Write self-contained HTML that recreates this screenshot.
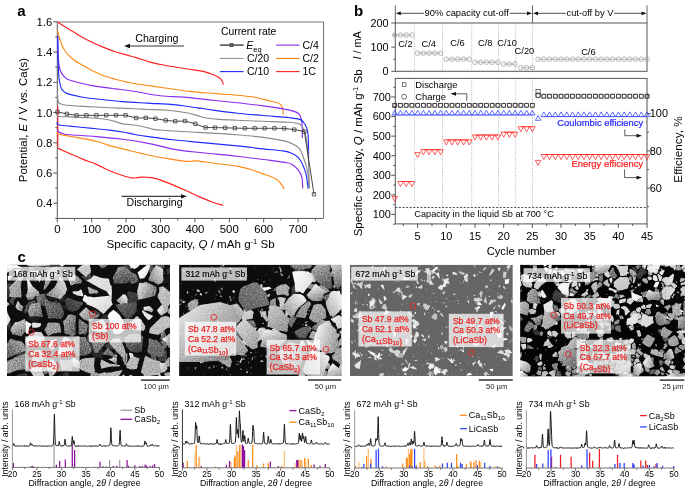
<!DOCTYPE html>
<html><head><meta charset="utf-8"><style>
html,body{margin:0;padding:0;background:#fff;width:685px;height:490px;overflow:hidden}
svg{display:block;will-change:transform}
text{font-family:"Liberation Sans", sans-serif}
</style></head><body>
<svg width="685" height="490" viewBox="0 0 685 490" font-family="Liberation Sans, sans-serif">
<rect width="685" height="490" fill="#fff"/>
<g id="pa">
<text x="17.2" y="16.2" font-size="15" font-weight="bold">a</text>
<path d="M57.3,22.0 H323.6" stroke="#a3a3a3" stroke-width="1.7" fill="none"/>
<path d="M323.6,22 V218.4" stroke="#6a6a6a" stroke-width="1" fill="none"/>
<path d="M57.3,21.8 V218.4 H323.4" fill="none" stroke="#555" stroke-width="1"/>
<text x="52.4" y="207.34" font-size="11.4" text-anchor="end">0.4</text>
<text x="52.4" y="177.1" font-size="11.4" text-anchor="end">0.6</text>
<text x="52.4" y="146.86" font-size="11.4" text-anchor="end">0.8</text>
<text x="52.4" y="116.62" font-size="11.4" text-anchor="end">1.0</text>
<text x="52.4" y="86.38" font-size="11.4" text-anchor="end">1.2</text>
<text x="52.4" y="56.14" font-size="11.4" text-anchor="end">1.4</text>
<text x="52.4" y="25.9" font-size="11.4" text-anchor="end">1.6</text>
<text x="57.3" y="232.7" font-size="11.4" text-anchor="middle">0</text>
<text x="91.7" y="232.7" font-size="11.4" text-anchor="middle">100</text>
<text x="126.1" y="232.7" font-size="11.4" text-anchor="middle">200</text>
<text x="160.5" y="232.7" font-size="11.4" text-anchor="middle">300</text>
<text x="194.9" y="232.7" font-size="11.4" text-anchor="middle">400</text>
<text x="229.3" y="232.7" font-size="11.4" text-anchor="middle">500</text>
<text x="263.7" y="232.7" font-size="11.4" text-anchor="middle">600</text>
<text x="298.1" y="232.7" font-size="11.4" text-anchor="middle">700</text>
<path d="M55.3,218.36 H57.3 M53.3,203.24 H57.3 M55.3,188.12 H57.3 M53.3,173 H57.3 M55.3,157.88 H57.3 M53.3,142.76 H57.3 M55.3,127.64 H57.3 M53.3,112.52 H57.3 M55.3,97.4 H57.3 M53.3,82.28 H57.3 M55.3,67.16 H57.3 M53.3,52.04 H57.3 M55.3,36.92 H57.3 M53.3,21.8 H57.3 M57.3,218.4 V222.4 M74.5,218.4 V220.4 M91.7,218.4 V222.4 M108.9,218.4 V220.4 M126.1,218.4 V222.4 M143.3,218.4 V220.4 M160.5,218.4 V222.4 M177.7,218.4 V220.4 M194.9,218.4 V222.4 M212.1,218.4 V220.4 M229.3,218.4 V222.4 M246.5,218.4 V220.4 M263.7,218.4 V222.4 M280.9,218.4 V220.4 M298.1,218.4 V222.4 M315.3,218.4 V220.4" stroke="#555" stroke-width="1" fill="none"/>
<text x="190.6" y="247.7" font-size="11.6" text-anchor="middle">Specific capacity, <tspan font-style="italic">Q</tspan> / mAh g<tspan font-size="7.5" dy="-4">-1</tspan><tspan dy="4"> Sb</tspan></text>
<g transform="translate(26.5,120.1) rotate(-90)"><text x="0" y="0" font-size="11.4" text-anchor="middle">Potential, <tspan font-style="italic">E</tspan> / V vs. Ca(s)</text></g>
<path d="M57.8,106 V147" stroke="#ff1f1f" stroke-width="1.1" fill="none"/>
<path d="M57.3,22.1 C58.17,22.62 60.6,24.07 62.5,25.2 C64.4,26.33 65.72,27.07 68.7,28.9 C71.68,30.73 76.52,33.98 80.4,36.2 C84.28,38.42 88.12,40.33 92,42.2 C95.88,44.07 99.8,45.8 103.7,47.4 C107.6,49 111.5,50.52 115.4,51.8 C119.3,53.08 123.5,54.08 127.1,55.1 C130.7,56.12 133.17,56.73 137,57.9 C140.83,59.07 145.72,60.92 150.1,62.1 C154.48,63.28 158.92,64.13 163.3,65 C167.68,65.87 172.02,66.58 176.4,67.3 C180.78,68.02 185.22,68.62 189.6,69.3 C193.98,69.98 199.2,70.65 202.7,71.4 C206.2,72.15 208.18,72.95 210.6,73.8 C213.02,74.65 215.45,75.57 217.2,76.5 C218.95,77.43 220.05,78.08 221.1,79.4 C222.15,80.72 223.1,83.57 223.5,84.4" stroke="#ff1f1f" stroke-width="1.15" fill="none" stroke-linejoin="round"/>
<path d="M57.5,30.6 C57.75,31.58 58.5,34.77 59,36.5 C59.5,38.23 59.92,39.38 60.5,41 C61.08,42.62 61.82,44.67 62.5,46.2 C63.18,47.73 63.57,48.68 64.6,50.2 C65.63,51.72 67.13,53.67 68.7,55.3 C70.27,56.93 72.05,58.55 74,60 C75.95,61.45 77.4,62.27 80.4,64 C83.4,65.73 88.12,68.45 92,70.4 C95.88,72.35 99.8,74.23 103.7,75.7 C107.6,77.17 111.5,78.13 115.4,79.2 C119.3,80.27 123.5,81.3 127.1,82.1 C130.7,82.9 130.97,83.07 137,84 C143.03,84.93 154.53,86.47 163.3,87.7 C172.07,88.93 180.85,90.42 189.6,91.4 C198.35,92.38 207.9,92.95 215.8,93.6 C223.7,94.25 230.47,94.68 237,95.3 C243.53,95.92 250.4,96.58 255,97.3 C259.6,98.02 261.77,98.9 264.6,99.6 C267.43,100.3 269.6,100.88 272,101.5 C274.4,102.12 277.28,102.35 279,103.3 C280.72,104.25 281.58,105.33 282.3,107.2 C283.02,109.07 283.13,113.28 283.3,114.5" stroke="#ff8a14" stroke-width="1.15" fill="none" stroke-linejoin="round"/>
<path d="M57.7,37 C57.75,39.5 57.82,47.67 58,52 C58.18,56.33 58.47,60.08 58.8,63 C59.13,65.92 59.52,67.77 60,69.5 C60.48,71.23 60.83,72.05 61.7,73.4 C62.57,74.75 64.03,76.53 65.2,77.6 C66.37,78.67 66.17,78.9 68.7,79.8 C71.23,80.7 76.52,82.03 80.4,83 C84.28,83.97 88.12,84.87 92,85.6 C95.88,86.33 99.8,86.85 103.7,87.4 C107.6,87.95 111.5,88.42 115.4,88.9 C119.3,89.38 123.5,89.82 127.1,90.3 C130.7,90.78 131.5,90.9 137,91.8 C142.5,92.7 151.87,94.77 160.1,95.7 C168.33,96.63 177.63,96.63 186.4,97.4 C195.17,98.17 204.27,99.4 212.7,100.3 C221.13,101.2 228.57,101.87 237,102.8 C245.43,103.73 255.63,104.88 263.3,105.9 C270.97,106.92 277.75,107.95 283,108.9 C288.25,109.85 292.17,110.78 294.8,111.6 C297.43,112.42 297.8,112.82 298.8,113.8 C299.8,114.78 300.28,115.97 300.8,117.5 C301.32,119.03 301.65,120.92 301.9,123 C302.15,125.08 302.23,127.48 302.3,130 C302.37,132.52 302.3,136.75 302.3,138.1" stroke="#8a2cf0" stroke-width="1.15" fill="none" stroke-linejoin="round"/>
<path d="M57.7,36 C57.77,40 57.92,53.33 58.1,60 C58.28,66.67 58.48,72 58.8,76 C59.12,80 59.52,81.82 60,84 C60.48,86.18 60.83,87.67 61.7,89.1 C62.57,90.53 64.03,91.77 65.2,92.6 C66.37,93.43 66.17,93.42 68.7,94.1 C71.23,94.78 76.52,95.97 80.4,96.7 C84.28,97.43 88.12,98 92,98.5 C95.88,99 98.58,99.18 103.7,99.7 C108.82,100.22 115.48,101.03 122.7,101.6 C129.92,102.17 138.57,102.6 147,103.1 C155.43,103.6 166.73,104.08 173.3,104.6 C179.87,105.12 182.02,105.62 186.4,106.2 C190.78,106.78 195.22,107.45 199.6,108.1 C203.98,108.75 206.47,109.25 212.7,110.1 C218.93,110.95 228.57,112.3 237,113.2 C245.43,114.1 254.53,114.75 263.3,115.5 C272.07,116.25 283.47,117.05 289.6,117.7 C295.73,118.35 297.7,118.52 300.1,119.4 C302.5,120.28 302.92,121.63 304,123 C305.08,124.37 305.93,125.73 306.6,127.6 C307.27,129.47 307.68,131.3 308,134.2 C308.32,137.1 308.4,141.03 308.5,145 C308.6,148.97 308.58,155.83 308.6,158" stroke="#1f2cff" stroke-width="1.15" fill="none" stroke-linejoin="round"/>
<path d="M57.6,95 C57.65,95.75 57.73,98.27 57.9,99.5 C58.07,100.73 58.17,101.68 58.6,102.4 C59.03,103.12 59.67,103.42 60.5,103.8 C61.33,104.18 62,104.42 63.6,104.7 C65.2,104.98 66.82,105.22 70.1,105.5 C73.38,105.78 76.72,106.03 83.3,106.4 C89.88,106.77 100.85,107.3 109.6,107.7 C118.35,108.1 129.57,108.5 135.8,108.8 C142.03,109.1 141.85,109.27 147,109.5 C152.15,109.73 160.13,109.67 166.7,110.2 C173.27,110.73 181.37,111.83 186.4,112.7 C191.43,113.57 193.62,114.52 196.9,115.4 C200.18,116.28 202.37,117.33 206.1,118 C209.83,118.67 214.15,119.02 219.3,119.4 C224.45,119.78 229.67,119.98 237,120.3 C244.33,120.62 254.53,120.97 263.3,121.3 C272.07,121.63 283.92,121.95 289.6,122.3 C295.28,122.65 295.43,122.85 297.4,123.4 C299.37,123.95 300.3,124.47 301.4,125.6 C302.5,126.73 303.23,128.3 304,130.2 C304.77,132.1 305.37,133.7 306,137 C306.63,140.3 307.33,144.83 307.8,150 C308.27,155.17 308.55,161.63 308.8,168 C309.05,174.37 309.22,184.83 309.3,188.2" stroke="#8a8a8a" stroke-width="1.15" fill="none" stroke-linejoin="round"/>
<path d="M57.6,113 C57.72,113.55 56.22,115.65 58.3,116.3 C60.38,116.95 65.93,116.68 70.1,116.9 C74.27,117.12 78.92,117.37 83.3,117.6 C87.68,117.83 92.02,117.9 96.4,118.3 C100.78,118.7 106.1,119.35 109.6,120 C113.1,120.65 115.22,121.55 117.4,122.2 C119.58,122.85 119.63,123.4 122.7,123.9 C125.77,124.4 131.75,124.58 135.8,125.2 C139.85,125.82 144.03,126.9 147,127.6 C149.97,128.3 150.32,128.92 153.6,129.4 C156.88,129.88 161.23,130.1 166.7,130.5 C172.17,130.9 178.73,131.37 186.4,131.8 C194.07,132.23 204.27,132.6 212.7,133.1 C221.13,133.6 228.57,134.08 237,134.8 C245.43,135.52 255.63,136.43 263.3,137.4 C270.97,138.37 278.62,139.73 283,140.6 C287.38,141.47 287.42,141.73 289.6,142.6 C291.78,143.47 294.35,144.63 296.1,145.8 C297.85,146.97 299,147.98 300.1,149.6 C301.2,151.22 301.62,152.55 302.7,155.5 C303.78,158.45 305.65,163.55 306.6,167.3 C307.55,171.05 307.97,174.5 308.4,178 C308.83,181.5 309.07,186.58 309.2,188.3" stroke="#8a8a8a" stroke-width="1.15" fill="none" stroke-linejoin="round"/>
<path d="M57.6,122 C57.72,122.47 56.22,124.12 58.3,124.8 C60.38,125.48 65.93,125.65 70.1,126.1 C74.27,126.55 78.92,127.05 83.3,127.5 C87.68,127.95 92.02,128.37 96.4,128.8 C100.78,129.23 105.22,129.57 109.6,130.1 C113.98,130.63 118.33,131.23 122.7,132 C127.07,132.77 131.75,133.97 135.8,134.7 C139.85,135.43 140.75,135.55 147,136.4 C153.25,137.25 164.53,138.8 173.3,139.8 C182.07,140.8 188.98,141.38 199.6,142.4 C210.22,143.42 226.38,144.82 237,145.9 C247.62,146.98 255.63,148.07 263.3,148.9 C270.97,149.73 278.18,150.13 283,150.9 C287.82,151.67 289.57,152.3 292.2,153.5 C294.83,154.7 297.05,156.23 298.8,158.1 C300.55,159.97 301.5,162.07 302.7,164.7 C303.9,167.33 305.18,170.62 306,173.9 C306.82,177.18 307.27,181.95 307.6,184.4 C307.93,186.85 307.93,187.9 308,188.6" stroke="#1f2cff" stroke-width="1.15" fill="none" stroke-linejoin="round"/>
<path d="M57.6,129 C57.72,129.47 57.3,130.97 58.3,131.8 C59.3,132.63 61.63,133.52 63.6,134 C65.57,134.48 64.63,134.27 70.1,134.7 C75.57,135.13 87.63,135.83 96.4,136.6 C105.17,137.37 114.27,138.22 122.7,139.3 C131.13,140.38 138.57,141.47 147,143.1 C155.43,144.73 164.53,147.53 173.3,149.1 C182.07,150.67 188.98,151.32 199.6,152.5 C210.22,153.68 226.38,155.03 237,156.2 C247.62,157.37 254.98,158.42 263.3,159.5 C271.62,160.58 281.87,161.72 286.9,162.7 C291.93,163.68 291.52,164.08 293.5,165.4 C295.48,166.72 297.38,168.52 298.8,170.6 C300.22,172.68 301.35,174.93 302,177.9 C302.65,180.87 302.58,186.65 302.7,188.4" stroke="#8a2cf0" stroke-width="1.15" fill="none" stroke-linejoin="round"/>
<path d="M57.6,132 C57.72,132.33 56.22,133.28 58.3,134 C60.38,134.72 65.93,135.53 70.1,136.3 C74.27,137.07 78.92,137.77 83.3,138.6 C87.68,139.43 92.9,140.45 96.4,141.3 C99.9,142.15 102.1,142.98 104.3,143.7 C106.5,144.42 105.43,144.47 109.6,145.6 C113.77,146.73 123.07,148.98 129.3,150.5 C135.53,152.02 140.77,153.38 147,154.7 C153.23,156.02 160.57,157.33 166.7,158.4 C172.83,159.47 179.92,160.62 183.8,161.1 C187.68,161.58 187.82,161.33 190,161.3 C192.18,161.27 193.12,160.62 196.9,160.9 C200.68,161.18 206.02,162.13 212.7,163 C219.38,163.87 230.77,165.05 237,166.1 C243.23,167.15 245.72,168 250.1,169.3 C254.48,170.6 259.13,172.37 263.3,173.9 C267.47,175.43 272.25,176.97 275.1,178.5 C277.95,180.03 278.87,181.35 280.4,183.1 C281.93,184.85 283.65,188.02 284.3,189" stroke="#ff8a14" stroke-width="1.15" fill="none" stroke-linejoin="round"/>
<path d="M57.7,147.9 C58.58,148.35 60.93,149.62 63,150.6 C65.07,151.58 66.72,152.33 70.1,153.8 C73.48,155.27 78.92,157.63 83.3,159.4 C87.68,161.17 92.02,162.5 96.4,164.4 C100.78,166.3 105.22,168.95 109.6,170.8 C113.98,172.65 118.98,174.32 122.7,175.5 C126.42,176.68 129.52,177.55 131.9,177.9 C134.28,178.25 135.25,177.73 137,177.6 C138.75,177.47 140.73,177.15 142.4,177.1 C144.07,177.05 145.13,177.13 147,177.3 C148.87,177.47 151.42,177.67 153.6,178.1 C155.78,178.53 156.82,178.73 160.1,179.9 C163.38,181.07 168.92,183.28 173.3,185.1 C177.68,186.92 182.02,188.83 186.4,190.8 C190.78,192.77 195.22,195 199.6,196.9 C203.98,198.8 208.77,200.78 212.7,202.2 C216.63,203.62 221.45,204.87 223.2,205.4" stroke="#ff1f1f" stroke-width="1.15" fill="none" stroke-linejoin="round"/>
<path d="M57.5,111.9 L66.9,113.9 L76.5,115.3 L86.4,115.3 L96.4,115.3 L106.2,115.3 L116,115.3 L125.6,115.3 L136.1,118 L145.8,117.8 L155.5,118.7 L165.7,120.4 L175.3,121.3 L185.1,121 L195.4,123.9 L205.5,127.5 L215.1,127.6 L225.2,127.8 L234.8,128.1 L244.9,128.3 L254.7,128.3 L264.6,128.3 L274.5,128.3 L284.3,128.4 L294.2,129.6 L304.4,131.6 L314,194.3" stroke="#333" stroke-width="0.9" fill="none"/>
<path d="M55.8,110.2 h3.4 v3.4 h-3.4 Z M65.2,112.2 h3.4 v3.4 h-3.4 Z M74.8,113.6 h3.4 v3.4 h-3.4 Z M84.7,113.6 h3.4 v3.4 h-3.4 Z M94.7,113.6 h3.4 v3.4 h-3.4 Z M104.5,113.6 h3.4 v3.4 h-3.4 Z M114.3,113.6 h3.4 v3.4 h-3.4 Z M123.9,113.6 h3.4 v3.4 h-3.4 Z M134.4,116.3 h3.4 v3.4 h-3.4 Z M144.1,116.1 h3.4 v3.4 h-3.4 Z M153.8,117 h3.4 v3.4 h-3.4 Z M164,118.7 h3.4 v3.4 h-3.4 Z M173.6,119.6 h3.4 v3.4 h-3.4 Z M183.4,119.3 h3.4 v3.4 h-3.4 Z M193.7,122.2 h3.4 v3.4 h-3.4 Z M203.8,125.8 h3.4 v3.4 h-3.4 Z M213.4,125.9 h3.4 v3.4 h-3.4 Z M223.5,126.1 h3.4 v3.4 h-3.4 Z M233.1,126.4 h3.4 v3.4 h-3.4 Z M243.2,126.6 h3.4 v3.4 h-3.4 Z M253,126.6 h3.4 v3.4 h-3.4 Z M262.9,126.6 h3.4 v3.4 h-3.4 Z M272.8,126.6 h3.4 v3.4 h-3.4 Z M282.6,126.7 h3.4 v3.4 h-3.4 Z M292.5,127.9 h3.4 v3.4 h-3.4 Z M302.7,129.9 h3.4 v3.4 h-3.4 Z M312.3,192.6 h3.4 v3.4 h-3.4 Z" stroke="#333" stroke-width="0.75" fill="none"/>
<text x="135.2" y="41.9" font-size="10.7">Charging</text>
<path d="M128.5,46 H184" stroke="#777" stroke-width="1.4"/>
<path d="M124,46 L130,43.8 L130,48.2 Z" fill="#111"/>
<path d="M121.6,196.3 H182" stroke="#111" stroke-width="1"/>
<path d="M187,196.3 L181,194.2 L181,198.4 Z" fill="#111"/>
<text x="126.6" y="206.4" font-size="10.6">Discharging</text>
<text x="220.9" y="35.1" font-size="10.4">Current rate</text>
<path d="M219.8,45.1 H243.6" stroke="#555" stroke-width="1.6"/>
<rect x="229.9" y="43.5" width="3.2" height="3.2" fill="#666" stroke="#333" stroke-width="0.6"/>
<path d="M219.8,58.4 H243.6" stroke="#8a8a8a" stroke-width="1"/>
<path d="M219.8,71.6 H243.6" stroke="#1f2cff" stroke-width="1.1"/>
<path d="M276,45.1 H299.6" stroke="#8a2cf0" stroke-width="1.1"/>
<path d="M276,58.4 H299.6" stroke="#ff8a14" stroke-width="1.1"/>
<path d="M276,71.6 H299.6" stroke="#ff1f1f" stroke-width="1.1"/>
<text x="246.3" y="48.9" font-size="10.5"><tspan font-style="italic">E</tspan><tspan font-size="7.5" dy="3">eq</tspan></text>
<text x="247" y="62" font-size="10.5">C/20</text>
<text x="247" y="75" font-size="10.5">C/10</text>
<text x="302.5" y="48.9" font-size="10.5">C/4</text>
<text x="302.5" y="62" font-size="10.5">C/2</text>
<text x="302.5" y="75" font-size="10.5">1C</text>
</g>
<g id="pb">
<text x="353.9" y="16.3" font-size="15" font-weight="bold">b</text>
<path d="M395.3,5.3 V23 M532.5,5.3 V23 M647,5.3 V23" stroke="#555" stroke-width="0.9"/>
<path d="M399,13.3 H424 M509.5,13.3 H529 M536,13.3 H566 M614,13.3 H643.5" stroke="#222" stroke-width="0.8"/>
<path d="M395.8,13.3 L400.8,11.4 L400.8,15.2 Z" fill="#111"/>
<path d="M532,13.3 L527,11.4 L527,15.2 Z" fill="#111"/>
<path d="M533,13.3 L538,11.4 L538,15.2 Z" fill="#111"/>
<path d="M646.5,13.3 L641.5,11.4 L641.5,15.2 Z" fill="#111"/>
<text x="424.6" y="16.1" font-size="9.4">90% capacity cut-off</text>
<text x="566.5" y="16.1" font-size="9.3">cut-off by V</text>
<rect x="395.3" y="23" width="251.7" height="48.3" fill="none" stroke="#555" stroke-width="1"/>
<rect x="395.3" y="78.4" width="251.7" height="145.5" fill="none" stroke="#555" stroke-width="1"/>
<path d="M414.6,23 V71.3 M414.6,78.4 V207.5 M442.5,23 V71.3 M442.5,78.4 V207.5 M471.7,23 V71.3 M471.7,78.4 V207.5 M498.5,23 V71.3 M498.5,78.4 V207.5 M515.7,23 V71.3 M515.7,78.4 V207.5 M532.5,23 V71.3 M532.5,78.4 V207.5" stroke="#999" stroke-width="0.7" stroke-dasharray="1,1.3"/>
<text x="388.6" y="75.1" font-size="10.9" text-anchor="end">0</text>
<text x="388.6" y="50.95" font-size="10.9" text-anchor="end">100</text>
<text x="388.6" y="26.8" font-size="10.9" text-anchor="end">200</text>
<text x="390.9" y="218.22" font-size="10.9" text-anchor="end">100</text>
<text x="390.9" y="198.65" font-size="10.9" text-anchor="end">200</text>
<text x="390.9" y="179.08" font-size="10.9" text-anchor="end">300</text>
<text x="390.9" y="159.51" font-size="10.9" text-anchor="end">400</text>
<text x="390.9" y="139.94" font-size="10.9" text-anchor="end">500</text>
<text x="390.9" y="120.37" font-size="10.9" text-anchor="end">600</text>
<text x="390.9" y="100.8" font-size="10.9" text-anchor="end">700</text>
<text x="649.8" y="191.9" font-size="10.9">60</text>
<text x="649.8" y="154.65" font-size="10.9">80</text>
<text x="649.8" y="117.4" font-size="10.9">100</text>
<text x="417.64" y="239.6" font-size="10.9" text-anchor="middle">5</text>
<text x="446.31" y="239.6" font-size="10.9" text-anchor="middle">10</text>
<text x="474.99" y="239.6" font-size="10.9" text-anchor="middle">15</text>
<text x="503.66" y="239.6" font-size="10.9" text-anchor="middle">20</text>
<text x="532.34" y="239.6" font-size="10.9" text-anchor="middle">25</text>
<text x="561.01" y="239.6" font-size="10.9" text-anchor="middle">30</text>
<text x="589.69" y="239.6" font-size="10.9" text-anchor="middle">35</text>
<text x="618.37" y="239.6" font-size="10.9" text-anchor="middle">40</text>
<text x="647.04" y="239.6" font-size="10.9" text-anchor="middle">45</text>
<path d="M391.3,71.3 H395.3 M393.3,59.22 H395.3 M391.3,47.15 H395.3 M393.3,35.07 H395.3 M391.3,23 H395.3 M393.3,224.21 H395.3 M391.3,214.42 H395.3 M393.3,204.63 H395.3 M391.3,194.85 H395.3 M393.3,185.06 H395.3 M391.3,175.28 H395.3 M393.3,165.5 H395.3 M391.3,155.71 H395.3 M393.3,145.93 H395.3 M391.3,136.14 H395.3 M393.3,126.36 H395.3 M391.3,116.57 H395.3 M393.3,106.78 H395.3 M391.3,97 H395.3 M393.3,87.22 H395.3 M647,206.72 H649 M647,188.1 H651 M647,169.47 H649 M647,150.85 H651 M647,132.22 H649 M647,113.6 H651 M647,94.97 H649 M403.3,223.9 V225.9 M417.64,223.9 V227.9 M431.98,223.9 V225.9 M446.31,223.9 V227.9 M460.65,223.9 V225.9 M474.99,223.9 V227.9 M489.33,223.9 V225.9 M503.66,223.9 V227.9 M518,223.9 V225.9 M532.34,223.9 V227.9 M546.68,223.9 V225.9 M561.01,223.9 V227.9 M575.35,223.9 V225.9 M589.69,223.9 V227.9 M604.03,223.9 V225.9 M618.37,223.9 V227.9 M632.7,223.9 V225.9 M647.04,223.9 V227.9" stroke="#555" stroke-width="1" fill="none"/>
<text x="521.2" y="254.6" font-size="11.2" text-anchor="middle">Cycle number</text>
<g transform="translate(362.2,152.9) rotate(-90)"><text x="0" y="0" font-size="11.5" text-anchor="middle">Specific capacity, <tspan font-style="italic">Q</tspan> / mAh g<tspan font-size="7.5" dy="-4">-1</tspan><tspan dy="4"> Sb</tspan></text></g>
<g transform="translate(361.3,45.4) rotate(-90)"><text x="0" y="0" font-size="10.9" text-anchor="middle"><tspan font-style="italic">I</tspan> / mA</text></g>
<g transform="translate(682.4,149.5) rotate(-90)"><text x="0" y="0" font-size="11.8" text-anchor="middle">Efficiency, %</text></g>
<text x="405.4" y="47" font-size="9.3" text-anchor="middle">C/2</text>
<text x="428.8" y="47" font-size="9.3" text-anchor="middle">C/4</text>
<text x="457.5" y="46.3" font-size="9.3" text-anchor="middle">C/6</text>
<text x="485.2" y="46.3" font-size="9.3" text-anchor="middle">C/8</text>
<text x="507.1" y="46.3" font-size="9.3" text-anchor="middle">C/10</text>
<text x="524.4" y="54.2" font-size="9.3" text-anchor="middle">C/20</text>
<text x="588.4" y="55" font-size="9.3" text-anchor="middle">C/6</text>
<path d="M394.7,35.07 L400.44,35.07 L406.17,35.07 L411.9,35.07 M417.64,53.19 L423.38,53.19 L429.11,53.19 L434.84,53.19 L440.58,53.19 M446.31,59.22 L452.05,59.22 L457.78,59.22 L463.52,59.22 L469.25,59.22 M474.99,62.24 L480.73,62.24 L486.46,62.24 L492.19,62.24 L497.93,62.24 M503.66,64.05 L509.4,64.05 L515.13,64.05 M520.87,67.68 L526.61,67.68 L532.34,67.68 M538.08,59.22 L543.81,59.22 L549.54,59.22 L555.28,59.22 L561.01,59.22 L566.75,59.22 L572.49,59.22 L578.22,59.22 L583.96,59.22 L589.69,59.22 L595.42,59.22 L601.16,59.22 L606.89,59.22 L612.63,59.22 L618.37,59.22 L624.1,59.22 L629.84,59.22 L635.57,59.22 L641.31,59.22 L647.04,59.22" stroke="#999" stroke-width="0.7" fill="none"/>
<g fill="none" stroke="#999" stroke-width="0.7"><circle cx="394.7" cy="35.07" r="2.3"/><circle cx="400.44" cy="35.07" r="2.3"/><circle cx="406.17" cy="35.07" r="2.3"/><circle cx="411.9" cy="35.07" r="2.3"/><circle cx="417.64" cy="53.19" r="2.3"/><circle cx="423.38" cy="53.19" r="2.3"/><circle cx="429.11" cy="53.19" r="2.3"/><circle cx="434.84" cy="53.19" r="2.3"/><circle cx="440.58" cy="53.19" r="2.3"/><circle cx="446.31" cy="59.22" r="2.3"/><circle cx="452.05" cy="59.22" r="2.3"/><circle cx="457.78" cy="59.22" r="2.3"/><circle cx="463.52" cy="59.22" r="2.3"/><circle cx="469.25" cy="59.22" r="2.3"/><circle cx="474.99" cy="62.24" r="2.3"/><circle cx="480.73" cy="62.24" r="2.3"/><circle cx="486.46" cy="62.24" r="2.3"/><circle cx="492.19" cy="62.24" r="2.3"/><circle cx="497.93" cy="62.24" r="2.3"/><circle cx="503.66" cy="64.05" r="2.3"/><circle cx="509.4" cy="64.05" r="2.3"/><circle cx="515.13" cy="64.05" r="2.3"/><circle cx="520.87" cy="67.68" r="2.3"/><circle cx="526.61" cy="67.68" r="2.3"/><circle cx="532.34" cy="67.68" r="2.3"/><circle cx="538.08" cy="59.22" r="2.3"/><circle cx="543.81" cy="59.22" r="2.3"/><circle cx="549.54" cy="59.22" r="2.3"/><circle cx="555.28" cy="59.22" r="2.3"/><circle cx="561.01" cy="59.22" r="2.3"/><circle cx="566.75" cy="59.22" r="2.3"/><circle cx="572.49" cy="59.22" r="2.3"/><circle cx="578.22" cy="59.22" r="2.3"/><circle cx="583.96" cy="59.22" r="2.3"/><circle cx="589.69" cy="59.22" r="2.3"/><circle cx="595.42" cy="59.22" r="2.3"/><circle cx="601.16" cy="59.22" r="2.3"/><circle cx="606.89" cy="59.22" r="2.3"/><circle cx="612.63" cy="59.22" r="2.3"/><circle cx="618.37" cy="59.22" r="2.3"/><circle cx="624.1" cy="59.22" r="2.3"/><circle cx="629.84" cy="59.22" r="2.3"/><circle cx="635.57" cy="59.22" r="2.3"/><circle cx="641.31" cy="59.22" r="2.3"/><circle cx="647.04" cy="59.22" r="2.3"/></g>
<g fill="none" stroke="#333" stroke-width="0.7">
<rect x="392.75" y="103.35" width="3.9" height="3.9"/><rect x="398.49" y="103.35" width="3.9" height="3.9"/><rect x="404.22" y="103.35" width="3.9" height="3.9"/><rect x="409.95" y="103.35" width="3.9" height="3.9"/><rect x="415.69" y="103.35" width="3.9" height="3.9"/><rect x="421.43" y="103.35" width="3.9" height="3.9"/><rect x="427.16" y="103.35" width="3.9" height="3.9"/><rect x="432.89" y="103.35" width="3.9" height="3.9"/><rect x="438.63" y="103.35" width="3.9" height="3.9"/><rect x="444.37" y="103.35" width="3.9" height="3.9"/><rect x="450.1" y="103.35" width="3.9" height="3.9"/><rect x="455.83" y="103.35" width="3.9" height="3.9"/><rect x="461.57" y="103.35" width="3.9" height="3.9"/><rect x="467.31" y="103.35" width="3.9" height="3.9"/><rect x="473.04" y="103.35" width="3.9" height="3.9"/><rect x="478.78" y="103.35" width="3.9" height="3.9"/><rect x="484.51" y="103.35" width="3.9" height="3.9"/><rect x="490.25" y="103.35" width="3.9" height="3.9"/><rect x="495.98" y="103.35" width="3.9" height="3.9"/><rect x="501.71" y="103.35" width="3.9" height="3.9"/><rect x="507.45" y="103.35" width="3.9" height="3.9"/><rect x="513.18" y="103.35" width="3.9" height="3.9"/><rect x="518.92" y="103.35" width="3.9" height="3.9"/><rect x="524.65" y="103.35" width="3.9" height="3.9"/><rect x="530.39" y="103.35" width="3.9" height="3.9"/><rect x="541.86" y="94.25" width="3.9" height="3.9"/><rect x="547.59" y="94.25" width="3.9" height="3.9"/><rect x="553.33" y="94.25" width="3.9" height="3.9"/><rect x="559.06" y="94.25" width="3.9" height="3.9"/><rect x="564.8" y="94.25" width="3.9" height="3.9"/><rect x="570.53" y="94.25" width="3.9" height="3.9"/><rect x="576.27" y="94.25" width="3.9" height="3.9"/><rect x="582" y="94.25" width="3.9" height="3.9"/><rect x="587.74" y="94.25" width="3.9" height="3.9"/><rect x="593.47" y="94.25" width="3.9" height="3.9"/><rect x="599.21" y="94.25" width="3.9" height="3.9"/><rect x="604.94" y="94.25" width="3.9" height="3.9"/><rect x="610.68" y="94.25" width="3.9" height="3.9"/><rect x="616.41" y="94.25" width="3.9" height="3.9"/><rect x="622.15" y="94.25" width="3.9" height="3.9"/><rect x="627.88" y="94.25" width="3.9" height="3.9"/><rect x="633.62" y="94.25" width="3.9" height="3.9"/><rect x="639.36" y="94.25" width="3.9" height="3.9"/><rect x="645.09" y="94.25" width="3.9" height="3.9"/>
<circle cx="394.7" cy="105.3" r="2.1"/><circle cx="400.44" cy="105.3" r="2.1"/><circle cx="406.17" cy="105.3" r="2.1"/><circle cx="411.9" cy="105.3" r="2.1"/><circle cx="417.64" cy="105.3" r="2.1"/><circle cx="423.38" cy="105.3" r="2.1"/><circle cx="429.11" cy="105.3" r="2.1"/><circle cx="434.84" cy="105.3" r="2.1"/><circle cx="440.58" cy="105.3" r="2.1"/><circle cx="446.31" cy="105.3" r="2.1"/><circle cx="452.05" cy="105.3" r="2.1"/><circle cx="457.78" cy="105.3" r="2.1"/><circle cx="463.52" cy="105.3" r="2.1"/><circle cx="469.25" cy="105.3" r="2.1"/><circle cx="474.99" cy="105.3" r="2.1"/><circle cx="480.73" cy="105.3" r="2.1"/><circle cx="486.46" cy="105.3" r="2.1"/><circle cx="492.19" cy="105.3" r="2.1"/><circle cx="497.93" cy="105.3" r="2.1"/><circle cx="503.66" cy="105.3" r="2.1"/><circle cx="509.4" cy="105.3" r="2.1"/><circle cx="515.13" cy="105.3" r="2.1"/><circle cx="520.87" cy="105.3" r="2.1"/><circle cx="526.61" cy="105.3" r="2.1"/><circle cx="532.34" cy="105.3" r="2.1"/><circle cx="543.81" cy="96.2" r="2.1"/><circle cx="549.54" cy="96.2" r="2.1"/><circle cx="555.28" cy="96.2" r="2.1"/><circle cx="561.01" cy="96.2" r="2.1"/><circle cx="566.75" cy="96.2" r="2.1"/><circle cx="572.49" cy="96.2" r="2.1"/><circle cx="578.22" cy="96.2" r="2.1"/><circle cx="583.96" cy="96.2" r="2.1"/><circle cx="589.69" cy="96.2" r="2.1"/><circle cx="595.42" cy="96.2" r="2.1"/><circle cx="601.16" cy="96.2" r="2.1"/><circle cx="606.89" cy="96.2" r="2.1"/><circle cx="612.63" cy="96.2" r="2.1"/><circle cx="618.37" cy="96.2" r="2.1"/><circle cx="624.1" cy="96.2" r="2.1"/><circle cx="629.84" cy="96.2" r="2.1"/><circle cx="635.57" cy="96.2" r="2.1"/><circle cx="641.31" cy="96.2" r="2.1"/><circle cx="647.04" cy="96.2" r="2.1"/>
<rect x="535.98" y="89.6" width="4.2" height="4.2"/><rect x="535.98" y="93.2" width="4.2" height="4.2"/><circle cx="538.08" cy="95.3" r="2.3"/>
</g>
<path d="M394.7,115 L400.44,115 L406.17,115 L411.9,115 L417.64,115 L423.38,115 L429.11,115 L434.84,115 L440.58,115 L446.31,115 L452.05,115 L457.78,115 L463.52,115 L469.25,115 L474.99,115 L480.73,115 L486.46,115 L492.19,115 L497.93,115 L503.66,115 L509.4,115 L515.13,115 L520.87,115 L526.61,115 L532.34,115 M543.81,116.6 L549.54,116.6 L555.28,116.6 L561.01,116.6 L566.75,116.6 L572.49,116.6 L578.22,116.6 L583.96,116.6 L589.69,116.6 L595.42,116.6 L601.16,116.6 L606.89,116.6 L612.63,116.6 L618.37,116.6 L624.1,116.6 L629.84,116.6 L635.57,116.6 L641.31,116.6 L647.04,116.6" stroke="#2a3cff" stroke-width="0.6" fill="none" opacity="0.8"/>
<path d="M392,115 L397.4,115 L394.7,110.3 Z M397.74,115 L403.13,115 L400.44,110.3 Z M403.47,115 L408.87,115 L406.17,110.3 Z M409.2,115 L414.6,115 L411.9,110.3 Z M414.94,115 L420.34,115 L417.64,110.3 Z M420.68,115 L426.07,115 L423.38,110.3 Z M426.41,115 L431.81,115 L429.11,110.3 Z M432.14,115 L437.54,115 L434.84,110.3 Z M437.88,115 L443.28,115 L440.58,110.3 Z M443.62,115 L449.01,115 L446.31,110.3 Z M449.35,115 L454.75,115 L452.05,110.3 Z M455.08,115 L460.48,115 L457.78,110.3 Z M460.82,115 L466.22,115 L463.52,110.3 Z M466.56,115 L471.95,115 L469.25,110.3 Z M472.29,115 L477.69,115 L474.99,110.3 Z M478.03,115 L483.43,115 L480.73,110.3 Z M483.76,115 L489.16,115 L486.46,110.3 Z M489.5,115 L494.89,115 L492.19,110.3 Z M495.23,115 L500.63,115 L497.93,110.3 Z M500.96,115 L506.36,115 L503.66,110.3 Z M506.7,115 L512.1,115 L509.4,110.3 Z M512.43,115 L517.84,115 L515.13,110.3 Z M518.17,115 L523.57,115 L520.87,110.3 Z M523.9,115 L529.31,115 L526.61,110.3 Z M529.64,115 L535.04,115 L532.34,110.3 Z M535.38,120.3 L540.78,120.3 L538.08,115.6 Z M541.11,116.6 L546.51,116.6 L543.81,111.9 Z M546.84,116.6 L552.25,116.6 L549.54,111.9 Z M552.58,116.6 L557.98,116.6 L555.28,111.9 Z M558.31,116.6 L563.72,116.6 L561.01,111.9 Z M564.05,116.6 L569.45,116.6 L566.75,111.9 Z M569.78,116.6 L575.19,116.6 L572.49,111.9 Z M575.52,116.6 L580.92,116.6 L578.22,111.9 Z M581.25,116.6 L586.66,116.6 L583.96,111.9 Z M586.99,116.6 L592.39,116.6 L589.69,111.9 Z M592.72,116.6 L598.12,116.6 L595.42,111.9 Z M598.46,116.6 L603.86,116.6 L601.16,111.9 Z M604.19,116.6 L609.6,116.6 L606.89,111.9 Z M609.93,116.6 L615.33,116.6 L612.63,111.9 Z M615.66,116.6 L621.07,116.6 L618.37,111.9 Z M621.4,116.6 L626.8,116.6 L624.1,111.9 Z M627.13,116.6 L632.54,116.6 L629.84,111.9 Z M632.87,116.6 L638.27,116.6 L635.57,111.9 Z M638.61,116.6 L644.01,116.6 L641.31,111.9 Z M644.34,116.6 L649.74,116.6 L647.04,111.9 Z" stroke="#2a3cff" stroke-width="0.75" fill="none"/>
<path d="M400.44,181.5 L406.17,181.5 L411.9,181.5 M423.38,149.7 L429.11,149.7 L434.84,149.7 L440.58,149.7 M446.31,139.9 L452.05,139.9 L457.78,139.9 L463.52,139.9 L469.25,139.9 M474.99,135 L480.73,135 L486.46,135 L492.19,135 L497.93,135 M503.66,132.2 L509.4,132.2 L515.13,132.2 M520.87,126.7 L526.61,126.7 L532.34,126.7 M543.81,154.5 L549.54,154.5 L555.28,154.5 L561.01,154.5 L566.75,154.5 L572.49,154.5 L578.22,154.5 L583.96,154.5 L589.69,154.5 L595.42,154.5 L601.16,154.5 L606.89,154.5 L612.63,154.5 L618.37,154.5 L624.1,154.5 L629.84,154.5 L635.57,154.5 L641.31,154.5 L647.04,154.5" stroke="#ff2a2a" stroke-width="0.8" fill="none"/>
<path d="M391.9,196.4 L397.5,196.4 L394.7,201.5 Z M397.63,181.5 L403.24,181.5 L400.44,186.6 Z M403.37,181.5 L408.97,181.5 L406.17,186.6 Z M409.1,181.5 L414.7,181.5 L411.9,186.6 Z M414.84,152.6 L420.44,152.6 L417.64,157.7 Z M420.57,149.7 L426.18,149.7 L423.38,154.8 Z M426.31,149.7 L431.91,149.7 L429.11,154.8 Z M432.04,149.7 L437.64,149.7 L434.84,154.8 Z M437.78,149.7 L443.38,149.7 L440.58,154.8 Z M443.51,139.9 L449.12,139.9 L446.31,145 Z M449.25,139.9 L454.85,139.9 L452.05,145 Z M454.98,139.9 L460.58,139.9 L457.78,145 Z M460.72,139.9 L466.32,139.9 L463.52,145 Z M466.45,139.9 L472.06,139.9 L469.25,145 Z M472.19,135 L477.79,135 L474.99,140.1 Z M477.93,135 L483.53,135 L480.73,140.1 Z M483.66,135 L489.26,135 L486.46,140.1 Z M489.39,135 L495,135 L492.19,140.1 Z M495.13,135 L500.73,135 L497.93,140.1 Z M500.86,132.2 L506.46,132.2 L503.66,137.3 Z M506.6,132.2 L512.2,132.2 L509.4,137.3 Z M512.34,132.2 L517.93,132.2 L515.13,137.3 Z M518.07,126.7 L523.67,126.7 L520.87,131.8 Z M523.81,126.7 L529.4,126.7 L526.61,131.8 Z M529.54,126.7 L535.14,126.7 L532.34,131.8 Z M535.28,160.4 L540.88,160.4 L538.08,165.5 Z M541.01,154.5 L546.61,154.5 L543.81,159.6 Z M546.75,154.5 L552.34,154.5 L549.54,159.6 Z M552.48,154.5 L558.08,154.5 L555.28,159.6 Z M558.22,154.5 L563.81,154.5 L561.01,159.6 Z M563.95,154.5 L569.55,154.5 L566.75,159.6 Z M569.69,154.5 L575.28,154.5 L572.49,159.6 Z M575.42,154.5 L581.02,154.5 L578.22,159.6 Z M581.16,154.5 L586.75,154.5 L583.96,159.6 Z M586.89,154.5 L592.49,154.5 L589.69,159.6 Z M592.62,154.5 L598.22,154.5 L595.42,159.6 Z M598.36,154.5 L603.96,154.5 L601.16,159.6 Z M604.1,154.5 L609.69,154.5 L606.89,159.6 Z M609.83,154.5 L615.43,154.5 L612.63,159.6 Z M615.57,154.5 L621.16,154.5 L618.37,159.6 Z M621.3,154.5 L626.9,154.5 L624.1,159.6 Z M627.04,154.5 L632.63,154.5 L629.84,159.6 Z M632.77,154.5 L638.37,154.5 L635.57,159.6 Z M638.51,154.5 L644.11,154.5 L641.31,159.6 Z M644.24,154.5 L649.84,154.5 L647.04,159.6 Z" stroke="#ff2a2a" stroke-width="0.75" fill="none"/>
<path d="M395.3,207.5 H647" stroke="#222" stroke-width="0.8" stroke-dasharray="2,1.6"/>
<text x="414.3" y="216.9" font-size="9.2">Capacity in the liquid Sb at 700 °C</text>
<rect x="402.4" y="82.8" width="3.6" height="3.6" fill="none" stroke="#444" stroke-width="0.7"/>
<circle cx="404.1" cy="96.7" r="2.4" fill="none" stroke="#333" stroke-width="0.7"/>
<text x="415.3" y="87.5" font-size="9.4">Discharge</text>
<text x="415.3" y="99.6" font-size="9.4">Charge</text>
<path d="M455,93.8 H466.8 V100.7" stroke="#333" stroke-width="0.8" fill="none"/>
<path d="M450.5,93.8 L456,91.9 L456,95.7 Z" fill="#111"/>
<text x="557.3" y="125.7" font-size="9.4" fill="#1f1fff" stroke="#1f1fff" stroke-width="0.2">Coulombic efficiency</text>
<path d="M624.8,129.5 V135.7 H637" stroke="#333" stroke-width="0.8" fill="none"/>
<path d="M642,135.7 L636.5,133.8 L636.5,137.6 Z" fill="#111"/>
<text x="571.4" y="167.1" font-size="9.45" fill="#ff1a1a" stroke="#ff1a1a" stroke-width="0.2">Energy efficiency</text>
<path d="M624.6,169.4 V177.6 H637" stroke="#333" stroke-width="0.8" fill="none"/>
<path d="M642,177.6 L636.5,175.7 L636.5,179.5 Z" fill="#111"/>
</g>
<g id="pc"><defs><linearGradient id="ga0_0" x1="0" y1="0" x2="1" y2="1"><stop offset="0" stop-color="#000000"/><stop offset="1" stop-color="#000000"/></linearGradient><linearGradient id="ga0_1" x1="0.3" y1="0" x2="0.7" y2="1"><stop offset="0" stop-color="#000000"/><stop offset="1" stop-color="#000000"/></linearGradient><linearGradient id="ga0_2" x1="0" y1="0.3" x2="1" y2="0.7"><stop offset="0" stop-color="#000000"/><stop offset="1" stop-color="#000000"/></linearGradient><linearGradient id="ga0_3" x1="1" y1="0" x2="0" y2="1"><stop offset="0" stop-color="#000000"/><stop offset="1" stop-color="#000000"/></linearGradient><linearGradient id="ga12_0" x1="0" y1="0" x2="1" y2="1"><stop offset="0" stop-color="#101010"/><stop offset="1" stop-color="#080808"/></linearGradient><linearGradient id="ga12_1" x1="0.3" y1="0" x2="0.7" y2="1"><stop offset="0" stop-color="#101010"/><stop offset="1" stop-color="#080808"/></linearGradient><linearGradient id="ga12_2" x1="0" y1="0.3" x2="1" y2="0.7"><stop offset="0" stop-color="#101010"/><stop offset="1" stop-color="#080808"/></linearGradient><linearGradient id="ga12_3" x1="1" y1="0" x2="0" y2="1"><stop offset="0" stop-color="#101010"/><stop offset="1" stop-color="#080808"/></linearGradient><linearGradient id="ga24_0" x1="0" y1="0" x2="1" y2="1"><stop offset="0" stop-color="#202020"/><stop offset="1" stop-color="#101010"/></linearGradient><linearGradient id="ga24_1" x1="0.3" y1="0" x2="0.7" y2="1"><stop offset="0" stop-color="#202020"/><stop offset="1" stop-color="#101010"/></linearGradient><linearGradient id="ga24_2" x1="0" y1="0.3" x2="1" y2="0.7"><stop offset="0" stop-color="#202020"/><stop offset="1" stop-color="#101010"/></linearGradient><linearGradient id="ga24_3" x1="1" y1="0" x2="0" y2="1"><stop offset="0" stop-color="#202020"/><stop offset="1" stop-color="#101010"/></linearGradient><linearGradient id="ga36_0" x1="0" y1="0" x2="1" y2="1"><stop offset="0" stop-color="#303030"/><stop offset="1" stop-color="#181818"/></linearGradient><linearGradient id="ga36_1" x1="0.3" y1="0" x2="0.7" y2="1"><stop offset="0" stop-color="#303030"/><stop offset="1" stop-color="#181818"/></linearGradient><linearGradient id="ga36_2" x1="0" y1="0.3" x2="1" y2="0.7"><stop offset="0" stop-color="#303030"/><stop offset="1" stop-color="#181818"/></linearGradient><linearGradient id="ga36_3" x1="1" y1="0" x2="0" y2="1"><stop offset="0" stop-color="#303030"/><stop offset="1" stop-color="#181818"/></linearGradient><linearGradient id="ga48_0" x1="0" y1="0" x2="1" y2="1"><stop offset="0" stop-color="#404040"/><stop offset="1" stop-color="#202020"/></linearGradient><linearGradient id="ga48_1" x1="0.3" y1="0" x2="0.7" y2="1"><stop offset="0" stop-color="#404040"/><stop offset="1" stop-color="#202020"/></linearGradient><linearGradient id="ga48_2" x1="0" y1="0.3" x2="1" y2="0.7"><stop offset="0" stop-color="#404040"/><stop offset="1" stop-color="#202020"/></linearGradient><linearGradient id="ga48_3" x1="1" y1="0" x2="0" y2="1"><stop offset="0" stop-color="#404040"/><stop offset="1" stop-color="#202020"/></linearGradient><linearGradient id="ga60_0" x1="0" y1="0" x2="1" y2="1"><stop offset="0" stop-color="#505050"/><stop offset="1" stop-color="#282828"/></linearGradient><linearGradient id="ga60_1" x1="0.3" y1="0" x2="0.7" y2="1"><stop offset="0" stop-color="#505050"/><stop offset="1" stop-color="#282828"/></linearGradient><linearGradient id="ga60_2" x1="0" y1="0.3" x2="1" y2="0.7"><stop offset="0" stop-color="#505050"/><stop offset="1" stop-color="#282828"/></linearGradient><linearGradient id="ga60_3" x1="1" y1="0" x2="0" y2="1"><stop offset="0" stop-color="#505050"/><stop offset="1" stop-color="#282828"/></linearGradient><linearGradient id="ga72_0" x1="0" y1="0" x2="1" y2="1"><stop offset="0" stop-color="#606060"/><stop offset="1" stop-color="#303030"/></linearGradient><linearGradient id="ga72_1" x1="0.3" y1="0" x2="0.7" y2="1"><stop offset="0" stop-color="#606060"/><stop offset="1" stop-color="#303030"/></linearGradient><linearGradient id="ga72_2" x1="0" y1="0.3" x2="1" y2="0.7"><stop offset="0" stop-color="#606060"/><stop offset="1" stop-color="#303030"/></linearGradient><linearGradient id="ga72_3" x1="1" y1="0" x2="0" y2="1"><stop offset="0" stop-color="#606060"/><stop offset="1" stop-color="#303030"/></linearGradient><linearGradient id="ga84_0" x1="0" y1="0" x2="1" y2="1"><stop offset="0" stop-color="#707070"/><stop offset="1" stop-color="#383838"/></linearGradient><linearGradient id="ga84_1" x1="0.3" y1="0" x2="0.7" y2="1"><stop offset="0" stop-color="#707070"/><stop offset="1" stop-color="#383838"/></linearGradient><linearGradient id="ga84_2" x1="0" y1="0.3" x2="1" y2="0.7"><stop offset="0" stop-color="#707070"/><stop offset="1" stop-color="#383838"/></linearGradient><linearGradient id="ga84_3" x1="1" y1="0" x2="0" y2="1"><stop offset="0" stop-color="#707070"/><stop offset="1" stop-color="#383838"/></linearGradient><linearGradient id="ga96_0" x1="0" y1="0" x2="1" y2="1"><stop offset="0" stop-color="#808080"/><stop offset="1" stop-color="#404040"/></linearGradient><linearGradient id="ga96_1" x1="0.3" y1="0" x2="0.7" y2="1"><stop offset="0" stop-color="#808080"/><stop offset="1" stop-color="#404040"/></linearGradient><linearGradient id="ga96_2" x1="0" y1="0.3" x2="1" y2="0.7"><stop offset="0" stop-color="#808080"/><stop offset="1" stop-color="#404040"/></linearGradient><linearGradient id="ga96_3" x1="1" y1="0" x2="0" y2="1"><stop offset="0" stop-color="#808080"/><stop offset="1" stop-color="#404040"/></linearGradient><linearGradient id="ga108_0" x1="0" y1="0" x2="1" y2="1"><stop offset="0" stop-color="#909090"/><stop offset="1" stop-color="#484848"/></linearGradient><linearGradient id="ga108_1" x1="0.3" y1="0" x2="0.7" y2="1"><stop offset="0" stop-color="#909090"/><stop offset="1" stop-color="#484848"/></linearGradient><linearGradient id="ga108_2" x1="0" y1="0.3" x2="1" y2="0.7"><stop offset="0" stop-color="#909090"/><stop offset="1" stop-color="#484848"/></linearGradient><linearGradient id="ga108_3" x1="1" y1="0" x2="0" y2="1"><stop offset="0" stop-color="#909090"/><stop offset="1" stop-color="#484848"/></linearGradient><linearGradient id="ga120_0" x1="0" y1="0" x2="1" y2="1"><stop offset="0" stop-color="#a0a0a0"/><stop offset="1" stop-color="#505050"/></linearGradient><linearGradient id="ga120_1" x1="0.3" y1="0" x2="0.7" y2="1"><stop offset="0" stop-color="#a0a0a0"/><stop offset="1" stop-color="#505050"/></linearGradient><linearGradient id="ga120_2" x1="0" y1="0.3" x2="1" y2="0.7"><stop offset="0" stop-color="#a0a0a0"/><stop offset="1" stop-color="#505050"/></linearGradient><linearGradient id="ga120_3" x1="1" y1="0" x2="0" y2="1"><stop offset="0" stop-color="#a0a0a0"/><stop offset="1" stop-color="#505050"/></linearGradient><linearGradient id="ga132_0" x1="0" y1="0" x2="1" y2="1"><stop offset="0" stop-color="#b0b0b0"/><stop offset="1" stop-color="#585858"/></linearGradient><linearGradient id="ga132_1" x1="0.3" y1="0" x2="0.7" y2="1"><stop offset="0" stop-color="#b0b0b0"/><stop offset="1" stop-color="#585858"/></linearGradient><linearGradient id="ga132_2" x1="0" y1="0.3" x2="1" y2="0.7"><stop offset="0" stop-color="#b0b0b0"/><stop offset="1" stop-color="#585858"/></linearGradient><linearGradient id="ga132_3" x1="1" y1="0" x2="0" y2="1"><stop offset="0" stop-color="#b0b0b0"/><stop offset="1" stop-color="#585858"/></linearGradient><linearGradient id="ga144_0" x1="0" y1="0" x2="1" y2="1"><stop offset="0" stop-color="#c0c0c0"/><stop offset="1" stop-color="#606060"/></linearGradient><linearGradient id="ga144_1" x1="0.3" y1="0" x2="0.7" y2="1"><stop offset="0" stop-color="#c0c0c0"/><stop offset="1" stop-color="#606060"/></linearGradient><linearGradient id="ga144_2" x1="0" y1="0.3" x2="1" y2="0.7"><stop offset="0" stop-color="#c0c0c0"/><stop offset="1" stop-color="#606060"/></linearGradient><linearGradient id="ga144_3" x1="1" y1="0" x2="0" y2="1"><stop offset="0" stop-color="#c0c0c0"/><stop offset="1" stop-color="#606060"/></linearGradient><linearGradient id="ga156_0" x1="0" y1="0" x2="1" y2="1"><stop offset="0" stop-color="#cfcfcf"/><stop offset="1" stop-color="#696969"/></linearGradient><linearGradient id="ga156_1" x1="0.3" y1="0" x2="0.7" y2="1"><stop offset="0" stop-color="#cfcfcf"/><stop offset="1" stop-color="#696969"/></linearGradient><linearGradient id="ga156_2" x1="0" y1="0.3" x2="1" y2="0.7"><stop offset="0" stop-color="#cfcfcf"/><stop offset="1" stop-color="#696969"/></linearGradient><linearGradient id="ga156_3" x1="1" y1="0" x2="0" y2="1"><stop offset="0" stop-color="#cfcfcf"/><stop offset="1" stop-color="#696969"/></linearGradient><linearGradient id="ga168_0" x1="0" y1="0" x2="1" y2="1"><stop offset="0" stop-color="#dfdfdf"/><stop offset="1" stop-color="#717171"/></linearGradient><linearGradient id="ga168_1" x1="0.3" y1="0" x2="0.7" y2="1"><stop offset="0" stop-color="#dfdfdf"/><stop offset="1" stop-color="#717171"/></linearGradient><linearGradient id="ga168_2" x1="0" y1="0.3" x2="1" y2="0.7"><stop offset="0" stop-color="#dfdfdf"/><stop offset="1" stop-color="#717171"/></linearGradient><linearGradient id="ga168_3" x1="1" y1="0" x2="0" y2="1"><stop offset="0" stop-color="#dfdfdf"/><stop offset="1" stop-color="#717171"/></linearGradient><linearGradient id="ga180_0" x1="0" y1="0" x2="1" y2="1"><stop offset="0" stop-color="#efefef"/><stop offset="1" stop-color="#797979"/></linearGradient><linearGradient id="ga180_1" x1="0.3" y1="0" x2="0.7" y2="1"><stop offset="0" stop-color="#efefef"/><stop offset="1" stop-color="#797979"/></linearGradient><linearGradient id="ga180_2" x1="0" y1="0.3" x2="1" y2="0.7"><stop offset="0" stop-color="#efefef"/><stop offset="1" stop-color="#797979"/></linearGradient><linearGradient id="ga180_3" x1="1" y1="0" x2="0" y2="1"><stop offset="0" stop-color="#efefef"/><stop offset="1" stop-color="#797979"/></linearGradient><linearGradient id="ga192_0" x1="0" y1="0" x2="1" y2="1"><stop offset="0" stop-color="#ffffff"/><stop offset="1" stop-color="#818181"/></linearGradient><linearGradient id="ga192_1" x1="0.3" y1="0" x2="0.7" y2="1"><stop offset="0" stop-color="#ffffff"/><stop offset="1" stop-color="#818181"/></linearGradient><linearGradient id="ga192_2" x1="0" y1="0.3" x2="1" y2="0.7"><stop offset="0" stop-color="#ffffff"/><stop offset="1" stop-color="#818181"/></linearGradient><linearGradient id="ga192_3" x1="1" y1="0" x2="0" y2="1"><stop offset="0" stop-color="#ffffff"/><stop offset="1" stop-color="#818181"/></linearGradient><linearGradient id="ga204_0" x1="0" y1="0" x2="1" y2="1"><stop offset="0" stop-color="#ffffff"/><stop offset="1" stop-color="#898989"/></linearGradient><linearGradient id="ga204_1" x1="0.3" y1="0" x2="0.7" y2="1"><stop offset="0" stop-color="#ffffff"/><stop offset="1" stop-color="#898989"/></linearGradient><linearGradient id="ga204_2" x1="0" y1="0.3" x2="1" y2="0.7"><stop offset="0" stop-color="#ffffff"/><stop offset="1" stop-color="#898989"/></linearGradient><linearGradient id="ga204_3" x1="1" y1="0" x2="0" y2="1"><stop offset="0" stop-color="#ffffff"/><stop offset="1" stop-color="#898989"/></linearGradient><linearGradient id="ga216_0" x1="0" y1="0" x2="1" y2="1"><stop offset="0" stop-color="#ffffff"/><stop offset="1" stop-color="#919191"/></linearGradient><linearGradient id="ga216_1" x1="0.3" y1="0" x2="0.7" y2="1"><stop offset="0" stop-color="#ffffff"/><stop offset="1" stop-color="#919191"/></linearGradient><linearGradient id="ga216_2" x1="0" y1="0.3" x2="1" y2="0.7"><stop offset="0" stop-color="#ffffff"/><stop offset="1" stop-color="#919191"/></linearGradient><linearGradient id="ga216_3" x1="1" y1="0" x2="0" y2="1"><stop offset="0" stop-color="#ffffff"/><stop offset="1" stop-color="#919191"/></linearGradient><linearGradient id="ga228_0" x1="0" y1="0" x2="1" y2="1"><stop offset="0" stop-color="#ffffff"/><stop offset="1" stop-color="#999999"/></linearGradient><linearGradient id="ga228_1" x1="0.3" y1="0" x2="0.7" y2="1"><stop offset="0" stop-color="#ffffff"/><stop offset="1" stop-color="#999999"/></linearGradient><linearGradient id="ga228_2" x1="0" y1="0.3" x2="1" y2="0.7"><stop offset="0" stop-color="#ffffff"/><stop offset="1" stop-color="#999999"/></linearGradient><linearGradient id="ga228_3" x1="1" y1="0" x2="0" y2="1"><stop offset="0" stop-color="#ffffff"/><stop offset="1" stop-color="#999999"/></linearGradient><linearGradient id="ga240_0" x1="0" y1="0" x2="1" y2="1"><stop offset="0" stop-color="#ffffff"/><stop offset="1" stop-color="#a1a1a1"/></linearGradient><linearGradient id="ga240_1" x1="0.3" y1="0" x2="0.7" y2="1"><stop offset="0" stop-color="#ffffff"/><stop offset="1" stop-color="#a1a1a1"/></linearGradient><linearGradient id="ga240_2" x1="0" y1="0.3" x2="1" y2="0.7"><stop offset="0" stop-color="#ffffff"/><stop offset="1" stop-color="#a1a1a1"/></linearGradient><linearGradient id="ga240_3" x1="1" y1="0" x2="0" y2="1"><stop offset="0" stop-color="#ffffff"/><stop offset="1" stop-color="#a1a1a1"/></linearGradient><linearGradient id="ga252_0" x1="0" y1="0" x2="1" y2="1"><stop offset="0" stop-color="#ffffff"/><stop offset="1" stop-color="#a9a9a9"/></linearGradient><linearGradient id="ga252_1" x1="0.3" y1="0" x2="0.7" y2="1"><stop offset="0" stop-color="#ffffff"/><stop offset="1" stop-color="#a9a9a9"/></linearGradient><linearGradient id="ga252_2" x1="0" y1="0.3" x2="1" y2="0.7"><stop offset="0" stop-color="#ffffff"/><stop offset="1" stop-color="#a9a9a9"/></linearGradient><linearGradient id="ga252_3" x1="1" y1="0" x2="0" y2="1"><stop offset="0" stop-color="#ffffff"/><stop offset="1" stop-color="#a9a9a9"/></linearGradient><linearGradient id="ga264_0" x1="0" y1="0" x2="1" y2="1"><stop offset="0" stop-color="#ffffff"/><stop offset="1" stop-color="#b1b1b1"/></linearGradient><linearGradient id="ga264_1" x1="0.3" y1="0" x2="0.7" y2="1"><stop offset="0" stop-color="#ffffff"/><stop offset="1" stop-color="#b1b1b1"/></linearGradient><linearGradient id="ga264_2" x1="0" y1="0.3" x2="1" y2="0.7"><stop offset="0" stop-color="#ffffff"/><stop offset="1" stop-color="#b1b1b1"/></linearGradient><linearGradient id="ga264_3" x1="1" y1="0" x2="0" y2="1"><stop offset="0" stop-color="#ffffff"/><stop offset="1" stop-color="#b1b1b1"/></linearGradient><filter id="grain" color-interpolation-filters="sRGB" x="0" y="0" width="100%" height="100%" filterUnits="objectBoundingBox"><feTurbulence type="fractalNoise" baseFrequency="0.75" numOctaves="2" seed="3"/><feColorMatrix type="matrix" values="1 0 0 0 0  1 0 0 0 0  1 0 0 0 0  0 0 0 0 1"/></filter>
<clipPath id="cs0"><rect x="7" y="264.8" width="163" height="111.2"/></clipPath>
<clipPath id="cs1"><rect x="179.1" y="264.8" width="162.6" height="111.2"/></clipPath>
<clipPath id="cs2"><rect x="350" y="264.8" width="162.8" height="111.2"/></clipPath>
<clipPath id="cs3"><rect x="520.1" y="264.8" width="164.9" height="111.6"/></clipPath>
</defs>
<g clip-path="url(#cs0)"><rect x="7" y="264.8" width="163" height="111.2" fill="#0e0e0e"/><path fill="url(#ga84_0)" d="M45.15,261.93L44.48,264.75L46.23,266.63L50,266.41L53.97,263.03L54.02,262.51L53.73,262.08L48.48,263.12ZM155.39,266.51L156.25,268.96L159.47,268.95L164,267.93L164.35,268.15L164.53,267.13L163.79,264L163.06,262.75L158.46,261.78L154.68,262.72L154.44,263.02ZM10.63,329.71L10.91,330.11L10.61,330.06L13.71,331.23L17.69,331.85L18.53,326.44L12.07,325.5ZM40.99,364.79L47.08,364.24L51.02,363.41L51.92,362.04L50.04,358.55L45.49,354.35L43.92,359.41L40.04,363.22L40.45,364.27L40.06,363.92ZM58.03,378.23L62.31,378.43L62.8,378.32L61,375.26L58.23,376.15L58.62,376.49Z"/><path fill="url(#ga60_2)" d="M62.61,263.51L62.96,263.39L64.44,265.22L65.1,265.31L69.1,264.6L70.9,263.21L71.42,263.46L71.53,262.8L71.39,262.17L71.19,262.52L67.26,262.03L63.34,262.26L62.6,262.54L62.88,262.84ZM52.13,276.4L51.91,276.22L54.71,272.92L49.86,266.83L46.38,267.22L45.21,270.02L44.87,274.16L47.15,277.38Z"/><path fill="url(#ga132_2)" d="M108.09,263.87L108.26,262.77L103.8,263.48L98.26,262.67L97.49,263.74L102.25,268.6L106.02,266.79Z"/><path fill="url(#ga192_2)" d="M5.11,263.17L4.75,266.69L4.92,266.38L6.64,272.75L7.16,272.86L13.52,269.26L11.75,265.5L11.48,262.83L8.03,263.53ZM5.32,307.86L9.65,304.28L7.96,301.96L5.44,301.83L4.84,302.22L5.38,304.3L5.03,307.56Z"/><path fill="url(#ga72_2)" d="M34.07,270.7L35.08,265.96L29.69,264.58L29.06,265.18L28.97,269.64L29.36,270.27L33.26,271.01Z"/><path fill="url(#ga60_0)" d="M51.41,266.49L55.53,271.99L61.13,270.61L63.68,266.06L61.4,264.22L57.2,262.66L55.85,262.85L55.68,262.51ZM156.62,270.65L154.19,274.38L156.65,276.29L160.49,278.05L162.37,275.71L164.83,274.18L164.3,270.3L163.88,269.77ZM166.45,268.83L167.19,274.3L167.8,274.68L171.78,272.49L171.78,267.81ZM81.82,276.18L81.82,277.36L84.84,279.02L86.04,281.38L86.59,281.26L91.83,276.71L88.86,272.49ZM15.87,294.22L15.07,293.23L13.58,293.79L11.63,297.56L9.27,300.62L11.26,304.35L13.73,305.22L14.06,300.8L16.58,297.85ZM48.17,308.82L54.62,310.94L56.88,308.85L58.4,305.49L56.38,300.31L55.67,300.07L53.95,301.3L50.26,301.51L49.61,304.94L47.65,307.64L48.12,307.89ZM95.82,308.95L95.28,309.17L93.88,312.14L91.96,317.29L92.26,317.33L93.31,320.06L97.16,318.99L98.52,316.42L101.01,313.64L97.59,311.58ZM74.31,336.77L71.57,339.44L70.6,343.74L71.56,347.47L74.67,351.14L78.66,350.14L81.42,348.5L82.68,344.32ZM84.42,344.81L82.84,348.07L86.59,348.87L91.37,351.69L93.3,348.76L94.25,346.47L93.04,343.93L86.96,343.02L86.61,342.67L84.14,344.54ZM114.79,350.76L115.23,353.25L118.26,354.15L121.83,354.39L125.25,352.46L125.45,351.82L122.69,349.14L122.26,345.82L118.67,344.89L116.18,344.96L116.45,345.24ZM39.89,365.59L39.91,365.1L34.48,370.6L35.4,374.41L37.53,376.61L41.64,376.18L43.47,374.49L43.05,374.43L42.7,370.29L40.69,365.82Z"/><path fill="url(#ga48_2)" d="M84.12,271.3L88.11,269.88L87.42,266.56L83.9,268.89L79.8,269.36L80.82,274.36ZM162.53,288.38L164.99,290.12L168.04,287.81L172.06,283.95L171.54,283.47L171.82,283.03L168.35,286.22L162.14,286.85Z"/><path fill="url(#ga48_0)" d="M122,268.63L121.98,271.42L124.48,273.19L127.5,273.43L131.37,271.62L131.3,265.66L126.84,263.52L126.77,264.14L123.55,265.56ZM34.71,281.77L35.32,282L39.7,280.18L44.21,280.66L45.92,277.88L45.87,277.17L44.58,275.14L40.62,274.27L35.67,274.19L34.63,277.43L34.43,281.07ZM169.09,276.91L171.96,279.24L172.14,278.7L172.64,278.65L171.94,274.39L171.6,274.92L169.15,276ZM14.64,289.19L15.82,284.78L12.56,284.7L9.88,282.43L4.84,284.04L4.38,288.04L5.21,290.65L5.18,290.39L9.44,292.6L14.76,292.19ZM168.35,296.97L164.4,292.28L164.53,292.5L161.25,289.89L160.11,290.6L158.61,298.96L161.69,302.35L165.91,302.12ZM99.09,320.24L102.8,323.53L106.18,318.53L108.83,315.99L109.38,316.06L109.26,315.46L105.5,314.6L103.3,314.68L101.81,317.65ZM115.08,335.93L114.04,339.62L116.25,343.57L121.22,344.3L123.86,342.46L125.54,338.87L121.15,336.06ZM95.39,345.48L96,345.77L99.05,345.24L103.26,346.84L103.57,346.4L103.73,344.44L100.96,341.05L99.98,337.51L99.27,337.49L96.53,339.19L96.33,338.98L94.35,342.67ZM93.73,358.14L94.25,358.28L94.15,358.71L97.5,357.55L102.43,357.89L103.19,353.39L103.05,348.22L99.06,348.08L95.31,346.87L95.43,347.13L93.06,349.4L92.76,352.97L92.32,353.46L93.61,355.66Z"/><path fill="url(#ga72_1)" d="M152.39,262.93L147.78,263.47L147.24,266.67L147.29,269.89L150.54,273.53L151.4,273.79L151.13,273.5L154.74,269.29L153.33,266.4ZM105.94,344.73L104.98,346.72L105.24,347.08L109.65,348.94L113.59,349.47L115.14,344.75L114.62,344.59L112.91,341.43L112.17,340.87ZM62.66,374.78L64.8,378.36L68.57,377.68L71.54,378.08L71.49,377.63L69.57,375.9L68.23,372.79L64.6,372.81L62.6,374.47L62.31,374.83Z"/><path fill="url(#ga204_1)" d="M19.35,282.41L22.7,279.4L23.36,275.81L23.76,273.05L23.42,272.56L19.3,269.36L14.55,269.69L14.35,270.67L17.9,275.3L18.67,282.18Z"/><path fill="url(#ga84_3)" d="M33.83,273.47L28.36,272.02L25.02,273.72L24.71,279.25L29.26,280.25L32.75,280.2L32.72,276.56Z"/><path fill="url(#ga72_0)" d="M53.2,277L57.13,282.05L60.89,281.22L63.21,279.02L61.67,272.65L60.65,272.26L55.78,273.6L53.2,276.55L53.53,276.96ZM136.34,302.83L136.14,302.25L138.99,298.69L139.87,294.89L134.79,292.6L128.9,291.24L128.53,291.73L128.43,291.35L127.16,293.14L127.31,299.83L129.74,304.91L129.79,304.58L130.01,305.23ZM25.01,306.26L25.55,306.82L23.6,312.19L24.79,313.39L31.75,310.39L36.06,307.76L38.08,304.78L35.79,302.61L35.23,300.46L31.72,300.62L28.34,302.73Z"/><path fill="url(#ga60_1)" d="M77.81,277.19L72.3,275.66L69.6,280.58L72.17,282.23ZM14.78,361.85L14.36,361.23L10.15,359.6L6.61,360.26L4.58,359.87L4.19,360.6L4.2,368.58L4.59,369L7.38,368.96L10.83,370.08L13.73,366.64Z"/><path fill="url(#ga48_3)" d="M112.96,279.52L113.2,283.16L113.8,283.6L117.3,283.8L122.31,282.47L123.59,274.79L123.38,274.02L120.58,272.88L117.28,274.73L116.85,274.62Z"/><path fill="url(#ga120_0)" d="M135.89,274.29L135.31,274.35L132.78,272.77L128.52,274.85L129.98,278.34L131.16,283.89L134.39,283.3L137.66,281.92L138.72,280.36L137.27,276.55Z"/><path fill="url(#ga24_0)" d="M161.67,284.29L162.19,284.04L162.68,284.39L165.81,283.15L170.35,280.93L170.5,280.44L167,276.75L166.65,276.96L166.08,276.14L166.17,276.44L165.5,276.25L164.14,278.92L162.07,279.81ZM47.88,296.37L49.45,300.73L53.08,298.98L56.5,298.94L57.29,298.27L59.54,294.65L59.44,293.82L56.55,292.09L55.42,289.14L54.46,289.2L49.12,291.93L45.6,293.17ZM10.48,349.04L10.41,354.24L11.01,358.25L14.47,359.61L15.53,354.19L15.18,349.06L13.87,347.42ZM18.52,362.28L18.25,362.47L23.21,363.74L25.68,367.36L25.99,367.31L30.07,361.98L28.54,357.82L27.39,353.13L27.56,352.61L17.8,360.84L17.49,361.63Z"/><path fill="url(#ga36_2)" d="M55.56,288.12L60.23,293.67L63.19,293.16L62.91,292.91L63.56,281.58L63.3,281L60.02,281.54L57.28,284.19L55.8,287.63L55.96,288.01Z"/><path fill="url(#ga204_2)" d="M110.86,299.23L111.38,299.35L111.29,299.71L111.81,299.21L111.98,297.92L111.57,298.08L111.93,292.93L111.52,285.91L112,285.7L111.65,285.52L108.46,286.6L105.41,289.57L109.18,294.96ZM125.82,365.35L126.68,365.36L126.28,364.95L127.41,358.88L127.48,353.99L127.79,353.75L126.66,353.36L123.42,355.1L122.52,359.24L124.25,363.87L123.98,363.97Z"/><path fill="url(#ga36_0)" d="M9.09,292.54L4.65,292.05L3.84,296.56L4.43,299.62L4.91,300.39L7.85,299.79L12,294.23L11.7,293.64ZM67.5,300.91L65.57,298.09L64.77,295.27L60.61,295.44L58.07,298.91L59.66,304.2L64.01,301.95ZM16.53,341.98L15.29,345.52L16.9,347.77L19.56,348.41L23.1,348.45L23.67,348.79L23.91,347.95L23.42,347.67L21.73,343.77L18.37,341.29L17.58,341.25Z"/><path fill="url(#ga96_0)" d="M34.34,298.75L35.91,293.95L33.9,291.49L29.11,291.56L25.21,294.89L28.05,300.16L28.75,300.49L31.06,299.47ZM163.09,349.3L160.95,351.81L157.26,354.17L157.9,357.56L158.8,359.98L162.14,361.54L165.79,361.35L167.05,359.84L166.7,351.99L165.18,349.79Z"/><path fill="url(#ga96_2)" d="M44.09,293.15L43.97,293.61L40.67,294.6L37.43,294.24L36.2,299.62L35.93,299.48L38.34,302.24L39.39,304.82L46.17,306.95L48.2,303.14L48.98,300.6L46.03,297.74L44.71,293.81Z"/><path fill="url(#ga216_0)" d="M82.96,300.76L86.86,303.35L86.73,303.78L89.25,302.9L90.81,301L93.06,296.88L87.65,296.41L85.15,294.77L84.29,294.67L82.62,299.79ZM100.91,373.84L100.24,377.85L101.01,378.13L105.02,377.64L108.28,378.21L108.5,377.56L110.38,375.81L110.94,375.91L110.5,374.94L104.38,372.1Z"/><path fill="url(#ga216_3)" d="M125.58,294.66L123.56,294.1L116.79,300.09L116.53,300.75L120.97,304.16L124.45,303.57L126.95,304.26L127.38,304.06L127.73,299.34Z"/><path fill="url(#ga180_0)" d="M20.41,304.54L17.89,300.59L15.33,306.66L17.19,309.38L21.62,311.44L22.06,311.09L23.26,306.88L23.01,306.17Z"/><path fill="url(#ga12_0)" d="M39.15,306.21L37.2,308.52L38.16,313.4L41.68,316.6L42.78,315.83L46.21,309.96L46.33,309.19L45.67,308.37L42.47,306.5Z"/><path fill="url(#ga36_1)" d="M59.7,305.9L59.62,306.32L63.83,308.56L70.45,310.8L70.77,310.27L71.53,306.98L69.83,304.46L68.76,301.97L65.18,305.09Z"/><path fill="url(#ga12_3)" d="M120.38,316.64L121.22,317.12L125.32,315.39L128.81,311.55L128.57,311.07L129.47,308.44L129.59,306.29L129.31,306.42L129.09,305.63L124.79,305.48L120.86,306.11L118.96,308.89ZM16.37,362.51L16.01,362.76L15.03,366.45L11.88,370.89L11.83,373.83L13.04,376.49L13.73,377.13L15.87,375.61L17.29,368.06L17.05,363.08Z"/><path fill="url(#ga240_0)" d="M149.06,305.94L143.56,307.1L143.58,309.82L144.21,310.55L147.62,310.84L151.41,312.15L152.09,311.96L153.38,310.18L152.96,310.12L152,308.02Z"/><path fill="url(#ga228_2)" d="M161.7,315.61L166.27,312.57L169.32,309.88L167.02,306.86L166.68,304.04L166.14,303.7L161.95,304.44L156.86,310.2L159.17,313.8L161,315.56Z"/><path fill="url(#ga36_3)" d="M39.84,317.68L40.42,317.34L37.26,314.31L31.42,315.18L27.17,317.29L26.64,317.89L27.44,319.28L32.76,322.67L34.06,323.02L38.03,320.55ZM111.19,313.81L111.07,314.56L110.8,314.41L111.08,315.52L115.05,318.76L118.19,319.56L118.87,319.38L118.41,319.02L119.25,317.86L119.46,318.21L119.07,313.46L118.07,310.5L114.7,311.45Z"/><path fill="url(#ga12_2)" d="M83.12,320.3L86.83,323.28L89.38,323.44L91.24,320.84L90.03,317.72L86.76,316.78L84.93,313.76L84.12,313.52L80.82,315.84L81.25,315.61L82.61,318.1Z"/><path fill="url(#ga60_3)" d="M4.85,321.66L4.51,328.81L4.99,329.28L9.02,329.78L8.77,329.5L10.46,327.64L10.89,323.99L9.91,321.86L6.66,320.02ZM92.08,341.41L93.15,341.12L94.37,338.75L94.26,337.98L89.36,333.65L86.54,336.59L87.55,341.01Z"/><path fill="url(#ga228_0)" d="M28.68,334.07L29.15,327.66L31.93,324.08L28.51,322.41L26.73,321.11L26.7,320.7L24.08,323.35L24.37,329.68L26.27,333.68ZM90.65,377.2L95.53,378.72L98.34,378.02L98.97,373.48L95.94,372.2L92.97,373.49L90.27,373.46L90.64,373.69L90.25,374.14Z"/><path fill="url(#ga24_2)" d="M47.98,328.89L48.3,328.97L48.76,330.79L49.33,331.07L56.85,333.38L58.06,332.9L56.93,329.07L58.11,326.67L57.75,325.99L53.4,323.62L50.32,325.45L49.84,325.31ZM80.93,332.33L85.62,335.07L89.15,331.83L90.22,327.39L89.27,325.41L86.39,325.1L81.77,328.95L77.54,331.22L77.85,331.65ZM70.44,348.36L62.6,353.12L62.36,353.77L63.54,355.7L63.78,359.18L67.04,359.79L70.14,358.59L72.55,356.07L74.21,351.71L71.1,348.52Z"/><path fill="url(#ga96_1)" d="M112.96,331.61L113.51,331.47L114.17,329.54L116.51,327.46L117.87,325.08L117.9,321.7L115.62,319.68L112.8,319.13L109.21,323.32L108.84,329.68L108.41,329.55Z"/><path fill="url(#ga156_0)" d="M132.59,324.58L132.9,324.75L132.73,330.05L139.32,330.89L143.59,330.48L145.41,329.3L145.42,328.67L142.39,325.57L141.85,319.99L141.87,320.33L137.91,322.49Z"/><path fill="url(#ga108_0)" d="M165.26,327.46L166,327.53L166.25,327.07L166.39,324.28L163.44,322.1L162.21,317.69L160.89,317.53L158.09,321.09L162.3,323.89ZM41.7,365.85L43.96,374.06L46.17,374.06L48.98,372.06L50.68,368.19L50.27,364.81L44.92,366.35Z"/><path fill="url(#ga144_2)" d="M171.87,328.8L172.72,328.13L172.28,320.79L169.95,322.2L167.83,324.37L167.67,326.95Z"/><path fill="url(#ga120_1)" d="M164.83,330.24L160.56,332.02L161.12,336.45L159.6,340.16L159.29,339.99L159.43,340.36L159.88,340.23L159.53,340.45L163.92,338.46L166,336.82L166.06,337.07L166.38,336.46L164.71,332.57Z"/><path fill="url(#ga108_2)" d="M167.84,337.56L166.98,337.57L163.32,339.36L160.75,341.67L160.02,341.73L162.38,344.18L163.08,348.17L165.23,349.15L168.26,343.99L172.61,341.07L172.64,340.25L170.03,339.57Z"/><path fill="url(#ga48_1)" d="M16.63,359.42L16.36,359.87L20.95,355.49L26.06,351.83L25.79,351.05L22.23,351.47L17.65,349.76L16.21,355.89Z"/><path fill="url(#ga216_1)" d="M111.65,361.05L115.8,364.12L116.45,364.12L117.03,355.03L116.82,355.26L115.27,354.38L114.65,354.48L112.37,357.91L108.73,359.31L108.76,359.89L108.9,359.65Z"/><path fill="url(#ga96_3)" d="M155.45,354.19L150.73,352.74L150.57,356.15L151.19,359.57L153.44,360.57L156.87,359.96L155.56,356.66Z"/><path fill="url(#ga180_1)" d="M71.79,359.4L71.76,362.4L73.27,366.46L76.66,367.7L81.68,368.13L82.5,365.36L79.1,361.2L73.67,357.57Z"/><path fill="url(#ga228_3)" d="M85.18,365.67L83.86,369.48L86.45,371.04L89.5,372.02L94.72,370.19L91.81,361.75L87.79,363.14Z"/><path fill="url(#ga192_1)" d="M135.13,360.68L135.43,360.06L134.38,356.83L132.77,353.88L132.24,353.28L129.71,352.75L129.09,353.23L130.13,357.8L128.44,364.33Z"/><path fill="url(#ga252_3)" d="M150.47,366.61L150.47,366.31L154.06,366.97L155.5,362.4L152.8,362.4L150.18,361.95L150.02,361.51L147.59,363.85Z"/><path fill="url(#ga252_0)" d="M157.64,372.44L160.34,373L164.7,372.11L167.36,369.14L167.13,366.7L165.9,363.11L165.12,362.66L162.01,362.91L158.23,361.25L157.8,361.67L155.09,368.36Z"/><path fill="url(#ga204_0)" d="M78.77,377.93L78.97,378.45L79.94,378.6L80.42,378.14L79.39,377.65Z"/><path fill="url(#ga228_1)" d="M113.4,378.8L114.24,377.08L113.04,375.87L110.26,378.51L110.68,378.92Z"/><path fill="url(#ga252_2)" d="M161.93,377.54L159.75,373.71L158.67,374.02L158.29,373.76L158.75,378.35L158.46,378.46L161.67,378.61Z"/><path fill="url(#ga240_0)" d="M26.52,264.44L27.64,265.46L36.44,266.8L48.97,265.52L49.66,264.07L49.24,263.45L48.44,263.2L37.59,262.28L26.98,263.41Z"/><path fill="url(#ga192_3)" d="M64.77,263.06L59.52,263.15L58.99,264.28L61.76,266.43L63.2,265.96L64.94,264.26ZM46.09,294.81L46.63,295.41L60.93,299.29L62.93,296.01L65.23,293.96L67.09,289.19L65.15,282.92L60.72,277.01L60.07,277.07L54.52,287.28Z"/><path fill="url(#ga252_3)" d="M130.01,263.45L129.12,264.44L130.55,267.69L134.51,269.11L137.72,267.22L139.94,264.64L139.6,263.58L138.91,263.17L134.19,263.76ZM147.7,313.43L142.69,310.37L141.91,311.35L144.26,315.64L147.64,319.54L148.64,320.12L149.37,319.95L153.21,315.88ZM92.98,357.22L92.79,357.68L85.08,357.92L80.41,359.78L79.77,360.52L78.36,365.34L79.47,368.7L80.08,369.36L86.09,372.16L92.86,373.87L93.76,373.58L94.4,372.98L94.71,371.73L94.06,365.43L94.54,357.94L93.63,357.81ZM109.45,363.5L101.01,359.27L100.34,364.27L101.22,368.71L109.42,366.65L119.5,366.16L120.11,365.43L119.74,365.57L119.71,365.07ZM124.42,374.77L123.26,374.38L121.37,376.32L121.2,377.12L122.09,378.09L124.81,378.02L125.37,376.8L124.99,376.63ZM132.21,374.83L128.87,374.89L129.22,375.86L132.26,375.93Z"/><path fill="url(#ga252_0)" d="M7.7,279.78L8.18,280.41L9,280.3L11.93,276.56L12.24,275.69L7.74,275.73ZM20.26,268.58L20.98,267.93L20.84,266.74L20.2,266.77L16.57,265.07L8.06,265.37L7.47,265.9L7.12,267.22L7.57,268L8.59,268.39L13.45,267.92ZM73.38,291.19L72.8,291.59L72.71,292.9L73.62,293.73L77.29,295.45L82.07,296.36L82.8,296.27L83.3,295.71L83.26,294.55L81.87,290.39L81.23,289.76L80.51,289.45L78.02,291.28ZM86.94,280.37L86.9,281.29L87.15,281.05L99.29,288.07L108.77,292.31L109.69,291.71L109.73,288.35L110.88,286.16L108.85,278.85L101.85,277.94L93.91,275.29L93.47,275.37L90.94,278.54ZM7.6,313.24L6.35,307.51L5.39,307.35L7.05,316.32L5.41,325.4L6.75,326.19L10.54,320.12L10.53,319.45ZM41,324.74L41,323.34L33.48,322.5L32.23,323L31.99,323.86L32.22,326.91L32.64,327.68L33.62,327.87L36.84,327.69L39.39,326.91L40.3,326.24ZM91.39,328.93L91.72,330.05L99.16,332.1L105.75,332.38L106.55,332.18L106.98,330.97L106.08,324.32L103.56,320.11L102.41,319.44L97.11,321.44L92.41,325.38L91.68,326.15ZM129.98,322.3L129.29,323.15L129.93,325.75L129.78,328.26L130.2,328.99L131.2,329.39L138.22,328.89L143.36,330.65L144.17,330.31L145.4,326.19L141.89,321L137.56,316.17L136,316.38L133.32,320.32ZM148.98,331.39L149.37,333L157.4,334.96L158.64,334.81L163.75,330.53L170.42,326.24L170.61,325.3L169.84,323.02L170.48,319.85L170.16,318.51L168.61,316.55L165.31,315.89L161.39,317L150.07,328.01ZM48.34,346.39L52.28,349.94L53.68,349.14L55.17,344.14L57.12,341.08L56.16,339.72L55.32,339.35L50.28,340.59L49.11,341.59L47.98,345.49ZM126.04,363.92L126.8,368.02L131.71,369.47L136.52,369L137.09,368.08L139.45,358.18L134.66,356.83L130.47,358.16ZM145.59,355.73L145.05,356.34L140.92,371.91L143.07,374.14L144.46,376.98L145.18,377.18L151.24,375.64L160.15,374.66L161.02,370.34L159.8,365.58L160.3,361.15L152.06,359.13ZM43.88,376.84L44.67,376.35L43.03,372.66L41.75,366.38L41.64,366.7L35.95,366.11L31.4,368.32L30.5,368.32L30.17,369.61L30.43,370.4L31.35,372.92L33.39,376.36L40.4,377.12ZM120.43,374.11L122.39,370.55L121.96,370.65L122.14,369.94L110.34,372.51L99.97,373.19L99.89,372.88L99.35,373.39L98.47,377.24L108.39,378.7L116.9,377.84ZM164.33,374.14L164.73,375.22L166.51,376.44L170.15,376.2L170.06,372.92L169.63,372.25L165.25,372.76L164.66,373.1Z"/><path fill="url(#ga240_2)" d="M42.58,270.96L30.16,270.55L30.28,271.44L34.09,275.09L39.14,281.82L39.45,282.17L40.12,281.76L40.58,277.39L42.8,271.51Z"/><path fill="url(#ga156_0)" d="M58.51,268.48L57.01,267.39L53.87,267.25L48.83,269.55L45.66,278.93L43.62,289.09L44,290.18L44.84,289.75L51.18,280.51L58.48,272.17ZM7.42,373.41L8.6,373.43L17.18,370.31L26.49,369.27L27.27,368.79L28.33,365.71L25.63,353.61L24.63,353.47L14.87,357.39L5.51,362.63L5.1,363.1L5.85,367.45L5.27,371.03Z"/><path fill="url(#ga180_2)" d="M64.11,270L63.37,270.65L63.73,272.68L63.4,272.72L68.21,277.43L70.29,284.71L71.01,285.48L74.67,284.11L81.17,283.25L82.09,280.93L81.89,280.39L78.07,276.72L71.31,272.14L71.58,271.84L66.83,271.14Z"/><path fill="url(#ga156_1)" d="M77.77,268.35L77,269.6L85.98,277.07L88.17,274.56L90.52,273.61L90.76,268.41L89.43,264.02L84.72,264.16L82.08,265.27ZM58.89,322.86L48.39,322.48L47.56,323.58L46.51,326.57L44.54,329.46L44.8,330.63L47.64,335.48L48.56,335.86L53.23,333.49L60.9,332.38L61.28,331.83L60.6,327.87L59.76,324.27ZM106.31,342.64L108.81,338.27L108.96,337.82L108.51,337.39L98.88,336.82L90.51,334.17L89.75,334.21L88.23,335.96L92.2,344.77L94.29,351.89L94.98,352.45L97.72,352.71L102.04,346.97ZM147.27,351.38L147.95,353.05L154.6,355.96L160.24,356.89L161.3,356.61L163.06,355.18L165.21,352.32L162.02,345.09L156.68,340.33L153.44,340.05L150.11,338.23L148.58,338.72L148.64,344.34ZM102.76,353.29L102.88,354.57L110.25,355.38L116.44,358.5L116.79,357.62L111.83,351.46L108.07,347.93L107.29,347.94L104.48,351.83Z"/><path fill="url(#ga108_1)" d="M126.24,267.14L121.82,266.56L118.65,266.93L117.54,267.97L115.84,272.36L112.67,277.83L114.07,283.67L114.61,283.3L123.32,283.7L134.5,281.21L135.17,280.67L135.15,279.91L131.84,272.6Z"/><path fill="url(#ga252_2)" d="M147.74,264.29L137.76,272.15L137.85,273.38L139.83,278.21L140.97,278.66L143.58,278.36L144.58,277.85L147.58,273.24L150.1,266.76L150.02,265.44ZM167.65,312.07L167.86,312.87L170.09,314.51L171.06,315.05L171.62,314.69L172.8,310.33L171.31,306.37L170.39,306.31L170.19,306.61Z"/><path fill="url(#ga180_3)" d="M158.58,284.42L162,282.65L163.56,279.85L162.74,273.59L163.07,269.15L160.79,267.6L155.84,265.17L151.12,272.72L148.43,279.11L149.18,280.76L153.92,282.09L157.29,284.32Z"/><path fill="url(#ga132_2)" d="M9.32,295.81L9.53,296.85L10.25,297.04L21.38,297.56L21.61,296.81L20.8,287.48L22.08,275.27L21.34,274.26L16.16,280.31L9.15,287.18L10.09,291.7ZM45.79,299.5L44.71,299.69L44.41,300.58L45.68,308.6L48.37,318.1L48.85,318.75L54.72,318.12L59.48,319.04L60.49,318.89L63.24,316.16L64.16,313.44L62.84,308.82L60.44,303.44L59.66,303.08L51.77,302.72Z"/><path fill="url(#ga216_1)" d="M28.51,279.45L27.07,279.38L27.71,289.22L26.73,296.58L27.11,297.38L28.48,298.13L29.09,298.03L39.81,295.23L38.51,291.13L38.3,291.32L32.59,286.36Z"/><path fill="url(#ga168_0)" d="M92.12,288.51L88.55,286.77L87.55,287.24L89.03,293.33L90.59,293.93L93.64,293.45L97.07,293.45L98.27,292.91L98.21,291.64L97.56,290.75ZM37.2,349.79L30.28,352.01L32.34,356.7L32.09,361.85L38.4,362.22L42.56,360.01L47.08,356.07L47.28,355.5L44.37,353.97L42.11,350.83Z"/><path fill="url(#ga168_2)" d="M137.21,291.58L138.29,299.63L145.4,298.25L154.78,295.66L155.42,294.84L156.78,290.65L156.16,286.78L146.16,281.99L142.29,282.91L139.82,282.87L138.96,283.23L139.37,283.7L139.02,283.62Z"/><path fill="url(#ga192_0)" d="M164.84,310.37L165.71,310.76L170.23,303.47L171.38,296.62L171.97,296.38L171.86,294.16L171.75,293.55L162.88,286.24L159.14,287.31L159.3,291.86L157.33,296.48ZM103.47,314.11L112.6,304.46L111.45,300.21L109.96,296.45L109.25,295.65L88.91,297.7L86.86,301.56L86.46,304.35L95.7,308.08ZM126.27,354.77L123.86,346.59L119.84,338.69L119.25,338.22L115.45,338.19L112.33,338.88L109.66,342.73L109.76,343.96L123.32,358.53L124.01,358.12Z"/><path fill="url(#ga144_0)" d="M40.07,302.87L38.44,301.79L35.73,303.17L31.39,303.64L30.33,304.93L28.17,309.9L28.41,314.02L29.49,315.98L30.42,316.85L36.24,316.03L41.64,317.03L42.97,316.93Z"/><path fill="url(#ga72_3)" d="M83,304.09L82.91,302.52L75.3,300.49L67.28,297.51L64.95,301.27L66.95,307.53L68.73,310.42L72.25,311.75L75.71,310.95L78.68,308.94Z"/><path fill="url(#ga156_2)" d="M85.97,307.13L78.89,314.27L83,319L90.14,321.78L94.75,318.34L99.41,316.25L99.6,315.84L99.27,314.69L92.42,312.69Z"/><path fill="url(#ga84_0)" d="M116.09,304.39L115.63,304.7L115.78,305.73L126.61,319.71L127.13,319.96L132.19,316.51L136.58,311.25L136.44,307.07L137.22,303.71L136.29,302.02Z"/><path fill="url(#ga168_1)" d="M10.21,329.67L12.63,334.38L15.42,334.78L21.63,336.57L23.66,333.38L26,330.97L25.81,324.56L25.28,319.89L24.86,319.17L24.38,318.92L19.53,321.55L14.81,322.5Z"/><path fill="url(#ga132_0)" d="M64.47,332.84L65.06,333.84L68.12,333.88L71.41,336.25L72.48,336.49L75.07,334.95L75.66,333.83L75.39,324.42L76.04,316.58L75.34,315.51L71.28,314.6L69.07,314.69L67.82,315.3L66.32,318.35L62.96,321.52L64.12,326.73Z"/><path fill="url(#ga96_3)" d="M78.68,319.65L78.67,334.05L79.13,334.14L81.98,333.97L85.12,334.4L87.42,331.32L87.03,329.15L87.99,325.08L79.55,319ZM17.33,375.03L16.61,375.74L16.85,376.37L22.25,375.42L27.37,376.17L27.63,375.64L26.48,373.11Z"/><path fill="url(#ga252_1)" d="M111.45,325.26L113.66,333.83L114.31,334.24L119.56,333.79L124.84,330.12L125,329.15L124.17,326.04L124.08,322.63L119.91,315.32L113.6,309.83L109.23,313L107.5,316.62ZM165.06,361.42L164.93,366.38L166.04,366.97L169.88,366.24L169.47,361.27L169.95,357.45L168.78,357.17Z"/><path fill="url(#ga132_3)" d="M10.7,338.45L8.13,342.29L5.15,344.97L5.09,351.4L5.57,359.31L15.39,354.5L24.9,351.08L25.28,350.62L25.12,347.9L24.28,344.23L21.73,341.84L21.81,341.36L16.1,340.52Z"/><path fill="url(#ga180_0)" d="M41.96,332.89L41.13,332.14L35.07,331.8L29.86,333.97L25.2,340L25.2,341.29L27.78,345.5L28.66,345.89L34.32,345.18L41.8,345.6L42.63,345.24L44.8,337.52ZM59.12,360.14L61.9,369.78L71.3,371.05L71.84,370.46L73.08,364.23L72.22,359.41L64.65,360.54L59.54,359.44Z"/><path fill="url(#ga204_2)" d="M57.59,353.45L57.13,353.74L57.8,354.7L58.39,354.71L71.26,354.34L71.86,353.9L72.3,352.87L72.65,347.87L70.44,339.83L69.54,338.79L65.25,336.97L63.53,337.47L59.82,345.51Z"/><path fill="url(#ga108_3)" d="M77.06,336.5L72.74,339.21L75.12,347.97L75.11,355.28L76.3,356.06L85.02,355.53L91.46,352.73L91.56,351.84L89.97,344.78L85.15,336.8L82.1,337.35Z"/><path fill="url(#ga96_1)" d="M141.09,351.44L141.69,351.75L141.89,350.95L143.24,336.38L137.2,333.68L129.21,334.2L124.18,338.19L126.21,346.16L130,351.15L136.96,352.75Z"/><path fill="url(#ga216_2)" d="M170.31,334.41L169.76,333.57L168.78,333.86L166.8,335.98L162.22,338.67L162.59,339.72L166.39,342.99L168.59,347.59L170.01,348.12L170.44,346.83Z"/><path fill="url(#ga216_3)" d="M53.47,359.92L51.95,359.33L48.67,360.98L46.21,365.03L49.17,375.72L50.29,376.27L53.33,375.43L56.33,371.64L56.45,364.37Z"/><rect x="7" y="264.8" width="163" height="111.2" filter="url(#grain)" opacity="0.7" style="mix-blend-mode:overlay"/></g>
<g clip-path="url(#cs1)"><rect x="179.1" y="264.8" width="162.6" height="111.2" fill="#0c0c0c"/><path fill="#6c6c6c" d="M238.69,287.49L238.66,286.65L239,287.14L238.95,287.16L238.78,287.33ZM296.34,311.47L297.31,311.73L297.14,311.77L297.09,311.71L296.51,311.67ZM308.58,314.88L308.83,315.07L305.59,313.15L305.35,312.86L308.46,313.63L309.15,313.95ZM216.52,295.65L215.63,295.16L215.67,295.09L215.57,294.98L215.9,293.97L216.21,294.21L216.74,294.4L217.34,295.12ZM296.16,346.64L295.83,345.91L295.91,345.7L295.92,345.52L296.03,345.45L296.34,346.39L296.16,346.42ZM293.32,356.1L293.46,355.9L293.43,355.82L293.37,355.68L293.73,355.54L293.77,355.51L293.96,355.52ZM193.96,358.98L193.89,358.76L193.98,358.75L194.66,358.73L194.76,359.27L194.43,359.25ZM204.9,355.6L205.45,354.61L205.73,354.59L206.06,354.29L205.91,354.79L206.61,355.29L206,356L205.75,355.7ZM195.94,322.1L195.3,321.62L194.62,321.63L194.98,321.24L195.92,320.89L196.13,320.83L197.29,321.88ZM195.76,308.54L195.94,308.5L195.98,308.59L196.3,309.23L196.43,309.66L196.49,309.93L196.12,309.83ZM216.05,348.25L214.85,346.77L214.97,346.59L214.57,346.62L215.6,344.81L215.52,343.7L216.66,344.17L217.3,344.79ZM262.67,281.66L265.26,280.5L264.68,281.14L265.06,280.93L264.34,282.35L264.39,282.72L263.73,282.96ZM204.7,304.4L205.51,304.57L205.41,304.8L205.41,304.88L205.34,304.99L205.14,305.3L205.04,305ZM335.16,317.02L335.39,316.68L334.71,315.91L335.42,315.7L334.96,315.52L335.09,315.55L336.8,315.87L336.09,316.97ZM180.09,344.82L180.42,344.47L180.43,344.62L180.63,344.57L180.65,344.74L180.72,344.69L180.57,345.18L180,345.18ZM265.47,282.37L265.49,282.43L264.95,281.7L265.27,281.66L265.37,281.81L265.82,282.1ZM181.84,271.19L181.75,271.07L181.69,271.1L181.58,270.61L181.54,270.58L181.69,270.18L181.95,270.38L182.07,270.48ZM332.43,338.15L332.23,337.97L331.83,337.74L331.67,337.72L332.96,337.94ZM237.18,320.71L237.44,320.62L238.15,320.54L238.8,320.57L239.21,321.05L240.33,321.32L239.1,321.92L239,322.29ZM286.69,296.67L286.48,296.59L286.7,295.92L286.82,296.16L287.37,296.33L287.05,296.48L287,296.47L287.03,296.54ZM197.33,355.57L197.74,355.32L198.33,355.52L198.1,355.59L198.06,356.05L197.88,356.16L197.6,356.02L197.59,355.89ZM314.6,289L314.04,289.32L314.1,289.05L313.96,288.88L313.81,288.87L314.11,288.54L314.73,288.53L314.53,288.73ZM266.64,301.2L266.88,301.18L267.74,301.35L267.29,301.72L266.49,301.68ZM302,324.8L303,323.88L303.03,323.58L303.06,324L303.9,324.21L303.64,324.75L303.47,324.93L303.29,325.5ZM195.6,271.77L194.04,271.84L194.05,271.17L194.09,270.61L193.94,269.6L194.74,270.07L195.78,269.86L196.13,269.92ZM277.47,358.5L277.4,358.24L277.33,358.1L277.67,357.64L277.82,357.59L278.48,357.89L278.25,357.97L278.38,358.09ZM192.57,327.13L192.8,327.45L192.89,326.84L193.09,327.69L193.03,328.66L192.67,328.45L192.71,328.34L192.49,328.32ZM337.25,315.82L337.16,315.21L337.35,314.86L337.64,315L338.05,315.57L338.53,315.92L338.49,316.15ZM325.9,371.21L325.83,371.41L325.41,371.12L325.89,370.64L326.24,370.57L326.27,370.6ZM310.49,286.16L310.37,285.75L310.59,285.73L311.08,285.72L311.43,286.03L311.51,286.47ZM221.1,342.24L220.3,341.49L220.03,340.85L219.59,340.25L221.83,340.63L221.32,341.2L221.5,342.13Z"/><path fill="#9c9c9c" d="M193.98,306.08L194.33,304.75L197.12,304.37L197.82,305.05L197.19,306.51L195.52,306.91ZM242.34,369.58L240.86,369.93L240.25,369.87L240.58,368.81L240.23,368.56L240.02,367.67ZM221.32,364.64L221.49,364.07L221.59,363.9L221.68,364.09L221.68,363.85L221.74,364.02L222.14,363.85L221.97,364.66ZM335.68,317.21L335.24,316.65L335.49,316.24L337.47,316.38L337.71,317.49ZM235.9,343.5L236.15,343.75L236.41,343.29L237.73,344.18L237.14,344.24L237.63,344.24L236.33,345.14L236.06,344.75ZM241.39,340.21L242.16,340.54L244.06,340.79L242.84,343L242.37,342.85L242.37,343.37ZM251.29,353.48L251.22,353.41L250.87,353.57L250,353.09L249.98,351.7L252.3,352.27ZM230.33,375.37L230.05,375.11L229.89,374.72L230.31,373.99L231.05,375.59ZM201.12,278L201.03,278.02L200.99,278.58L200.7,278.02L201.37,277.7ZM214.09,367.7L213.35,367.63L213.14,366.64L213.59,366.15L213.76,365.57L213.84,365.26L214.17,365.33L214.83,366.12ZM313.53,315.68L314.5,316.14L314.53,315.93L316.55,316.82L317.59,317.16ZM215.95,366.39L216.41,366.14L216.49,366.07L217.36,365.76L216.62,366.76ZM252.76,359.53L251.15,360.61L252.34,357.51L252.63,356.84L253.1,357.56L252.96,359.09ZM248.4,294.49L248.35,294.37L248.49,294.13L248.97,293.94L249.94,294.15L249.49,294.33L249.91,294.61L249.72,294.73ZM229.15,354.95L229.88,354.37L229.91,354.48L230.01,354.31L229.91,354.78L229.9,354.87ZM208.12,335.89L209.11,335.38L208.81,335.12L208.97,334.61L211.68,335.11L211.69,335.37L210.18,337.17L208.59,336.67ZM317.08,306.27L316.86,306.3L316.8,306.67L316.34,306.45L316.78,305.93L317.07,306.11ZM306.16,367.3L306.41,366.91L306.33,366.67L307.15,367.37L307.15,367.56L306.56,367.66L306.56,367.56ZM313.58,333.22L313.62,333.06L313.51,333.09L314.43,332.99L314.27,333.22L314.26,333.23ZM193.52,357.85L192.61,356.14L194.5,356.58L194.19,356.97L194.11,357.27L194.23,357.99ZM205.71,291.96L207.88,291.91L207,293.13L206.7,293.17L205.01,293.51ZM280.91,300.66L279.84,300.97L283.89,297.83L283.23,298.91L282.55,299.97ZM323.97,356.88L324.07,356.69L324.31,356.85L324.07,357.62L323.85,357.31ZM297.52,351.77L296.36,351.53L295.84,350.83L299.02,348.96L299.71,349.9L299.77,349.99ZM221.96,311L221.5,311.02L220.82,311.02L220.67,311.1L220.78,310.2L220.88,310.03L221.37,309.42L222.07,310.47ZM331.08,367.99L331.15,368.17L330.31,368.32L330.11,368.19L331.22,367.67L331.29,367.73ZM319.86,328.29L320.42,327.34L320.64,327.12L321.07,327.49L321.87,328.35L321.53,328.65ZM280.89,274.93L281.33,273.66L282.5,274.08L283.33,275.86L281.38,276ZM295.54,293.53L296.05,293.49L296.34,293.6L296.51,293.71L296.47,293.95ZM220.82,297.14L220.1,296.53L219.51,296.54L219.9,296.03L220.18,295.56L220.88,295.2L221.43,295.87L222.02,296.68ZM331.64,314.2L331.52,313.81L331.76,314.01L333.21,314.69L333.57,313.66L335.15,315.95L332.79,318.48ZM246.54,356.29L246.42,356.36L246.11,356.41L245.77,356.08L246.08,355.88L246.12,355.63L246.53,356.02ZM187.69,355.03L187.84,354.21L188.26,354.16L188.4,353.64L188.57,354.13L188.71,354.02ZM211.1,357.02L210.07,355.91L210.3,355.79L210.94,355.43L211.01,355.48ZM263.96,317.67L264.07,317.6L263.85,317.51L264,317.37L264.77,317.16L264.35,317.71ZM308.83,311.18L308.2,310.39L309.2,309.97L309.39,309.79L309.8,310.5L309.88,310.73L309.66,311.05L309.27,311.45ZM214.62,281.65L214.2,281.11L214.28,280.35L216.13,280.59L216.05,281.37L216.16,281.77ZM258.1,310.12L257.98,309.5L257.94,309.09L258.54,309.42L258.7,310.51L258.42,311.09L258.34,311.25ZM336.32,265.67L337.67,264.85L338.92,265.1L338.64,266.06L337.41,266.89L337.31,266.72L336.8,266.67ZM239.98,334.64L239.38,334.82L238.87,334.79L239.3,333.86L239.19,333.86L240.11,332.89L240.13,333.33ZM230.94,332.53L230.45,332.65L230.29,331.39L230.33,331L231.18,330.87L231.35,331.69ZM325.16,265.65L325.73,265.82L325.95,265.81L326.1,266.59L325.69,266.68L325.67,266.81L325.39,266.5Z"/><path fill="#787878" d="M330.52,317.89L330.64,317.34L331.96,318.25L332.27,318.87L331.84,319.18L331.94,320.5L331.85,320.58ZM233.3,340.87L233.11,340.12L233.25,340.41L234.62,342.14L234.75,342.77L234.17,342.26L234.1,342.5L233.36,342.21ZM197.34,325.5L197.05,325.46L196.7,324.96L197.44,324.85L197.68,325.21ZM280.22,274.13L280.13,274.45L279.95,274.85L279.69,273.88L280.75,272.15L281.21,272.97L281.6,274.08ZM197.42,269.97L197.48,269.82L197.32,269.73L197.32,269.35L197.72,269.25ZM337.56,312.85L338.97,308.34L339.1,308.64L340.48,309.32L340.19,310.51ZM282.98,335.65L283.8,335.74L283.91,336.06L283.96,336.09L283.92,336.38ZM269.86,303.01L269.42,302.67L268.95,302.59L269.47,302.5L270.44,302.59L270.49,302.61L270.96,302.75ZM220.3,272.72L219.51,271.73L219.24,271.39L219.09,271.19L219.32,271.01L220.45,271.01L220.29,271.34L220.7,272.56ZM258.06,329.57L258.61,328.61L258.99,328.55L258.95,329.39L258.63,329.82L258.02,330.07ZM194.61,298.23L195.1,298.94L195.95,298.96L196.16,299.84L195.4,300.62L195.42,300.95L194.44,300.49L194.21,300.63ZM261.04,332.45L261.07,331.91L261.09,331.75L261.16,331.66L261.48,331.78L261.62,331.53L262.26,331.9L262.23,332.1ZM321.38,269.52L320.05,269.5L318.72,268.25L318.77,268.04L321.5,267.23L322.17,268.83L321.33,268.85ZM245.26,356.41L244.87,356.38L244.71,354.85L244.82,354.79L247.05,355.11L246.87,355.21ZM188.29,332.98L189.02,332.43L189.13,332.58L188.99,333.3L188.92,333.29L188.82,333.34L188.79,333.36L188.32,333.21ZM187.76,351.83L187.15,352.22L187.01,351.68L187.49,351.39L187.73,351.56L187.69,351.61L187.54,351.73ZM327.82,311.84L327.84,311.55L328.25,311.36L328.31,310.91L328.69,311.36L328.71,311.52L328.94,311.72ZM229.21,319.14L226.59,319.51L226.36,319.57L225.92,318.73L225.47,318.05L226.56,316.91L227.34,317.27L228.51,317.57ZM262.33,373.8L262.55,374.38L262.4,374.42L262.37,374.82L262.24,374.68ZM242.24,360.33L241.47,358.57L241.92,358.34L243.67,357.2L245.09,359.85ZM262.7,284.14L262.81,284.04L262.48,283.81L262.46,283.34L263.66,284.64L263,284.17ZM211.09,319.93L210.58,319.32L210.78,319.1L211.05,319.17L211.44,319.41L211.73,320.1ZM220.2,287.73L223.12,288.64L221.82,290.74L221.87,291.29L221.42,289.99ZM293.65,271.02L293.65,270.94L293.61,271L293.51,270.16L293.69,269.83L294.07,270.26L293.82,270.84ZM314.86,323.38L314.96,323.45L314.35,323.53L314.06,323.6L313.93,323.3L313.74,323.28L313.99,323.1L314.21,322.91ZM259.95,330.33L259.8,330.14L259.97,329.65L260.88,329.98L261.04,330.13L260.92,330.23L260.46,330.64ZM267.99,370.15L267.08,370.12L266.82,369.15L268.33,367.68L270.64,368.38L269.86,370.8ZM214.93,336.76L214.76,336.57L214.47,336.83L214.14,335.63L214.47,334.9L216.39,335.77L215.66,336.69L215.21,337.14ZM207.99,367.98L209.15,366.62L209.27,366.14L209.59,366.99L210.62,366.92L210.13,367.96L210.67,369.37ZM201.54,362.88L200.58,361.92L200.81,361.79L200.92,361.14L201.01,361.6L201.01,361.24L201.57,360.49L201.97,360.68ZM321.31,311.75L320.74,311.63L320.65,311.47L320.66,311.35L320.45,311.29L320.61,311.21L320.91,310.79L320.92,310.74ZM222.85,358.76L223,358.55L223.37,357.9L223.65,357.98L223.45,358.27ZM321.77,366.11L321.75,366.23L321,365.31L321.48,365.41L321.89,365.89ZM260.67,295.34L259.22,293.68L258.99,293.06L259.62,293.36L260.32,292.91L260.96,293.55L263.47,295.48ZM335.44,326.08L335.23,325.91L335.61,325.46L336.83,325.01L336.86,325.27L337.24,325.61ZM308.18,361.61L308.45,361.49L308.79,361.36L308.22,362.21L308.27,362.04L308.1,362.1ZM257.36,299.2L257.35,298.35L257.39,298.15L258.7,296.83L258.94,297.79L259.48,297.95L257.63,299.02ZM214.93,328.71L215.93,328.41L216.1,328.98L216.23,329.35L216.59,329.38L216.53,329.4L215.45,330.73ZM197.19,343.19L197.29,342.9L197.52,342.01L197.88,342.71L197.75,342.84L197.69,343.12ZM188.37,283.99L188.47,283.89L188.64,283.84L188.77,283.81L188.72,283.68L189.29,284.2L188.61,284.27L188.59,284.27ZM241.07,355.19L241.05,355.25L240.7,354.78L240.62,354.43L241.27,355.14Z"/><path fill="#3c3c3c" d="M203.53,350.34L202.65,349.83L202.87,349.23L202.96,349.21L203.11,348.6L203.43,348.54L204.66,349.65L203.71,350.03ZM335.57,292.83L335.56,292.86L334.75,292.4L335.29,292.39L335.44,292.32L335.6,292.48L335.74,292.53L335.78,292.67ZM201.88,356.77L201.97,355.28L202.03,354.65L203.01,354.05L203.31,352.95L204.09,356.52L203.35,357.35ZM276.4,322.1L276.24,321.61L276.56,321.47L276.65,321.53L276.73,321.46ZM305.29,350.96L304.33,349.56L304.86,349.58L305.49,348.91L306.28,349.33L306.3,351.28L306.4,351.94ZM254.54,352.6L253.89,351.95L254.61,351.69L255.69,351.83L256.43,351.95L256.52,352.13L256.39,353.2L255.93,353.39ZM257.41,301.52L257.25,301.38L257.29,301.16L257.3,301.15L257.32,300.74L257.9,300.56L257.74,300.82L257.59,301.4ZM294.46,328.18L294.71,327.8L295.03,328.19L294.78,328.74L294.7,328.67ZM216.85,339.44L217.68,338.34L218.16,338.6L218.36,338.4L219.42,338.39L218.95,339.56ZM236.46,320.4L236.84,320.14L237.57,320.33L237.28,320.71L237.06,320.73ZM214.8,272.22L213.51,271.76L213.32,271.03L213.62,270.93L213.64,270.58L213.88,270.49L215.81,271.63L215.49,271.68ZM262.07,364.23L261.75,363.65L262.51,364.05L262.63,364.31L262.47,364.46L262.5,364.65L262.44,364.62L262.33,364.5ZM274.31,305.68L273.53,304.84L273.87,304.94L275.54,305.22L275.73,305.74L275.2,305.8ZM237.71,314.59L237.47,314.24L237.17,314.14L236.94,313.49L238.02,313.65ZM220.01,265.44L221.02,264.7L222.75,266.53L222.92,267.1L222.07,268.7L221.42,268.75L219.42,268.24ZM229.52,369.3L229.38,369.28L229.08,369.27L229.12,368.71L228.97,368.58L229.09,368.55L229.48,368.59L229.85,368.99ZM333.44,327.25L334.38,325.42L334.79,329.03L334.59,328.84L334.11,329.21L333.37,329.45ZM265.26,275.5L265.16,275.1L264.97,275.08L266.44,274.51L266.69,274.56ZM311.91,284.51L311.62,284.16L311.93,284.07L312.3,284.11L312.93,284.83L312.54,284.92ZM197.61,321.28L197.57,321.36L197.29,321.53L196.85,320.88L197.51,320.56L197.59,320.34L198.04,320.79L198.01,320.99ZM295.75,336.98L295.83,336.87L296.21,335.89L296.77,336.43L297.39,337.73L297.25,337.9L296.27,337.48ZM264.8,330.17L265.06,330.13L265.15,330.15L265.34,330.71L265.26,330.7L264.76,331.03Z"/><path fill="#242424" d="M273.11,270.66L272.1,271.77L271.61,270.72L271.16,270.2L271.59,268.96L272.48,269.15L272.7,268.81ZM271.7,294.43L271.67,294.13L272.63,294.4L272.51,294.87L272.53,295.21ZM259.63,347.64L259.41,344.65L260.12,343.22L260.31,344.15L261.79,345.56L261.73,346.74ZM297.09,300.04L297.12,299.95L297.56,299.73L299.17,299.54L298.61,300.12ZM195.68,314.9L196.57,314.78L197.12,314.69L196.64,316.51L196.23,316.78ZM199.02,360.8L198.7,360.23L199.34,360.22L199.6,360.41L199.77,360.76L199.58,360.79L199.5,360.83ZM310.29,301.83L310.11,301.77L310.1,301.69L310.01,301.78L309.98,301.59L310.45,301.46L310.4,301.49L310.62,301.85ZM261.8,320.78L260.99,320.62L260.9,319.9L261.29,320.1L262.3,319.89L262.1,320.3L262.25,320.58ZM277.71,283.88L277.72,284.21L277.49,285.34L276.67,285.53L277.31,282.23L277.34,282.35L277.42,282.01L277.59,281.95ZM292.57,268.08L293.45,267.73L293.19,267.17L293.43,266.76L294.1,266.99L294.76,266.72L294.95,266.44L295.16,269.15Z"/><path fill="#545454" d="M305.44,273.74L306.23,273.68L306.33,272.95L308.22,274.83L306.96,275.09ZM273.33,267.92L273.51,267.81L273.16,266.7L273.4,266.62L274.06,267.49L274.53,268.12L274.23,268.35ZM324.3,345.59L325.42,345.54L325.37,345.92L325.63,345.85L325.23,346.93L324.68,346.97ZM233.3,354.77L233.06,354.43L234.38,354.19L234.95,354.22L234.71,354.57L234.33,355.05L233.92,355.14L233.71,354.96ZM225.01,326.26L225.84,326.7L226.01,327.05L226.13,327.65L225.42,328.07ZM266.12,338.98L265.71,337.8L267.28,337.41L268.05,339.01L267.93,339.43L267.36,339.72ZM303.28,328.08L302.19,327.77L302.5,327.58L302.58,327.4L302.93,327.57ZM293.28,366.72L294.21,365.99L296.2,367.95L295.94,368.02L294.63,369.15ZM247.42,333.11L247.19,332.82L247.24,331.65L247.32,331.38L247.83,331.98L247.82,332.44ZM220.41,358.81L220.05,358.81L219.93,358.65L219.57,358.5L219.74,358.21ZM296.41,374.66L296.48,374.44L297.58,374.62L298.34,375.72L298.58,376L298.58,376.14ZM315.99,341.31L314.74,340.94L315.04,340.03L315.19,339.55L315.06,339.03L315.13,338.98L315.63,339.03L316.72,338.66ZM261.66,303.76L261.67,303.84L261.63,303.95L260.2,306.15L260.04,304.08L260.23,303.03L262.65,300.69L262.8,302.72ZM314.07,310.17L314.04,309.85L314.61,309.63L315.03,309.89L315.51,309.92L315.19,309.99ZM247.33,276.12L247.07,276.03L246.37,276.39L246.27,276.56L243.63,274.76L243.71,274.33L248.31,275.13ZM315.48,375.55L315.43,375.3L316.28,374.29L316.55,374.32L316.64,374.51L316.36,376.16L315.34,376.6ZM192.41,325.07L192.25,325.07L192.79,324.23L192.62,323.78L193.56,323.96L193.84,324.17L194.04,324.19L192.94,325.2Z"/><path fill="#303030" d="M278.64,324.73L278.62,324.68L278.51,324.65L278.53,324.11L278.63,324.14L279.16,324.47L278.95,324.89ZM295.65,354.6L295.51,353.02L298.17,353.04L298.19,353.12L297.75,353.96ZM328.45,326.81L328.36,326.71L328.38,324.54L328.89,323.05L329.97,324.19L330.59,325.48L330.2,325.59ZM309.09,293.31L309.18,293.27L310.05,293.39L310.26,293.5L310.38,293.54ZM310.84,352.31L311.79,352.21L311.87,352.29L311.99,352.46L311.62,352.9ZM262.7,343.6L262.87,343.54L263.15,343.38L263.51,343.44L263.45,343.78L263.19,343.97L263.29,343.96L263.1,344.18ZM228.65,303.44L228.18,303.04L228.21,302.67L228.66,302.19L229.34,302.55L229.83,302.59L229.49,302.79L229.27,303.13ZM325.68,372.35L325.49,371.57L326.2,371.61L326.29,371.83L326.22,371.86L326.32,371.86ZM275.3,306.84L274.3,307.49L274.46,306.92L274.82,305.67L275.68,305.72ZM233.15,334.36L230.63,332.11L230.83,331.07L231.94,331.67L232.49,330.66L233.17,331.21L233.26,332.09L233.31,332.33ZM288.48,287.6L287.59,287.31L289.24,286.41L289.46,286.56L289.81,287.55L289.66,287.81Z"/><path fill="#606060" d="M185.86,327.22L185.77,326.86L185.76,326.67L185.93,326.38L186.12,326.49L186.56,326.68L186.39,327.05L186.34,327.03ZM236.68,361.7L236.69,361.45L236.93,361.07L238.82,361.45L238.79,361.66L239.02,361.74L237.44,362.1L237,362.44ZM290.95,351.86L289.16,352.39L289.58,351.7L289.28,350.9L289.79,350.74L291.98,350.77L292.1,350.96ZM288.27,283.12L288.3,282.49L288.34,282.47L288.74,282.01L288.75,282.04L289.17,282.63L288.89,282.79ZM236.53,291.54L236.41,291.2L236.58,291.17L237.26,291.15L237.23,291.45L237.27,291.55L237.07,291.58ZM274.18,272.42L273.77,272.23L275.03,271.51L277.35,271.31L278.17,271.78L277.28,272.95ZM262.31,338.52L262.14,338.24L260.53,338.25L261.64,336.66L263.13,336.62L263.97,336.71L263.05,338.28ZM254.23,339.02L254.33,338.92L254.95,341.04L254.92,341.57L254.52,341.19L254.46,341.22L254.08,341.12ZM239.54,278.71L239.82,277.28L242.4,275.7L242.86,278.84L241.83,279.36L240.39,279.47ZM219.4,361.27L219.43,360.94L219.56,361.15L219.59,361.25L219.78,361.97ZM250.53,276.9L250.6,276.77L250.7,276.74L250.97,276.47L251.08,276.46L251.3,277.14ZM324.67,311.17L324.32,310.83L323.08,309.13L323.44,309.23L324.24,309.79L324.69,310.72ZM262.47,341.05L262.04,340.58L262.07,340.24L262.13,340.28L262.59,340.21L262.68,340.27L262.76,340.56L262.95,340.94ZM181.59,317.48L182.69,316.25L183.15,315.51L183.35,315.81L182.33,318.05L182.26,318.08ZM221.09,307.78L221.38,305.74L222.37,305.91L222.16,306.47L221.53,306.9ZM241.19,355.93L241.39,355.81L241.61,356.01L241.79,355.86L242.25,356.58L242.34,357.04ZM229.9,301.31L229.74,299.92L229.6,299.82L229.83,299.14L232.09,299.48L231.98,301.06ZM236.39,363.84L236.61,363.78L239.09,363.41L239.01,363.69L238.44,364.89L237.25,365.28L236.07,365.11ZM258.31,286.11L257.67,286.06L258.14,285.65L259.17,283.52L259.33,285.91L258.93,286.18ZM297.94,337.02L297.14,335.42L296.74,333.92L299.83,336.65L300.2,337.56L301.08,339.54ZM309.25,326.15L309.53,325.74L309.63,325.85L310.22,326.41L309.91,326.56L309.93,326.83ZM249.14,295.98L248.92,295.66L248.78,295.42L249.62,295.26L249.61,295.81ZM280.85,325.29L280.76,324.96L281.05,324.36L281.11,324.25L281.48,324.53L281.38,324.78L281.64,324.85L281.12,325.46ZM255.09,323.88L255.14,323.72L256.39,323.08L256.52,323.65L256.45,323.99L256.02,324.12L255.97,323.94L255.73,324.1ZM225.7,354.82L225.36,354.82L225.34,354.56L225.44,354.47L225.73,353.84L225.79,353.69L225.78,353.99L226.25,354.04ZM274.28,319.7L273.84,319.29L274.15,318.44L274.1,317.63L274.57,317.05L274.84,317.25L275.09,317.18L274.98,318.46ZM272.55,331.62L272.92,331.66L273.41,332.07L273.52,332.51L273.03,332.25ZM241.64,277.06L241.31,277.25L241.16,276.69L240.83,276.8L241.13,276.37L240.38,275.76L240.58,275.29L243.04,275.19ZM215.2,299.32L215.07,298.84L215.25,298.53L215.35,298.56L215.68,298.5L215.87,298.59L215.94,298.81L215.51,299.16ZM279.37,265.85L279.29,265.68L279.36,265.6L279.23,265.14L280.42,265.3L279.71,265.99ZM281.12,351.35L280.81,351.9L278.92,352.11L278.76,352.01L278.83,351.41L279.7,350.05L280.33,350.94ZM230.42,324.28L231.51,323.96L231.71,324.84L232.51,324.47L232.23,325.01L230.29,326.47L229.52,327.1L227.55,326.69ZM288.13,329.7L287.87,329.63L287.84,329.6L287.69,329.55L287.23,329.06L286.92,328.47L286.56,327.76L288.29,329.48ZM335.91,322.78L333.29,322.67L333.33,322.48L332.42,321.8L333.26,321.51L334.67,320.6L335.55,321.68Z"/><path fill="#909090" d="M291.94,289.35L291.98,289.22L292.28,289.84L292.28,289.96L292.17,290.07ZM257.16,307.36L256.48,307.45L256.19,307.03L257.13,306.97L257.2,307.05ZM298.37,284.54L298.49,284L298.71,284.04L299.05,284.3L299.1,284.43L298.79,284.96L298.76,284.92ZM339.28,309.45L339.09,309.43L338.48,308.6L338.75,308.87L338.9,308.69L339.01,308.71L339.61,309.45ZM257.46,340.3L257.05,340.12L256.9,340.06L256.78,339.98L256.81,339.98L256.8,339.93L257.76,340.13ZM269.01,340.84L268.99,339.99L269.22,339.93L269.6,339.9L269.59,339.99L269.72,339.93L269.53,340.64ZM331.61,296.81L330.8,296.72L330.87,296.38L330.96,296.1L331.01,296.01L331.3,296.13L331.5,295.61L331.79,296.08ZM308.73,275.79L308.83,275.88L308.87,276.32L308.54,277.08L308.65,277.42L308.19,277.41L308.12,277.53ZM187.72,277.83L187.22,277.83L186.67,277.76L186.8,277.28L187.83,276.4L188.11,275.94L188.6,276.58L188.61,276.91ZM312.3,328.48L312.41,328.58L311.95,328.51L311.47,328.65L311.34,328.35L311.3,328.23L311,328.06ZM259.28,307.12L259.73,306.83L259.9,306.52L259.95,306.73L260.77,306.77L260.27,307.04ZM257.15,279.66L257.14,279.52L257.5,279.02L258.01,278.77L258,278.85L258.24,279.23L257.26,280.02L257.3,279.63ZM180.07,306.68L179.98,306.59L179.75,306.65L179.51,306.33L179.88,305.83L179.91,305.96L179.97,306.22ZM317.55,374.86L318.09,373.98L318.27,373.71L318.95,374.62L319.04,374.88L318.82,375.22L318.72,375.21L318.24,375.03ZM283.77,307.82L283.77,308.03L284.04,308.81L285.24,308.94L281.46,311.54L280.17,312.04ZM238.85,276.46L238.24,276.91L237.97,276.6L237.92,276.69L238.31,275.32ZM265.59,349.91L265.69,349.85L266.11,349.22L266.5,349.73L266.27,350.4L266.02,350.4ZM201.95,361.22L203.64,360.68L204.75,360.42L204.23,361.77L203.13,362.94L202.43,362.92ZM183.04,270.49L183.63,270.05L184.02,270.4L184.15,270.17L184.94,270.99L184.63,272.23ZM206.63,322.16L206.29,321.46L208.67,320.86L208.82,320.94L208.7,321.63ZM184.17,333.47L184.45,333.19L184.67,332.89L185.42,333.09L185.16,333.33ZM308.69,323.06L308.67,322.7L308.9,322.55L309.29,323.2L309.13,323.2L309.3,323.3ZM190.69,306.08L190.26,305.48L190.59,305.64L190.95,305.66L191.37,305.87L191.38,305.94L191.4,306.05ZM319.07,280.29L319.37,278.83L318.86,278.4L321.26,277.61L321.47,278.27ZM299.78,321.35L299.34,321.35L299.19,321.26L299.08,321.33L298.67,320.78L298.91,320.66L299.03,320.63L299.3,320.53ZM246.72,369.59L246.78,369.62L247.06,369.61L247.18,370.21L247.12,370.23ZM312.28,281.24L312.06,281.22L311.59,281.36L311.3,281.15L311.33,280.84L311.74,280.58L312.08,280.65ZM180.68,301.17L180.3,300.11L180.8,299.31L181.69,299.45L182.65,301.46ZM248.65,366.58L248.53,366.7L248.87,365.98L248.93,366.01L249.09,365.83L249.24,366.23ZM201.39,348.39L201.93,348.07L202.46,347.78L203.66,347.53L203.81,348.49L202.33,350.99L201.2,349.96L201.42,349.78ZM187.75,309.4L188.41,309.21L191.23,309.3L191.23,309.4L189.85,310.69L189.15,311.01ZM220.26,304.48L219.5,303.02L220.11,303.24L219.94,302.82L221.64,303.2ZM334.7,338.86L335.03,338.16L335.46,338.48L335.61,338.63L335.53,338.66L335.68,338.77L335.42,339.04L335.25,338.9ZM279.15,361.55L279.36,361.59L279.51,362.18L279.47,362.42L279.3,362.52L279.29,362.44L279.21,362.46L279.08,362.68ZM289.27,340.09L289.33,339.88L288.98,339.65L288.62,339.56L288.77,339.35L289.2,339.44L290.14,340.2ZM261.12,308.38L262.97,309.01L262.85,309.82L262.8,310.72L262.82,310.78L262.05,311.83L261.82,311.78ZM203.29,375.54L203.08,375.32L203.28,375.11L203.46,374.71L203.85,374.71L203.83,374.89L203.44,375.74L203.5,375.52ZM244.76,337.86L244.6,337.46L244.84,337.25L244.94,337.27L245.24,337.31L245.37,337.33L245.45,337.49ZM248.85,304.24L248.84,305.01L246.03,305.34L245.72,303.49L246.11,302.98L245.88,302.21L245.91,301.93L248.8,303.73ZM211.27,351.44L211.75,351.25L211.16,350.98L212.23,350.43L212.87,351.13ZM268.55,336.68L268.61,336.54L268.77,336.27L268.81,336.24L269.04,337.17ZM311.12,310.3L310.72,309.8L311.47,309.85L311.62,309.65L311.21,311.29L310.94,311.61ZM191.62,297.02L191.51,296.83L191.65,296.39L191.99,296.36L192.22,296.26L192.29,296.3L192.28,296.74L191.73,297.47ZM307.39,368.77L307.58,368.02L308.04,368.31L307.94,368.4L307.79,368.72L307.58,368.57ZM250.01,276.83L250.17,276.84L249.94,277.09L250.13,277.11L250.01,277.23L249.74,277.23L249.68,277.27L249.15,277.41ZM203.05,340.21L204.27,340.32L205.79,342.06L205.43,341.93L205.32,342.11L204.81,342.2ZM340.38,319.38L340.47,319.24L340.55,319.09L340.99,319.67L341.01,319.77ZM247.11,291.24L247.16,291.25L248.04,290.2L249.7,293.46L249.37,293.54L247.91,292.44ZM254.55,269.14L254.95,268.64L255.12,268.54L255.55,268.52L255.49,268.77L255.14,269.32Z"/><path fill="#d8d8d8" d="M299.59,350.95L299.92,350.64L300.29,350.55L300.18,350.75L300.27,351.3L299.6,351.16ZM287.08,344.92L291.13,349.8L289.95,348.36L290.46,349.5L288.43,348.05ZM304.77,275.83L303.95,275.42L303.37,275.74L302.73,274.87L301.61,274.4L301.47,273.8L303.59,273.15L304.21,274.69ZM300.27,357.02L300.32,356.75L301.88,356.25L300.86,358.5L300.58,358.42ZM305.83,284.16L306.17,283.58L306.18,283.77L306.26,283.8L306.38,284.55L306.14,284.77ZM285.63,349.08L285.53,349.11L285.42,349.07L284.95,348.85L285.38,348.77L285.64,348.55L286.29,348.83L286.54,348.86ZM191.67,309.54L191.71,309.73L191.43,309.56L191.28,309.62L191.22,309.02ZM277.56,355.49L277.41,354.95L278.29,352.24L278.5,352.56L278.64,352.6L279.35,352.51L279.08,353.28L278.69,353.54ZM200.8,363.25L200.62,363.32L200.44,363.43L200.43,363.34L199.96,362.78L200.36,362.28L200.38,362.28L200.79,362.25ZM206.39,320.29L206.25,320.42L205.98,319.6L206.05,319.49L206.45,318.88L207.25,319.71L207.41,320.21ZM278.18,298.79L277.09,298.21L277.62,297.79L278.69,298.05L279.44,298.57L279.97,299.01L279.88,299.04L279.01,299.08ZM333.46,281.38L333.14,280.65L333.36,280.6L333.34,280.52L333.14,280.25L333.37,280.21ZM217.03,326.82L216.62,326.63L216.19,325.95L216.78,325.76L217.29,326.04ZM336.38,349.64L336.04,349.27L336.41,349.38L337.65,350.74L337.34,350.8ZM179.66,323.61L179.89,323.62L180.43,323.44L180.67,323.4L180.52,323.56L180.61,323.6L180.53,323.96L180.02,324.1ZM275.32,304.74L275.8,305.04L275.97,305.16L276.35,305.43L276.44,306.12L275.82,306.16L275.79,305.86L275.6,305.62ZM265.67,336.29L265.71,335.79L265.84,335.66L265.98,335.57L266.12,335.52L266.18,336.1ZM308.79,374.13L308.13,373.52L308.82,372.77L309.06,373.42L309.1,373.76ZM292.64,332.43L292.36,332.92L292.28,332.39L292.62,332.04L292.62,332.18L292.74,332.29ZM223.7,308.32L224,307.99L223.75,307.17L224.6,306.93L225.24,307.35L225.46,307.8L225.6,307.9ZM219.28,288.33L219.28,288.26L219.6,288.1L219.24,287.75L220.01,287.65L220.45,287.54L219.61,288.37ZM239.23,361.92L241.99,357.64L241.85,358.67L242.12,358.22L242.24,359.32L241.87,359.69L240.58,363.13ZM251.15,373.86L250.93,374.16L250.9,374.07L250.62,374.04L250.27,373.58L250.32,373.15L251.5,373.75L251.13,373.74ZM200.72,344.02L200.77,344.03L199.95,344.97L199.93,344.94L199.76,343.49L200.21,342.09ZM192.3,358.09L193.1,357.54L193.67,358L193.89,358.18L193.61,358.22Z"/><path fill="#a8a8a8" d="M266.44,357.78L265.36,356.89L265.1,356.87L265.28,356.18L264.93,356.26L267.9,354.21L267.52,355.19ZM261.44,315.23L260.39,313.7L259.39,312.83L263.71,313.45L262.83,314.99ZM186.22,317.58L186.13,317.98L186.14,318.26L185.77,318.59L185.69,318.82ZM195.29,369.88L194.7,368.75L194.76,367.95L195.24,367.06L195.58,366.99L196.12,366.76L196.15,367.77L196.08,368.02ZM318.75,327.66L318.54,327.55L318.59,327.45L319.36,327.29L319.58,327.31L319.75,327.79ZM217.69,324.01L216.48,323.15L215.89,322.49L215.96,322.51L216.47,322.83L217.24,322.87L217.97,323.21ZM198.64,299.76L198.12,299.32L198.21,299.28L198.44,299.06L198.64,299.13ZM221.54,264.21L223.15,263.75L223.48,263.92L224.58,264.7L223.71,266.88ZM288.76,278.06L287.52,278.85L287.24,278.6L289.42,275.01L289.94,275.53ZM279.08,373.13L279.45,373.1L279.58,372.72L279.85,373.27L279.87,373.95L279.67,373.9L279.78,374.24L279.4,374.08ZM298.71,283.53L298.37,282.27L300.02,281.51L300.03,282.04L300.39,281.72L300.6,282.71L300.06,283.05ZM337.74,281.93L337.62,281.8L337.81,281.51L337.82,281.43L337.99,281.42L339.09,281.97ZM248.54,363.43L248.39,362.92L248.38,361.82L249.07,362.02L249.32,362.26L249.23,362.53L248.88,363.22ZM282.56,313.55L281.87,312.65L282.23,312.79L282.33,312.23L282.78,312.44L283.49,312.33ZM336.66,271.46L336.93,271.5L337.39,271.41L337.44,271.27L338.05,271.55L337.86,271.76L337.75,271.73ZM334.93,281.45L335.31,280.89L335.42,280.8L335.63,280.9L336.19,281.08L336.09,281.56L335.92,282.26L335.42,282.41ZM269.76,280.51L269.4,280.09L269.48,279.65L269.47,279.41L269.9,279.37L270.12,279.82L270.01,279.89L269.89,280.16ZM227.3,355.59L227.24,354.93L227.13,355.2L228.16,353.22L227.94,355.02L227.74,354.75ZM249.12,358.14L249,358.23L249.01,358.22L249.15,358.52L249.36,358.6L248.57,358.96L248.45,358.78L248,358.55ZM242.9,344.79L243.01,344.44L243.04,344.15L243.69,344.21L243.79,344.84ZM226.61,303.55L228.14,303.51L227.9,303.76L227.91,303.92L227.99,304.24L227.85,304.61ZM228.77,267.84L231.2,267.86L231.25,269.2L232.06,271.21L230.73,270.76L230.98,271.91ZM333.3,344.69L332.88,344.86L332.87,344.2L332.93,344.19L333.12,344.09L333.48,344.35L333.3,344.52L333.42,344.59ZM246.44,369.67L246.33,369.11L246.54,369.22L246.8,369.44L247.14,369.82L247.09,370.04ZM232.95,312.7L233.15,312.33L232.93,311.94L233.23,311.63L234.14,310.26ZM277.83,292.94L277.5,294.15L276.73,293.76L276.17,294.3L277.23,291.19L277.32,291.11L277.71,291.52L278.05,290.92ZM296.73,271L296.7,270.53L297.06,270.29L298.16,270.67L297.98,271.14L297.06,271.03ZM271.21,367.8L270.54,367.4L270.94,367.03L271.09,367.24L271.56,367.32L271.68,367.51L271.37,367.7ZM225.87,323.41L225.14,323.05L224.91,324.16L224.58,322.22L223.71,318.03L224.69,317.88L224.77,319.61L225.92,322.53ZM260.73,327.8L260.77,327.53L260.85,327.37L261.24,327.56L261.42,327.68L261.53,327.77L261.37,328.11L261.33,328.15ZM315.42,270.33L315.53,270.3L315.59,270.34L315.68,270.39L315.91,270.52L315.88,270.81L315.7,271.1L315.55,271.08ZM235.78,316.52L235.66,314.34L237.19,315.87L237.75,318.38L237.35,317.98L237.31,318.31ZM193.18,317.51L193.26,317.89L191.29,317.69L191.29,317.53L191.67,316.77ZM335.01,335.25L333.9,335.23L333.97,335.1L333.79,334.05L333.91,333.39L334.32,333.81L335.29,333.28L335.45,333.6ZM221.99,375.74L222.25,375.55L222.76,375.45L222.8,375.83L222.88,375.96L222.14,376.6L221.92,376.5L221.84,376.48ZM271.57,305.87L271.93,305.34L272.27,304.67L272.67,305.43L272.26,306.01L271.94,306.17L271.8,306.42L271.96,306.02ZM275.26,325.95L275.08,325.88L275.19,325.82L275,325.41L275.38,325.42L275.85,325.79L275.98,325.89L275.98,326.18ZM274.33,289.27L274.26,289L273.9,288.58L274.03,288.43L274.5,288.08L274.93,288.83L274.76,289.08ZM254.69,303.97L253.99,304.36L253.87,304.58L253.71,305.25L254.63,302.05L254.46,302.5L254.68,303.55ZM191.03,266.41L190.66,266.88L190.5,267.23L190.5,267.13L190.44,266.77L190.62,265.42L190.74,265.54L190.94,266.35ZM262.84,297.09L263.16,296.24L264.42,296.6L264.65,297.94L264.09,297.93ZM245.21,324.02L248.27,322.76L249.34,323.62L249.37,325.09L249.54,325.26L249.43,325.37L248.98,325.87L248.92,325.93ZM336.51,315.87L337.74,316.04L338.91,318.59L338.69,319.55L337.5,318.62L337.08,318.04ZM227.89,371.15L227.89,371.06L227.83,370.82L227.66,370.53L227.95,370.44L228.38,370.53L228.5,370.78L228.48,371.12ZM278.5,266.75L278.74,266.8L281.43,268.11L280.55,268.99L279.25,268.52ZM255.12,286.14L255.43,286.05L255.48,286.01L255.69,285.82L255.77,286.02L256.12,286.33ZM196.36,348.07L196.4,348.07L196.44,347.97L196.76,348.09L196.93,348.66L196.75,349.02ZM263.43,362.07L261.75,362.23L260.42,361.4L259.97,360.72L260.69,360.49L262.83,360.17ZM221.91,362.8L222.55,362.7L221.84,362.5L224.03,359.69L224.09,360.8L225.06,361.04L223.01,364.69ZM318.92,275.2L317.88,274.58L318.43,273.78L319.16,274.34L319.04,274.69Z"/><path fill="#c0c0c0" d="M179.98,361.65L179.99,361.94L179.35,361.73L179.49,361.54L180.11,361.09ZM302.25,347.06L302.46,346.72L302.03,346.6L303.36,346.44L303.65,346.73ZM244.57,323.86L244.87,324L245.26,324.11L245.23,324.23L245.28,324.31L245.38,324.52L245.19,324.43L244.98,324.6ZM233.74,298.23L233.22,298.13L233.61,297.55L234.24,297.07L234.49,296.94L234.34,297.73ZM272.41,312.38L272.26,312.2L272.32,312.13L273.14,311.62L273.73,311.93L273.61,312.13L273.3,312.27L272.85,312.43ZM217.84,326.26L217.51,325.95L216.97,323.99L220.03,324.26L220.16,324.48L221.94,326.11ZM272.58,299.51L273.77,299.23L274.32,298.98L275.06,298.85L274.89,299.05L275.02,298.99L274.68,299.9ZM209.42,336.84L209.01,336.31L209.56,336.21L210.46,336.77L210.08,336.94L210.19,337.05L210.04,336.97L210.27,337.22ZM338.84,371.81L339.61,372.66L338.21,372.68L336.67,369.52L336.56,368.79ZM189.39,325.44L189.07,325.66L189.22,325.34L188.48,324.77L191.25,325.25L190.75,325.79ZM224.4,368.51L225.06,368.81L226.95,368.86L226.91,368.9L228.31,369.71L227.19,369.72ZM188.84,345.4L190.43,345.31L191.39,345.46L192.04,345.48L192.38,346.28L192.51,346.57ZM224.69,332.9L224.22,332.93L224.21,332.13L225.81,330.51L225.89,330.65L226.32,331.07L226.68,331.75ZM275.24,363.88L274.6,363.87L274.84,363.54L275,363.52L275.65,363.46ZM187.44,322.08L188.63,321.72L188.49,321.98L188.88,322.01L188.56,322.48L188.48,322.82ZM190.88,282.9L190.72,283.01L190.88,283.27L190.62,283.12L190.45,283.06ZM226.28,310.89L226.07,311.18L225.68,310.78L225.66,310.77L226,310.49L226.43,310.16L226.86,310.16ZM192.91,304.47L192.92,304.47L193.06,304.49L193.01,304.35L193.01,304.26L193.31,304.32L193.45,304.9L193.33,305.48ZM336.57,340.01L336.76,340.4L336.12,340.77L335.02,340.25L334.04,339.23L335.11,338.73L336.56,339.41L336.7,339.76ZM326.08,285.69L326.3,285.42L326.82,285.17L326.75,285.4L326.87,285.45L327,285.4L326.85,285.71ZM200.76,337.89L200.37,337.39L200.27,337.17L200.26,337.02L200.21,336.8L200.69,336.98ZM201.83,355.48L201.88,355.07L202.28,355L202.42,355.23L202.5,355.24ZM242.15,345.24L242.21,344.67L242.37,344.44L242.95,344.51L243.11,344.53L243.66,345.14L243.67,345.32L242.93,345.54ZM247.86,293.36L249.42,291.58L249.53,291.72L249.65,294.12L248.73,294.36ZM212.12,332.01L211.9,332.04L211.38,332.09L211.1,331.7L211.24,331.47L211.38,330.92ZM327.53,365.61L327.29,365.55L327.37,365.38L327.17,365.32L327.36,364.46L328.02,364.54L328.35,365.08ZM186.02,306.43L185.73,305.63L185.63,305.15L186.67,306.12L186.87,306.72L187.01,307.31L186.33,306.67ZM334.6,288.55L334.71,288.86L334.24,288.61L332.51,285.18L332.68,284.9L335.1,287.04ZM335.31,374.63L336.42,376.29L336.66,376.64L336.17,376.95L335.45,376.38ZM232.75,300.12L232.58,300.26L232.57,300.17L232.5,300.11L232.4,299.89L232.44,299.65L232.36,299.38L232.97,299.76Z"/><path fill="#b4b4b4" d="M338.61,282.4L338.06,281.96L338.16,281.74L338.62,281.88L338.74,282.44L338.68,282.45ZM181.54,283.74L181.17,283.75L181.17,283.59L180.97,283.22L180.91,282.64L181.34,282.97L181.66,283.2ZM298.22,323.86L297.72,324.07L297.77,323.79L297.51,323.7L297.55,323.6L297.81,323.04L298.23,323.43L298.42,323.47ZM196.2,267.13L196.2,267.09L196.51,266.77L197.15,266.54L197.22,266.67ZM223.41,322.22L224.43,320.76L225.9,320.82L226.85,321.56L226.49,323.31L226.07,323.13L225.94,323.14L225.3,323.29ZM266.39,331.28L266.39,331.33L265.85,331.43L265.57,330.73L266.23,330.58L266.52,330.99L266.52,331.15ZM273.58,322.16L273.16,321.18L273.25,320.67L273.32,320.09L274.64,319.59L274.65,320.22ZM233.17,268.61L233.16,268.89L232.67,268L232.82,267.65L232.87,267.79L233.25,267.96L233.4,268.26L233.34,268.53ZM230.95,298.69L230.93,298.2L230.49,299.21L229.68,298.27L229.36,296.53L230.19,295.13L229.95,294.63ZM263.5,324.11L262.14,323.74L262.79,322.59L263.48,322.72L263.64,322.97L264.24,323.88ZM304.81,324.56L307.02,323.82L307.03,324.31L307.46,325.04L307.47,325.71L306.81,326.03L306.04,326.2L305.16,326.18ZM321.84,271.76L321.34,271.86L321.11,270.98L321.31,270.16L321.6,269.87L321.73,270.17L321.95,270.17ZM190.98,323.68L190.63,323.62L190.84,323.5L192.28,323.51L190.6,323.79ZM181.91,301.87L183.1,302.45L182.88,302.69L182.54,302.92L182.2,303.06L181.81,302.69ZM272.95,313.53L272.77,313.42L271.85,312.87L272.32,312.58L272.16,311.43L272.96,311.86L274.37,312.84ZM313.08,289.8L313.73,290.32L314.44,290.54L314.67,290.79L311.76,291.1ZM227.01,357.07L226.92,357.26L226.54,357.11L226.46,356.95L227.79,356.3L227.51,356.77L227.49,356.89L227.59,357.09ZM191.83,325.94L191.74,325.89L191.63,325.96L191.73,324.5L191.94,324.78L192.24,325.56L192.08,325.9ZM268.94,297.18L266.28,296.15L267.41,295.08L268.32,293.99L270.13,293.98L269.93,295.49ZM242.01,332.93L241.41,333.3L241.36,332.25L241.64,332.26L241.68,332.31L241.88,332.17ZM295.09,314.81L294.08,314.67L291.4,313.71L291.34,311.92L294.32,312.21ZM205.4,323.95L205.24,323.81L204.64,323.21L204.76,323.06L205.47,322.43L205.53,322.8L206.01,322.96ZM334.42,349.77L335.18,349.09L335.27,348.92L337.37,348.45L337.47,349.63ZM183.37,335.46L183.46,335.12L184.54,334.07L185.27,335.01L184.58,335.95L183.65,336.06ZM296.65,355.62L296.47,355.56L296.77,355.51L296.71,355.33L296.96,355L297.26,355.34L297.27,355.43ZM329.58,292.63L329.7,292.34L329.69,293.1L329.54,293.73L329.59,294.33L329.54,294.44L329.21,293.77Z"/><path fill="#e4e4e4" d="M232.02,291.69L233.21,290.18L234.94,290.78L234.65,292.08L234.75,293.17ZM324.31,365.89L324.34,365.66L324.61,365.41L325.16,365.24L325.05,365.79L324.6,366.27L324.31,366.26ZM323.57,281.41L323.75,282.16L322.47,281.5L322.41,279.87L323.27,280.24L324.11,281.49ZM294.21,307.21L293.46,307.91L293.08,307.77L292.92,307.79L292.57,307.46L293.01,307.3ZM306.8,371.33L305.4,371.32L305.7,369.18L305.75,369.44L306.02,369.42L306.75,370.56ZM179.48,325.42L179.59,325.32L180.64,325.2L180.68,325.21L180.59,325.64L180.42,325.61L180.33,325.58L179.73,325.72ZM261.86,355.65L261.62,355.54L261.19,355.38L261.39,355.11L261.88,354.65L262.04,355.33ZM245.81,372.52L246.52,371.71L247.25,371.23L247.86,370.79L247.56,372.57L247.36,373.24ZM261.46,288.28L259.76,286.66L260.41,284.42L262.23,284.22L262.39,287.78L262.75,288.26L261.81,288.73ZM196.06,338.41L195.99,338.38L195.86,338.08L195.7,337.8L196.1,337.24L196.24,337.07L196.33,337.39Z"/><path fill="#848484" d="M293.38,333.22L293.25,333.1L293.23,333.28L292.81,332.58L293.04,332.51L293.29,332.28L293.33,332.58ZM323.34,274.84L323.29,274.19L323.03,274.1L323.33,273.89L323.7,273.93L324.28,274.17L323.76,274.57ZM329.79,283.31L328.5,283.91L328.21,282.68L329.55,282.3L329.49,282.54ZM291.76,267.32L291.92,267.06L292.03,266.94L292.42,266.99L292.41,267.06L292.7,267.26L292.49,267.58ZM254.76,357.99L254.41,356.9L254.3,356.49L255.4,356.52L255.51,356.58L255.73,356.93L255.53,357.27ZM304.63,322.37L305.38,321.86L307.94,321.01L307.45,322.34L306.52,323.1L305.73,323.08L304.93,323.01L304.69,323.08ZM195.73,290.72L196.48,290.03L196.57,290.34L196.33,290.51L195.86,290.77ZM246.52,294.38L246.74,294.55L246.8,294.54L246.49,295.51L246.48,295.35L246.4,295.48L246.36,295.63ZM311.1,313.26L310.92,313.14L310.72,313.14L310.8,312.68L310.9,312.71L311.28,312.39ZM340.78,310.38L340.69,310.4L340.42,310.02L340.53,309.81L340.63,309.72L340.99,310.03ZM333.14,278.89L334.41,278.36L335.47,279.52L335.34,279.59L335.26,279.77L333.86,279.42L333.03,279.27ZM202.82,329.81L202.86,330.36L201.29,331.99L200.47,331.3L202.1,325.71L202.24,326.91L203.07,326.02ZM310.12,332.76L309.78,332.22L310.03,331.86L310.29,332.3L310.88,332.35L311.51,333.8ZM191.61,274.19L191.61,274.36L191.58,274.51L191.25,274.39L191.1,274.23L191.05,274.2L190.95,273.9L191.35,273.81ZM217.77,290.98L217.97,290.5L219.21,289.91L220.91,292.89L220.71,293.55L219.31,293.21ZM325.73,301.3L326.37,299.78L326.78,299.47L326.89,299.66L328.06,300.63L327.16,300.93L327.44,301.19L327.32,301.45ZM290.95,326.34L290.93,325.76L291.02,325.88L291.19,325.83L291.36,325.97L291.45,326.11L291.27,326.7ZM224.76,325.13L224.25,324.09L225.34,324.73L225.14,324.65L225.23,325.18ZM197.19,343.92L197.41,344.02L197.56,344.24L197.61,344.39L197.75,344.46L198.08,345.09L197.57,344.84ZM308.62,282.29L310.25,281.63L310.5,281.52L310.85,283.12L310.24,283.71L309.77,283.93L309.63,284.32ZM309.65,346.49L309.58,346.41L310.33,346.66L311.7,348.38L311.54,348.73L311.36,348.66ZM274.6,349.91L274.28,349.66L274.06,349.43L275.48,348.03L276.3,347.41L276.44,348.73ZM274.17,350.62L274.92,350.49L275.63,350.73L275.32,351.25L275.13,351.34L274.38,351.51ZM195.58,320.45L195.17,320.17L195.72,319.62L196.35,319.27L196.25,319.45ZM313.45,375.49L312.38,373.07L312.74,372.1L313.09,372.19L314.09,372.26L314.76,372.71L315.33,375.04ZM210,352.96L209.71,352.91L208.97,352.01L207.94,351.66L208.3,351.27L210.4,350.11L210.83,350.35L210.73,351.08ZM272.75,289.67L274.7,289.44L275.17,291L274.3,290.73L273.95,291.27ZM219,305.79L218.43,306.09L218.14,306L219.44,304L219.76,304.95L220.11,305.35ZM337.36,328.79L336.95,328.43L337.44,327.97L337.82,328.02L337.79,328.08L338.01,328.39L337.98,328.4Z"/><path fill="#484848" d="M294.07,360.93L293.87,360.98L293.9,360.77L294.7,360.27L294.63,360.38L294.57,360.43L294.61,360.42L294.63,360.89ZM238.87,367.24L239,367.18L239.25,367.42L239.61,367.27L239.76,367.5ZM194.85,295.78L194.61,295.19L195.46,293.9L196.16,294.21L196.5,295.72L195.79,295.81L195.32,295.74ZM205.2,371.93L205.19,371.92L205.32,371.64L205.25,371.61L206.35,371.27L206.24,371.57L206.42,371.65ZM207.27,312.2L207.07,312.17L206.58,312.29L206.74,312L207.04,311.57L207.47,311.56L207.77,311.33ZM274.19,363.79L274.02,363.74L274.15,363.32L274.75,363.86L274.68,364.2L274.36,364.45L274.35,364.15L274.2,364.05ZM299.25,337.87L299.72,337.39L298.9,338.61L299.12,338.35L298.8,338.6ZM284.59,345.4L285.51,344.6L286.1,344.79L285.08,345.84L284.86,345.79ZM187.14,307.37L186.4,307.93L186.25,305.43L187.31,306.24L187.5,306.24L187.57,306.35L187.45,307.18ZM255.4,326.9L254.91,327.35L254.73,327.48L254.7,327.35L253.68,327.01L254.93,325.92L255.57,326.36L255.22,326.43ZM241.43,313.64L244.68,310.3L246.39,312.16L245.36,313.45L244.25,314.11L243.34,314.42L242.72,314.75ZM301.72,332.64L301.27,331.48L301.45,330.99L301.75,331.21L301.97,331.21L301.89,331.67ZM337.95,300.75L337.78,300.39L337.57,299.5L337.89,299.66L338.38,300.26L338.46,300.47L338.45,300.63ZM185.48,344.56L185.12,343.25L185.3,343.26L186.9,343.25L186.13,344.6ZM293.96,268.37L293.59,268.35L293.67,267.98L294.15,267.8L294.12,268.23L294.17,268.26ZM333.19,369.18L332.53,368.6L333.12,367.98L333.55,368.02L333.61,367.65L334.3,368.18L334.82,368.72L334.37,368.76ZM188.25,367.87L189,367.53L189.05,367.37L190.01,367.25L189.11,368.9L188.88,369.08L188.72,369.21L188.5,368.89ZM224.79,276.9L224.55,277.17L224.44,277.1L224.57,276.48L224.6,276.15L225.02,275.58ZM318.96,314.86L318.98,314.19L318.57,314.21L318.89,313.21L319.28,313.22L319.97,313.84L320.06,314.18L320.14,314.22ZM245.72,265.67L245.56,265.49L246.25,264.68L246.83,264.68L246.81,264.93L246.56,265.55L246.25,265.54ZM303.86,370.33L304.42,370.5L305,370.93L305.12,370.95L304.21,371.28ZM262.05,279.73L261.73,279.85L261.38,279.3L261.46,279.04L261.62,278.81L262.1,278.98L261.93,279.45Z"/><path fill="#cccccc" d="M245.7,289.83L245.6,289.51L245.89,290.63L245.76,290.13L245.76,290.06ZM195.74,294.22L195.82,294.04L196.18,294.11L196.73,293.88L196.53,294.37L196.29,294.53L196.22,294.44ZM251.63,368.25L251.26,368.2L251.11,368.32L250.52,367.73L250.44,367.67L250.22,367.44L250.68,367.39L251.6,367.45ZM270.56,336.97L269.69,336.08L270.34,335.43L272.7,335.82L271.39,338.07ZM265.2,290.76L265.04,290.25L265.64,290.23L266.16,290.38L266.89,291ZM262.52,316.74L260.86,317.05L260.97,313.27L263.2,314.05L262.57,316.24ZM244.36,331.39L243.92,330.88L244.16,330.77L244.67,329.48L246.39,331.12L246.62,331.61L245.74,332.23L245.36,332.14ZM212.15,267.13L211.7,266.72L211.58,266.5L211.79,266.37L211.73,265.9L211.95,266.04L212.35,267.04ZM198.64,291.88L196.84,291.19L196.76,290.15L196.75,289.43L198.37,289.57L199.95,290.79L199.35,292.1L198.97,292.01ZM312.44,332.59L311.8,332.67L311.52,332.86L311.23,332.52L312.37,331.17ZM180.39,364.3L180.25,364.22L179.85,364.25L179.81,364.27L179.93,363.92L180.43,363.46L180.49,363.51ZM270.9,371.04L270.01,370.65L269.66,370.8L269.74,370.05L271.17,369.35L271.55,369.49L271.52,370.18ZM204.13,328.93L202.58,328.53L201.81,325.86L203.4,326.27L205.04,327.37L204.9,328.11ZM280.23,269.07L281.47,269.33L281.38,270.29L281.97,270.61L281.95,271.32L280.3,272.16ZM262.04,297.55L261.33,296.64L262.04,296.11L262.05,296.12L262.88,296.83L262.67,296.98ZM292.61,298.7L292.5,298.35L292.81,298.17L292.8,297.91L293.91,298.59ZM186.36,343.61L186.64,343.42L186.78,343.65L186.76,344.16L186.47,344.83L185.77,344.53ZM305.92,336.77L305.87,336.94L305.97,337.87L305.03,337.87L304.96,336.25L305.76,334.64L305.95,335.54ZM318.67,354.88L318.25,354.49L318.52,354.38L318.53,354.35L318.82,354.32L318.79,354.16L319.08,354.3L319.28,354.21ZM289.42,325.57L289.44,325.35L289.43,325.08L289.66,325.13L290.06,325.34L290.09,325.65L290.05,325.7L289.72,325.86ZM258.15,286.08L258.22,286L258.48,285.66L258.68,285.85L258.52,286.19ZM198.77,273.07L199.72,272.81L199.68,272.84L199.7,272.99L199.84,273.05L199.72,273.11ZM242.02,349.29L240.18,348.24L242.35,346.15L242.84,347.28L243.01,348.66ZM313.46,280.56L313.28,280.5L313.19,280.55L312.9,280.56L312.69,280.09L312.93,279.91L313.05,279.75L313.1,279.75ZM221.18,367.92L222.33,366.6L223.19,367.17L223.18,367.91L222.47,368.43ZM268.44,296.09L268.21,295.97L268.12,295.84L267.92,295.71L267.58,295.64L268.4,295.8ZM280.36,327.96L280.25,327.53L280.52,327.07L280.63,326.89L280.6,326.99L280.75,327.71ZM332.34,370.99L332.21,370.61L332.7,370.48L332.83,370.47L333.32,370.83L333.42,372.59ZM292.6,297.88L292.9,297.58L293.07,297.49L293.38,297.72L293.42,298.18L293.08,298.53ZM335.61,330.22L335.59,330.04L335.1,329.97L335.09,329.65L335.78,329.07L336.3,329.18L336.71,330.64L335.42,330.95Z"/><path fill="#fcfcfc" d="M323.34,358.87L323.16,358.65L323.59,357.89L323.88,357.86L323.73,358.24L323.83,358.28ZM267.13,357.85L267.3,357.71L267.75,357.53L268.13,357.73L268.08,358.13L267.88,358.31ZM206.93,323.15L206.91,323.07L206.78,323.19L206.4,323.03L207.09,322.3L207.63,322.18L208.01,322.12ZM201.43,295.86L199.6,294.13L200.43,292.8L200.5,293.16L201.95,294.03L201.8,295.12ZM262.83,287.52L262.95,287.27L263.64,287.54L264.83,287.61L265.59,288.19L265.69,289.4ZM239.2,351.51L239.11,350.34L240.83,349.59L241.92,350.91L242.94,352.07L242.1,352.32L241.84,352.23L242.11,352.66ZM318.1,316.47L317.26,317.19L316.42,316.55L316.33,315.7L317.4,314.51L317.55,314.56L317.76,314.44ZM205.03,366.82L204.85,366.52L204.83,366.37L205.01,365.96L205.4,366.07ZM264.78,294.99L264.68,294.74L264.69,294.62L265.05,294.47L265.13,294.36L265.55,294.83L265.34,295.07L265.15,295.22ZM305.34,305.63L305.36,305.55L305.61,304.96L305.74,304.87L305.9,304.99L305.52,305.65ZM253.66,288.93L253.44,288.45L253.67,288.11L253.61,288L253.64,287.8ZM222.3,288.31L222.23,288.17L222.47,287.98L222.53,287.65L223.04,287.67L223.09,287.78L223.32,287.93ZM183.25,302.9L182.87,301.75L183.24,301.71L183.31,300.95L183.8,300.55L184.6,301.41L185.33,301.87L184.31,302.66ZM247.28,345.94L247.13,345.71L247.57,344.33L248.52,344.78L248.59,344.76L248.05,346.38ZM336.57,286.85L335.23,285.72L335.5,285.31L335.94,284.59L338.54,283.65L339.05,284.16L339.53,286.13L337.79,286.63ZM222.89,348.55L222.99,348.23L223.15,347.7L223.42,347.34L223.56,347.76ZM305.81,354.74L305.89,354.15L306.85,354.11L307.37,354.02L310.45,355.04L309.53,355.85Z"/><path fill="#000000" d="M309.63,266.53L309.52,266.37L309.43,266.35L309.59,265.86L310.54,265.9L310.9,266.11L310.53,266.93L310.44,266.98ZM208.49,327.38L208.78,327.11L209.38,326.81L209.6,327.01L209.61,327.27L209.42,327.26L209.31,327.39ZM189.4,310.39L189.21,308.65L190.56,308.04L192.17,310.34L191.81,312.36L192.32,313.35L189.57,312.63ZM201.12,318.16L201.55,317.38L201.95,316.83L203.08,316.26L202.86,316.97ZM317.44,335.89L317.2,335.88L316.79,335.88L316.42,335.86L316.41,335.8L316.37,335.26L316.52,335.31Z"/><path fill="#f0f0f0" d="M178.8,304.18L181.51,303.53L181.57,303.51L180.13,304.84L180.1,304.74L179.78,304.97L179.39,304.75L179.29,304.59ZM200.65,363.14L199.87,362.32L199.98,362.03L200,361.64L200.49,361.29L201.63,361.85L202.38,361.8L201.76,362.21ZM182.93,312.95L184.22,313.52L183.9,313.81L184.11,314.12L184.24,314.92ZM320.04,324.77L320.41,324.99L320.53,325.09L320,325.76L319.96,325.76L319.53,325.57L319.12,325.69L319.37,325.43ZM218.12,336.78L217.62,333.96L217.75,333.82L218.75,334.68L219.41,335.56L219.3,335.63L219.09,336.28L218.81,336.48ZM214.25,280.85L214.29,280.07L213.78,279.24L215.66,278.84L215.33,279.55ZM308.3,327.24L309.11,326.33L309.5,326.43L311.39,328.34L310.72,330.6L309.72,329.54ZM186.95,291.91L187.11,291.67L187.87,291.24L188,291.41L188.25,293.28L187.59,293.5L186.55,292.27ZM319.29,271L321.61,271.48L321.31,272.68L321.87,273.19L320.04,273.54ZM335.11,313.49L335.11,312.5L337.25,312.96L337.28,313.23L336.09,314.16ZM193.07,289.37L192.87,289.5L192.78,289.31L192.52,289.03L192.7,288.99L192.93,288.93L193.53,288.8Z"/><path fill="#0c0c0c" d="M268.12,287.8L268.56,287.37L269.17,287.71L269.09,287.8L269.08,287.87L268.79,287.95L268.85,288.17L268.21,288.05ZM193.49,362.91L193.28,363.09L193.44,361.91L193.65,361.3L193.74,361.46L194.16,362.04L194.04,362.65ZM250.72,333.95L248.81,334.13L248.12,333.71L248.8,333.75L249.13,333.51L249.94,333.3L249.82,333.51L250.15,333.67ZM228.41,278.1L228.09,278L228.18,277.65L229.06,276.75L229.44,276.8L230.26,278.35L229.75,278.11ZM239.33,355.82L239.31,355.73L239.21,355.2L239.47,355.24L239.65,356.31L239.7,356.5L239.49,356.49Z"/><path fill="#181818" d="M196.22,340.22L196.13,340.26L195.74,340.32L195.82,339.98L196.29,339.7L196.34,339.71L196.43,339.68ZM200.86,343.41L200.64,343.17L200.84,342.85L201.17,342.85L201.44,343.09L201.49,343.5ZM253.72,369.73L253.18,369.62L251.75,368.39L252.01,367.53L252.07,367.28L252.11,367.22L252.77,367.55Z"/><path fill="url(#ga84_0)" d="M295.15,267.84L294.74,273.25L297.59,275.41L305.13,273.07L304.57,268.6L302.41,264.36L299.18,262.13L297.35,262.08L296.53,262.59L296.57,265.3L294.84,267.66ZM178.59,314L177.76,313.39L177.02,313.67L177.23,314.24L176.73,316.48L177.91,317.46L179.02,316.34Z"/><path fill="url(#ga96_0)" d="M321.36,262.96L318.36,265.58L318.11,268.34L318.5,269.07L323.03,271.21L326.42,273.51L326.89,273.36L333.69,265.01L330.94,262.86L326.95,262.27L324.08,262.53L323.52,262.97ZM339.63,288.75L339.91,280.47L338.95,280.74L338.63,284.65L336.6,288.05L336.73,288.63L338.58,289.07ZM267.57,323.97L266.25,326.77L268.35,327.33L276.48,326.39L277.27,325.95L278.55,321.48L275.14,319.01L273.28,320.02L269.41,320.73L267.39,323.53Z"/><path fill="url(#ga144_1)" d="M334.64,269.07L334.15,268.87L333.12,269.35L328.55,275.43L333.81,277.36L338.02,276.61L337.59,276.38Z"/><path fill="url(#ga204_2)" d="M336.31,265.33L336.04,266.14L337.3,271L340.44,276.18L341.48,276.93L343.61,276.19L342.63,272.31L343.76,267.29L340.48,264.45Z"/><path fill="url(#ga192_0)" d="M308.83,273.53L308.19,274.67L310.27,280.31L314.02,282.62L315.41,282.08L317.17,276.32L316.85,270.76L315.94,270.17L315.95,270.66ZM279.48,307.82L279.98,308.5L284.25,309.51L284.85,308.74L284.52,308.79L284.15,302.55L286.12,298.14L281.54,297.07L277.91,297.61L279.58,302.24ZM244.57,328.99L246.25,333.32L250.14,333.47L253.48,334.65L253.47,334.08L257.13,327.48L251.02,327.35ZM319.5,341.16L317.87,337.69L316.27,332.04L312.53,330.82L308.53,337.39L314.57,339.68L317.45,342.54ZM342.05,333.03L341.62,335.98L342.19,336.17L342.31,337.22L343.15,337.74L343.94,336.97L343.51,333.63L343.77,333.05L343.41,332.67ZM214.69,341.82L212.71,346.24L218.06,348.15L218.62,348.03L218.35,347.77L219.7,346.77L221.7,342.14L219.95,338.59L217.34,337.85L217.26,338.48ZM326.57,370.83L321.44,369.65L320.6,373.4L318.83,377.5L319.59,378.62L325.3,377.96L328.47,378.43L329.19,377.85L328.69,377.61L328.13,373.66L327.18,371.27Z"/><path fill="url(#ga252_2)" d="M256.34,286.9L255.84,287.2L255.84,287.73L257.16,292.18L262.79,291.61L270.61,288.78L271.16,289.1L271.32,287.97L269.12,286.79L263.3,287.84ZM326.64,348.32L330.05,352.55L332.98,352.39L333.91,349.21L332.2,345.56L332.41,345.39L327.26,342.49L327.39,345.82ZM342.71,340.56L340.82,338.29L340.16,338.49L338.47,341.95L334.84,344.45L336.04,347.61L339.75,345.6L343.57,345.29ZM343.15,346.91L335.5,349.36L334.38,353.38L337.1,357.57L341.02,359.39L343.35,359.18L344.01,358.76L344.8,353.9L344.41,347.77L344.06,347.02Z"/><path fill="url(#ga168_0)" d="M275.14,288.82L277.17,295.17L283.35,294.6L287.49,296.05L288.78,295.52L289.04,294.84L288.36,291.1L289.78,287.56L286.11,284.05L280.48,284.82L276.1,287.52L276.2,288.08ZM219.9,357.41L218.21,360.69L218.58,361.18L224.31,364.22L228.06,367.47L229.91,367.32L230.61,366.27L231.88,361.34L230.32,357.45L224.23,357.17Z"/><path fill="url(#ga60_1)" d="M296.7,297.34L298.49,292L301.84,287.86L297.31,283.17L297.27,282.58L294.8,285.32L291.61,287.52L291.44,295.66L293.48,296.88Z"/><path fill="url(#ga144_0)" d="M305.64,287.19L305.08,287.2L305.65,287.91L309.73,288.47L314.04,291.48L314.85,291.3L315.15,290.67L315.57,285.93L313.15,284.17L309.35,283.28L307.23,284.85ZM275.92,298.46L275.05,298.07L270.23,300.56L269.95,303.68L268.16,308.42L268.51,308.85L272.45,308.32L276.29,309.78L277.39,308.55L275.86,304.06ZM212.57,323.35L211.37,327.01L211.88,327.05L213.51,330.35L216.73,327.09L222.72,324.26L219.66,319.61L216.67,319.28L213.92,320.83Z"/><path fill="url(#ga132_1)" d="M317.03,293.29L318.08,294.19L320.79,294.99L329.36,291.74L329.57,290.69L326.88,287.91L326.31,284.39L325.36,283.89L321.67,284.64L318.39,286.28L318.06,287.16L318.52,290.46ZM273.81,334.58L267.48,329.41L267.04,330.07L268,334.39L268.17,338.51L272.49,341.67L272.88,341.54L274.84,340.44L277.37,338.06L277.53,336.94Z"/><path fill="url(#ga132_0)" d="M197.33,307.82L198.41,303.7L197.68,299.92L197.9,299.37L192.29,300.15L190.39,301.19L187.46,303.98L188.73,308.7L191.86,312.8L193.35,312.7L196.17,310ZM205.97,313.46L204.22,317.41L204.34,318L206.88,320.75L210.66,321.66L211.79,321.4L214.39,318.57L214.48,317.92L214.04,317.74L212.85,314.89L210.97,312.66ZM179.59,329.52L178.68,330.4L179.28,333.75L180.94,336.63L183.11,337.27L187.19,337.23L187.64,336.49L186.5,332.94L182.97,330.75ZM305.91,336.73L306.31,337.06L307.76,333.87L311,329.77L310.29,327.2L310.67,327.37L309.59,325.78L301.95,327.5L294.41,331.62L295.62,334.77L298.76,336.61L300.52,338.3L300.72,337.9L304.24,338.29Z"/><path fill="url(#ga96_1)" d="M335.46,305.2L334.07,298.02L329.66,293.75L326.98,294.42L322.87,296.35L322.7,297.14L325.15,300.13L327.34,305.68L328.19,305.77L331.48,304.57Z"/><path fill="url(#ga60_0)" d="M194.56,314.77L197.55,316.64L199.9,318.86L201.87,317.66L203.08,312.76L200.36,311.85L198.68,309.84L198.19,309.86L196.8,312.72Z"/><path fill="url(#ga156_0)" d="M223.41,312.66L220.46,305.09L220.36,305.55L216.13,307.61L212.92,310.17L212.71,310.83L215.39,313.92L216.43,316.95L219.48,317.13L219.73,317.43L220.7,315.19ZM228.95,313.46L224.5,313.77L220.88,318.7L224.77,324.1L226.83,325.29L227.03,325.78L229.92,321.31L232.73,319.02L233.04,318.33L231.22,315.15Z"/><path fill="url(#ga204_0)" d="M243.8,308.61L242.95,314.83L241.49,318.38L242.77,320.36L252.74,318.8L252.97,314.91L253.87,311.75L253.46,311.76L249.55,308.54L244.77,308.14ZM267.34,321.59L268.44,319.76L266.56,315.45L266.05,311.05L265.24,310.9L262.24,311.58L260.11,310.78L259.75,311.01L259.75,311.78L262.67,316.84L266.13,321.21L266.62,321.66ZM204.17,344.68L205.04,347.09L205.53,346.64L210.4,345.9L212.13,340.43L215.72,336.35L213.05,334.1L208.53,339.05L202.36,341.09Z"/><path fill="url(#ga156_1)" d="M268.68,310.84L267.89,311.28L268.79,315.31L270.1,318.59L274.72,317.6L275.69,311.71L272.47,310.35Z"/><path fill="url(#ga216_0)" d="M291.42,311.3L285.23,310.77L285.51,316.22L286.29,316.53L288.86,314.77L292.74,314.79ZM257.96,341.73L261.32,339.61L265.78,338.89L266.43,338.42L266.95,334.39L265.46,328.57L264.74,327.7L262.25,327.38L259.11,328.26L256.22,332.5L254.99,336.05L256.46,338.64L256.28,341.25Z"/><path fill="url(#ga132_2)" d="M181.3,318.39L180.99,318L180.46,318.6L179.91,321.97L180.5,327.23L182.71,327.61L187.41,330.1L188.74,327.24L188.71,323.86L186.68,319.11Z"/><path fill="url(#ga108_0)" d="M191.88,316.91L189.45,318.08L189.72,318.52L189.54,321.74L191.6,326.09L191.24,326L191.99,326.22L194.01,326.12L198,325.09L198.23,321.51L194.9,320.02ZM239.39,340.01L240.41,339.95L243.96,334.47L244.1,333.27L241.24,328.87L237.43,329.64L234.7,331.37L234.37,332.68L234.36,336.31L236.47,338.79ZM177.74,340.41L176.66,345.14L177.48,350.61L178.31,350.99L185.17,347.51L187.17,344.15L187.77,340.3L187.29,339.9L184.78,340.58L180.17,339.05L180.04,339.64Z"/><path fill="url(#ga108_3)" d="M253.61,320.59L252.88,320.14L248.86,320.48L242.87,322.02L242.25,326.92L242.86,327.55L250.02,327.98L256.15,325.88Z"/><path fill="url(#ga120_0)" d="M290.62,326.89L291.35,327.57L292.05,326.86L293.71,323.03L296.69,318.43L293.59,315.91L290.23,317.73L286.03,318.23L284.59,319.94L284.68,320.76L288.56,323.15ZM227.18,347.55L230.25,350.33L230.43,349.87L229.44,344.23L229.16,344.56L224.41,343.85L224.04,344.15L222.58,347.15Z"/><path fill="url(#ga144_3)" d="M311.84,327.04L312.41,329.41L317.28,331.12L321.66,328.66L328.59,328.47L329.24,328.06L328.65,325.44L328.69,322.36L326.42,320.42L326.49,320.89L321.5,319.8L315.91,324.5Z"/><path fill="url(#ga252_0)" d="M343.29,316.47L340.57,321.37L343.39,324.25L344.24,324.44L343.35,320.08L344.19,317.23L343.9,316.52ZM339.6,333.82L334.92,333.35L331.31,331.18L330.72,331.4L328.79,334.82L329.04,340.65L332.64,342.69L333.4,342.64L339.62,335.65ZM303.21,351.37L306.31,349.34L303.7,340.95L303.3,340.52L300.95,340.32L301.15,340.93L298.01,347.64L298.71,348.46ZM317.82,349.53L317.5,349.45L318.02,350.06L318.42,349.98L321.7,348.44L323.85,347.98L324.96,342.96L324.71,343.12L324.15,342.38L321.34,342.74L318.67,344.37ZM239.38,351.19L237.57,353.95L238.63,354.41L243.9,351.93L246.95,350.06L247.14,349.25L246.84,348.7L243.29,347.7Z"/><path fill="url(#ga120_2)" d="M218.12,328.61L214.12,332.44L214.32,333.38L217.32,335.03L217,335.22L220.02,336.15L224.64,331.47L226.53,328.83L226.37,327.22L224.24,325.66Z"/><path fill="url(#ga192_2)" d="M280.18,332.92L280.02,331.77L277.7,328.66L276.64,328.33L271.91,328.89L272.38,330.01L275.45,332.03L278.19,335.22L278.31,334.8L279.16,334.93Z"/><path fill="url(#ga156_3)" d="M199.57,341.25L194.57,342.07L191.19,340.67L190.83,340.81L188.01,345.39L187.41,347.96L187.8,348.82L191.7,350.7L193.79,353.38L197.32,350.44L202.41,349.45L203.5,348.22L201.84,344.15L200.37,341.94L200.57,341.72Z"/><path fill="url(#ga252_1)" d="M247.52,345.21L251.86,348.04L252.36,344.71L255.17,342.16L254.85,338.99L253.39,336.51L248.98,335.33L245.71,335.29L241.69,342.17L243.34,344.6Z"/><path fill="url(#ga204_3)" d="M267.31,340.04L264.5,342.25L260.5,342.79L263.27,346.01L266.49,348.07L269.44,345.05L270.79,342.9Z"/><path fill="url(#ga252_3)" d="M315.68,345.04L316.19,344.69L311.4,343.11L306.64,339.54L306.39,340.24L309.34,348.15L312.54,348.35L314.69,348.9L314.8,349.33Z"/><path fill="url(#ga216_2)" d="M205.65,348.51L205.34,350.46L215.46,359.42L216.33,359.26L218.41,356.34L218.59,355.74L217.63,351L214.23,348.79L210.64,347.83Z"/><path fill="url(#ga168_1)" d="M220.2,350.33L220.7,355.25L227.06,355.51L231.59,355.05L232.11,354.41L231.22,353.53L227.81,352.42L221.5,348.95L220.96,349.05L221.14,349.48Z"/><path fill="url(#ga72_0)" d="M268.27,353.27L268.76,356.74L271.31,356.59L275.38,354.53L276.17,350.09L273.06,344.75L272.2,344.3L270.25,347.46L267.81,349.67L267.32,351.04Z"/><path fill="url(#ga228_1)" d="M318.48,354.8L321.09,356.96L322.1,357.16L324.77,354.77L327.45,353.15L325.18,350.57L324.16,350.21L320.98,351.88L318.21,352.49Z"/><path fill="url(#ga144_2)" d="M314.84,366.29L320.36,367.8L321.32,363.46L320.9,360.37L320.29,358.76L317.22,356.7L314.12,360.17L309.95,362.31L310.44,366.07Z"/><path fill="url(#ga180_1)" d="M330.93,367.24L329.36,363.48L328.78,363.03L322.73,361.96L322.24,368.23L327.23,369.1Z"/><path fill="url(#ga204_1)" d="M344,366.86L343.44,361.15L342.48,361.41L342.4,361.16L341.7,361.71L338.74,367.63L339.85,371.47L342.35,372.46L342.97,372.44L343.32,371.82Z"/><path fill="url(#ga228_0)" d="M298.3,374.69L299.73,378.05L303.82,377.24L306.75,378.03L306.96,376.92L304.88,374.7L301.88,374.32ZM320.17,369.44L315.69,368.11L310.66,367.26L306.2,373.32L309.24,377.48L313.25,378.16L313.43,378.69L317.33,378.73Z"/><path fill="url(#ga240_3)" d="M337.15,378.24L340.84,379.19L343.9,378.69L344.27,378.27L344.16,374.64L339.97,373.28L339.32,373.59L339.57,374.02L336.93,378.05L337.16,377.85Z"/><path fill="url(#ga120_0)" d="M311.19,263.56L290.35,263.85L289.65,264.84L292.95,268.57L299.84,269.38L309.99,268.44L312.56,265.47L312.43,263.86ZM186.75,334.73L185.58,335.35L184.58,341.67L182.74,348.57L186.52,352.33L190.59,354.22L191.9,354.14L192.77,353.75L196.82,344.71L202.43,335.86L202.55,335.08L201.66,334.2L195.22,333.64Z"/><path fill="url(#ga228_0)" d="M302.4,293.51L303.57,293.11L307.59,286.95L312.64,281.48L312.43,276.59L308.79,271.53L299.79,270.89L292.76,271.53L292.4,272.5L292.2,272.24L294.66,283.43L295.34,291.39L296.07,291.77L300.17,291.85ZM332.52,355.09L331.99,356.04L332.65,359.34L337.71,361.92L342.46,367.03L343.13,367.52L343.49,367.3L343.88,366.61L343.67,349.04L342.91,348.56L341.26,349.02L336.78,353.34Z"/><path fill="url(#ga132_1)" d="M328.51,264.31L327.43,263.65L323.53,262.52L317.13,263.76L311.76,270.08L311.44,271.18L315.25,280.02L322.52,285.93L329.65,289.07L332.04,288.24L332.16,287.62L331.24,276.99Z"/><path fill="url(#ga156_1)" d="M331.2,263.36L330.44,263.99L333.4,274.71L334.41,286.81L334.94,287.26L339.76,287.01L343.13,283.66L342.57,274.53L343.16,263.81L342.94,263.42Z"/><path fill="url(#ga96_3)" d="M267.77,305.25L269.18,304.54L269.1,302.96L267.48,298.59L266.62,293.73L257.92,283.13L256.53,282.58L253.07,282.58L248.35,284.44L247.75,285.1L243.35,286.36L240.49,288.99L238.78,294.82L238.56,301.25L241.99,305.9L245.16,311.09L246.04,311.68L256.14,308.03ZM196.18,332.22L205.73,331.14L208.23,322.07L207.96,313.97L202.77,311.52L197.6,312.04L192.91,313.95L185.65,317.8L183.12,322.5L183.57,326.4L185.91,331.99L186.52,332.28Z"/><path fill="url(#ga204_3)" d="M303.59,295.73L300.14,293.97L293.69,294.1L288.31,298.55L282.97,305.63L282.53,307.74L286.6,311.34L290.27,316.87L291.89,317.37L292.91,316.51L298.12,308.24L306.46,301.35L306.51,300.37L306.06,299.44Z"/><path fill="url(#ga192_1)" d="M321.85,300.59L322.31,300.07L322.97,295.56L326.44,291.38L326.08,291.42L325.95,290.82L321.3,288.55L315.68,283.75L315.09,284.01L314.93,283.69L311.96,289.1L306.4,294.98L309.21,298.77L312.37,300.67L317.45,301.21Z"/><path fill="url(#ga252_3)" d="M327.04,308.81L330.27,316.03L330.87,316.1L335.1,315.13L338.52,312.16L338.2,312.42L340.09,310L342.29,308.89L342.91,302.79L342.76,296.13L340.32,293.46L339.74,291.11L339.11,290.49L337.05,291.13L333.86,290.68L330.59,291.7L328.53,297.69L325.57,302.93Z"/><path fill="url(#ga108_0)" d="M213.43,314.74L211.42,314.75L209.2,324.65L209.06,332.14L217.63,339.69L218.38,339.49L229.69,329.05L221.83,320.33Z"/><path fill="url(#ga156_3)" d="M232.16,326.28L233.57,326.77L239.55,321.39L242.99,316.47L244.05,313.28L241.81,308.98L237.9,304.28L236.42,303.54L225.74,306.41L216.77,307.71L214.65,311.41L222.75,320.46Z"/><path fill="url(#ga180_0)" d="M287.43,331.29L289.18,318.21L284.71,314.23L280.22,307.47L275.92,305.64L270.97,305.48L269.85,306.27L267.68,316.84L267.92,326.57L277.86,330.24L286.9,331.96ZM259.59,334.39L259.16,333.39L245.42,319.21L244.23,318.67L238.6,323.78L235.76,327.82L235.54,329.01L235.81,329.65L242.47,339.38L250.73,348.58L252.27,349.32L255.36,348.87L255.59,348.23L257.36,347.71L257.72,346.82L257.68,340.56Z"/><path fill="url(#ga156_0)" d="M308.94,301.25L307.18,301.85L300.67,307.13L295.39,316.78L296.25,317.25L301.17,317.44L305.03,318.31L305.97,317.54L307.36,310.27L311.32,304.01L310.31,302.38ZM182.78,329.27L181.31,322.59L180.96,322.99L176.63,322.74L176.93,322.92L175.56,335.6L176.99,348.94L177.45,349.5L180.43,348.84L182.17,340.46L184.35,333.29Z"/><path fill="url(#ga168_0)" d="M308.9,317.75L309.11,318.34L312.33,321.2L316.96,323.07L317.78,323.01L321.07,320.32L326.43,317.71L325.6,309.83L321.62,304.49L318.28,303.64L313.65,304.91ZM241.58,339.89L233.26,331.29L225.96,335.68L220.44,342.26L220.54,343.9L224.34,349.27L234.11,353.89L243,355.83L243.87,355.51L247.99,350.8L248.02,350.07Z"/><path fill="url(#ga252_0)" d="M344.17,318.69L339.09,315.02L330.96,319.22L330.97,319.73L335.6,323.36L337.7,329.05L340.47,327.88L344.21,326.96L343.51,321.47ZM340.44,330.38L339.5,331.14L339.47,332.18L341.04,334.65L341.28,339.88L342.33,339.75L343.23,338.76L344.16,336.19L342.47,330.26Z"/><path fill="url(#ga252_1)" d="M341.45,313.12L341.22,314.28L342.42,315.48L343.97,315.02L344.06,313.21L343.3,312.25Z"/><path fill="url(#ga204_0)" d="M194.12,355.64L193.74,356.73L194.59,357.04L194.64,357.9L196.6,358.02L205,349.87L215.03,343.35L215.34,342.83L214.95,341.36L212.07,337.81L207.68,334.22L206.15,333.8L205.47,334.43L200.54,346.38Z"/><path fill="url(#ga180_1)" d="M287.01,339.48L287.23,338.26L286.68,335.36L285.98,334.15L278.04,331.76L267.8,329.31L266.47,329.57L264.22,331.3L262.01,334.29L261.71,341.44L260.35,345.17L260.64,346.47L261.7,347.04L276.63,348.82Z"/><path fill="url(#ga216_2)" d="M329.65,320.69L327.77,320.68L318.48,326.04L314.5,336.79L312.86,344.99L313.16,346.06L313.82,346.52L322.13,351.14L330.17,353.51L331.55,353.33L336.08,351.44L339.16,347.65L339.55,346.12L337.65,339.46L336.52,330.63L336.18,329.77L332.05,325.74Z"/><path fill="url(#ga132_2)" d="M295.34,369.66L299.39,369.47L302.86,359.02L308.41,348.15L307.98,347.46L300.12,344.71L289.41,341.7L279.1,351.52L280.39,358.81L283.63,363.93Z"/><path fill="url(#ga216_3)" d="M308.62,377.13L314.41,378.26L320.97,376.98L323.46,375.73L325.57,368.04L329.51,359.19L329.47,357.08L328.83,355.72L322.09,353.52L312.4,349.27L311.67,349.02L310.79,349.4L306.36,359.26L302.68,370.16L304.99,373.74Z"/><path fill="url(#ga228_1)" d="M333.08,363.51L332.03,363.27L332.17,363.72L328.1,369.82L327.15,375.94L326.64,376.35L327.37,376.92L327.66,376.74L327.45,377.23L333.75,377.66L342.65,376.86L342.39,371.08Z"/><path fill="url(#ga180_0)" d="M179,318L200,305L220,302L233,306L237,320L236,345L228,360L200,362L179,362Z"/><rect x="179.1" y="264.8" width="162.6" height="111.2" filter="url(#grain)" opacity="0.55" style="mix-blend-mode:overlay"/></g>
<g clip-path="url(#cs2)"><rect x="350" y="264.8" width="162.8" height="111.2" fill="#656565"/><path fill="#c0c0c0" d="M473.59,325.83L473.55,325.84L473,325.9L471.58,325.87L472.79,324.57L474.57,323.99L474.18,324.51ZM359.45,311.33L360.59,310.52L360.71,311.87L361.02,313.45L358.83,314.37L358.7,314.72ZM401.17,289.04L401.64,288.39L401.91,288.65L401.74,289.35L401.74,289.36L401.68,289.59L401.32,289.55ZM456.59,340.45L458.12,341.13L457.89,341.09L457.6,341.08L457.85,341.9L457.5,341.35L456.5,340.58ZM444.55,359.53L443.87,359L443.96,359.11L442.15,358.38L442.36,358.28L442.58,357.54L444.12,358.8ZM478.34,362.55L478.19,362.85L478.04,362.89L477.65,362.85L477.44,362.3L477.71,362.19L477.97,361.88L478.16,361.74ZM381.4,274.54L380.76,269.41L382.26,269.55L383.29,271.51L386.12,274.22L384.44,274.32L384.04,274.47ZM424.7,272.23L422.75,271.48L429.44,269.94L430.79,271.14L429.44,273.38L429.37,274.63ZM472.22,325.87L471.02,326.25L470.08,326.07L468.31,324.57L474.78,322.19L476.57,322.53ZM361.16,333.85L361,333.16L361.17,332.99L360.91,332.7L361.2,332.49L361.55,332.26L362.01,332.48L362.3,333.38ZM477.54,371.3L477.35,370.3L477.8,369.89L477.85,370.18L478.1,370.04L477.98,370.26ZM479.29,364.52L480.75,361.99L481.55,362.36L482.09,364.9L482.65,366.83L482.93,368.84L480.37,366.08L480,365.95ZM477.11,328.44L478.58,326.9L477.93,325.87L479.58,325.09L480.91,325L482.96,325.26L482.73,328.23L480.75,328.76ZM433.49,285.16L433.13,285.23L433.06,285.17L432.76,284.79L433.13,284.37L433.85,284.23L433.94,284.27ZM426.88,281.03L426.52,281.09L426.52,281.31L425.06,280.62L426.38,279.73ZM437.82,268.98L437.17,269.92L436.91,268.85L438.13,268.56L437.84,268.79ZM433.66,368.41L433.86,368.43L434.33,368.25L434.54,369.48L434.6,369.6ZM474.93,267.44L474.82,267.72L474.78,267.78L474.48,267L473.89,265.16L474.78,265.54L475.74,265.56ZM359.42,279.83L358.2,280.08L357.71,280L356.75,279.96L357.33,279.13L358.56,278.94L358.77,279.39L358.94,279.46ZM372.31,309.1L370.84,309.62L370.23,309.09L368.48,308.64L375.79,306.06L375.06,306.9L377.37,306.89L375.02,307.54ZM450.11,356.36L449.72,355.82L449.61,355.53L449.59,355.17L449.53,354.94L450.07,354.28L450.5,355.64ZM511.44,305.73L511.38,305.41L511.32,305.3L511.31,305.08L511.83,305.26L511.48,306.67ZM405.99,302.74L406.71,302.71L406.99,303.93L406.65,303.61L406.49,303.54ZM427.13,350.98L427.15,350.87L427.54,350.77L427.68,351.02L427.73,351.59L427.07,351.76L427.1,351.66ZM385.4,268.09L384.03,268.48L384.49,265.11L384.47,265.32L384.46,265.49ZM373.16,295.95L373.03,296.7L374.85,299.41L376.06,302.38L373.04,301L373.41,302.52ZM437.19,318.83L435.13,320.07L432.65,318.54L431.68,318.04L431.38,316.81L434.42,313.1L437.01,314.33ZM371.82,360.04L371.73,359.91L371.89,359.71L372.15,359.78L372.74,360.31L372.68,360.73ZM434.29,373.66L433.46,373.61L433.14,373.59L433.46,373.39L433.67,373.01L434.33,372.77ZM394.61,326.57L394.43,325.98L394.73,325.81L394.83,325.62L394.84,325.71L394.89,325.46L394.92,325.74L395.25,325.45ZM415.33,336.7L415.78,336.13L416.07,335.99L416.09,336.21L416.64,337.7L416.52,337.73L416.15,337.81L415.78,337.64ZM447.18,286.52L446.86,286.55L446.81,286.2L447.32,285.55L447.57,285.77L447.69,285.98L447.44,286.16ZM385.45,343.6L385.07,340.58L387.52,342.62L388.04,346.81L387.82,348.22L385.83,345.55L385.03,346.12ZM464.33,276.41L463.52,276.13L464.48,275.73L466.19,275.48L466.67,275.62L467.24,276.36ZM408.24,296.63L408.68,295.47L409.49,295.05L410.85,294.53L411.88,293.42L412.59,295.4L409.99,298.22ZM356.68,343.43L356.67,343.31L356.86,343.65L357.02,343.58L357.34,344.66L357.35,344.76L356.74,344.4L356.81,344.36ZM363.1,282.21L362.82,281.9L362.86,280.71L363.42,281.29L363.37,282.14L363.32,282.13L363.19,281.83ZM432.16,292.82L435.56,293.59L434.63,293.6L434.22,293.42L433.91,294.21L432.99,293.33L432.34,293.38ZM407.05,285.5L409.78,285.91L409.2,287.13L406.78,287.87L406.03,288.07L405.64,287.9L405.43,287.83ZM360.73,353.75L360.56,354.25L359.55,352.1L360.86,352.21L360.81,353.69ZM378.01,353.97L378.34,353.5L378.56,352.92L379.09,352.82L379.78,355.09L378.59,355.08L378.31,354.39ZM388.73,351.08L389.84,347.01L389.99,346.67L391.23,347.01L391.77,347.88L392.66,348.84L392.77,348.84L392.45,350.97ZM461.81,332.93L461.36,329.68L462.11,330.46L461.76,329.09L463.4,330.1L464.99,335.11L463.34,335.59ZM413.83,368.14L412.84,367.88L412.74,366.27L413.77,366.13L414.36,365.75L413.94,367.45ZM368.66,336.08L368.6,335.98L368.31,335.81L368.59,335.06L369.46,335.36L369.53,335.65L369.51,335.79L369.3,335.97ZM435.15,370.45L435.31,370.15L435.72,369.94L435.97,370.21L435.83,370.75ZM512.26,341.21L511.27,340.07L511.59,339.28L511.83,339.15L511.83,338.72L512.84,340.41ZM414.83,284.59L414.5,284.65L414.31,284.66L414.08,284.27L414.56,284.12L415.01,283.82ZM351.19,343L350.83,341.84L352.6,341.4L353.06,343.76L353.59,343.95Z"/><path fill="#d8d8d8" d="M463.83,352.26L463.51,351.95L462.68,345.73L463.41,346.42L463.79,347.32ZM424.2,340.54L422.71,340.35L422.36,340.47L422.22,339.58L422.81,338.95L425.31,339.46ZM399.54,327.84L399.53,327.54L400.15,327.36L400.73,327.54L400.82,327.52L400.18,328.22ZM353.24,317.65L352.2,315.77L352.87,315.43L355.09,316.04L356.25,316.56L356.11,317.76ZM358.12,325.28L357.44,324.96L357.31,324.77L358.68,323.97L359.41,324.91ZM359.52,354.18L358.99,354.13L359.23,353.73L359.36,353.49L359.77,353.62L359.61,354.11L359.57,354.09ZM357.1,303.31L357.01,302.37L358.17,303.03L357.99,303.18L357.71,303.63ZM373.84,344.3L373.55,344.41L373.98,343.29L374.12,343.58L374.66,343.25L374.52,344.12L374.38,344.57ZM436.48,273.16L432.56,272.99L430.55,271.61L431.44,270.95L431.98,271.1L431.34,270.73L430.1,270.07L433.06,269.92ZM432.9,276.6L432.94,276.94L433.31,276.93L433.36,276.87L433.29,277.58ZM496.86,292.86L497.16,292.78L497.32,292.68L497.83,293.22L497.86,293.85L497.65,293.85L497.35,293.94L497.2,293.73ZM456.73,345.03L457.54,345.31L458.06,345.24L458.42,345.91L458.9,346.68L459.18,347.37L458.78,347.59ZM357.18,352.02L358.2,352.79L358.53,352.92L358.47,353.19L357.73,353.17L357.65,353.02L357.6,352.93ZM362.67,305.09L361.96,304.23L363.65,304.11L363.84,304.64L363.53,304.72L363.36,305.39ZM390.11,269.46L390.4,268.9L391.08,269.94L390.87,270.39L390.56,270.79ZM445.67,327.75L445.79,326.82L446.64,326.17L446.95,326.17L446.79,326.59L447.33,326.66L447.14,327.5ZM507.57,268.59L506.42,267.18L510.17,261.97L510.46,263.43L511.89,261.98L509.83,267.65L507.84,269.83ZM426.27,363.21L426.21,363.07L426.54,362.82L428.85,362.51L428.97,362.77L429.56,363.45L426.65,364.56ZM502.94,286.69L503.82,285.82L504.69,287.01L505.83,288.28L505.22,288.89L503.51,288.35ZM361.15,355.87L360.97,355.82L361.26,354.43L361.67,354.75L361.84,354.18L362.28,353.82L362.98,354.46L361.37,356.57ZM443.9,282.94L443.6,279.09L446.05,278.42L449.49,282.59L449.5,283.38L448.61,283.74L448.38,284.51L446.41,283.26ZM443.44,291.9L443.3,291.39L443.47,291.53L443.9,291.25L444.21,291.53L444.47,292.47L444.41,292.46L443.8,292.68ZM415.13,337.51L415.09,337.61L414.5,336.79L414.83,336.61L415.29,336.79L415.18,336.91ZM418.18,287.53L422.38,284.56L422.1,288.44L419.75,288.45L419.27,288.46ZM357.77,284.41L357.68,282.31L357.71,281.88L359.53,283.82L362.92,285.62L362.04,286.11L361.85,289.61ZM415.8,328.31L417.13,327.79L417.4,327.62L417.44,327.65L417.35,327.96L417.41,328.26L417.69,328.92ZM395.02,354.85L394.31,354.06L394.55,351.05L397.44,349.54L399.13,350.75L400.47,351.04L398.09,357.95ZM436.64,311.09L438.91,310.01L439.69,310.71L439.63,311.86L438.22,312.44L437.67,312.29ZM407.59,324.48L407.68,324.17L407.85,324.14L407.91,324.07L408.48,323.89L409,324.08ZM405.1,298.66L405.51,298.84L405.58,299.38L405.6,299.37L405.42,299.55ZM490.43,289.93L490,290.22L489.93,290.1L489.32,290.53L489.39,289.21L489.47,289.29L489.76,289.28ZM417.64,274.77L415.71,275.67L415.02,273.9L414.59,273.5L414.9,272.95L415.57,272.67L416.98,272.69L417.78,273.33ZM428.96,282.83L429.45,283.39L431.01,284.43L430.69,285L430.02,285.31ZM387.03,327.01L386.93,326.4L386.77,325.95L386.91,326L387.55,326.51L387.8,326.72L387.43,326.67ZM387.06,271.94L386.81,272.08L386.68,271.61L387.68,270.88L387.83,271.08L387.41,271.71L387.29,271.83ZM372.56,268.68L371.68,267.48L371.69,266.86L372.21,266.42L372.67,265.69L372.71,265.39L373.92,265.19ZM376.3,331.64L376.76,331.08L377.12,330.79L377.89,330.38L377.98,330.57L378.37,331.02L378.71,331.46ZM380.22,304.17L378.65,299.35L378.85,299.62L378.99,298.81L381.11,300.92L382.22,302.01L382.64,303.4ZM398.06,282.17L397.43,281.22L397.8,281.11L398.03,281.3L398.16,281.2L399.06,281.93L398.31,282.23ZM352.5,286.74L353.44,285.45L353.11,284.18L354.17,284.21L355.23,289.01ZM460,364.02L459.73,363.25L459.73,362.47L459.71,362.35L461.06,362.88L461.49,363.36L461.12,363.56ZM394.96,292.07L399.84,291.18L400.48,291.84L403.38,291.97L402.25,292.53ZM400.46,332.86L403.26,328.44L405.06,328.91L405.32,330.37L404.92,330.55L405.82,330.7L406.84,332.77ZM356.16,289.07L355.83,289.02L355.52,288.71L355.36,288.74L355.28,288.55L355.86,287.82L356.14,287.94L356.31,288.49ZM453.98,340.07L454.75,339.9L455.31,339.79L455.99,340.73L455.59,340.66L455.21,340.99L454.97,340.94ZM454.31,301.97L454.19,301.83L454.38,301.46L454.61,301.21L455.17,301.8L455.46,301.97L454.61,302.11ZM432.64,376.25L432.24,375.19L432.25,375.18L432.05,375.08L432.57,374.96L432.74,374.79L433.39,375.47ZM501.67,324.07L501.13,321.51L504.55,322.38L504.94,322.64L504.11,323.51ZM462.74,274.08L462.05,273.76L462.21,272.08L464.19,273.09L465.01,273.19L464.44,274.08L463.75,274.47ZM389.93,351.8L389.74,350.31L388.32,349.6L388.75,349L395.84,351.09L395.36,353.24L391.85,352.79ZM350.78,321.58L351.28,318.54L351.61,318.86L353.79,320.24L353.37,323.28ZM498.56,331.71L498.82,331.74L499.2,331.78L499.4,332.48L498.69,332.53L498.76,332.41L498.61,332.62L498.63,332.13ZM474.76,346.07L474.04,346.5L473.23,345.4L473.73,342.61L473.72,342.59L473.35,342.04L477.16,339.81L479.54,345.39ZM495.72,308.45L495.75,308.25L496.35,308.61L496.34,309.11L496.05,309.34ZM447.46,341.38L447.52,341.34L448.2,341.21L448.16,341.67L448,342.33L447.58,342.3ZM434.53,310.34L434.29,310.38L433.88,309.85L434.26,309.08L434.77,309.38L435.64,310.34ZM487.66,318.11L487.57,317.69L488.02,317.27L488.08,317.32L488.4,317.87ZM356.18,331.09L357.09,330.39L357.52,330.14L357.8,330.3L358.67,330.03L359.19,331.17ZM465.17,322.26L465.01,321.38L465.65,321.52L465.64,321.72L465.89,321.81ZM494.59,348.27L491.81,347.25L491.33,347.17L490.22,346.82L496.23,344.09L496.55,345.01L494.69,347.18ZM478.86,316.26L478.64,316.1L479.1,316L480,316.76L479.73,316.62ZM413.58,274.23L413,274.68L409.67,275.05L410.86,272.77L411.71,272.63L414.15,272.43ZM431.29,302.58L430.51,303.13L430.43,302.65L431.4,302.22L431.49,302.19ZM367.63,344.42L367.54,343.89L368.53,343.53L368.85,343.61L368.93,343.77L368.82,344.17L368.72,344.57ZM395.23,337.37L392.99,336.53L393.83,331.08L394.2,331.27L394.14,329.62L396.01,332.6L396.36,333.24ZM486.56,320.37L486.41,319.23L486.73,318.98L487.29,319.91L487.01,320ZM501.48,360.55L501.37,360.46L501.13,360.41L500.99,360.35L500.88,360.08L502.14,359.95L501.99,360.06ZM420.2,306.48L420.78,306.21L421.7,306.61L421.62,306.72L420.38,306.88L420.56,306.75ZM411.87,317.17L411.36,317.3L411.47,316.96L411.41,316.88L411.39,316.61L412.22,316.7L412.33,316.63L412,317.22ZM392.72,366.79L392.9,366.29L393.52,366.89L393.67,367.37L393.65,367.38L393.61,367.4ZM425.02,345.32L425.02,345.17L425.27,344.6L425.99,345.01L426.42,345.24L425.92,345.42L425.87,345.42ZM475.09,302.9L476.16,300.87L473.7,301.34L474.12,297.77L477.37,298.18L478.48,297.36L483.02,299.97ZM398.86,295.27L398.25,295L398.4,294.1L399.28,294.39L399.87,294.83ZM418.57,305.61L418.32,305.53L417.46,305.1L417.31,303.95L417.97,302.87L420.53,303.84ZM449.72,344.93L450.48,346.13L450.35,346.06L450.27,346.25L450.06,346.08L449.9,345.89L449.84,346.05L449.85,346.15ZM365.58,285.05L368.46,284.28L369.88,283.45L371.16,285.16L370.49,288.09L368.17,288.34L368.02,288.02ZM457.45,299.9L458.33,299.95L458.2,300.18L458.14,300.38L458.48,300.75L458.13,300.96L458.02,301.9L457.66,301.43ZM478.02,274.81L477.87,275.26L477.4,274.85L476.96,274.1L477.24,274L478.45,274.09ZM365.53,300.56L366.14,300.22L366.12,300.34L366.75,300.65L366.37,301.1L366.26,301.08ZM486.61,375.15L486.65,375.42L485.09,376.38L485.1,375.56L483.73,374.83L483.97,374.43L484.35,372.6L485.72,373.26Z"/><path fill="#f0f0f0" d="M462.61,283.03L462.55,282.79L462.7,282.69L462.71,282.44L463.11,281.9L463.29,282.11L463.64,282.46ZM407.88,368.73L407.87,368.84L406.97,369.24L406.81,368.78L406.75,368.77L407.26,368.52L408.67,368.25L408.3,368.71ZM384.01,300.92L384.11,299.83L383.89,298.86L383.48,296.48L384.61,295.88L385.99,297.27L386.61,299.6ZM433.17,367.21L432.95,367.16L432.62,367.05L433.59,366.1L433.86,366.08L433.9,366.19L433.63,367.05L433.58,367.01ZM402.08,300.5L402.62,299.89L401.64,297.29L402.65,296.79L403.18,296.51L402.92,294.69L407.3,296.3ZM356.88,280.61L356.41,281.3L356.07,281.15L355.92,281.04L356.56,279.74L357,279.56ZM415.08,361.15L415.11,360.96L414.24,360.66L414.21,360.59L416.85,359.83L417.05,359.82L417.89,360.22ZM413.94,356.55L413.9,356.63L414.04,356.76L413.81,356.65L413.57,356.77L412.94,356.17L413.34,355.78ZM426.31,360.74L425.92,361.01L425.59,361.2L425.88,360.57L426.27,359.63L426.48,359.51ZM367.09,284.65L367.56,284.8L367.93,285.62L368,286.16L367.83,285.8ZM420.7,286.9L420.87,286.79L420.95,287.12L421.24,287.27L421.15,287.77L420.87,287.78L420.49,287.66ZM502.77,327.37L502.96,327.03L503.1,326.91L503.22,326.92L503.44,326.81ZM380.92,286.13L380.73,284.77L383.2,284.86L383.3,284.5L384.65,290.36ZM368.81,296.2L368.49,295.99L367.75,295.6L368.31,294.32L368.36,293.52L369.09,293.47L369.79,294.42L370.03,294.76ZM501.29,305.73L501.55,305.72L501.69,305.71L501.85,305.84L502.11,306.16ZM420.04,264.88L420.35,265.22L420.34,265.37L420.47,265.62L420.57,265.77L419.52,265.81ZM371.35,298.84L371.29,298.16L372.14,297.21L372.29,297.84L372.29,298.33L372.6,298.63ZM474.25,276.51L472.99,275.44L473.64,275.22L473.31,274.63L474.84,274.1L475.51,275.24L475.4,276.87L474.7,277.05ZM352.77,354.72L352.48,352.35L353.07,352.81L352.85,351.81L356.06,354.54L355,354.36L354.97,355.31L353.97,355.3ZM467.63,363.24L467.2,363.13L467.29,363.1L467.45,362.78L468.23,362.6L467.82,363.18ZM405.72,340.78L405.67,339.13L410.79,340.3L409.22,340.08L409.75,340.36L408.6,340.53ZM436.22,301.08L436.56,301.06L436.56,301.39L436.73,301.86L436.57,302.34L436.07,302.04ZM403.79,329.32L403.73,329.1L403.54,329.01L404.41,329.37L403.89,329.32ZM404.23,279.71L404.38,279.05L404.53,278.62L404.63,278.81L404.95,279.22L404.73,279.65L404.44,279.89ZM423.7,314.57L425.44,311.56L424.95,314.72L424.82,315.13L424.62,315.14ZM441.82,302.76L441.89,302.66L442.32,302.64L442.64,302.45L442.94,303.32L442.85,303.52ZM419.21,287.85L418.65,287.95L418.43,287.75L418.25,286.96L418.88,286.78L419.34,287.36ZM452.61,294.12L456.11,293.6L455.99,293.77L455.62,293.87L455.04,294.46L454.43,294.75L454.02,295.23ZM459.59,283.41L460.1,283.07L460.28,282.75L460.46,282.58L460.83,282.68L461.42,283.08L459.99,283.39ZM416.16,313.85L415.15,314.04L414.59,313.66L414.27,313.46L414.8,312.15L415.79,311.84ZM397.53,351.91L397.44,351.77L397.07,351.86L397.17,351.72L397.53,351.2L397.72,350.93L398.36,351.34L398.47,351.37ZM509.02,353.29L507.8,352.23L507.89,352.09L508.7,350.27L509.86,350.4L512.76,353.04ZM362.48,358.37L361.42,358.29L361.24,358.05L361.38,357.97L362.11,357.42L362.2,357.39L362.11,357.66L362.54,358.03ZM391.19,355.31L390.71,355.25L390.51,355.3L389.25,354.08L389.43,354.21L389.03,353.88L389.36,353.69L389.52,353.9ZM435.11,273.11L437.49,273.33L438.71,272L439.44,275.93L439.79,278.88ZM478.9,364.93L479.25,364.72L479.86,363.57L481.18,363.97L482.18,364.43L480.92,366.14L479.72,366.65L479.56,365.76ZM446.72,343.53L446.51,344.99L443.98,341.52L445.52,341L446.41,341.11L447.44,341.89L446.97,342.47ZM415.74,287.1L415.95,285.69L416.6,286.57L417.11,288.25L416.83,288.13L415.78,287.68ZM461.6,272.78L461.25,272.56L461.15,272.29L461.45,272.4L462.33,273.47L462.05,273.39L461.8,273.37L461.71,273.13ZM360.57,354.59L360.73,354.49L361.53,354.63L362.12,355.14L361.8,355.09L362.03,355.38L361.58,355.44ZM482.6,341.18L482.99,340.94L484.03,340.54L484.41,340.65L484.61,340.57L483.66,342.01L483.57,341.73L482.79,341.68ZM417.16,270.69L417.2,269.93L418.06,270.58L421.4,269.85L419.82,271.74L420.43,272.01L417.26,273.48L415.79,273.59ZM464.06,281.68L464,281.89L463.94,281.83L463.75,281.16L463.53,280.09L463.84,280.07L463.86,280.01L464.3,279.82ZM422.53,365.79L422.22,365.8L422.53,365.23L423.32,364.96L422.86,365.8ZM496.87,312.52L495.55,311.92L495.2,311.73L494.86,311.53L495.01,311.39L495.26,311.2L496.27,311.28L497.15,312.06ZM369.91,303.45L369.46,303.2L370.58,302.9L370.59,303.02L370.75,302.75L371.33,302.84L371.06,304.18L370.03,304.09ZM461.07,337.89L461.05,336.97L461.39,336.75L461.4,336.9L461.56,336.64L461.67,336.91L461.75,337.3L461.5,337.97ZM372.36,315.53L370.83,312.94L371.46,313.58L371.46,313.53L372.68,314.66ZM488.64,297L488.8,295.99L488.91,295.85L488.96,295.67L489.43,295.71L490.41,296.31ZM378.47,360.49L378.52,359.64L378.01,357.47L377.45,356.66L380.88,358.89L379.97,358.71ZM444.54,292.01L444.55,291.96L444.01,291.13L445.11,291.55L445.15,291.75L444.55,292.03ZM482.65,343.85L482.36,343.38L482.5,342.75L483.21,343.17L482.89,343.64ZM498.07,286.01L499.21,285.58L499.52,285.36L499.87,285.72L500.22,285.99L500.04,286.45L499.57,287.22L499.34,287.05ZM451.93,274.37L453.11,273.73L452.01,272.62L452.86,272.8L452.81,271.63L456.15,272.79L457.55,274.93ZM429.04,308.24L427.24,310.17L426.7,310.7L427.21,308.7L430.37,304.07ZM442.55,286.66L443.23,285.2L445,285.09L445.8,286.87L443.2,287.17ZM473.64,295.18L472.85,294.51L473.17,294.6L473.5,294.81L474.77,295.14L474.89,295.2L475.35,295.93L474.33,295.97ZM416.24,340.94L416.12,341.13L415.77,340.9L416.18,339.36L417.08,339.88L416.73,340.27L416.87,341.32ZM390.43,356.9L390.38,357.25L389.88,355.84L390.6,356.81L390.5,357.13ZM472.33,357.07L471.72,356.9L472.68,356.11L472.99,355.65L473.11,355.85L473.25,355.8L472.95,356.79ZM403.44,328.5L403,328.33L404.23,327.56L405.28,328.43L405.16,328.71L404.2,329.79ZM498.29,270.47L498.28,270.3L497.66,268.94L497.88,268.48L499.11,267.4L500.75,268.36L499.77,269.79L499.88,270.92ZM466.67,281.92L463.93,279.6L466.34,279.08L466.86,278.8L467.24,278.55L467.82,282.25ZM467.5,299.42L468.59,300.52L469.44,301.39L468.99,301.61L468.81,302.1L469.65,302.27L468.05,303.33ZM378.27,289.65L378.17,289.51L378.14,289.42L377.98,288.74L378.08,288.5L378.44,288.54L378.76,288.67ZM403.85,373.02L404.21,373.1L405.14,372.94L406.97,373.93L406.64,374.57L405.03,375.31ZM436.12,371.53L435.96,371.48L435.04,371.58L436.67,367.56L441.16,371.98L439.53,373.39ZM355.41,341.59L355.23,341.56L354.98,341.3L354.55,341.12L354.68,340.56L354.78,340.03L355,340.3L355.35,340.31ZM401.34,303.52L402.09,303.68L402.86,304.47L402.65,304.65L402.62,304.7ZM479.47,364.73L477.6,363.38L478.05,360.76L479.15,360.29L480.03,359.77ZM401.41,296.69L401.76,296.43L403.23,296.3L404.3,297.43L404.9,297.96ZM480.22,273.23L478.78,271.63L478.75,271.27L480.2,272.18L480.48,272.66ZM467.32,297.15L466.75,297.65L466.83,297.3L466.73,296.67L467.44,295.76L467.28,296.28L467.43,296.39Z"/><path fill="#fcfcfc" d="M494.99,327.76L493.35,326.26L493.64,323.08L497.58,327.46L496.63,328.9ZM501.88,345.38L501.48,344.98L501.03,344.54L502.34,344.45L503.1,345.34L502.77,345.3ZM504.09,365.1L504.45,365.04L504.57,365.14L504.75,364.86L504.73,365.14L505.18,364.96ZM497.31,356.59L496.88,356.58L496.55,356.72L496.66,355.89L497.21,355.97L497.14,356.07ZM442.96,368.64L443.13,369.23L443.03,369.41L443.36,369.57L443.09,370.19L442.68,370.42L442.64,370.38ZM419.74,374.95L419.68,374.81L419.55,374.69L420.4,374.28L420.65,374.29ZM476.16,373.39L476.3,373.54L476.88,374L477.06,373.94L476.82,374.77ZM503.87,340.38L502.76,339.84L502.76,339.6L502.19,338.67L505.85,337.99L508.18,339.57ZM434.09,269.09L433.55,268.55L433.52,268.41L433.98,268.16L434.66,268.63ZM383.09,345.25L383.8,344.91L384.19,345.37L383.96,346.2L383.5,345.96L383.3,346.06ZM361.07,314.75L360.66,314.26L361.41,314.42L362.1,315.13L362.23,315.69ZM453.98,360.54L453.74,360.43L455,360.07L455.09,360.24L455.7,360.8L455.54,361.12ZM360.54,320.06L360.73,319.85L360.89,319.36L361.51,319.49L362.3,320.06L361.72,320.41L360.66,320.56L360.85,320.32ZM433.07,278.98L432.98,279.28L432.5,278.83L432.17,276.46L433.15,275.83L433.43,276.44L434.14,275.98L434.78,276.26ZM429.26,376.21L429.56,375.47L429.51,375.04L430.15,373.48L430.4,374.4L430.98,373.88L431.1,375.41L430.38,376.63ZM494.48,321.93L494.06,321.8L494.53,321.26L494.49,321.05L494.58,321.15L494.68,321.14L494.9,321.08ZM358.75,368.47L358.49,367.8L359.72,367.85L359.84,368.56L359.82,368.64L359.98,368.88ZM427.71,312.59L428.01,312.39L428.47,311.97L429.18,312.26L429,312.53ZM360.32,286.29L360.46,286.37L360.72,286.34L360.74,285.93L361.21,286.87L361.05,286.88L361.04,286.97L361.08,287.84ZM370.46,272.6L370.69,272.58L370.78,272.5L371.23,272.97L371.01,273.03L370.98,272.99L370.59,273.01L370.31,273.18ZM394.69,367.99L394.87,367.51L395.39,367.84L395.37,368.44L395.45,368.64L394.78,368.43ZM490.09,370.23L489.38,369.28L490.47,369.06L493.04,368.65L493.14,368.62L493.1,369.35L492.79,371.63ZM485.35,364.71L485.32,364.84L484.37,365.04L483.96,363.99L484.07,363.98L484.81,363.61L485.4,364.08ZM456.07,365.66L456.04,365.89L455.38,365.69L455.15,364.43L456.12,364.41L456.3,364.26L456.37,364.31L456.66,365.52ZM416.28,282.59L416.91,282.29L416.56,280.7L417.07,280.19L417.59,281.22L418.95,283.7L418.61,284.21ZM365.94,299.29L365.69,297.72L365.96,298.22L366.11,298.24L366.05,298.4L366.36,298.44ZM415.42,328.58L413.56,328.32L412.78,326.22L412.63,325.56L412.5,324.94L416.44,324.98L415.64,325.98L416.53,326.67ZM464.39,321.23L464.05,320.4L464.94,319.53L465.98,320L465.86,320.51ZM446.12,298.64L446.74,297.71L447.05,298.77L447.19,298.98L446.99,299.2L446.86,299.22ZM503.62,308.92L503.05,309.92L501.14,308.37L503.25,304.9L504.45,303.5L504.92,302.5L505.78,304.87ZM490.74,318.85L490.48,317.42L489.81,312.61L490.65,311.44L491.96,312.57L493.1,310.78L492.81,312.32L494.23,311.28ZM350.73,293.33L349.69,293.42L352.84,292.28L351.99,293.86L352.03,294.03L350.95,293.76ZM415.11,334.39L415.94,336.29L416.44,340.03L416.29,341.02L415.1,343.48L414.85,343.46L413.15,341.49ZM476.43,303.9L478.96,301.87L480.77,303.05L481.84,304.89L478.86,305.26ZM389.32,375.65L388.99,375.28L388.83,374.87L389.12,374.42L389.58,375.3L389.58,375.3L389.63,375.54L389.43,375.47ZM377.79,323.92L378.08,323.73L378.04,323.34L378.39,323.42L378.3,324.85ZM446.24,307.02L445.45,306.4L445.5,305.91L445.74,305.83L447.45,305.67L446.99,306.53L446.85,306.66ZM370.13,353.43L367.13,349.9L375.74,353.43L374.77,354.38L377.69,356.7L374.8,356.47ZM438.53,360.63L436.74,359.17L436.5,358.23L436.81,358.04L438.22,357.69L438.45,358.35ZM445.91,275.15L446.3,274.78L447.45,274.49L447.48,275.05L448.69,275.47L447.77,276.3ZM431.96,270.43L436.4,266.74L438.11,267.13L437.63,268.1L438.5,267.63L433.99,271.46ZM480.12,307.56L479.22,307.76L479.37,307.39L479.62,307.14L480.01,306.64L480.41,307.04L480.32,307.09ZM381.38,340.08L379.66,339.35L380.64,338.94L381.19,339.16L381.59,339.37L381.64,339.48L381.28,339.51ZM433.55,372.23L433.45,372.21L433.71,371.16L434.19,368.44L435.93,366.22L439.7,368.5L439.55,371.41L435.41,375.62ZM380.27,355.85L380.2,355.93L379.23,358.09L377.14,358.16L376.87,356.24L379.5,352.3ZM427.73,374.25L426.76,373.38L430.26,373.56L430.11,375.02L429.35,374.38ZM366.39,348.06L365.54,347.83L366.28,347.11L366.47,347.11L366.58,346.93L366.84,347.62ZM418.26,344.68L418.85,344.35L418.95,344.26L419.02,344.48L418.83,345.04ZM493.06,340.13L492.8,339.99L492.77,339.67L492.6,339.48L492.67,339.41L492.55,339.33L493.51,339.34ZM460.14,349.58L461.41,349.32L461.83,349.36L462.06,349.9L464.39,351.31L463.5,352.39ZM479.21,357.18L478.87,357.44L478.49,357.49L478.27,357.53L478.21,357.25L479.04,356.67ZM466.7,375.68L466.91,373.97L467.56,374.25L467.98,372.62L468.53,373.17L469.04,373.62L469.99,372.47L472.33,374.73ZM373.8,344.65L373.54,344.3L374.17,343.86L374.2,343.65L374.73,344.15L374.24,344.84ZM380.65,359.69L380.62,359.27L379.96,359.02L380.04,357.6L381.52,357.92L381.95,358.11L381.79,359.2L381.48,359.15ZM508.22,280.73L508.04,280.93L507.59,280.17L507.19,279.65L507.97,278.66L509.66,278.79L509.33,279.45ZM442.15,285.32L442.22,285.02L442.57,285.17L442.83,285.47L442.97,285.87L442.78,285.84L443.12,286.04L442.26,285.88ZM384.9,315.6L384.32,313.32L386.07,309.55L388.31,311.56L390.49,311.55L390.11,311.98ZM498.1,337.36L496.51,333.89L497.42,332.16L498.7,331.43L499.79,329.72L501.35,333.57L501.37,338.32ZM430.01,363.75L429.88,363.52L429.92,363.32L430.04,362.93L430.18,363.21L430.63,363.41L430.73,364.08L430.42,364.23ZM480.84,272.43L480.9,272.09L481.16,272.04L481.64,272.16L481.81,272.54L481.4,272.91ZM492.59,332.77L491.04,331.89L494.65,327.88L496.38,328.69L496.27,330.1L495.48,332.97ZM426.88,275.99L427.6,274.37L427.86,274.72L427.4,276.08L427.38,276.67ZM461.57,327.65L462.38,327.35L462.8,329.32L462.7,329.44L462.49,329.85ZM489.6,331.9L491.33,327.62L492.19,329.15L493.98,329.77L494.07,330.41L493.94,331.18L493.08,334.06ZM402.3,369.49L401.3,369.04L403.83,368.39L405.14,366.7L408.62,368.65L406.09,371.17L402.43,371.42L402.93,370.52ZM431.4,353.15L431.73,352.34L432.49,353.62L432.2,353.35L432.15,353.6ZM443.64,281.93L444.93,279.77L449.3,281.4L448.51,281.87L446.15,283.25ZM458.96,303.69L458.89,303.89L458.48,304.16L458.09,303.9L458.34,303.19L458.94,303.48ZM506.25,354.4L504.73,350.61L504.71,350.02L506.38,349.75L507.27,350.37L510.35,349.84L508.32,353.53ZM438.66,270.42L438.41,269.72L439.46,269.39L439.59,269.63L439.81,269.95L439.49,270.27L439.17,270.34ZM508.57,283.76L504.82,284.1L504.91,278.61L506.21,279.75L508.88,278.64L508.84,280.64L509.31,280.85Z"/><path fill="#cccccc" d="M494.5,302.19L493.13,300.73L493.4,299.53L496.39,299.97L496.57,300.51ZM351.44,292.63L351.41,292.34L351.41,292.3L352.11,291.71L352.04,292.27ZM373.95,307.14L372.87,307.3L373.08,305.6L374.26,304.65L374.96,304.48ZM451.71,375.34L451.85,375.32L451.72,374.72L451.93,374.77L452.49,375.94L452.19,376.41ZM464.09,273.91L463.84,273.36L463.86,272.81L463.73,272.45L464.19,272.12ZM454.06,335.92L453.76,336.57L453.69,334.09L453.65,334.83L453.99,334.4L454.16,334.45L453.94,335.02L454.35,334.94ZM365.86,355.62L365.8,355.89L365.19,355.12L365.71,354.91L366.02,354.79L366.15,355.45ZM445.31,352.33L443.83,349.73L444.28,347.18L445.96,347.12L447.14,347.42L447.5,350.59ZM353.96,315.72L356.71,313.03L361.57,314.53L360,318.29L359.44,317.56L356.4,318.69ZM404.61,298.07L403.63,298.97L403.91,298.41L403.76,298.28L404.36,295.73ZM490.01,266.14L490,265.7L490.87,265.51L490.97,265.8L490.08,266.75ZM479.31,293.74L480.1,291.96L481.05,290.75L482.81,292.86L482.89,293.65L481.71,294.47L481.65,297.02L481.19,299.25ZM357.32,294.34L357.32,294.32L356.98,293.32L358.03,293.69L358.03,294L357.79,294.23ZM463.71,361.99L464.81,361.36L464.55,361.5L464.71,361.49L464.84,361.63ZM444.19,302.35L445.06,302.38L445.22,303.01L445.13,303.5L444.23,303.39L443.98,303.49ZM372.22,344.15L371.68,344.31L371.29,344.28L370.23,344.32L370.37,341.89L371.93,342.37L372.2,342.68ZM386.05,327.18L385.07,327.42L384.55,327.93L385.51,323.76L386.79,325.2ZM466.21,337.81L464.98,337.06L462.66,336.54L460.8,335.24L465.51,333.59L466.53,333.76ZM371.73,300.32L371.44,299.97L371.84,299.88L371.87,299.48L372.75,298.93L372.74,299.64L372.61,300.38L372.37,300.61ZM468.19,335.04L468.24,334.8L468.51,334.82L469.04,334.73L469.46,335.42L469.26,335.6L468.55,335.75L468.3,335.53ZM488.45,275.54L489.82,273.43L492.34,268.22L494.62,270.36L491.47,274.62L489.78,275.66L489.82,274.92ZM498.42,306.58L497.82,304.48L499,305.28L499.34,304.61L500.3,306.01L499.57,307.98ZM399.04,373.62L399.08,373.65L398.26,373.84L397.8,372.72L398.79,373.19ZM381.48,308.28L381.95,307.29L382.59,306.1L383.25,304.61L385.56,304L387.18,308.53L387.16,308.82L385.58,309.68ZM502.76,277.76L503.18,273.58L503.38,271.55L506.84,272.02L505.73,277.83ZM378.85,376.4L379.37,374.24L381.75,372.83L383.33,373.01L383.87,373.29L383.81,375.79L381.11,376.18L379.25,377.79ZM383.98,340.22L382.98,341.1L382.28,339.68L384.43,337.01L385.34,336.3L386.02,338.82L385.17,339.14L384.52,340.17ZM350.27,278.42L353.36,282.8L353.21,282.7L353.11,283.63L352.61,285.3L351.8,283.21L350.45,281.56ZM443,352.13L442.77,352.63L442.76,352.18L442.06,351.3L442.17,350.24L443.68,352.17L443.37,351.86ZM377,341.91L376.12,340.99L375.06,341.02L379.76,340.64L379.75,340.99L380.92,341.92ZM481.86,328.28L481.66,328.01L481.24,327.2L481.16,327.14L481.32,327.05L481.95,326.19L482.1,326.41L482.83,326.77ZM457.88,347.28L457.38,347.63L456.28,346.39L456.7,345.45L457.31,345.98L458.57,346.75ZM423.05,305.98L423.51,303.46L424.92,303.51L426.58,304.26L427.89,304.95L429.41,305.53L428.97,306.48L425.75,310.62ZM440.8,370.54L438.36,369.87L437.9,368.84L437.34,367.63L439.86,368.27L442.18,369.53L441.01,369.63ZM366.74,287.44L365.12,288.65L364,284.62L364.49,284.32L365.24,285.03L367.47,286.08ZM363.55,332.75L362.8,332.94L362.67,332.49L361.66,333.08L361.75,332.26L361.37,330.83L362.13,329.64L364.2,330.62ZM442.23,316.77L440.16,313.9L440.25,313L440.93,313.28L441.21,312.51L443.92,316.55ZM441.76,292.73L442.59,292.47L443.86,292.13L445.1,292.6L445.39,292.91L443.83,294.23L443.21,294.26ZM358.98,317.93L358.68,317.7L358.37,317.6L360.23,317.16L360.38,317.27L360.28,317.49ZM384.17,272.74L384.05,273.04L382.58,272.23L382.6,272.04L382.24,271.58L383.34,266.96L383.79,268.28L385.29,267.87ZM412.87,302.96L413.4,302.63L414.05,302.67L414.01,302.76L414.48,302.84L413.94,303.46L413.65,303.77L413.49,303.9ZM459.58,273.37L458.1,271.06L459.83,271.75L461.03,271.27L463.45,275.17L462.78,275.27L462.06,274.44ZM395.51,282.04L394.36,281.64L394.78,281.42L395.84,281.52L396.5,281.44L396.66,281.53L396.5,281.87L395.82,281.93ZM486.92,303.85L484.15,302.27L483.53,301.37L484.77,298.8L484.84,298.67L485.96,295.87L486.01,296.51ZM353.31,278.81L353.94,277.75L358.18,275.14L357.6,276.72L358.54,277.75L356.58,278.58ZM465.36,333.49L464.72,333.48L464.66,333.12L464.62,333.06L464.8,332.96L464.67,332.9L465.86,333.09ZM468.72,354.56L468.47,354.67L468.77,353.29L469.12,353.58L469.69,354.39ZM512.85,301.37L512.61,303.49L510.87,302.06L511.1,299.82L511.38,299.78L511.12,299.02ZM505.52,293.43L506.73,293.21L506.86,293.26L507.15,293.5L507.1,293.74L506.65,293.84ZM399.39,290.7L398.03,291.11L395.76,290.99L395.08,290.28L400.23,288.97L399.98,289.31L400.91,290ZM509.15,342.4L508.95,341.72L509.26,341.61L510.55,341.23L510.03,342.45L509.35,342.66ZM485.76,285.58L487.65,285.53L488.18,287.63L485.69,287.81L485.05,288.64L485.05,288.49L485.19,287.08ZM500.03,321.09L500.06,319.69L500.35,319.65L500.56,319.68L500.68,319.14L500.73,319.23L501.77,320.27L500.63,322.05ZM448.89,301.11L449.91,301.2L450.01,301.39L449.73,301.62L449.53,302.36ZM482.27,345.87L482.18,345.56L482.8,345.59L483.18,345.81L482.75,346.51ZM402.7,279.93L403.33,276.64L404.01,276.6L406.54,277.15L410.04,278.12L408.86,279.95Z"/><path fill="#e4e4e4" d="M380.46,356.12L380.85,353.97L381.84,354.08L382.49,354.8L382.72,354.68ZM358.75,329.86L360.22,326.31L361.43,327.44L361.89,327.37L362.24,327.31L363.47,328.15L362.75,328.49ZM489.7,300.78L490.32,300.86L490.34,299.49L491,300.28L491.19,300.29L493.67,301.1L492.47,303.49ZM442.56,289.53L441.73,290.2L437.6,288.12L440.28,284.87L442.52,285.45L443.37,285.21L442.83,286.28L443.16,287.51ZM430.61,284.83L427.09,280.83L428.09,280.5L429.55,280.2L431.71,280.58L431.59,281.2L432.7,283.36L433.93,284.3ZM384.3,345.36L384.59,344.98L384.51,345.04L384.29,345.09L384.61,343.98L385.44,343.81L385.34,344.18L385.45,344.44ZM489.05,375.23L486.1,373.74L485.48,372.76L485.54,371.74L486.25,371.78L489.23,374.84ZM460.72,370.25L460.67,370.13L460.11,369.58L461.04,369.49L461.85,369.84L461.66,370.06L461.9,370.91ZM446.49,284.01L446.36,284.12L445.91,283.8L446.36,282.95L446.72,282.97L446.71,283.17L446.98,283.12ZM411.33,320.57L413.69,318.83L419.3,322.68L418.07,324.53L416.69,326.2ZM500.39,318.22L500.29,317.31L500.07,315.6L503.04,317.51L502.79,317.71L501.29,317.62L501.06,317.84ZM426.66,288.45L426.72,288.65L426.39,288.79L425.77,288.6L426.54,288.09L426.55,288.11ZM432.93,308.19L432.27,307.97L432.54,307.26L433.17,306.94L433.61,308.06L433.42,308.12ZM506.81,269.9L506.6,269.79L507.01,269.54L508.73,270.44L508.46,270.98L507.64,271.25L507.26,270.52ZM400.99,365.5L402.12,363L402.38,363.47L402.58,363.37L403.2,362.92L403.43,363.57L403.17,363.86ZM413.75,327.1L413.32,326.24L412.95,323.38L416.62,322.26L419.6,324.41L418.41,325.47ZM409.23,367.56L411.61,366.69L412.17,366.03L415.56,367.75L417.02,369.19L416.36,369.58L412.5,368.85ZM395.52,328.15L395.79,327.69L395.75,327.57L396.36,327.62L397.49,327.82L397.61,327.93L397.61,328.82L395.96,329.83ZM429.05,368.24L428.7,368.19L428.75,366.9L429.19,366.76L429.28,367.07L429.87,367.63ZM382.38,350.52L381.7,350.27L381.27,349.61L383.04,349.78L383.06,349.88L383.47,349.71L383.53,350.35L384.33,350.59ZM490.47,281.55L490.15,279.87L490.59,279.41L490.82,279.65L491.35,279.7L491.57,279.59L491.5,279.97L491.64,280.18ZM421.23,280.4L420.51,279.23L421.07,279.01L423.35,280.95L422.5,280.89L421.93,280.7L421.79,280.58ZM480.55,293.18L480.54,293.04L480.25,292.7L480.25,292.63L480.2,292.54L480.07,292.47L480.97,292.63L481.06,292.63ZM411.84,375.31L411.85,375.19L411.31,374.87L411.31,374.49L412.15,374.34L412.35,374.9L412.28,375.04ZM372.28,302.99L371.56,302.95L369.56,301.98L369.46,301.4L371.81,300.11L372.42,300.49L373.15,300.8L372.82,302.3ZM434.4,266.82L433,266.03L433.2,265.84L432.83,265.81L432.75,264.77L434.78,266.37ZM434.75,357.15L435.62,358.07L435.53,356.57L435.93,357.19L440.4,359.13L435.46,361.8ZM506.74,301.6L507.3,301.64L507.83,301.99L507.8,302.13L507.98,302.18L507.75,302.37ZM488.16,332.08L483.89,329.63L487.12,329.71L488.42,328.71L492.78,331.25L495.05,332.07L492.77,331.77L492.57,332.03ZM436.92,369.53L436.54,371.48L436.4,371.75L436.48,372.28L435.47,372.42ZM479.76,304.9L479.7,304.69L479.46,303.39L479.46,303.28L480.03,303.03L480.14,303.02L481.03,304L481.33,304.28ZM415.41,337.14L415.95,335.57L414.59,335.56L416.26,331.34L418.77,332.99L418.87,335.36L419.17,336.32ZM440.82,372.12L445.41,368.8L445.83,368.91L447.23,369.53L447.56,371.55L446.22,372.21L444.86,375.45ZM365.56,345.48L365.34,345.53L365.51,345.37L365.41,345.23L365.52,345.24L366.31,345.26L366.39,345.39ZM437.77,347.94L438.13,347.35L438.19,346.82L438.68,347.62L439.17,347.67L439.41,347.34L439.22,349.54L438.39,349.09ZM401.32,311.91L399.96,311.83L399.66,310.95L401.16,310.69L401.47,311.24ZM425.33,340.74L425.21,340.62L425.15,341.2L424.8,341.13L423.62,340.34L425.47,337.9L426.2,339.22ZM472.32,363.98L472.41,363.21L472.15,363.24L476.8,360.94L474.81,363.47L473.4,365.73ZM441.44,277.19L442.97,276.78L443.16,276.9L443.63,276.98L443.07,277.16ZM354.19,309.98L355.02,308.44L356.24,307.57L355.94,308.72L356.63,308.51L357.31,309.28L356.83,312.56L353.77,311.35ZM446.57,278.1L448.83,278.21L448.92,279.03L448.73,280.16L446.9,280.2ZM503.66,320.58L503.58,320.59L504.1,320.43L505.72,320.86L506.2,321.4L505.75,321.37L505.35,321.61L504.76,321.38ZM366.68,304.68L366.5,304.18L367.36,303.75L367.76,305.52L367.64,305.81L367.04,305.95L366.73,305.48L366.77,304.93ZM369.27,307.16L369.49,307.13L369.5,306.93L369.9,306.74L369.99,306.89L370.08,307.23L370.41,307.48L369.67,307.83ZM422.68,270.34L422.34,269.52L422.75,269.34L422.71,269.52L423.13,269.65L423.25,269.83ZM500.92,334.87L500.98,334.47L501.2,334.3L501.37,334.34L501.81,334.72L502.01,334.98L501.85,334.97ZM424.48,281.88L423.92,281.68L424.08,281.08L424.51,280.36L424.72,280.59L424.73,281.07L424.8,281.12ZM367.45,357.21L367.73,357.03L369.96,356.88L370.73,356.74L370.8,357.61L371.39,358.59L369.68,358.04ZM423.08,344.39L423.25,344.12L423.24,343.5L424.01,343.64L423.8,344.11ZM407.04,344.42L405.1,342.25L405.79,341.53L406.26,340.25L406.29,339.48L406.21,338.36L407.52,339.57L408.37,339.57ZM483.04,270.62L482.95,269.77L485.37,266.95L485.04,267.81L485.21,267.74L486.51,267.02L485.71,268.95ZM401.97,292.73L401.45,292.55L401.24,292.3L402.24,292.13L402.1,292.36L402.27,292.43L402.24,292.59ZM383.27,313.3L383.41,312.89L383.63,312.67L383.74,312.61L383.91,313.09L384.26,313.33L384.12,313.7L383.8,313.75ZM503.13,359.68L502.47,358.53L503.29,357.86L504.56,358.08L506.76,360.04L507.21,360.55L505.68,361.1L504.81,360.78ZM403.9,355.28L402.88,355.62L402.69,351.34L407.21,347.37L407.82,347.36L406.49,349.63ZM427.96,338.21L428.22,334.09L428.55,335.15L429.14,335.42L429.67,336.78L429.42,337.24L429.2,338.34L429.14,338.12ZM441.73,331.9L441.85,331.45L442.98,334.62L441.96,335.05L441.65,334.91L441.69,334.15ZM397.45,266.12L398.02,265.2L398.02,265.02L398.23,264.24L399.11,264.11L399.47,263.62ZM408.53,368.19L408.55,369.5L407.55,368.5L408.92,363.13L409.67,363.02L410.43,363.55L409.92,365.17Z"/><path fill="#b4b4b4" d="M381.45,328.24L381.33,328.07L381.46,327.99L381.54,327.9L383.08,328.36ZM437.61,345.42L436.94,344.64L437,344.31L437.76,344.5L437.74,345.09ZM401.52,296.49L401.14,295.13L401.01,290.68L402.02,291.22L402.41,291.65L403.1,296.03ZM461.49,345.38L461.57,344.57L462.22,343.7L462.11,342.94L462.25,343.29L464.22,346.3L464.1,346.34ZM497.86,294.86L497.98,294.7L498.45,294.61L499.03,294.65L498.73,295.4L498.08,295.12ZM509.13,329.13L509.27,328.34L508.95,327.84L508.69,327.25L509.76,325.12L514.77,331.66L511.63,331.31ZM413.72,337.93L415.98,338.3L415.32,339.35L415.52,339.91L414.59,340.11ZM429.19,373.75L428.77,370.85L432.24,371.93L433.34,374.26L430.18,375.12ZM447.36,375.16L446.82,374.52L446.82,374.28L447.17,374.42L449.28,374.53ZM355.45,305.14L354.6,303.56L354.26,303.64L356.36,299.68L356.4,302.18ZM398.1,355.11L401.38,352.49L402.67,353.45L403.15,356.69L402.62,357.67L400.8,357.74L399.3,358.09ZM443.48,349.02L442.16,349.23L440.37,349.15L439.97,345.3L442.73,345.29L443.38,343.14ZM369.54,346.92L366.22,346.71L365.15,346.86L365.69,346.64L364.51,346.33L365.04,345.71L365.65,345.64L368.09,345.28ZM379.45,365.58L379.79,364.79L380.09,364.95L380.79,365.52L380.13,366.59ZM459.4,349.66L459.98,349.58L459.75,350.29L459.41,350.52L459.06,350.66L458.37,351.06L458.29,350.64L457.8,350.84ZM499.09,306.26L498.6,306.53L497.95,306.3L498.22,305.44L499.12,304.51L499.65,304.31L499.26,305.58ZM473.29,334.2L473.2,333.78L473.33,333.27L473.79,333.17L474.25,333.59L474.49,333.65L474.36,334.13L473.7,333.99ZM423.38,308.18L422.71,308.23L424.6,307.81L424.64,308.35L424.6,308.83L424.01,308.99ZM404.82,359.76L405.1,358.92L406.17,359.96L406.32,359.84L408.12,363.71L406.42,362.91L406.16,362.7L406.02,362.38ZM351,281.39L351.1,281.36L351.28,281.33L351.6,281.6L351.67,281.99L351.21,282.44ZM408.04,312.37L407.83,310.7L415.13,316.2L412.9,317.02L412.56,316.92L411.87,316.79L410.11,315.99L409.52,316.69ZM393.52,368.73L393.7,368.64L393.65,368.48L394.29,368.42L394.02,369.31Z"/><path fill="#9c9c9c" d="M481.62,291.79L482,290.76L482.44,290.88L482.15,291.99L481.74,292.06L481.37,292.15ZM411.67,339.14L411.42,339.18L411.4,338.64L412.02,338.43L412.36,339.08L412.34,339.09L412.14,339.04Z"/><path fill="#a8a8a8" d="M412.45,331.1L412.35,330.71L413.38,331.67L413.55,331.8L413.52,332.47ZM431.8,276.52L432.02,276.28L431.98,276.01L432.12,275.76L433.37,276.42L433.2,276.35L433.28,276.4L432.34,277.16ZM381.75,316.52L381.74,316.67L381.75,317.15L381.34,316.96L381.11,317.28L381.07,316.88L381.54,315.75L381.63,315.37ZM416.14,353.6L415.68,353.57L417.38,352.74L416.98,352.93L416.69,353.56L416.39,353.79ZM452.26,347.62L452.02,347.6L451.97,347.61L451.63,347.02L452.36,346.63L452.7,346.96ZM432.68,371.37L432.57,370.9L432.25,370.72L432.68,370.49L433.42,370.63L433.65,371.36L433.69,371.46L433.58,371.41ZM373.37,305.2L373.07,305.3L372.76,304.7L372.71,304.52L372.98,304.02L373.71,304.44L373.67,304.55ZM434.38,297.42L434.05,297.55L435.53,296.74L435.74,296.92L435.89,296.97L435.73,297.2L435.39,297.5L435.55,297.61Z"/><path fill="#e4e4e4" d="M425.08,268.34L426.78,268.4L427.55,267.98L427.79,268.92L429.03,267.33L430.99,274.7L429.11,279.6ZM446.58,282.53L445.27,281.58L446.31,280.18L447.04,281.08L447.83,282.06ZM354.15,365.04L361.14,360.09L359.83,368.24L358.79,368.37L357.21,368.87L355.47,367.56ZM355.53,357.62L355.01,356.04L353.88,354.86L352.03,354.02L357.72,353.28L359.85,355.34L360.58,356.55ZM429.57,370.39L430.35,368.95L430.91,368.39L431.45,368.58L432.35,367.59ZM376.11,359.4L374.65,360.6L374.06,354.9L375.57,354.83L377.2,354.67L376.48,355.79L376.88,355.71L377.09,356.18ZM376.75,359.65L377.15,360.74L376.25,359.89L376.14,359.99L375.35,359.33L374.89,357.52L374.95,354.91ZM503.36,354.91L504.51,352.94L509.54,351.7L509.84,351.58L509.62,352.29L508.44,356.04ZM465.36,279.85L464.84,280.01L463.79,276.44L466.57,273.52L468.47,274.77L467.4,277.37L467.24,279.09ZM503.35,329.95L502.77,331.16L501.59,329.67L501.73,327.33L501.37,327.09L501.31,326.84L502.83,327.26L506.3,327.15Z"/><path fill="#c0c0c0" d="M426.93,276.83L427.85,273.7L428.45,272.92L430.02,276.34L430.46,277.26L431.48,277.52L430.64,280.86L426.98,283.43ZM441.33,278.37L443,279.16L444.33,279.56L443.7,280.06L443.12,282.16ZM498.18,296.24L500.97,294.84L503.46,296.56L501.19,299.4L499.94,299L499.63,298.49L496.83,297.94ZM475.22,307.64L475.5,306.92L477.15,308.54L478.14,309.59L477.88,312.44L476.96,311.4L477.02,312.86L475.8,310.51ZM466.31,276.29L466.65,276.12L466.94,275.87L467.34,275.36L468.69,277.49ZM384.64,271.1L384.79,271.16L385.63,271.58L386.41,272.59L386.26,273.67L385.53,273.75L385.27,273.05ZM410.91,337.97L410.89,337.63L409.72,337.27L409.29,337.11L409.94,336.16L411.27,335.17L411.52,334.82L413.69,336.37ZM497.47,334.11L498.02,328.56L499.73,329.36L501.09,330.13L501.1,331.46Z"/><path fill="#cccccc" d="M430.54,273.99L429.45,272.16L430.44,272.13L433.59,273.47L433.47,273.85L433.99,274.33ZM394.96,293.58L394.89,293.05L394.71,293.32L394.24,293.15L392.81,292.66L393.29,291.28L393.93,291.19ZM387.3,273.79L386.1,273.57L383.91,272.58L383.47,271.95L387.57,272.59ZM452.79,360.95L453.03,358.42L453.34,358.7L454.47,359.5L454.45,360.41L453.87,361.34ZM447.64,359.21L446.92,357.65L449.17,358.8L449.43,358.85L450.12,359.44L450.13,360.5L448.96,360.04L448.96,360.15ZM357.97,283.71L362.31,281.6L362.86,281.65L362.11,284.84L360.29,286.24ZM361.81,282.69L362.35,282.31L362.25,282.58L362.66,283.11L362.85,283.94L362.87,284.37L361.4,284.85Z"/><path fill="#f0f0f0" d="M443.55,285.65L442.77,286L442.66,285.54L442.74,284.42L446.66,278.78L445.63,286.21ZM369.65,304.56L369.61,301.29L372.83,300.49L374.89,299.45L374.68,302.43L374.86,303.44L369.74,308.22ZM492.51,308.79L493.68,307.68L496.75,304.95L494.13,308.8L493.95,308.81ZM476.33,308.76L476.87,307.87L476.62,306.93L477.01,307.17L477.08,306.76L479.39,306.12L480.18,307.24L478.65,309.48ZM354.47,351.8L355.53,349.58L355.74,352.56L355.81,358.03L354.9,359.22ZM428.34,367.16L429.43,363.42L433.93,363.87L433.62,364.83L433.5,365.49L434.51,365.34L434.89,366.74L429.4,369.52ZM423.99,337.07L424.06,337.85L420.52,334.64L421.53,334.73L422.28,334.45L423.22,334.99L424.38,336.68ZM451.39,363.1L448.94,359.84L450.44,360.04L450.88,358.02L451.41,358.01L451.95,359.16L453.83,362.36L453.12,362.9Z"/><path fill="#d8d8d8" d="M370.74,300.05L372.16,301.45L372.8,302.18L372.35,302.26L368.75,302.85ZM374.9,302.17L373.35,301.12L371.78,298.54L372.17,298.26L375.39,299.32ZM489.56,304.52L487.93,304.17L489.82,302.3L491.02,300.81L493.31,298.91L490.68,305.08ZM475.88,309.01L474.71,309.14L474.81,308.33L475.28,307.25L477.21,307.99L477.4,308.16L476.99,308.63L476.32,309.15ZM432.87,366.41L433.37,366.31L433.59,365.46L433.94,366.34L434.59,366.9L432.64,368.68L431.72,368.65ZM379.2,356.01L377.67,353.43L378.41,353.86L379.43,353.36L378.93,354.26L379.21,354.53L379.19,355.34ZM505.66,353.36L507.36,348.98L507.82,348.42L508.43,349.84L510.18,356.04L508.36,357.57L508.5,360.11ZM496.81,352.82L500.92,349.7L503.52,351.54L504.34,353.38L502.18,354.29ZM397.1,288.02L398.28,287.59L399.51,287.48L399.78,288.05L400.49,289.79L400.47,292.9L396.51,290.51ZM394.65,292.08L394.35,291.44L397.8,287.72L397.72,287.97L397.25,289.34L397.94,289.5L397.35,290.77ZM390.57,274.58L389.46,274.83L389.56,275.24L387.58,273.99L386.94,273.51L386.08,273.13L386.43,272.71L387.13,271.94ZM414.06,337.1L414.96,335.6L415.88,336.3L417.83,337.61L416.73,337.79L416.28,338.26ZM358.97,285.86L352.46,282.82L353.8,283.1L353.78,282.73L356.19,283.16L358.17,284.35Z"/><path fill="#b4b4b4" d="M466.39,278.51L466.32,277.94L466.72,277.48L468.95,278.7L466.62,281.24L466.87,280.31Z"/><path fill="#fcfcfc" d="M508.31,333.88L507.49,334.89L506.92,335.27L506.68,332.16L507.79,333.3Z"/><rect x="350" y="264.8" width="162.8" height="111.2" filter="url(#grain)" opacity="0.12" style="mix-blend-mode:overlay"/></g>
<g clip-path="url(#cs3)"><rect x="520.1" y="264.8" width="164.9" height="111.6" fill="#050505"/><path fill="url(#ga132_0)" d="M519.78,263.87L518.78,262.02L517.6,262.14L517.32,265.33L518.03,265.23L519.17,265.81L519.65,265.32ZM615.04,281.88L613.82,280.88L613.92,281.4L612.43,283.82L612.77,283.72L612.74,284.11L613.35,283.66L613.4,284.02L615.39,282.06L615.51,281.74ZM659.24,291.09L659.39,290.17L657.26,288.44L655.53,288.17L654.69,288.74L655.05,292.14L657.78,292.26L657.83,292.53ZM552.66,305.81L550.83,307.9L549.83,311.14L550.3,312.58L550.94,312.83L555.37,311.41L553.28,308.46ZM681.64,329.07L683.39,333.13L687.29,330.91L683.49,326.73L681.5,327.44ZM670.08,345.82L669.9,346.11L674.49,345.95L674.17,345.89L674.29,345.53L673.85,345.77L672.6,343.91L668.98,341.2L669.1,340.96L668.42,341.04L667.22,342.69L668.65,344.68L668.47,345.01ZM649.66,374.42L654.18,373.52L655.97,369.87L655.67,369.56L652.57,369.52L650.55,370.01L650.31,369.73L649.38,373.92ZM572.28,374.02L570.56,378.77L573.29,377.87L576.22,378.85L576.86,378.39L576.89,376.35L575.58,374.71Z"/><path fill="url(#ga252_1)" d="M548.14,262.23L542.79,262.85L543.87,266.33L546.36,266.16L546.24,265.76L548.65,263.35L548.7,262.75ZM587.23,310.87L586.9,311.22L589.64,314.18L589.65,314.62L589.94,314.16L590.67,314.2L591.49,311.38L591.84,311.52L591.32,311.24ZM673.46,369.86L673.48,370.36L672.89,370.07L673.65,375.94L674.52,376.23L679.42,376.02L679.76,371.1L674.78,369.46ZM672.38,378.15L672.2,378.84L674.55,378.63L674.93,378.22L673.81,376.84Z"/><path fill="url(#ga252_0)" d="M558.86,262.36L558.89,262.98L558.64,262.86L562.1,264.84L563.27,262.52ZM665.32,262.27L664.38,266.27L665.03,266.63L667.66,266.49L670.05,265.1L670.73,265.14L670.74,262.67L670.44,262.27L667.96,263.11ZM674.48,262.49L674.07,262.4L676.64,264.24L676.4,264.06L678.71,262.94L679.15,262.07L674.89,261.92ZM683.72,261.96L683.23,264.64L681.16,267.62L681.45,269.65L681.48,269.2L681.68,269.76L687.91,265.78L686.91,262.13ZM682.49,270.16L682.59,270.83L684.76,272.44L687.67,272.14L687.79,266.98L684.25,268.66ZM687.25,273.6L685.68,273.51L685.58,273.79L686.06,277.77L685.77,277.72L686.2,278.31L686.22,278.02L687.44,278.12L687.14,277.88ZM648.32,276.43L647.34,277.65L648.94,280.38L652.18,279.36L651.53,276.68ZM657.06,275.03L657.41,274.72L657.25,275.07L658.35,277.3L659.06,280.81L659.99,281.28L660.91,281.03L662.38,277.5L661.64,276.7L662.05,276.57L658.45,273.8ZM666.82,281.4L668.13,277.57L666.94,276.78L662.99,277.92L661.51,280.48L663.79,282.31ZM669.17,278.13L668.72,278.32L667.81,281.66L670.88,283.23L670.79,282.82L672.53,281.88L672.42,281.34L673.59,279.12ZM673.01,282.42L670.96,283.87L670.98,284.68L672.24,286.03L674.08,289.21L677.42,285.97L675.45,284.06ZM681.54,285.28L687.01,284.02L685.39,279.83L683.92,282.15L680.79,282.9L680.57,284.98L681.65,285.53ZM616.53,292.85L617.05,290.42L608.95,287.35L608.7,289.93L608.38,290.01L612.09,290.59L615.3,293.07ZM664.97,291.55L667.04,291.44L668.54,286.97L668.46,285.94L665.5,286.2L664.27,290.55ZM673.22,290.1L673.33,289.36L670.75,285.53L669.3,286.2L669.48,288.82L667.83,291.06L668.68,292.07ZM607.39,298.81L612.05,302.96L612.23,302.98L612.2,299.72L613,296.6L608.98,296.12ZM625.61,301.97L625.28,301.51L626.33,299.44L625.01,298.09L624.79,298.48L619.59,299.67L619.18,300.09L619.11,302.87L619.79,303.51ZM627.18,302.75L630.49,304.75L633.92,300.98L631.13,297.4L627.11,299.06L627.31,299.64L626.47,301.89L626.94,302.94ZM686.18,298.1L686.52,298.4L686.95,302.81L687.48,302.72L687.45,298.09L687.08,297.82L687.13,298.12ZM594.52,309.22L595.42,309.43L599.62,307.84L599.72,307.32L596.2,304.66L595.46,304.65L593.33,305.69ZM600.08,306.08L601.7,302.7L597.66,301.93L596.44,304.02ZM642.3,308.46L642.05,309L645.67,308.75L646.15,309.02L644.88,305.01L644.41,305.22L643.72,304.2L640.46,307.15ZM646.91,307.97L650.11,308.01L652.12,304.57L650.73,303.76L645.86,305.45L646.49,308.07L647.08,307.76ZM635.74,309.52L637.19,312.21L639.33,312.45L639.83,312.85L641.25,309.06L639.83,306.88L637.01,307.66ZM609.99,315.08L610.05,314.75L609.61,315.33L610.48,319.3L610.09,319.14L613.05,323.02L613.44,321L613.67,321.15L613.53,318.18L612.63,315.55ZM545.31,320.82L544.09,320.54L543.65,321.04L543.07,323L541.2,326.01L541.93,326.93L546.76,325.45ZM554.78,318.37L552.13,320.86L552.03,323.77L557.07,324.95L556.96,324.57L557.86,324.04L557.02,319.26ZM631.03,318.87L626.52,321.25L626.3,324.55L627.31,325.44L629.5,324.3L632.44,323.45ZM633.44,323.22L636.56,322.7L637.17,320.05L636.86,319.54L632.81,318.68L632.14,318.93ZM637.59,322.92L640.13,323.88L641.83,326.05L643.28,325.13L642.91,320.84L641.5,319.38L641.51,318.9L638.37,319.78ZM630.91,330.61L633.79,329.62L633.97,329.88L632.97,324.85L629.08,325.92L628.48,326.77ZM571.7,337.38L572.46,337.97L576.22,335.4L575.39,332.1L573.21,331.92L572.19,332.45ZM640.14,336.74L641,333.41L639.5,329.89L636.19,330.86L637.77,334.07L637.58,336.51ZM615.03,342.56L614.96,345.35L619.14,347.18L619.02,346.95L619.83,346.92L621.74,343.67L617.84,342.34ZM629.76,353.64L630.89,354.83L634.71,354.44L635.87,351.56L635.72,349.41L632.02,348.62L631.56,348.86L630.93,349.6L631.24,349.36ZM652.85,350.44L652.5,351.04L654.09,352.53L657.54,353.44L658.13,352.92L658.18,350.51L655.43,348.5L655.47,348.91ZM602.98,355.94L602.64,359.12L607.75,358.62L606.27,353.78ZM620.75,358.35L620.8,358.65L621.26,358.37L620.65,352.99L618.42,353.08L616.56,353.67L616.25,353.35L614.6,355.59L614.49,355.91L614.85,355.65L614.73,356.11L617.05,358.23ZM671.24,360.88L668.11,358.46L664.42,361.2L664.59,363.31L668.26,365.93L668.93,365.96ZM671.88,360.86L670.92,363.69L673.52,363.97L673.17,363.5L673.09,361.42L673.52,361.25L673.05,360.95L672.11,361.2ZM687.19,357.51L686.11,357.62L683.94,360.43L684.24,360.31L685.69,362.28L686.91,363.01L687.31,362.27ZM682.66,367.5L682.96,368.06L682.73,368.92L683.18,368.62L684.99,369.6L687.61,364.71L687.11,364.16L685.59,363.82ZM620.16,375.41L624.57,377.92L625.38,377.45L624.85,377.18L624.14,374.7L622.7,372.48L622.11,372.34ZM666.89,373.07L666.36,373.18L666.15,374.17L669.98,378.38L671.77,377.27L671.9,376.24L668.73,374.9ZM541.95,378.05L541.72,378.45L541.45,378.18L541.54,378.9L541.99,379.19L545.71,379.44L545.71,378.7L545.99,378.79L545.15,377.29ZM681.28,378.88L681.26,378.3L679.51,376.66L675.41,376.94L675.84,378.96L681.58,378.93Z"/><path fill="url(#ga204_0)" d="M577.39,264.31L577.67,264.65L577.25,264.7L578.98,264.9L581.67,263.8L581.22,263.01L581.45,262.3L581.18,262.6L578.1,262.6L577.7,262.28ZM580.65,286.07L580.3,283.02L578.95,282.47L578.51,282.8L578.34,284.93L579.18,286.94ZM594.24,310.06L591.98,314.29L595.34,316L597.09,314.32L596.85,314.53L594.73,310.23ZM667.86,315.44L670.61,317.85L672.17,320.02L674.35,317.62L675.25,314.52L674.9,313.48L668.49,313.01ZM555.76,337.02L555.69,337.47L558.47,333.6L554.97,330.77L552.59,331.03L552.05,331.66L552.47,336.52L552.49,336.26ZM564.91,332.31L564.37,332.8L564.75,332.77L564.57,335.52L566.86,338.1L566.78,338.42L571.01,338.29L571.38,337.43L571.41,332.62ZM663.99,349.14L666.11,347.65L667.71,345.13L667.18,344.86L665.71,342.47L664.2,346.01L662.55,348.41L662.83,348.02ZM564.71,354.24L565.5,354.73L568.36,351.86L568.27,349.21L566.01,347.62L562.8,348.59L562.08,349.16L562.09,349.8ZM677.02,347.28L675.6,347.45L674.75,349.88L674.4,352.68L674.81,352.78L675.47,354.22L677.94,352.68L682.24,351.06L678.88,349.18ZM541.1,353.33L539.04,355.46L540.27,360.02L540.89,360.09L541.37,359.76L541.64,357.26L541.51,353.78ZM565.34,356.3L565.39,356.61L564.84,356.28L564.54,357.89L564.77,362.75L565.99,363.85L569.37,362.89L568.24,358.05Z"/><path fill="url(#ga156_0)" d="M590.81,266.37L591.1,265.73L589.38,262.97L587.54,262.57L587.81,262.66L586.74,266.36L587,265.98ZM609.43,262.12L608.45,266.59L611.57,265.33L613.13,263.46L612.74,263.04L612.77,262.3ZM590.59,276.1L591.3,276.78L598.04,276.84L598.79,274.53L597.52,273.18L593.5,273.37ZM562.36,285.94L563.15,289.65L565.97,290.42L568.79,289.94L568.87,288.89L565.47,287.18L563.71,285.42L563.41,285.26ZM527.52,293.52L527.58,295.98L528,296.55L529.68,297.05L529.61,291.19L529.33,291.04ZM563.73,297.47L565.41,298.33L566.56,298.25L568.78,295.99L569.39,291.55L568.86,290.43L566.47,291.14L565.89,290.96L565.68,294.34ZM619.73,298.32L624.71,296.86L623.74,294.95L619.22,294.6L619.61,297.98L619.82,298.59ZM677.09,308.64L677.02,309L678.67,308.42L679.29,303.94L675.5,302.58L674.12,304.79ZM568.95,308.18L565.58,311.79L568.84,312.37L570.45,309.58ZM644.98,313.06L648.65,314.82L648.96,315.31L651.07,313.11L651.17,312.34L649.91,308.77L646.34,308.93ZM604.49,325.68L603,320.85L598.71,322.71L598.66,323.47L601.74,328.81L602.32,328.7L602.1,328.43L602.33,328.63ZM518.31,337.09L517.65,336.59L517.85,337.05L517.3,337.25L517.69,342.89L518.98,344.16L520.01,343.94L520.15,343.38ZM624.54,344.37L628.56,343.18L628.7,342.5L628.28,342.53L628.58,340.27L628.22,339.55L625.17,339.64L625.31,339.99L623.73,342.97L623.74,343.84ZM652.71,357.24L650.04,357.33L649.78,359.92L647.84,362.84L648.22,362.72L649.16,363.67L653.2,363.45L653.88,358.01ZM529.44,367.12L530.32,364.07L529.85,364.41L527.65,363.32L524.42,363.22L524.3,363.57L524.6,364.36L524.27,364.61Z"/><path fill="url(#ga228_3)" d="M592.84,261.3L590.04,262.46L592.08,266.33L596.74,265.04L596.68,262ZM519.31,267.21L519.18,266.66L517.6,266.36L517.71,268.2ZM522,369.56L523.54,370.61L527.32,367.19L524.13,365.15L524.35,365.33L523.83,365.32L521.97,367.37Z"/><path fill="url(#ga204_2)" d="M605.22,262.41L605.11,263.11L606.97,264.75L607.62,264.47L607.57,262.6ZM677.11,264.54L676.14,267.37L676.09,270.12L679.72,270.48L680.94,270.02L680.97,267.59L678.77,263.63ZM604.04,274.42L603.75,274.27L606.2,276.74L608.11,277.72L608.3,278.2L608.27,277.84L611.2,275.77L611.69,276.07L611.76,275.3L607.31,270.13L605.46,271.49ZM621.77,272.36L620.2,275.52L620.46,275.91L624.85,275.26L624.96,274.59L622.48,272.11ZM565.67,281.77L568.44,282.26L570.35,283.69L572.39,280.75L572.78,280.92L572.51,280.42L566.68,277.4L566.33,277.62ZM565.49,291.47L565.16,290.82L563.08,290.47L561.16,292.59L560.66,292.53L561.66,296.88L563.06,297.38L563.11,296.74L564.93,294.4Z"/><path fill="url(#ga96_1)" d="M613.75,263.22L617.72,263.89L617.83,262.37L617.36,262.58L617.28,261.97L613.92,262.14L613.58,262.58ZM554.22,312.7L550.82,313.46L550.69,314.65L551.27,315.48L554.49,317.64L554.62,317.14L554.8,317.37Z"/><path fill="url(#ga216_0)" d="M629.66,263.21L630.08,262.22L626.55,262.17L625.06,262.75L624.75,262.33L624.65,262.64L624.28,262.45L624.47,263.12ZM542.05,275.99L539.78,276.17L539.93,276.57L538.86,279.04L540.06,281.95L542.16,284.37L544.97,280.34L541.87,276.36ZM596.28,309.81L597.95,314.21L602.92,314.2L602.59,312.11L599.75,308.62ZM632.33,318.16L633.85,315.55L636.39,313.63L636.93,312.34L634.84,309.95L631.66,311.99L629.83,314.85L630.73,317.94L631.59,318.39L631.56,318.06ZM549.94,342.23L549.33,342.29L549.61,342.34L549.46,342.91L547.72,346.91L547.81,347.39L548.93,347.91L548.81,348.27L553.33,346.33L553.4,345.82ZM580.37,342.78L580.08,342.5L579.76,342.74L581.03,346.86L580.67,346.89L584,347.56L585.93,346.04L585.56,346.19L585.98,345.79L584.48,342.93L584.72,342.74ZM564.13,356.05L564.72,355.12L560.97,349.83L557.77,352.2L558.09,352.35L558.73,354.9L561.21,355.08ZM620.23,365.66L625.61,363.37L625.76,361.1L624.04,359.47L621.56,359.41L618.33,363.94ZM589.44,363L589.09,363.39L591.22,368.08L593.84,367.89L594.11,367.58L592.49,363.28L592.83,362.91ZM615.25,374.4L615.71,374.69L615.35,375.03L619.48,374.6L621.64,371.13L622.01,371.25L619.92,369.67L615.7,372.12L615.53,371.86ZM635.91,371.22L629.78,373.79L629.93,375.38L631.4,376.25L631.3,376.68L634.66,376.75L635.26,376.73L636.96,373.53L636.12,371.52ZM581.5,378.93L582.23,376.77L578.77,377.28L578.44,377.05L577.66,378.36L577.89,378.8Z"/><path fill="url(#ga84_2)" d="M638.77,263.9L639.64,264.56L640.56,262.45L638.91,262.2L638.7,262.65L638.15,262.52ZM574.79,306.29L575.15,306.04L578.18,306.6L578.04,306.08L579.92,302.83L579.95,301.96L577.07,302.54L573.73,301.9L572.89,303.05Z"/><path fill="url(#ga216_1)" d="M663.54,266.11L663.87,265.74L664.25,261.95L658.63,261.88L658.01,262.32L658.95,265.14Z"/><path fill="url(#ga132_1)" d="M533.34,269.79L534.01,270.28L536.85,268.76L537.01,265.38L532.6,265.13L532.18,265.5L532.7,265.5ZM608.26,326.87L609.58,330.58L609.8,330.21L614.38,329.27L614.49,325.57L612.79,324.36L611.04,325.84Z"/><path fill="url(#ga180_1)" d="M543.97,267.43L543.59,267.94L545.12,269.9L546.34,272.81L548.86,269.4L546.76,267.21ZM636.39,301.97L636.64,302.19L638.92,301.51L642.78,302.5L643.23,298.77L641.6,297.36L640.74,297.37ZM665.14,306.52L665.26,307.42L667.51,310.71L668.21,310.2L670.77,306L669.74,304.62ZM517.85,359.04L520.07,358.64L522.04,355.18L521.54,352.58L517.86,352.48L517.16,353.03L516.69,355.7ZM609.06,365.25L608.6,365.17L609.25,365.73L609.15,365.41L611.65,364.54L615.13,364.1L615.4,363.23L613.25,360.34L612.68,360.08L610.51,361.04L610.7,361.28Z"/><path fill="url(#ga168_1)" d="M550.43,263.67L550.02,263.63L548.02,266.6L547.7,266.42L547.53,266.8L549.77,268.6L551.39,268.06L551.97,265.79ZM530.46,295.54L531.09,295.98L534.9,293.9L534.62,293.24L530.86,290.51L530.51,291.02ZM620.66,319.3L623.48,319.07L623.56,318.63L624.01,318.71L622.92,316.04L623.38,315.98L619.6,315.52L619.25,316.05L619.78,317.82L619.41,318.35ZM518.99,378.42L519.69,379.17L524.58,378.87L524.88,378.27L523.86,376.89L523.23,376.9Z"/><path fill="url(#ga108_1)" d="M593.32,272.51L593.95,272.85L597.41,272.34L598.15,267.03L596.62,265.39L592.14,266.98L592.01,268.34L591.81,268.11ZM597.5,272.33L597.59,272.31L597.74,272.16ZM638.58,286.12L640.08,286.77L641.09,283.5L640.62,283.39L640.98,282.85L637.87,284.37ZM683.41,319.29L683.48,316.5L681.94,315.6L681.82,315.94L679.37,315.73L679.03,316.12L680.62,320.41ZM683.42,319.39L683.34,319.5L683.42,319.42Z"/><path fill="url(#ga96_0)" d="M599.88,267.44L605,270.74L606.57,269.35L606.76,269.56L606.99,268.17L603.46,267.65L600.15,266.62L600.11,266.93L599.71,266.85ZM556.95,305.39L552.9,304.3L552.59,304.92L553.3,307.53L555.89,311.34L558.27,310.43L558.94,308.93ZM564.76,307.06L565.7,310.09L568.74,307.31L568.16,305.39ZM582.03,353.75L582.99,351.89L583.65,348.45L580.43,348.17L577.01,350.04L577.37,350.33L577.8,354.12L577.89,353.77L577.87,354.17Z"/><path fill="url(#ga180_0)" d="M607.1,266.5L603.88,263.63L603.95,263.91L601.94,265.51ZM595.15,278.4L590.82,277.46L590.52,278.3L592.64,281.41L595.19,280.15L598.04,280.33L598.25,280.05L598.36,279.43L597.62,277.55L597.86,277.46ZM571.85,287.59L577.41,285.16L577.41,281.63L574.8,280.43L573.58,280.92L571.32,284.23L571.52,284.06L571.6,287.21ZM574.68,288L574.14,287.69L577.8,290.55L578.81,288.04L577.49,286.46L576.98,286.37ZM663.44,305.07L664.04,305.11L664.04,299.99L661.74,298.98L660.39,299.7L660.58,302.62ZM535.59,303.1L532.87,302.96L533.35,303.32L532.81,308.07L533.02,307.87L535.86,309.67L536.6,306.35L537.93,303.82ZM684.61,319.75L687.51,320.41L687.14,319.61L687.57,315.43L686.89,315.5L684.88,316.88L684.6,316.65ZM685.65,337.61L685.62,338.36L686.06,338.02L687.21,339.53L687.6,339.03L687.55,337.3L687.18,337.14L687.42,336.79L687.03,337.26ZM584.66,355.74L583.31,355.2L583.75,360.53L585.8,362.57L587.11,362.41L587.69,362.12L588.32,358.96ZM571.12,372.79L566.86,371.06L566.13,371.4L565.11,374.47L569,377.13L569.43,376.88ZM629.77,378.93L630.21,378.63L630.44,376.98L628.5,375.89L625.73,377.45L625.58,378.3L625.17,378.53L625.83,379.04Z"/><path fill="url(#ga192_0)" d="M613.57,265.21L618.07,267.27L618.44,267.11L617.52,265.07L614.19,264.45L613.69,264.01ZM651.63,266.06L651.81,265.53L648.22,264.23L647.59,264.71L646.6,269.84L647.57,270.12L651.71,269.4L652.35,267.85ZM577.04,269.86L578.5,272.93L580.91,273.52L583.47,269.55L580.05,268.7L577.32,269.42ZM538.17,278.74L538.74,276.92L538.54,276.18L535.89,275.55L533.77,277.99L534.17,279.88L534.66,279.67L534.97,280ZM556.17,285.76L558.18,286.33L559.21,285.34L559.82,285.29L558.14,280.33L557.74,280.29L554.37,281.74ZM548.05,326.18L551.76,323.97L552.1,321.6L551.57,321.38L551.74,320.98L546.25,319.78L545.78,320.6L547.65,326.05ZM602.81,336.31L604.38,333.36L602.76,329.34L596.04,330.52L597.42,333.77L597.55,336.22L599.42,337.47ZM547.06,335.53L546.66,336.01L550.55,338.1L551.32,337.32L550.72,337.49ZM685.07,344.57L687,340.7L684.38,338.69L682.05,340.54L682.87,343.72ZM587.72,346.19L587.46,345.96L587.97,346.91L592.7,348.05L592.59,344.17L592.96,344.01L592.37,343.95L590.46,345.31ZM663.58,359.86L667.62,357.9L668.3,354.76L666.76,353L665.47,352.85L663.91,354.21L663.59,357.07ZM542.45,371.68L541.3,376.18L541.65,376.14L541.95,377.3L544.91,376.79L548.12,373.45L548.02,372.24L545.75,370.84Z"/><path fill="url(#ga168_2)" d="M622.77,265.86L619.75,267.37L621.44,270.99L622.42,271.35L625.51,269.51L626.04,269.8L626.05,269.23ZM558.46,311.88L555.37,311.8L555.57,315.78L555.98,317.55L556.49,317.99L557.05,318.12L559.01,316.79L560.6,314.65ZM557.84,355.01L556.81,352.84L556.88,352.16L555.62,351.76L552.29,355.03L551.74,354.98L552.23,355.07L553.04,356.97L553.6,357.03L553.45,356.79L557.03,356.89ZM602.19,360.15L598.02,361.68L598.47,363.53L598.2,363.84L600.5,364.65L604.09,364.89ZM555.08,375.74L555.79,370.77L553.61,370.03L548.69,372.2L549.02,372.41L548.51,373.53L551.09,375.12L552.84,377.78L555.3,376.38Z"/><path fill="url(#ga72_0)" d="M636.46,271.77L636.34,272.08L637.01,271.89L636.88,270.52L634.4,266.94L634.02,267.2L631.74,266.9L632.08,267.16L631.47,267.27L631.62,267.63L631.24,267.76L633.71,269.32ZM579.95,278.27L578.57,281.08L580.8,282.45L583.58,282.04L583.69,282.35L584.38,277.4L582.2,276.55L582.6,276.74ZM560.08,291.62L560.55,291.52L561.87,289.68L562.38,289.6L561.07,286.43L558.97,287.09ZM523.67,302.72L521.07,299.59L521.07,301.2L521.63,302.65L521.56,302.4L524.93,305.52L526.01,305.33L527.17,303.76L526.99,303.37Z"/><path fill="url(#ga108_0)" d="M635.41,267.01L637.4,269.84L637.97,269.52L641.11,267.07L640.61,266L640.83,265.54L640.12,265.71L637.94,264.66L635.42,266.28ZM587.48,298.97L587.31,298.76L591.43,297.04L591.57,297.41L591.74,295.57L591.28,295.56L591.38,295.14L590.95,295.51L590.16,294.47L589.65,294.47L585.4,297.22ZM527.28,348.39L530.92,349.11L532.84,349.04L533.59,348.54L533.65,348.06L531.44,346.43L527.31,344.45ZM530.06,372.57L530.63,369.03L529.7,367.62L528.81,367.64L526.71,368.86L524.5,371.6L525.42,372.9ZM590.16,369.28L586.19,369.51L586.64,370L586.4,372.15L587.67,375.03L587.4,375.11L589.86,374.79L590.28,371.8Z"/><path fill="url(#ga204_1)" d="M641.78,266.05L641.98,267.1L644.31,269.45L645.56,269.58L645.27,268.92L646.77,263.83L646.32,263.51ZM609.11,278.78L610.6,283.35L610.97,283.55L611.41,283.33L612.57,280.13L611.88,277.13ZM613.62,304.12L612.95,304.77L613.43,307.4L615.9,309.34L620.01,308.01L619.55,304.94L618.34,303.69ZM661,315.13L660.93,314.13L659.09,311.59L656.74,312.43L655.99,313.37L656.22,316.92L658.38,317.5L658.45,317.07ZM586.2,338.48L589.34,337.48L588.82,335.38L589.97,332.15L588.86,331.08L587.36,330.94L587.65,331.18L585.38,333.56L584.57,336.48ZM543.08,365.76L542.52,366.34L542.86,366.32L543.29,369.96L545.3,369.59L545.66,369.3L545.78,367.7Z"/><path fill="url(#ga252_2)" d="M674.52,270.6L675.18,270.4L676.49,267.33L675.8,264.45L673.58,262.55L672.38,262.59L671.8,262.97L671.21,265.55ZM656.65,268.72L652.99,268.64L652.49,269.78L654.09,273.85L656.68,274.02L657.73,272.62L658.19,272.75L658.47,271.17ZM680.42,281.55L680.62,282.32L683.5,280.89L685.45,278.95L685.33,278.27L684.76,278.57L681.42,277.78L680.76,278.27L679.87,280.42L679.4,280.69ZM681.12,295.01L680.8,295.41L683.79,295.87L684.26,295.64L686.58,291.86L683.17,290.41L682.76,290.61L680.36,294.06L680.56,295.05ZM586.15,311.84L583.69,314.6L581.66,315.76L582.27,316.95L585.58,316.91L588.3,317.66L588.58,317.45L589.27,315.78ZM602.7,320.08L603.62,315.37L600.15,314.7L598.18,314.88L595.99,316.67L595.53,318.77L598.4,321.4ZM677.3,336.62L679.64,339.42L681.42,339.42L684.63,338.14L683.23,333.81L679.33,334.32ZM580.12,341.12L584.87,341.34L585.59,339.32L585.95,339.17L583.94,336.3L581.46,335.28L581.55,334.67L579.2,337.79ZM634.13,365.5L634.42,365.21L634.38,365.66L636.49,363.17L639.52,361.18L638.75,358.49L636.38,358.53L636.41,358.14L635.94,358.63L635.94,358.3L633.37,362.95ZM623.69,370.89L623.43,371.49L625.58,375.84L626.03,376.13L627.99,374.68L628.21,373.3L624.76,370.86L624.26,371.17Z"/><path fill="url(#ga48_0)" d="M519.58,274.55L520.23,274.42L520.72,268.62L520.29,268.23L517.87,270.05L517.9,273.4Z"/><path fill="url(#ga120_1)" d="M530.46,275.62L530.86,276.28L530.54,276.43L533.08,277.21L535.26,274.81L533.84,270.99L533.19,270.27L532.2,273.08ZM631.45,276.64L629.75,276.22L627.86,278.76L628.05,279.18L627.8,279.08L631.17,282.08L631.86,282.08L631.74,276.29ZM538.19,367.21L538.12,366.82L537.73,367.83L538.07,367.98L538.29,369.27L541.22,370.43L541.83,370.31L541.26,366.86L540.58,366.53ZM560.45,372.12L557.62,370.3L557.03,371.22L556.56,371.08L555.91,375.84L558.3,376.53L560.99,375.85L561.62,375.31Z"/><path fill="url(#ga228_0)" d="M549.36,269.34L547.4,273.72L549.19,275.53L551.3,274.26L552.02,269.37ZM558.19,271.15L557.39,274.07L557.86,274.22L559.23,276.63L563.09,275.39L565.03,275.29L565.39,274.58L565.02,274.56L563.91,270.95L562.73,270.54ZM570.1,291.92L569.26,296L573.18,296.17L573.27,296.59L574.28,294.69L573.75,294.46L574.04,293.97L570.41,292.43ZM635.89,348.95L635.87,346.18L635.18,343.46L634.73,342.8L634.12,342.72L631.54,344.8L631.86,345.12L632.03,348.19ZM635.17,354.44L636.72,357.75L638.9,358.1L638.79,357.72L640.26,355.9L636.4,352.25ZM540.49,361.6L537.64,363.05L537.29,363.77L538.07,365.83L541.4,365.46L541.34,364.95L542.58,364.21L542.13,361.7L542.4,361.54ZM645.07,364.98L644.43,366.72L644.35,366.48L645.39,371.02L648.6,372.86L649.5,369.62L648.51,364.17L648.37,364.43L647.94,363.85Z"/><path fill="url(#ga192_1)" d="M557.03,271.21L556.73,270.75L553.59,269.81L552.89,270.39L552.12,273.92L552.63,273.77L554.18,274.66L554.27,274.19L555.96,273.71L556.51,273.32ZM686.43,348.36L686.25,347.95L686.78,348.05L685.76,345.25L682.55,344.44L678.12,346.69L677.85,347.21L682.8,350.37ZM631.28,355.9L631.04,356.62L631.46,356.79L634.72,357.4L635.17,357.13L634.84,357.22L634.34,355.34L631.59,356.15ZM619.41,366.68L618.09,364.22L616.26,364.15L614.33,369.98L615.29,371.1L619.29,368.98ZM664.47,373.06L660.58,371.86L660.42,373.75L662.66,375.76L664.57,373.5Z"/><path fill="url(#ga108_2)" d="M573.32,270.94L571.83,273.5L574.64,277.1L577.89,272.95L575.9,270.43L575.83,270.79Z"/><path fill="url(#ga144_3)" d="M598.26,272.28L599.24,274.42L599.81,274.66L602.91,274.27L604.6,271.57L602.54,269.18L598.86,268.26ZM630.31,268.81L629.27,269.99L630.35,275.28L632.37,275.72L632.13,275.8L636.76,275.47L637.52,274.95L634.68,270.86L630.8,268.89L630.9,268.66Z"/><path fill="url(#ga168_0)" d="M651.7,270.76L650.95,270.42L648.37,271.13L647.94,271.69L648.68,275.57L651.7,275.35L652.98,274.61L652.5,274.29ZM642.42,280.95L647.03,284.09L648.18,281.47L646.28,278.14L642.37,278.59ZM608.74,286.99L610.29,284.83L608.5,282.91L608.05,279.36L607.76,279.35L604.93,280.65L603.15,282.64L603.95,284.17L606.21,285.82ZM661.1,282.41L662.42,285.97L662.67,289.06L663.28,289.63L663.72,289.39L664.48,285.94L663.22,283.08L661.54,282.19ZM537.98,292.32L536.18,294.07L536.66,293.97L536.76,295.03L540.62,297.37L541.16,297.25L541.52,294.42L540.02,291.58L540.28,291.67L539.78,291.31L537.77,292.11ZM596.74,291.9L592.1,295.72L592.59,297.38L595.09,298.16L599.05,296.03L599.18,294.98L597.61,291.87ZM623.57,351.04L623.6,351.73L625.64,353.88L629.03,353.58L630.05,349.5L629.92,349.75L625.86,348.92ZM604.94,364.06L607.79,364.87L607.36,364.71L609.48,360.87L607.91,360.05L608.19,359.72L603.69,360.21L603.48,360.4ZM538.16,370.02L536.13,373.86L540.1,375.41L540.45,375.14L540.4,375.4L541.56,371.3ZM613.59,370.37L612.94,370.37L609.11,368.42L608.01,372.23L611.53,372.53L614.01,374.12L614.68,371.91Z"/><path fill="url(#ga252_3)" d="M659.5,271.77L659.35,273.41L662.18,275.46L664.56,270.99L664.27,269.77ZM653.76,275.03L652.98,276.31L652.88,279.7L655.33,281.33L657.67,281L657.56,278.21L656.14,275.27ZM665.35,285.45L669.34,285.38L670.18,283.92L667,282.25L665.13,282.66L665.78,284.91ZM669.86,295.09L667.18,292.04L665.79,292.51L665.26,292.08L665.48,292.43L664.18,296.19L662.58,298.54L662.93,298.13L664.74,299.7L665.04,299.33L668.42,299.86L670.46,298.06ZM687.03,296.18L687.35,293.21L687.06,293.34L685.05,296.6L685.7,297.2L687.15,296.37L687.4,296.59ZM636.83,313.59L638.09,319.12L641.22,318.42L641.21,314.76L639.83,313.7L640.12,313.61L637.05,312.79L637.43,313.15ZM610.82,342.03L613.47,340.9L613.09,337.69L612.38,337.85L611.41,336.94L606.34,338.77L607.01,341.07L607.54,341.05L607.56,341.48ZM608.06,346.81L608.44,350.34L610.7,347.65L610.24,347.82ZM622.54,352.46L621.12,353.63L622.2,358.51L623.65,358.86L625.16,354.9L623.46,352.59ZM669.5,366.7L669.97,368.24L672.91,369.18L674.33,368.58L674.55,368.04L674.64,366.87L673.44,365.13L670.23,365.15ZM667.08,371.48L669.32,373.61L672.41,375.73L672.99,375.19L672.45,370.31L672.72,370.46L672.08,370.09L669.06,369.3Z"/><path fill="url(#ga216_2)" d="M521.33,281.3L525.24,281.68L524.97,281.89L527.05,280.96L528.71,276.69L526.29,275.02L525.66,274.94L521.34,276.55L521.12,276.34L520.66,280.25L520.3,280.54ZM533.74,280.76L533.31,280.67L532.73,278.21L529.75,276.9L530.09,277.16L529.37,277.08L529.54,277.43L527.78,280.44L532.03,282.35ZM564.25,306.2L563.99,306L564.25,306.23L569,303.85L569.28,302.94L569.6,302.95L566.76,298.95L565.26,298.93L564.96,301.64L563.52,304.45ZM671.34,307.33L675.3,311.35L676.21,310.33L676.27,309.67L675.12,307.51L673.17,305.64L671.36,305.61L671.63,306.09ZM660.1,371.32L658.34,369.39L657.18,369.54L656.72,369.23L654.46,373.14L654.49,373.69L657.29,375.72L659.06,373.64L659.57,373.61Z"/><path fill="url(#ga240_0)" d="M553.58,280.81L558.1,279.06L558.26,277.35L556.73,274.85L554.64,275.72ZM644.87,313.68L642.25,315L642.1,318.2L643.31,319.9L644,320.15L648.66,317.73L648.26,315.83ZM575.78,330.69L580.39,330.7L580.19,328.07L578.82,324.88L576.97,324.88L577.37,327.72ZM547.13,331.99L547.59,334.59L551.18,336.56L551.89,336.27L551.58,331.47L551.34,331.66L549.25,330.13L549.29,330.47ZM526.03,344.17L525.63,344.12L525.6,343.69L521.12,344.23L520.35,344.83L520.82,345.12L523.01,349.64L523.25,349.41L522.94,349.8L526.22,348.55ZM640.97,355.31L640.62,355.6L641.16,355.74L642.44,354.5L642.65,354.76L643.48,353.51L640.48,351L639.04,348.61L637.08,349.48L636.65,349.2L636.25,349.76L636.58,351.38ZM638.05,373.14L640.5,374.07L643.75,370.95L643.1,367.22L642.91,366.96L643.05,367.42L636.91,369.43L636.59,369.82Z"/><path fill="url(#ga156_2)" d="M585.72,277.47L585.23,282.07L585.98,281.81L589.04,278.28L589.13,277.1ZM563.5,307.21L563.86,307.26L563.39,307L559.2,308.68L558.6,310.99L561.4,313.95L562.65,314.07L565.04,311.59ZM594.09,319.7L590.16,319.1L591.49,321.8Z"/><path fill="url(#ga120_3)" d="M598.92,280.25L599.09,280.03L599.49,281.09L602.26,281.91L602.97,278.29L602.63,274.68L599.28,275.49L598.73,277.23ZM642.15,296.41L643.68,297.58L646.46,296.65L646.23,296.33L647.93,292.15L647.34,290.43L642.35,292.72ZM587.11,299.4L584.71,297.24L582.1,296.93L581.4,297.31L581.38,301.1L585.57,303.78Z"/><path fill="url(#ga144_1)" d="M632.58,282.99L633.28,283.23L634.71,282.66L636.35,276.4L632.66,276.36L632.97,279.4ZM683.68,310.28L683.63,310.74L683.14,310.3L682.56,315.04L682.84,314.81L684.4,315.89L685.88,315.04L686.06,314.34ZM547.99,341.9L544,341.79L544.58,345.1L546.71,346.45L546.79,346.05L547.32,345.94L548.57,342.61L548.05,342.41ZM590.13,367.94L587.72,362.9L587.81,363.29L586.03,363.39L585.39,364.4L586.21,368.29L586.81,368.73Z"/><path fill="url(#ga84_0)" d="M518.34,289.41L518.44,288.97L519.57,289.41L520.06,288.99L519.75,289.24L521.37,284.36L520.88,281.34L519.82,281.05L517.64,281.21L517.36,281.85L517.01,286.12L517.45,288.44ZM517.55,312.81L518.2,313.02L521.94,311.23L521.62,309.44L518.96,308.3L519.18,308.66L517.99,308.33L517.65,308.83ZM521.95,311.27L521.85,311.56L521.99,311.51ZM522.95,318.84L518.18,314.16L517.88,314.48L517.77,318.88L520.93,320.95L522.74,319.75ZM649.09,323.5L649.3,318.9L648.97,318.68L643.95,320.99L644.05,325.52L645.27,326.22Z"/><path fill="url(#ga120_0)" d="M600.35,286.74L600.66,287.05L602.56,284.23L602.1,282.84L601.86,283.14L602,282.83L599.3,281.76L596.1,287.48L596.52,287.04L597.18,288.38L597.21,288.07L597.84,288.46ZM569.74,290.06L569.91,291.38L570.16,290.92L574.45,293.71L578.24,291.88L574.92,290.89L572.45,288.38L571.22,288.33L571.36,287.96ZM614.04,296.18L614.17,296.75L618.68,299.38L618.58,298.83L618.96,298.69L618.27,294.45L618.13,294.74L616.15,293.56ZM603,299.85L600.23,296.47L600.05,296.86L596.32,298.53L596.93,298.88L597.91,300.81L597.97,300.44L602.49,301.72ZM615.17,329.07L616.18,330.51L615.82,330.43L619.28,331.81L620.34,331.39L620.62,325.81L619.88,324.91L619.48,325.27L615.33,326.07ZM662.33,334.84L662.91,334.83L665.21,330.53L664.77,329.71L664.37,329.86L662.35,328.98L659.12,329.09L657.95,331.03L657.51,330.79L657.58,331.48L659.48,332.79L661.63,335.22L662.26,335.37ZM662.84,335.43L662.02,336.91L663.85,341.16L665.21,341.76L666.31,341.93L668.9,339.18L668.5,337.43L668.16,337.57L665.33,336.09L663.16,335.82ZM576.82,354.48L577.07,354.02L576.59,353.99L576.57,349.88L574.72,347.57L571.91,347.63L571.47,347.31L569.17,348.74L569.2,352.03L572.68,353.68L574.54,355.2L574.43,354.88Z"/><path fill="url(#ga132_2)" d="M623.54,280.89L620.56,279.58L619.41,281.12L618.41,284.74L618.97,287.45L618.7,287.81L619.26,288.25L621.76,288.43L625.22,287.86L624.84,287.67L625.2,283.73ZM597.83,364.05L597.63,364.26L597.73,361.34L595.53,360.63L595.62,360.29L593.53,362.17L593.69,365.43L594.78,367.6L596.44,367.97Z"/><path fill="url(#ga180_3)" d="M626.34,286.4L631.2,283.22L630.59,283.22L626.95,280.01L626.39,279.83L624.67,280.62L625.87,286.26L625.84,286ZM684.84,309.73L684.5,310.33L686.48,314.36L687.8,314.47L687.86,311.25L687.57,310.8Z"/><path fill="url(#ga204_3)" d="M658.61,281.49L655.47,282.36L653.49,286.48L654.83,287.5L657.15,287.42L659.41,282.47ZM604.12,320.07L605.8,320.87L609.19,319.46L608.75,315.03L604.33,315.97L603.92,320.42ZM588.97,319.17L588.43,318.91L585.78,323.75L589.66,324.82L590.25,324.63L591.07,323.16ZM533.84,325.1L533.33,325.69L533.54,330.2L534.2,330.23L536.49,329.38L537.34,325.73L536.82,325.1Z"/><path fill="url(#ga144_0)" d="M631.26,293.4L631.82,293.63L631.72,293.31L634.69,289.86L633.16,289.23L630.21,290.48ZM517.45,304.64L517.37,307.7L519.23,307.33L521.08,303.05L520.11,301.91ZM615.17,324.66L618.78,323.77L619.72,320.67L618.33,319.18L614.37,321.53L614.66,322.06L613.96,323.97ZM663.66,321.93L663.17,322.44L666.26,324.73L670.06,323.15L669.89,322.83L670.63,321.79L668.27,320.34L665.08,319.61L664.26,319.63ZM662.67,360.81L660.1,360.04L658.48,361.67L658.74,361.58L660.45,365.89L662.05,365.66L661.75,365.18L663.43,363.12L663.76,363.2L663.67,361.6ZM555.33,363.35L551.98,364.25L552.26,367.08L554.11,369.61L556.36,370.67L557.78,369.79L557.24,366.88L558.1,363.5L557.76,363.14ZM635.16,366.16L636.4,367.89L636.95,368.06L643.12,365.61L643.34,364.81L643.83,365L639.74,361.95L639.46,362.56L636.75,363.89Z"/><path fill="url(#ga180_2)" d="M542.48,297.86L545.08,298.08L546.41,296.81L546.58,296.14L542.56,289.71L540.85,291.11L540.83,294.73ZM526.86,342.17L527.3,342.59L529.42,342.36L532.82,340.66L530.98,338.29L527.91,337.93L527.34,338.48ZM602.59,343.76L602.83,336.92L599.95,337.68L598.75,341.09L602.29,344.07L601.94,344.4L602.47,344.22ZM663.73,350.28L663.41,350.32L662.01,348.65L659.33,350.76L658.98,352.76L663.04,353.15L664.71,352.14ZM523.33,361.37L520.01,359.93L519.75,360.38L519.95,365.54L521.33,366.13L522.03,365.86L523.33,364.29L523.49,361.86Z"/><path fill="url(#ga156_1)" d="M581.34,295.75L584.48,296.71L588.33,293.68L587.04,291.08L586.38,290.7L584.31,292.74L581.42,294.27ZM636.52,296.37L632.73,297.15L632.78,297.51L634.63,300.53L636,301.24L638.8,297.57ZM536.32,311.72L535.95,310.62L532.16,308.47L528.81,310.23L528.62,311L530.31,314.13L534.76,313.83ZM675.64,315.18L673.89,319.18L678.62,320.22L679.36,320.02L677.5,316.1L677.84,315.8ZM684.91,325.04L685.2,325.71L686.98,324.87L687.46,324.21L687.4,321.32L685.88,321.24ZM525.77,342.82L526.53,337.55L522.61,336.83L519.37,337.11L521.33,343.04L525.51,342.41ZM609.54,366.82L609.96,367.52L613.75,368.68L614.21,365.59L614.51,365.46L614.3,365.06Z"/><path fill="url(#ga96_2)" d="M659.76,298.49L661.77,298.35L662.34,295.82L664.25,292.54L663.78,291.15L663.43,291.52L662.52,290.9L660.6,291.41L660.41,291.03L658.6,292.98L658.46,297.69L658.65,298.14L659.23,298.03Z"/><path fill="url(#ga84_3)" d="M536.91,296.99L536.47,301.97L536.15,301.75L536.64,302.17L538.64,303.04L540.81,299.46L537.71,296.66Z"/><path fill="url(#ga144_2)" d="M687.03,306.69L685.49,308.84L687.2,309.7L687.02,309.35L687.31,309.16ZM632.47,363.3L629.66,360.51L628.94,360.47L626.13,361.65L627.14,365.94L627.45,365.62L629.94,366.75L633.25,365.74Z"/><path fill="url(#ga192_3)" d="M549.6,311.52L544.03,311.16L544.3,313.77L547.06,317.34L549.63,315.25L550.11,315.46L550.28,313.22ZM650.01,378.94L650.06,379.26L650.62,378.59L650.19,378.69L649.04,376.29L646.59,377.36L645.7,378.77L646.5,379.31Z"/><path fill="url(#ga60_0)" d="M574.66,314.3L575.27,314.75L578.3,314.25L579.04,308.07L578.2,307.13L575.01,306.7L574.45,306.99L573.46,309.19L574.5,312.23ZM532.03,378.36L531.61,378.37L534.92,378.88L535.2,378.44L535.03,374.49L534.68,374.4L534.93,374.13L531.57,374.65Z"/><path fill="url(#ga216_3)" d="M619.51,309.47L619.21,309.39L616.55,310.49L616.81,310.39L616.14,314.49L616.57,314.32L618.99,315.1ZM675.81,313.64L676.15,313.36L676.22,313.89L678.28,314.48L678.3,314.98L681.43,314.32L682.3,310.19L679.69,309.25L677.41,310.71L677.25,310.32L676.4,312.56L676.05,312.34ZM650.12,357.14L649.56,355.54L644.8,353.22L644.52,353.82L643.79,353.72L643.21,355.39L647.3,361.68L647.69,361.48L647.53,361.79L648.17,361.56ZM572.09,373.19L576.08,373.9L579.18,369.77L578.67,369.81L576.17,368.36L572.27,370.26L571.52,372.43Z"/><path fill="url(#ga72_3)" d="M662.19,314.91L664.36,316.77L664.84,316.73L667.34,315.19L668.3,312.49L667.88,311.74L666.96,311.5L665.36,312.85L662.05,314.26ZM534.24,333.96L536.76,335.42L538.48,334.8L539.41,331.67L536.7,330.27L536.97,330.12L533.58,330.78L533.06,331.17Z"/><path fill="url(#ga132_3)" d="M541.88,315.95L540.76,318.64L543.91,319.46L545.49,319.47L545.76,319.8L546.47,318.11L543.79,314.7L543.42,315.12L543.71,315.2ZM630.54,348.58L631.14,348.36L630.18,345.44L630.4,345.02L628.94,343.95L625.95,345.42L626.03,347.79L626.68,347.52Z"/><path fill="url(#ga156_3)" d="M550.55,316.09L549.69,316.03L547.26,317.85L547.03,319.37L552.01,320.19L553.79,318.41ZM540.95,330.94L539.02,334.74L541.48,336.28L541.71,335.94L542.01,336.15L543.31,332.77ZM587.41,347.54L586.23,346.93L584.57,348.53L582.45,354.35L582.93,354.11L583.25,354.59L585.03,354.98L584.88,354.71L587.78,353.01L587.11,350.03ZM572.79,355.52L572.43,355.36L572.69,354.8L569.3,352.81L566.55,355.04L566.4,355.86L568.69,357.1ZM570.76,361.62L571.12,361.76L571.6,361.29L572.65,356.95L569.86,358.01L569.63,358.9ZM571.51,367.26L570.19,363.86L566.4,364.99L565.47,367.97L566.45,369.89L570.33,371.73L571.35,371.49L571.46,370.1ZM571.81,363.83L571.87,364.17L571.5,363.97L572.66,369.18L575.62,368.3L576.03,367.86L574.16,364.47L574.01,364.75Z"/><path fill="url(#ga108_3)" d="M565.27,312.5L563.89,314.56L563.61,314.41L565.46,317.38L567.73,319.82L568.39,319.52L568.06,313.55L568.34,313.46ZM605.92,322.02L604.22,321.86L605.04,325.56L605.54,325.83L607.62,326.26L611.68,324.21ZM535.66,356.2L534.96,355.95L535.89,359.73L535.54,362L536.19,362.33L539.19,360.35L538.72,360.11L537.87,355.86Z"/><path fill="url(#ga228_1)" d="M664.91,318.89L667.85,319.12L670.94,321.33L671.49,320.78L670.29,318.75L667.36,315.93L664.41,317.5L664.8,317.62ZM667.41,315.91L667.5,315.94L667.48,315.88Z"/><path fill="url(#ga192_2)" d="M580.61,333.91L580.91,334.18L579.81,332.19L580.12,331.99L576.45,332.37L576.73,335.71L576.73,335.34L578.05,337.45ZM615.22,376.04L614.41,378.96L615.16,379.36L619.77,379.21L619.94,376.26L619.63,375.61Z"/><path fill="url(#ga240_1)" d="M633.82,339.09L631.19,338.17L629.22,339.68L629.53,339.62L629.42,342.39L629.72,342.81L631.27,343.73L633.94,341.67ZM591.56,356.54L595.6,359.89L595.36,359.48L596.81,356.32L596.64,354.3L596.27,353.93L596.36,354.29L593.41,353.62L592.01,354.51Z"/><path fill="url(#ga120_2)" d="M632.26,361.88L634.65,359.53L634.59,359.09L630.77,357.96L631.01,358.29L630.2,359.94Z"/><path fill="url(#ga240_2)" d="M659.64,369.05L661.14,370.48L664.54,371.64L665.06,371.4L664.65,371.56L663.34,368.48L662.28,367.02L661.61,366.73L661.02,367.36L660.63,367.18ZM517.84,375.82L519.31,377.01L523.39,375.85L524.21,373.54L523.27,371.47L521.8,370.43L520.44,370.71L518.48,373Z"/><path fill="url(#ga168_1)" d="M517.73,266.57L518.96,267.18L519.34,266.65L519.91,262.81L518.5,262.56L517.7,263.25Z"/><path fill="url(#ga192_0)" d="M535.33,263L534.44,263.86L536.5,265.07L540.6,264.67L541.13,263.43L540.83,263.05L540.09,263.37L538,262.65ZM615.52,264.66L615.49,265.31L618.8,270.78L620.46,275.71L620.8,275.96L626.76,275.52L628.02,269.14L627.97,265.25L622.34,266.25ZM628.79,278.9L627.15,276.77L623.88,277.37L619.77,276.9L614.12,281.46L613.8,286.87L616.19,288.37L617.61,290.73L621.59,290.15L627.85,288.44L629.43,283.4ZM597.98,299.36L597.71,300.24L598.18,300.83L604.07,305.02L609.99,308.11L612.87,306.57L614.73,303.89L614.24,301.14L608.54,298.69L600.7,297.86ZM669.76,335.34L672.69,331.43L667.99,329.5L664.53,326.71L662.58,327.66L662.19,328.39L660.83,332.16L660.87,335.75L665.46,337.8L666.42,337.87ZM642.01,342.23L642.19,342.91L646.4,346.06L648.79,347.25L650.79,346.48L653.39,342.34L655.04,338.47L648.08,334.52L647.34,334.43L643.78,338.99ZM588.72,372.69L588.41,372.37L588.81,371.99L588.02,372.32L584.25,371.52L579.79,372.88L574.23,375.79L573.5,376.55L574.87,378.58L578.05,377.7L581.53,378.57Z"/><path fill="url(#ga252_0)" d="M666.98,262.79L666.53,263.51L666.71,264.5L669.71,265.94L671.7,267.72L672.58,267.69L677.2,264.36L677.36,263.68L676.71,263.02ZM686.53,266.22L687.28,265.96L686.83,262.73L684.08,263.3L679.93,262.62L679.68,262.97L679.97,263.94L684.11,264.5ZM686.11,280.78L684.78,282.97L685.13,283.78L686.02,283.75L686.32,284.11L686.69,281.6ZM685.75,297.89L686.59,297.89L686.43,287.48L686.14,287L683.13,286.09L679.98,289.29L680.45,289.18L680.06,289.57ZM638.81,313.7L633.12,313.26L631.21,317.23L626.95,318.64L626.81,322.02L627.41,323.7L632.49,325.07L637.72,322.6L638.16,319.1L639.62,314.75L639.4,314.03ZM642.35,313.97L640.33,323.45L646.19,327.54L653.78,322.76L653.98,322.38L652.91,319.7L653.29,316.18L646.83,316.2L643.45,313.53ZM684.8,373.17L683.84,372.84L680.95,373.51L679.01,374.57L678.28,377.69L682.67,378.66L686.1,377.88Z"/><path fill="url(#ga168_0)" d="M519.03,275.26L520.5,273.8L520.49,273.3L518.97,268.75L518.06,268.72L517.63,274.08L517.81,274.84ZM518.23,287.37L518.98,287.28L521.62,285.54L521.9,284.96L519.38,276.72L518.67,276.21L517.72,276.84L518.31,282.07L517.81,286.98ZM544.2,278.33L541.8,276.22L541.33,276.53L538.42,279.18L534.11,284.24L534.45,284.54L533.69,287.45L537.54,289.73L542.03,284.75L546.72,281.46ZM590.9,286.34L594.35,293.61L595.41,293L597.33,289.13L597.35,283.21L597.02,282.31L595.75,281.95L593.33,283.33ZM686.58,316.17L687.23,315.32L688.5,308.81L686.88,299.52L684.92,300.06L683.37,302.41L683.49,314.12L683.15,314.97L683.92,314.74ZM542.7,318.65L542.49,326L545.97,330.11L546.06,329.56L551.34,326.67L556.43,322.99L556.78,322.09L555.55,315.5L551.14,315.18L544.36,314.02ZM603.3,342.33L598.41,340.01L594.27,341.92L593.83,342.58L594.16,343.19L593.7,343.55L594.19,346.72L595.82,349.68L596.63,350L601.18,348.92L602.17,344.96Z"/><path fill="url(#ga156_0)" d="M557.06,271.08L556.34,272.01L554.36,282.39L554.43,283.26L555.67,284.47L556.88,284.77L558.42,282.76L561.79,280.84L562.03,280.23L560.55,277L561.47,270.93L560.71,270.49Z"/><path fill="url(#ga156_3)" d="M574.82,270.11L573.99,269.55L570.76,269.52L566.03,268.33L565.33,268.41L564.33,269.21L565.03,279.91L569.45,280.38L570.23,279.66L575.11,270.86ZM582.59,327.42L582.75,327.62L579.52,331.12L575,333.95L574.97,334.99L582.91,340.59L585.75,339.04L588.23,338.79L587.27,333.62L586.74,327.19L587.01,326.77L586.13,326.66L586.04,326.28ZM605.92,355.78L607.12,354.71L606.62,353.97L604.57,353.16L601.9,351.23L597.41,352.04L596.77,356.05L597.1,356.93L601.18,356.1Z"/><path fill="url(#ga192_1)" d="M594.64,270.08L597.84,274.22L606.16,272.56L609.47,268.3L611.51,264.11L607.29,262.56L607.61,262.18L595.42,262.56L594.59,263.03L595.43,266.22Z"/><path fill="url(#ga120_0)" d="M613.75,268.03L613.12,267.29L612.15,267.74L608.95,272.49L608.87,273.41L611.17,276.86L613.35,278.6L614.44,278.7L617.63,275.89L614.63,271.91ZM533.69,327.22L534.01,325.58L532.39,322.84L529.04,320.9L525.61,325.9L523.93,330.11L525.67,331.77L528.06,332.12L529,331.89L530.75,328.98Z"/><path fill="url(#ga60_0)" d="M643.84,267.76L642.82,267.04L642.04,267.02L638.01,271.65L636.55,277.84L640.21,278.95L643.38,274.67L646.73,272.87ZM554.29,300.66L561.41,303.36L565.97,303.4L566.19,302.81L566.76,302.78L568.35,299.29L568.39,298.45L562.98,294L555.49,289.27L555.57,289.99L552.81,293.32L552.58,298.29L552.21,298.59Z"/><path fill="url(#ga252_1)" d="M655.1,263.35L647.03,268.01L648.69,271.62L651.35,272.68L656.39,272.07L659.13,268.96L660.6,263.94ZM557.81,287.17L557.3,287.22L557.48,288.05L561.48,292.06L567.57,295.44L567.65,295.79L568.39,295.42L568.63,288.13L569.97,283.58L569.76,283.02L563.67,282.56L559.95,283.78ZM625.86,306.4L624.86,305.99L621.67,306.48L621.04,306.7L620.96,307.84L624.43,310.48L625.02,314.89L625.79,315.45L630.02,311.46L627.51,307.94ZM624.56,349.62L623.85,348.92L623.23,349.13L620.83,351.52L615.85,351.68L615.63,352.47L615.96,353.19L619.18,354.46L620.54,355.78L621.64,355.26L623.78,353.23ZM682.71,359.41L685.64,364.71L686,367.47L686.4,367.77L687.27,367.27L688.33,360.58L687.14,354.36L686.39,354.5Z"/><path fill="url(#ga240_3)" d="M532.49,284.43L529.61,278.54L525.43,273.96L521.56,274.41L520.29,276.27L522.91,284.89L523.47,285.49L526.38,287.33L530.46,287.5L530.78,287.96L531.42,287.71Z"/><path fill="url(#ga168_2)" d="M585.39,284.11L585.08,284.81L587.49,285.06L595.39,278.58L595.71,274.61L593.12,271.69L587.02,272.46L582.64,273.71L582.21,274.75L583.2,278.84ZM580,307.99L580.39,307.24L575.5,299.15L572.22,298.72L569.75,299.45L567.49,304.31L566.63,310.59L570.67,313.84L571.38,313.99L571.5,313.66L572.14,313.76ZM567.97,344.63L568.7,349.22L569.47,349.3L578.89,347.19L579.64,346.5L580.43,344.81L581.68,341.91L581.69,340.8L579.38,338.32L574.79,336.43L570.4,340.78Z"/><path fill="url(#ga252_3)" d="M663.91,281.25L664.5,284.27L665.09,284.69L668.39,284.19L671.43,284.4L672.77,280.7L674.22,274.8L672.87,274.04L673,273.61ZM671.77,294.67L675.49,289.44L672.32,287.24L664.78,286.98L661.34,290.86L662.53,298.41L667.38,299.47ZM681.33,340.38L682.09,343.46L686.53,345.34L686.82,344.81L686.3,340.07L686.48,336.67L685.7,336.67L683.18,338.3Z"/><path fill="url(#ga156_2)" d="M538.65,292.85L535.48,289.36L532.18,288.58L531.46,288.8L527.78,294.29L526.57,300.87L529.87,302.82L529.85,303.2L540.65,303.58L540.83,303.04L538.54,299.03ZM519.29,313.25L523.06,313.91L526.78,315.56L527.58,315.29L529.11,310.66L529.03,303.93L525,301.23L519.54,302.54L519.43,305.88L517.53,308.72L518.09,308.84L517.68,310.81L518.15,311.07Z"/><path fill="url(#ga216_0)" d="M641.43,297.83L642.14,296.59L635.96,294.16L632.38,292.16L631.29,293.36L632.07,299.52L635.63,300.99L636.77,301.05L639,298.8ZM673.36,346.53L673.18,346.12L676.08,345.9L678.67,343.83L679.23,343.95L678.29,340.53L678.51,340.3L676.8,337.36L674.29,334.77L674.45,335.02L669.98,337.86L667.82,340.46L668.21,340.55L668.37,342.68L669.91,345.28ZM650.97,349.96L650.3,353.23L650.98,353.45L651.19,354.01L657.71,356.21L661.94,357.14L663.3,356.49L663.08,352.78L656.85,351.29L652.14,349.03Z"/><path fill="url(#ga180_1)" d="M645.35,296.4L648.71,300.82L652.54,299.64L659.04,300.61L660.12,299.34L659.87,296.16L658.72,291.88L652.75,291.52L649.31,289.65L648.46,290.03Z"/><path fill="url(#ga180_0)" d="M543.31,304.76L544.32,311.27L549.55,313.29L552.66,313.19L553.77,312.71L554.03,312L552.43,307.42L553.12,301.87L551.82,300.48L551.04,300.34ZM681.42,314.78L681.89,314.21L680.11,309.41L681.67,303.81L681.43,303.27L672.9,305.35L672.2,308.71L672.64,314.08L677.78,315.94ZM616.08,354.62L610.48,353.12L609.01,356.88L611.07,360.96L614.97,361.77L617.34,364.18L617.92,364.31L619.85,361.94L620.67,359.25Z"/><path fill="url(#ga144_1)" d="M530.89,317.8L530.62,318.49L533.94,321.03L535.92,325.27L536.51,325.55L540.6,324.98L541.11,324.18L541.26,320.37L542.51,314.61L541.54,314.41L536.02,317.47Z"/><path fill="url(#ga144_3)" d="M655.98,318.96L655.91,322.58L658.07,324.69L660.47,325.65L663.97,324.7L664.73,324.26L666.17,320.58L666.82,316.95L667.32,316.61L658.98,312.09L655.13,315.36L655.02,316.38Z"/><path fill="url(#ga144_0)" d="M678.09,318.22L677.85,328.42L686.79,328.98L687.45,328.06L687.14,317.3L683.16,316.06L678.43,317.42Z"/><path fill="url(#ga228_3)" d="M677.71,330.75L676.16,331.96L678.93,333.94L679.71,336.69L680.18,337.04L682.3,333.66L686.33,332.2L686.32,331.31L681.88,330.37Z"/><path fill="url(#ga180_3)" d="M666.3,352.19L666.93,355.89L666.15,358.53L665.82,358.41L666.29,359.6L668.97,360.63L674.14,357.96L674.39,357.2L672.11,349.39L669.26,348.78Z"/><path fill="url(#ga204_0)" d="M526.52,361.72L521.29,360.49L520.93,360.88L518.41,365.72L520.56,370.12L521,370.6L524.33,371.08L528.05,372.21L530.19,369.63L530.92,365.82Z"/><path fill="url(#ga228_0)" d="M590.1,370.25L590.85,370.1L590.61,369.63L590.96,369.34L591.03,365.69L590.32,363.27L587.78,361.79L585.8,360.05L581.18,359.77L573.85,361.24L573.14,365.34L577.62,365.89L584.13,369.17Z"/><path fill="url(#ga132_1)" d="M622.06,364.65L619.76,366.72L619.25,366.76L619.25,370.35L619.56,371.25L619.73,371.02L623.95,371.91L629.31,371.51L630.06,370.75L629.85,366.33L629.74,366.57L625.78,364.32Z"/><path fill="url(#ga204_3)" d="M637.98,363.34L633.23,366.13L633.36,372.56L633.05,372.96L634.3,374.82L638.36,376.27L639.19,375.51L642.01,366.95L640.82,363.8L640.09,363.35Z"/><path fill="url(#ga228_2)" d="M649.99,356.41L649.84,355.48L649.16,355.61L642.65,362.48L644.63,366.2L648.29,367.63L650.75,367.97L654.66,365.91Z"/><path fill="url(#ga192_2)" d="M527.84,376.32L527.87,374.84L524.67,373.04L521.21,373.03L518.2,375.53L519.18,378.26L522.74,377.35L524.9,378.19Z"/><path fill="url(#ga216_3)" d="M619.08,373.48L619.16,373.83L618.72,373.79L618.31,378.86L619.2,379.08L629.68,378.91L632.63,376.04L630.65,373.77L624.22,372.37Z"/><path fill="url(#ga252_2)" d="M669.34,374.86L665.11,376.76L665.3,377.76L670.59,378.74L675.33,377.72L675.94,375.28L675.23,374.43L672.4,372.74L671.49,372.99Z"/><path fill="#d8d8d8" d="M547.06,360.92L546.41,360.42L547.2,360.16L547.27,360.28L547.39,360.6L547.12,360.57L547.22,360.66ZM576.17,286.51L575.51,285.72L576.4,285.47L576.17,284.82L578.68,287.24ZM554.44,315L554.38,314.46L554.4,314.27L554.36,314.21L554.46,314.02L554.78,314.3L554.85,314.24L554.87,314.57ZM606.59,351.77L606.41,351.6L606.68,351.36L606.91,351.61L606.93,351.7L607.29,352.23L607.34,352.66L606.96,352.44ZM661.11,287.09L661.83,286.75L662.11,287.25L662,287.89L661.97,287.93L661.62,287.95ZM537.22,279.09L537.19,278.25L537.48,278.08L537.53,278.15L537.67,278.33L537.49,278.83ZM619.17,339.16L619.64,338.11L621.15,338.03L622.24,337.73L620.78,340.66ZM535.06,359.14L534.75,359.56L534.22,359.94L534.29,358.64L535.18,358.41ZM641.62,370.68L641.72,370.64L641.75,370.31L641.89,370.53L641.98,370.41L642.17,370.45L641.81,371.18L641.56,370.94ZM676.81,347.59L677.14,347.68L677.44,347.72L677.28,348.26L677.29,348.3L676.74,348.6ZM565.07,357.9L565.28,357.8L565.26,357.49L565.32,356.87L565.82,357.04L566.56,357.72ZM618.68,291.99L618.53,291.8L618.33,291.51L618.39,291.5L618.73,291.35L619.01,291.45L619.57,291.93L618.89,292.08ZM642.8,311.27L642.37,310.99L642.64,311.04L642.72,310.69L643.07,310.67L643.43,311.01ZM633.47,326.74L632.97,326.51L632.75,326.44L632.93,326.15L632.83,325.99L633.35,325.95L633.33,326.15ZM529.7,308.82L530.13,308.25L530.29,310.37L530.26,310.53L529.71,309.85ZM629.93,324.51L629.58,323.62L629.9,323.08L631.51,322.93L632.17,323.55L632.49,324.25L631.44,325.51L629.55,325.09ZM641.62,367.91L641.57,367.36L641.7,366.32L641.78,366.36L642.14,366.47L641.92,368ZM620.77,275.43L620.54,275.24L620.21,275.18L620.36,274.84L620.25,274.03L620.9,273.8L621.64,274.14L621.72,274.61ZM594.42,352.71L594.21,352.47L594.39,352.31L594.3,352.21L594.74,351.91ZM641.34,294.04L640.78,293.11L641.86,291.95L642.05,292.1L642.3,292.92L642.27,293.01L642.26,293.81ZM578.1,345.08L577.92,345L578.63,344.51L578.79,344.18L578.79,344.22L578.91,344.37L578.88,345.34ZM604.62,318.26L606.5,318.11L606.27,318.28L606.43,318.39L605.23,318.68L604.64,318.79ZM663.75,346.83L663.72,346.26L664.09,346.27L664.25,346.36L664.24,346.72ZM620.52,297.83L621.67,295.51L622.39,295.61L622.62,296.56L621.73,298ZM547.83,332.73L547.59,332.17L549.73,330.51L549.65,331.24L550.04,330.66L550.81,333.44L549.57,333.71ZM640.99,312.69L640.94,312.41L641.98,312.35L642.75,312.91L642.52,313.22L642.52,314.83L641.71,314.4L641,313.84ZM530.74,319.84L530.98,319.88L531.41,320.4L531.06,320.57L531.03,320.3ZM622.13,285.56L621.38,285.6L620.3,285.09L620.47,284.96L620.52,284.84L621.02,284.67L622.82,285.24ZM532.26,331.37L532.25,330.5L532.62,331.3L532.74,331.64L532.62,331.51Z"/><path fill="#c0c0c0" d="M680.27,295.4L680.87,295.3L681.33,294.68L682.22,295.14L682.4,295.99L681.3,296.62L680.29,296.06ZM627.39,338.6L627.24,338.49L627.02,338.68L626.95,338.26L626.71,337.93L627.9,338.48ZM679.94,315.46L679.34,315.39L678.7,316.15L680.44,312.63L681.3,313.4L681.4,313.38L681.12,314.06L680.48,314.57ZM603.84,301.5L603.9,300.79L604.16,300.88L604.25,301.07L604.59,301.29ZM542.36,341L542.4,340.71L542.45,340.98L542.66,341.35L542.84,341.44L542.77,341.43ZM659.97,270.39L659.74,270.24L659.47,270.18L659.54,269.6L660.09,269.91L660.33,270.03L660.53,270.26ZM656.91,270.27L656.71,269.58L656.15,269.42L656.79,268.48L658.08,269.11L657.35,270.15ZM667.44,329.41L666.97,329.56L667.03,329.44L667.02,329.35L666.87,329.16ZM662.41,328.75L663.11,328L663.09,328.41L662.89,328.63L662.88,329.06ZM545.02,321.25L544.31,320.44L544.84,320.25L545.12,320.35L545.48,320.46L545.39,320.53L545.49,320.57ZM641.57,368.36L641.47,367.54L641.43,367.18L641.71,367.11L642.11,367.6L641.9,368.27L641.78,368.09ZM637.49,300.12L637.26,300.53L637.08,299.62L637.72,299.32L637.82,299.89ZM616.27,342.55L615.86,340.97L616.38,340.79L616.3,340.28L617.2,340.32L617.21,340.35L617.04,342.47ZM593.26,351.89L593.48,352.09L593.75,352.09L594.02,352.27L593.95,352.73L593.82,353.46L593.75,353.43L593.31,353.38ZM589.67,366.58L589.31,365.98L590.09,365.06L591.58,366.66L590.85,367.44ZM576.74,313.04L576.66,312.09L578.91,311.06L579.19,312.29L578.56,313.09L577.79,313.26ZM586.66,376.03L586.6,375.9L586.26,375.51L586.42,375.54L586.75,375.44L587.16,375.5L587.44,375.76L587.45,376.05ZM671.48,297.24L671.5,296.43L672.88,295.46L673.63,297.9L673.21,297.72L673.35,298.87L672.02,297.54ZM608.45,270.28L608.38,269.68L608.81,269.28L608.92,269.33L608.92,269.51ZM551.83,272.01L552.28,271.65L552.35,271.72L552.45,271.65L552.71,272.08L552.03,272.45ZM636.63,355.63L636.4,354.87L637.42,355.47L637.27,355.5L636.79,355.76ZM641.58,324.69L641.6,324.69L641.69,324.84L642.09,325.27L642.68,325.21L642.11,327.29ZM612.77,350.33L614.45,350.66L614.34,350.81L614.32,350.84L614.35,352.47ZM574.05,358.02L574.08,357.88L573.77,357.67L574.51,357.37L574.64,357.43L574.77,357.36L574.58,357.97ZM587.14,374.62L587.54,374.25L587.73,374.72L587.61,374.87L587.58,374.9ZM637.64,326.77L637.5,326.59L637.43,326.46L637.33,326.09L638.24,325.66L638.3,326.1L638.41,326.48L638.28,326.47ZM620.05,340.96L620.19,340.86L620.1,340.48L620.65,341L620.75,341.31L620.55,341.6ZM639.95,324.24L639.69,324.23L639.3,324.02L638.97,323.98L638.8,323.34L639.5,322.91ZM683.88,292.25L683.47,292.25L683.24,292.14L683.23,292.08L683.14,292.05L683.43,291.57L683.62,291.72ZM572.19,334.17L572.44,332.7L573.73,332.73L573.78,332.51L575.05,334.24ZM614.89,298.52L612.49,297.38L613.1,297.07L614.04,297.01L615.03,298.3L614.48,298.15ZM585.54,330.78L585.15,330.67L585.01,330.45L585.3,330.28L586.13,330.51ZM669.83,301.34L669.91,300.84L670.04,300.46L670.34,300.16L670.49,300.92L670.34,301.12ZM555.89,339.44L556.04,339.49L557.49,340.78L556.45,340.63L556.74,340.96L556.31,341.28L555.96,341.73L555.62,341.16ZM589.34,376L589.39,375.84L589.14,374.21L590.75,374.05L591.77,373.71L591.92,375.64Z"/><path fill="#a8a8a8" d="M613.4,346.62L613.06,346.31L612.7,346.26L612.25,345.99L612.72,345.67L613.44,344.62L613.49,344.81L614.18,345.25ZM572.01,295.83L571.99,295.78L572.64,295.08L572.42,295.22L572.4,295.39L572.6,295.62ZM594.16,291.01L594.23,291.74L594.03,291.5L594,291.7L592.87,291.73L592.85,291.24L594.01,289.92ZM676.66,292.95L677.08,292.6L677.74,291.14L678.22,290.81L678.61,291.49L679.33,293.17ZM534.61,267.95L534.07,268.85L533.89,268.59L533.95,267.14L534.61,267.66ZM545.89,267.49L546.4,267.52L546.24,267.72L545.98,267.92L545.96,267.91L545.99,268.12L545.7,268L545.37,268.08ZM525.58,349L525.94,348.23L526.06,348.22L526.71,347.97L526.2,348.55L526.29,348.56ZM550.48,344.15L549.87,344.12L550.33,343.82L551.04,343.6L551.19,343.64L551.06,343.9ZM575.66,366.49L575.37,366.42L576.45,365.24L576.33,365.67L576.29,365.77ZM581.4,307.24L581.64,307.01L581.54,306.59L582.31,306.77L583.07,307.37ZM670.47,374.46L670.35,374.25L670.82,374.05L671.05,374.09L671.04,374.78ZM667.97,365.43L668.06,365.02L668.56,363.09L668.75,362.16L669.41,362.63L669.56,363.16L669.52,363.2L669.46,363.81ZM535.31,271.16L535.33,269.51L535.8,269.45L537.01,269.97L536.37,270.49L536.01,271.52ZM658.14,355.49L659.78,354.3L660.13,354.65L660.98,354.26L662.06,355.51L661.78,355.48L660.64,356.23ZM678.58,361.51L677.86,361.3L677.81,360.84L677.92,360.89L678.51,361.01L678.54,361.02ZM631.07,343.99L631.02,344.47L630.63,343.9L630.56,343.86L630.89,343.05L630.92,343.12ZM615.97,289.44L615.8,289.74L615.76,289.62L615.54,289.74L615.73,289.33L616.87,288.39L616.52,288.9ZM550.39,279.32L549.86,278.45L550.47,277.65L550.53,277.35L551.05,278L551.19,278.83ZM567,296.14L566.94,297.33L565.01,296.9L565.03,296.69L566.76,295.87ZM634.95,268.39L634.6,268.51L634.33,268.27L635.01,267.66L634.97,267.81L635.09,267.77ZM684.37,355.6L684.21,355.8L683.77,353.42L683.75,352.92L684.15,353.64L684.03,353.26L685.25,355.13L684.92,354.89ZM607.58,330.49L607.94,328.44L608.41,328.91L608.59,328.85L608.77,329.14L609.01,330.18ZM672.52,344.65L672.35,345.17L671.97,344.82L672.08,344.37L672.24,343.89L672.45,344.35ZM530.82,265.66L530.56,265.99L528.92,264.73L530.09,263.76L530.96,264L531.14,265.16ZM634.93,301.28L635.13,300.75L635.29,300.47L635.3,300.42L635.11,299.64L635.5,302.25L635.36,302.27ZM585.14,285.82L585.31,285.28L585.94,285.68L585.93,285.78L585.69,285.96L585.35,286.08L585.46,285.95ZM674.89,368.27L673.89,368.89L673.41,367.74L673.17,366.98L674,366.55L675.64,364.99L675.53,366.14ZM607.43,294.87L606.19,294.94L606.06,294.54L606.04,294.41L606.22,294.07L607,294.26L607.11,294.39ZM683.82,292.94L684.31,293.03L684.64,293.04L684.54,293.1L684.78,293.12L684.61,293.42L684.33,293.67L684.14,293.65ZM617.89,281.95L617.08,281.7L617.94,281.66L617.88,281.74L618.11,281.78ZM572.9,294.01L575.1,293.34L575.47,293.85L575.04,294.38L575.35,294.75L574.25,294.59L574.04,294.63Z"/><path fill="#fcfcfc" d="M638.4,286.06L637.41,286.33L638.33,283.84L638.93,284.61L639.47,284.71ZM536.12,275.9L535.99,275.71L536.04,275.65L536.09,275.52L536.06,275.28L536.82,275.7L536.8,275.71L536.84,275.74ZM615.84,307.13L615.66,307.24L615.48,307.11L615.5,306.73L616.2,306.57L616.33,306.61L616.19,306.79L616.09,306.9ZM641.26,356.49L641.79,356.04L641.97,355.76L642.13,355.72L642.12,355.79L641.75,356.62ZM534.26,318.68L533.6,318.47L533.82,318.14L533.97,318.12L533.98,318.01L534.71,318.21L534.95,318.37ZM594.98,343.7L595.12,343.5L595.78,343.21L595.8,343.32L595.59,343.76ZM525.04,353.24L525.02,352.78L525.14,352.87L525.64,352.67L525.67,352.88L525.77,352.8L525.67,353.29L525.81,353.54ZM545.54,350.39L545.67,350.08L545.72,349.73L546.49,349.47L546.66,350.04L546.48,349.96L545.76,350.52ZM592.14,271.5L592.05,271.29L592.34,270.76L592.51,270.68L592.89,270.91L592.74,271.27L592.38,271.61ZM582.66,343.77L581.94,343.63L582.17,343.37L582.49,343.26L582.63,343.16L582.82,343.1ZM645.16,360.48L644.28,360.4L644.07,359.7L645.79,359.55L645.43,360.25ZM650.45,335.43L651.19,335.34L651.3,335.24L652.09,334.55L652.65,334.57L653.27,334.41ZM641.02,362.18L640.87,362.68L640.55,362.37L640.61,361.8L640.97,361.58L641.13,361.71L641.09,362.12ZM635.7,288.35L634.97,288.49L634.82,288.01L634.77,287.99L634.92,287.62L636.59,286.75L636.34,287.53L636.06,287.81ZM642.85,295.97L642.94,295.95L643.72,295.6L643.7,296.17L643.57,296.3L643.22,296.41L643.02,296.35ZM637.9,295.54L637.94,295.74L637.46,295.05L637.82,294.42L638.15,294.86ZM679.45,345.95L679.57,345.73L679.82,344.92L680.64,345.23L680.53,345.93L680.23,345.9ZM683.03,311.57L682.91,312.11L681.81,311.78L681.54,312.05L680.83,310.89L683.13,310.89L684.1,311.01ZM658.17,371.55L658.15,371.52L657.95,371.36L658.45,371.13L658.6,370.88L658.89,371.4L658.83,371.68ZM637.55,283.02L638.5,283.11L638.48,283.11L638.01,283.46L637.84,283.63ZM677.85,321.16L677.74,321L677.53,320.9L678.03,320.2L678.08,320.35ZM664.19,344.96L664.09,344.91L663.66,344.17L664.84,343.82L664.86,343.95ZM555.4,268.99L555.09,268.3L554.83,268.12L555.53,267.77L555.81,267.87L556.67,267.23L557.61,267.7L555.92,269.93ZM554.26,331.36L554.9,331.43L555.07,331.96L554.85,331.91L554.83,332.09L554.59,332.09L554.57,331.9ZM664.53,307.41L664.17,306.19L665.32,306.7L665.5,307.15L665.59,307.7L664.88,307.6L664.78,307.62ZM591.05,315.07L590.47,314.7L590.26,314.21L591.58,311.97L591.91,312.67L592.12,313.08L592.03,313.29ZM682.69,293.14L682.84,292.37L683.08,291.81L683.29,291.72L683.4,291.35L683.67,291.92ZM670.43,293.72L670.56,293.51L671.16,293.56L671.31,293.41L671.55,293.78L671.72,294.03L671.58,294.06L671.5,294.31ZM546.15,315.08L546.09,315.06L545.86,314.7L546,314.2L546.73,313.94L547.3,315.39L546.73,315.24ZM544.04,364.53L544.18,364.45L544.89,364.01L545.23,365.18L544.79,365.71L544.35,365.48L544.07,365.31L543.8,365.16ZM603.71,328.14L603.53,328.04L603.48,327.87L603.19,327.58L603.68,327.36L603.72,327.15ZM677.45,296.99L677.93,297.08L678.08,296.98L678.15,297.22L678.15,297.71L678.16,297.73L677.81,297.61ZM639.46,349.64L639.59,349.38L640.24,348.29L640.88,349.19L640.7,349.75Z"/><path fill="#e4e4e4" d="M628.49,348.25L628.19,348.77L627.98,347.78L628.57,345.57L628.63,346.28L629.68,346.85L629.41,348.15ZM556.18,347.84L556.34,347.44L556.34,347.31L556.77,347.43L556.72,347.6L556.98,347.93L556.83,347.96L556.82,348.03ZM607.7,368.38L607.61,368.74L607.31,368.84L607.2,368.77L607.69,368.23L607.87,368.34ZM582.6,371.41L582.36,370.86L582.58,370.82L582.79,370.52L583.09,370.71L583.71,371.51L583.18,371.52ZM567.16,367.68L567.26,367.1L567.39,365.91L568.66,365.97L569.49,366.75L569.23,367.2L568.82,367.31L567.78,367.92ZM655.56,320.39L655.41,320.28L655.35,320.03L655.4,319.51L655.65,319.48L655.69,319.26L655.91,319.51L656.12,319.31ZM608.66,329.48L609.15,328.56L609.53,328.29L609.48,328.84L609.87,328.8L609.84,329.75ZM651.23,332.65L651.01,332.56L650.96,332.59L651.89,332.26L651.62,332.52ZM635.69,319.84L635.49,319.97L634.77,317.95L635.28,317.62L635.73,317.11L636.26,317.75L635.99,319.07ZM670.13,319.44L670.38,319.11L670.62,318.36L669.88,317.73L672.5,317.78L672.18,319.42L672.43,319.77ZM544.46,297.41L544.51,297.16L544.39,296.97L544.32,296.85L544.98,297.21L545.26,297.49L545.16,297.53L545.22,298.09ZM673.65,293.56L674.03,293.78L674.34,293.91L674.57,293.8L674.59,295.19L674.03,295.55L673.01,296.53L672.85,296.17ZM591.89,306.81L592.04,306.71L592.09,306.14L592.36,306.26L592.71,306.31L592.97,306.51L593.55,306.89L592.94,307.54ZM675.83,281.63L675.21,280.55L675.71,281.04L676.09,280.8L677.21,282.39L677.5,282.41L677.05,282.7L676.84,283.35ZM547.92,328.76L548.27,328.65L548.12,328.52L548.09,328.26L548.4,328.32L548.95,328.41L549.38,329.16Z"/><path fill="#b4b4b4" d="M539.35,333.98L538.45,333.55L538.5,333.35L538.21,332.62L538.65,332.53ZM656.06,346.13L655.1,344.85L655.26,344.27L655.65,344.53L656.4,344.29L656.89,345.91L656.89,346.52L656.3,346.3ZM602.95,364.84L602.89,364.65L602.98,364.47L602.99,364.31L603.45,364.42L603.47,365L603.61,365.2L603.33,365.17ZM564.92,344.32L565.92,343.5L566.02,343.68L565.17,344.32L565.04,344.56ZM589.52,282.96L588.33,282.56L587.66,282.47L588.2,281.91L588.18,281.53L589.57,281.76L589.59,281.82ZM650.67,355.97L650.42,356.25L650.04,355.38L650.51,354.85L650.62,354.61ZM542.82,302.04L542.49,302.1L542.85,301.29L543.1,300.63L543.31,300.67L543.38,300.85L543.46,300.99L543.32,301.37ZM680.66,322.24L680.72,321.57L680.98,321.67L681.2,321.33L681.7,322.1L681.19,322.47L681.12,322.58L680.84,322.37ZM528.29,276.15L528.25,275.97L528.46,275.47L528.61,275.32L529.01,276.43L528.97,276.94L528.81,277.1L528.59,276.87ZM632.67,276.92L631.87,275.87L632.75,274.71L632.44,274.73L632.17,273.82L633.87,272.31L635.04,272.92L635.16,273.48ZM552.82,322.62L553.52,322.05L553.97,321.87L555.07,321.03L554.38,323.65L553.53,323.08ZM560,314.92L560.28,314.67L560.39,314.54L560.63,314.34L560.75,314.75ZM578.54,303.13L578.92,302.28L579,302.28L579.19,302.4L579.56,302.32L579.34,303.24L578.95,303.18L578.65,303.32ZM640.65,339.95L641.64,339.03L641.49,338.72L642.05,338.84L643.97,337.74L641.81,340.13L641.53,340.08L641.04,340.21ZM592.59,316.2L592.52,315.47L592.64,315.46L593.1,315.34L593.18,315.55ZM568.04,372.66L567.87,372.75L568.32,371.9L568.52,371.82L568.52,371.92L568.54,372.08L568.83,372.26L568.92,372.37ZM637.75,348.3L638.5,346.82L638.78,348.22L639.51,350.33L639.21,350.15L638.56,350.34L638.47,349.66ZM576.58,263.41L577.23,263.52L578.4,263.3L580.45,266.64L579.35,266.69ZM573.76,328.44L574.04,328.45L574.25,328.43L574.7,328.99L574.46,329.02L574.46,329.14ZM615.73,309.05L615.54,309.03L615.68,308.83L615.7,308.62L616.61,308.38L616.12,309.13L616.1,309.08L615.85,309.13ZM520.11,290.88L520.68,290.84L521.66,289.63L521.87,289.64L522.37,288.88L520.96,292.22ZM574.5,372.83L575.44,372.73L574.96,373.19L574.88,373.04L574.83,372.87ZM584.61,374.48L584.31,374.38L584.4,374.33L584.16,374.18L584.35,373.63L584.55,373.87L584.88,374.08Z"/><path fill="#787878" d="M551.41,348.08L551.11,347.8L551.09,347.48L551.16,347.53L551.64,347.6L551.8,347.72L552.14,348.09L552.41,348.43ZM664.81,371.2L664.54,371.5L664.5,371.37L664.2,371.4L664.21,371.32L664.51,370.51L664.59,370.12L665.06,370.63ZM616.67,342.63L617.64,342.19L617.64,342.29L616.65,343.35L616.48,343.29ZM662.21,322.82L661.58,322.61L661.43,322.55L661.63,322.28L661.71,322.05L661.9,321.91Z"/><path fill="#cccccc" d="M601.72,269.44L602.06,269.32L602.65,269.86L602.83,270.26L602.3,270.65ZM584.87,272.25L583.76,270.79L583.96,270.37L585.56,271.19L585.78,271.2ZM638.57,315.95L638.49,316.72L637.77,315.97L637.44,314.11L637.71,313.62L639.25,314.18ZM627.47,327.86L627.23,327.86L627.28,327.65L627.58,327.47L627.57,327.42L628.05,327.42L628.2,327.55L627.98,327.88ZM583.42,345.18L584.07,345.35L584.4,345.51L584.17,345.63L583.97,345.63L584.11,345.73ZM538.31,364.02L539.06,363.14L539.25,363.19L539.56,363.21L539.23,363.9L538.62,364ZM642.54,328.67L642.47,328.4L642.9,327.26L642.86,328.62L642.54,328.71ZM638.95,316.92L638.91,316.53L639.47,316.2L639.81,316.38L639.72,316.63L639.74,316.7L639.44,317.33ZM649.42,268.5L650.29,268.97L650.78,269.47L651.64,270.53L651.25,271.04L650.98,271.14ZM659.34,295.43L660.01,295.67L660.28,296.55L660.01,296.54L659.44,296.69ZM631.67,373.12L631.86,373.33L631.79,373.41L631.29,373.25L631.16,373.33L630.79,372.69L631.81,372.86L631.87,372.91ZM679.91,336.02L679.99,335.81L679.88,335.4L680.07,335.35L680.39,335.24L680.65,335.98ZM568.45,363.98L567.74,363.83L568.06,363.4L568.05,362.9L568,362.7L569.46,363.06L568.94,364.36L568.56,364.52ZM537.01,275.29L537.03,274.93L537.02,274.85L537.91,275.86L537.57,275.95L537.42,275.84L536.98,276.01ZM625.53,307.4L624.86,307.8L626.89,307.21L626.82,307.68L626.41,307.71L625.89,308.18ZM640.04,361.54L639.52,361.64L636.19,360.64L636.74,359.7L637.57,359.58ZM674.99,307.05L676.14,307.12L677.69,306.91L676.9,308.84L675.89,308.85ZM637.86,349.57L638.91,350L638.71,350.24L638.7,350.31L638.07,350.17ZM582.08,309.11L582.02,309.42L582.26,309.69L582.49,310.1L582.14,310.08ZM665.51,274.3L665.45,274.25L665.3,273.99L666.02,274.15L666.1,274.11L666.1,274.13L666.15,274.42L666.26,274.61ZM533.51,293.81L533.56,293.58L534.57,293.17L534.21,293.55L533.96,293.7ZM556.92,316.39L557.25,316.1L557.43,316.03L557.6,316.24L557.62,316.23L557.67,316.34L557.86,316.54ZM586.82,289.35L587.38,288.84L587.74,289.44L588.87,289.2L588.22,290.03L587.7,291.58L585.69,291.08ZM572.29,324.64L572.85,324.5L572.85,324.75L572.85,325.21L572.69,325.09L572.62,325.04L572.73,325.26L572.33,325.15ZM607.63,351.71L607.11,351.15L606.66,350.69L606.5,350.06L607,349.89L608.08,350.52ZM640.6,345.16L639.94,345.19L638.65,344.83L639.02,344.61L640.1,343.72L640.25,343.99ZM683.9,372.97L684.01,373.04L684.3,372.92L684.42,373.04L684.37,373.18L684.14,373.23L684.04,373.47ZM624.72,346.32L624.71,345.83L624.9,345.49L624.93,345.47L624.99,345.2L625.23,345.75ZM627.7,325.36L627.51,325.3L627.71,325.22L628.05,324.98L628.08,324.99L628.36,324.91L628.35,325.66L628.2,325.77ZM629.05,301.19L627.71,301.13L627.47,300.45L627.03,300.2L627.67,300.05L627.55,300.03L628.39,298.87ZM604.74,283.68L604.69,283.32L604.6,283.02L605,282.54L605.31,282.94L605.28,283.36ZM660.25,268.85L660.06,268.24L662.96,269.54L662.78,269.96L663.14,270.88L663.29,271.23L662.43,271.16L661.49,270.59Z"/><path fill="#848484" d="M620.01,285.01L620.03,284.79L620.3,284.39L620.62,284.51L620.45,285.36ZM683.65,298.7L683.77,297.89L684.87,296.94L685.73,298.53L685.96,298.77L685.48,299.46ZM614.35,324.18L614.42,323.71L614.35,323.47L614.6,323.04L614.71,323.25L614.84,323.6L614.88,323.91L614.65,323.97ZM555.86,355.9L555.73,354.07L556.07,354.42L557.71,355.11L557.94,357.22L557.78,357.02L556.68,356.49ZM592.52,327.33L592.02,327.46L591.85,327.58L591.77,327.36L592.91,326.64L592.75,326.89ZM567.24,366.14L566.45,364.47L566.6,363.35L566.95,363.59L567.86,363.4L567.97,363.45L567.82,364.98L567.92,365.5ZM566.38,324.26L566.11,323.92L565.97,324.17L565.79,323.46L565.8,323.02L565.9,322.83L566.51,323.57L566.44,324.25Z"/><path fill="#f0f0f0" d="M622.14,278.3L621.91,278.92L621.78,279.02L621.04,279.06L620.84,277.36L620.91,276.84L621.09,276.76ZM537,348.49L536.81,348.01L537.27,347.66L537.51,347.49L537.63,348.64L537.6,348.63ZM525.45,306.87L525.5,306.73L525.59,306.44L525.56,306.33L525.88,306.33L525.91,307.37L525.76,307.25L525.51,307.45ZM640.04,334.08L640.74,335.03L641.36,335.68L641.15,336.12L640.77,336.24L639.96,335.78ZM629.27,273.67L626.58,273.33L625.82,272.39L625.99,271.85L625.8,271.46L628.54,272.53L629.9,273.08L628.86,273.06ZM562.39,359.39L563.05,358.87L563.82,359.29L563.76,359.43L563.99,359.95L562.97,360.38L562.85,360.01L562.31,360.2ZM522.56,302.09L522.92,302L522.92,302.03L523,302.13L523.32,302.19L523.26,302.66L522.97,303.08L522.82,303.14ZM593.49,319.48L593.94,319.31L594.02,319.21L593.93,319.39L594.24,319.47L593.61,320.14ZM655.89,305.37L655.78,304.48L658.54,305.55L658.69,306.21L657.52,307.06L657.18,306.86L656.06,306.68ZM580.82,363.61L580.94,362.92L582.13,363.21L582.7,364.44L582.52,364.38L581.95,364.26ZM619.73,330L619.7,329.87L620,329.37L620.14,329.48L620.19,329.25L620.64,329.91L620.15,330.55L620.08,330.37ZM670.38,355.96L671.1,355.98L671.14,355.68L671.34,355.91L671.38,356.02L671.77,356.67L671.47,356.62L671.1,356.6ZM578.18,347.71L578.15,347.5L578.51,347.72L578.72,347.97L578.66,348.3ZM648.9,370.79L648.95,370.52L648.81,370.22L649.32,369.89L649.54,369.95L649.64,369.94L649.74,370.38ZM636.77,364.84L636.85,364.45L636.84,364.27L637.04,364.32L637.02,365.2ZM578.63,294.45L578.67,294.32L579.28,294.11L579.33,294.3L579.16,294.68L578.73,294.91ZM574.18,331.58L573.4,331.95L573.76,330.68L574.87,330.4L574.76,330.7ZM681.01,365.61L681.21,365.24L681.32,365.45L681.29,365.69L681.5,365.68L681.69,366.02L681.22,366.71ZM529.47,283.52L529.21,283.57L530.33,281.74L530.3,282.39L530.55,282.46Z"/><path fill="#3c3c3c" d="M618.3,266.61L618.12,266.62L617.72,266.55L617.41,266.55L617.3,266.41L617.51,266.28L618.45,266.21L618.6,266.33Z"/><path fill="#9c9c9c" d="M561.42,363.12L561,363.03L561.01,362.86L560.5,362.9L560.47,362.12L561.09,361.64L561.51,361.35L562.71,361.92ZM640.15,319.4L640.56,319.48L640.21,319.1L641.08,319.33L641.38,319.52L641.36,319.77L641.45,320.12L640.78,320.28ZM630.47,287.02L631.36,285.93L631.28,285.54L631.73,285.72L632.59,285.29L633.3,286.07L631.92,287.62L631.36,287.15ZM580.92,270.32L581.08,270.09L581.03,269.59L581.23,269.44L583.21,270.17ZM578.16,275.44L578.02,275.52L578.12,275.2L577.98,274.97L578.17,274.77L578.34,274.6L578.44,274.23ZM563.79,271.08L563.7,271.12L563.72,271.04L563.57,270.33L563.6,270.3L564.1,270.19L564.22,270.74L564.41,270.79ZM538.11,370.58L538.44,370.35L538.52,370.32L539.28,370.14L538.47,370.75L538.52,370.65ZM584.08,372.19L585.56,370.78L586.46,371.57L586.85,371.57L586.48,371.79Z"/><path fill="#545454" d="M616.78,316.03L617.12,316.36L616.74,316.39L615.66,315.41L616.46,315.3L616.81,315.58Z"/><path fill="#6c6c6c" d="M651.67,349.72L651.54,349.74L651.5,348.58L651.93,349.51L651.93,349.54L652.05,349.64ZM537.49,348.61L537.61,348.56L537.95,348.7L538.06,349.14L537.8,349.56L537.46,349.51L537.11,349.49ZM682.72,303.52L683.23,303.21L683.6,303.11L683.56,303.29L684.08,303.82L684.06,303.84L683.11,304.85ZM681.86,374L682.17,373.46L682.54,373.57L683.58,374.45L683.25,374.88Z"/><path fill="#909090" d="M543.12,304.42L542.96,304.34L542.95,304.01L543.96,304.02L544.13,304.21ZM550.39,270.05L551.03,269.51L551.23,270.16L551.72,269.69L551.87,270.06L551.49,270.56ZM634.85,362.25L635.95,361.35L636.6,362.8L636.77,362.87L636.54,362.97ZM620.69,332.33L620.28,332.27L619.38,331.26L620.42,330.98L621.03,331.49ZM632.16,327.91L631.03,327.15L631.45,326.55L631.17,325.9L633.44,328.08ZM592.33,326.22L592.39,326.16L592.28,325.61L592.79,328.49L591.98,327.84ZM660.48,318.27L661.72,318.44L661.62,318.59L661.58,318.73L660.82,318.74ZM534.3,265.96L534.16,266.1L533.92,266.08L533.91,265.03L534.32,264.95Z"/><path fill="url(#ga144_2)" d="M547.46,316.02L544.58,313.34L549.71,311.97L550.16,311.61L551.9,312.66L555.81,311.17L556.18,313.25L561.81,319.11L556.87,321.87Z"/><path fill="url(#ga144_0)" d="M575.44,366.77L561.8,365.84L562.81,362.12L557.66,360.4L561.27,347.57L568.23,344.79L570.13,349.46L577.44,349.96L582.18,357.6Z"/><path fill="url(#ga228_0)" d="M543,346L548,338L552,346Z"/><rect x="520.1" y="264.8" width="164.9" height="111.6" filter="url(#grain)" opacity="0.55" style="mix-blend-mode:overlay"/></g>
<rect x="8.8" y="266.8" width="66.5" height="13.8" fill="#fff" fill-opacity="0.74"/><text x="13" y="277.3" font-size="8.6" stroke="#000" stroke-width="0.15">168 mAh g<tspan font-size="6" dy="-3">-1</tspan><tspan dy="3"> Sb</tspan></text>
<rect x="25.3" y="336.4" width="54.3" height="35" fill="#fff" fill-opacity="0.74"/><text x="28.2" y="347.4" font-size="8.6" fill="#ee2424" stroke="#ee2424" stroke-width="0.25">Sb 67.6 at%</text><text x="28.2" y="357.3" font-size="8.6" fill="#ee2424" stroke="#ee2424" stroke-width="0.25">Ca 32.4 at%</text><text x="28.2" y="367.2" font-size="8.6" fill="#ee2424" stroke="#ee2424" stroke-width="0.25">(CaSb<tspan font-size="6" dy="1.8">2</tspan><tspan dy="-1.8"></tspan>)</text><circle cx="31.3" cy="332.3" r="2.9" fill="none" stroke="#ee2424" stroke-width="0.9"/>
<rect x="88.7" y="318.9" width="52.4" height="23.5" fill="#fff" fill-opacity="0.74"/><text x="92.1" y="328.6" font-size="8.6" fill="#ee2424" stroke="#ee2424" stroke-width="0.25">Sb 100 at%</text><text x="92.1" y="338.5" font-size="8.6" fill="#ee2424" stroke="#ee2424" stroke-width="0.25">(Sb)</text><circle cx="92.3" cy="313.8" r="2.9" fill="none" stroke="#ee2424" stroke-width="0.9"/>
<rect x="181.4" y="267.4" width="65.5" height="13.2" fill="#fff" fill-opacity="0.74"/><text x="185.5" y="277.3" font-size="8.6" stroke="#000" stroke-width="0.15">312 mAh g<tspan font-size="6" dy="-3">-1</tspan><tspan dy="3"> Sb</tspan></text>
<rect x="184.8" y="321.7" width="51.4" height="34" fill="#fff" fill-opacity="0.74"/><text x="188" y="331.8" font-size="8.6" fill="#ee2424" stroke="#ee2424" stroke-width="0.25">Sb 47.8 at%</text><text x="188" y="341.7" font-size="8.6" fill="#ee2424" stroke="#ee2424" stroke-width="0.25">Ca 52.2 at%</text><text x="188" y="351.6" font-size="8.6" fill="#ee2424" stroke="#ee2424" stroke-width="0.25">(Ca<tspan font-size="6" dy="1.8">11</tspan><tspan dy="-1.8"></tspan>Sb<tspan font-size="6" dy="1.8">10</tspan><tspan dy="-1.8"></tspan>)</text><circle cx="213.8" cy="317.3" r="2.9" fill="none" stroke="#ee2424" stroke-width="0.9"/>
<rect x="266.6" y="339.8" width="53.4" height="34.7" fill="#fff" fill-opacity="0.74"/><text x="269.6" y="350.5" font-size="8.6" fill="#ee2424" stroke="#ee2424" stroke-width="0.25">Sb 65.7 at%</text><text x="269.6" y="360.4" font-size="8.6" fill="#ee2424" stroke="#ee2424" stroke-width="0.25">Ca 34.3 at%</text><text x="269.6" y="370.3" font-size="8.6" fill="#ee2424" stroke="#ee2424" stroke-width="0.25">(CaSb<tspan font-size="6" dy="1.8">2</tspan><tspan dy="-1.8"></tspan>)</text><circle cx="325.9" cy="349.3" r="2.9" fill="none" stroke="#ee2424" stroke-width="0.9"/>
<rect x="351.2" y="266.8" width="66.7" height="13.8" fill="#fff" fill-opacity="0.74"/><text x="355.5" y="277.3" font-size="8.6" stroke="#000" stroke-width="0.15">672 mAh g<tspan font-size="6" dy="-3">-1</tspan><tspan dy="3"> Sb</tspan></text>
<rect x="358.4" y="311.4" width="53.4" height="35.1" fill="#fff" fill-opacity="0.74"/><text x="361.9" y="322" font-size="8.6" fill="#ee2424" stroke="#ee2424" stroke-width="0.25">Sb 47.9 at%</text><text x="361.9" y="331.9" font-size="8.6" fill="#ee2424" stroke="#ee2424" stroke-width="0.25">Ca 52.1 at%</text><text x="361.9" y="341.8" font-size="8.6" fill="#ee2424" stroke="#ee2424" stroke-width="0.25">(Ca<tspan font-size="6" dy="1.8">11</tspan><tspan dy="-1.8"></tspan>Sb<tspan font-size="6" dy="1.8">10</tspan><tspan dy="-1.8"></tspan>)</text><circle cx="413.1" cy="306" r="2.9" fill="none" stroke="#ee2424" stroke-width="0.9"/>
<rect x="448.8" y="313.8" width="54.8" height="33.3" fill="#fff" fill-opacity="0.74"/><text x="452.9" y="323.5" font-size="8.6" fill="#ee2424" stroke="#ee2424" stroke-width="0.25">Sb 49.7 at%</text><text x="452.9" y="333.4" font-size="8.6" fill="#ee2424" stroke="#ee2424" stroke-width="0.25">Ca 50.3 at%</text><text x="452.9" y="343.3" font-size="8.6" fill="#ee2424" stroke="#ee2424" stroke-width="0.25">(LiCaSb)</text><circle cx="471.4" cy="352.6" r="2.9" fill="none" stroke="#ee2424" stroke-width="0.9"/>
<rect x="523.6" y="268.2" width="66.3" height="13.7" fill="#fff" fill-opacity="0.74"/><text x="527.5" y="278.5" font-size="8.6" stroke="#000" stroke-width="0.15">734 mAh g<tspan font-size="6" dy="-3">-1</tspan><tspan dy="3"> Sb</tspan></text>
<rect x="561" y="298" width="50" height="35.6" fill="#fff" fill-opacity="0.74"/><text x="563.6" y="308.6" font-size="8.6" fill="#ee2424" stroke="#ee2424" stroke-width="0.25">Sb 50.3 at%</text><text x="563.6" y="318.5" font-size="8.6" fill="#ee2424" stroke="#ee2424" stroke-width="0.25">Ca 49.7 at%</text><text x="563.6" y="328.4" font-size="8.6" fill="#ee2424" stroke="#ee2424" stroke-width="0.25">(LiCaSb)</text><circle cx="553.7" cy="314.9" r="2.9" fill="none" stroke="#ee2424" stroke-width="0.9"/>
<rect x="576.6" y="339.7" width="54.2" height="33.7" fill="#fff" fill-opacity="0.74"/><text x="579.8" y="350.5" font-size="8.6" fill="#ee2424" stroke="#ee2424" stroke-width="0.25">Sb 32.3 at%</text><text x="579.8" y="360.4" font-size="8.6" fill="#ee2424" stroke="#ee2424" stroke-width="0.25">Ca 67.7 at%</text><text x="579.8" y="370.3" font-size="8.6" fill="#ee2424" stroke="#ee2424" stroke-width="0.25">(Ca<tspan font-size="6" dy="1.8">2</tspan><tspan dy="-1.8"></tspan>Sb)</text><circle cx="568.2" cy="354.2" r="2.9" fill="none" stroke="#ee2424" stroke-width="0.9"/>
<path d="M141,380.1 H169.8" stroke="#333" stroke-width="1.5"/>
<text x="156.2" y="388.6" font-size="7.6" text-anchor="middle" fill="#222">100 µm</text>
<path d="M307.9,380.1 H341.2" stroke="#333" stroke-width="1.5"/>
<text x="325.35" y="388.6" font-size="7.6" text-anchor="middle" fill="#222">50 µm</text>
<path d="M478.8,380.1 H512.8" stroke="#333" stroke-width="1.5"/>
<text x="496.6" y="388.6" font-size="7.6" text-anchor="middle" fill="#222">50 µm</text>
<path d="M659.7,380.1 H684.4" stroke="#333" stroke-width="1.5"/>
<text x="672.85" y="388.6" font-size="7.6" text-anchor="middle" fill="#222">25 µm</text>
<text x="17.4" y="261.7" font-size="15" font-weight="bold">c</text></g>
<g id="xrd">
<path d="M54.05,467.4 V442.5 M109.67,467.4 V460 M119.71,467.4 V460" stroke="#a0a0a0" stroke-width="1.25"/>
<path d="M13.38,467.4 V463.1 M31.02,467.4 V466.3 M32.49,467.4 V466 M33.47,467.4 V466.5 M56.4,467.4 V464.7 M59.68,467.4 V461 M65.32,467.4 V459.4 M72.28,467.4 V444.1 M74.63,467.4 V450.1 M100.11,467.4 V461.8 M103.05,467.4 V466.2 M106.48,467.4 V466.5 M113.34,467.4 V466 M116.77,467.4 V465.8 M127.06,467.4 V460 M128.53,467.4 V465.8 M134.9,467.4 V465.3 M139.8,467.4 V466 M142.25,467.4 V466 M145.19,467.4 V464.4 M146.66,467.4 V465.5 M150.09,467.4 V466 M152.54,467.4 V465.6 M154.5,467.4 V464" stroke="#8e0f9e" stroke-width="1.25"/>
<path d="M12.4,445.85 L12.7,445.98 L13,445.82 L13.3,445.23 L13.6,444.09 L13.87,443.5 L13.9,443.5 L14.2,444.33 L14.5,445.4 L14.8,445.87 L15.1,446.05 L15.4,445.76 L15.7,445.83 L16,446.41 L16.3,446.11 L16.6,445.69 L16.9,446.06 L17.2,445.82 L17.5,445.94 L17.8,445.98 L18.1,445.93 L18.4,446.21 L18.7,446.07 L19,445.96 L19.3,446.18 L19.6,446.27 L19.9,445.73 L20.2,446.03 L20.5,445.87 L20.8,446.05 L21.1,445.81 L21.4,446.09 L21.7,446.08 L22,446.02 L22.3,445.86 L22.6,446 L22.9,445.85 L23.2,445.79 L23.5,446.14 L23.8,445.84 L24.1,446.34 L24.4,446.24 L24.7,445.65 L25,446.14 L25.3,445.84 L25.6,446.09 L25.9,446.09 L26.2,445.64 L26.5,446.02 L26.8,446.02 L27.1,446.28 L27.4,445.8 L27.7,446.22 L28,445.81 L28.3,445.97 L28.6,445.84 L28.9,446.32 L29.2,446.09 L29.5,445.86 L29.8,445.46 L30.1,444.33 L30.4,442.94 L30.53,442.74 L30.7,443.05 L31,444.43 L31.3,445.19 L31.6,444.82 L31.9,444.15 L32,444.1 L32.2,444.37 L32.5,445.23 L32.8,445.78 L33.1,445.96 L33.4,445.81 L33.7,446.22 L34,445.76 L34.3,445.79 L34.6,445.78 L34.9,446.28 L35.2,445.99 L35.5,445.86 L35.8,445.82 L36.1,446.17 L36.4,445.84 L36.7,445.8 L37,446.21 L37.3,445.82 L37.6,446.01 L37.9,446.08 L38.2,445.98 L38.5,446.07 L38.8,446.38 L39.1,445.97 L39.4,445.8 L39.7,445.68 L40,446.04 L40.3,446 L40.6,446.14 L40.9,445.98 L41.2,445.97 L41.5,445.92 L41.8,445.96 L42.1,446.11 L42.4,445.99 L42.7,446.1 L43,446.49 L43.3,446.18 L43.6,445.73 L43.9,446.45 L44.2,446.15 L44.5,445.86 L44.8,446.27 L45.1,446.07 L45.4,445.93 L45.7,445.92 L46,445.84 L46.3,446.07 L46.6,446.29 L46.9,445.98 L47.2,446.14 L47.5,446.46 L47.8,445.77 L48.1,446.09 L48.4,445.96 L48.7,445.79 L49,445.79 L49.3,446 L49.6,446.09 L49.9,445.86 L50.2,445.97 L50.5,446.1 L50.8,445.98 L51.1,446.08 L51.4,445.94 L51.7,445.89 L52,446.11 L52.3,445.74 L52.6,445.47 L52.9,445.35 L53.2,444.69 L53.5,442.93 L53.8,436.31 L54.1,422.68 L54.39,414.28 L54.4,414.28 L54.7,423.35 L55,436.79 L55.3,443.07 L55.6,444.48 L55.9,445.49 L56.2,445.43 L56.5,445.17 L56.8,445.57 L57.1,445.61 L57.4,446.11 L57.7,445.59 L58,445.69 L58.3,445.61 L58.6,444.98 L58.9,443.3 L59.2,441.52 L59.29,441.38 L59.5,442.05 L59.8,444.09 L60.1,445.38 L60.4,445.76 L60.7,445.71 L61,445.77 L61.3,445.56 L61.6,446.38 L61.9,446.16 L62.2,445.74 L62.5,446.15 L62.8,446.23 L63.1,445.39 L63.4,445.75 L63.7,445.72 L64,445.6 L64.3,444.76 L64.6,442.39 L64.9,439.54 L65.03,439.15 L65.2,439.87 L65.5,442.88 L65.8,444.99 L66.1,445.66 L66.4,445.61 L66.7,445.76 L67,445.94 L67.3,446.06 L67.6,446.2 L67.9,446.06 L68.2,445.79 L68.5,446.09 L68.8,446.04 L69.1,446.39 L69.4,445.96 L69.7,445.65 L70,445.69 L70.3,446.2 L70.6,445.7 L70.9,445.26 L71.2,445.49 L71.5,444.57 L71.8,441.69 L72.1,437.5 L72.28,436.45 L72.4,436.93 L72.7,440.76 L73,443.77 L73.3,443.84 L73.6,441.87 L73.89,440.55 L73.9,440.56 L74.2,442.11 L74.5,444.4 L74.8,445.48 L75.1,445.59 L75.4,445.87 L75.7,445.91 L76,446.57 L76.3,445.94 L76.6,446.28 L76.9,446.31 L77.2,445.99 L77.5,446.29 L77.8,445.56 L78.1,446.07 L78.4,446.24 L78.7,445.53 L79,445.81 L79.3,446.3 L79.6,446.01 L79.9,445.83 L80.2,445.99 L80.5,445.95 L80.8,446.23 L81.1,446.17 L81.4,446.01 L81.7,445.93 L82,446.07 L82.3,446.37 L82.6,446.16 L82.9,446.22 L83.2,446.05 L83.5,445.8 L83.8,445.93 L84.1,446.23 L84.4,446.11 L84.7,445.89 L85,445.73 L85.3,446.11 L85.6,446.01 L85.9,446.01 L86.2,446.01 L86.5,446.15 L86.8,446.15 L87.1,446.3 L87.4,446.29 L87.7,446.38 L88,446.26 L88.3,446.01 L88.6,446.08 L88.9,446.2 L89.2,446.02 L89.5,446.21 L89.8,446.34 L90.1,445.91 L90.4,445.7 L90.7,446.35 L91,446.09 L91.3,446.24 L91.6,445.79 L91.9,446.47 L92.2,446.25 L92.5,446.06 L92.8,446.01 L93.1,446.11 L93.4,446.05 L93.7,446.02 L94,445.84 L94.3,446.36 L94.6,446.07 L94.9,446.1 L95.2,446.1 L95.5,445.56 L95.8,446.2 L96.1,446.01 L96.4,446.01 L96.7,446.09 L97,445.86 L97.3,446.25 L97.6,445.91 L97.9,445.85 L98.2,445.85 L98.5,446.06 L98.8,445.98 L99.1,445.82 L99.4,445.28 L99.7,444.39 L99.91,444.08 L100,444.14 L100.3,444.9 L100.6,445.65 L100.9,445.93 L101.2,446.11 L101.5,446.22 L101.8,446 L102.1,446.26 L102.4,446.51 L102.7,446.01 L103,445.8 L103.3,445.83 L103.6,445.75 L103.9,445.92 L104.2,445.9 L104.5,445.76 L104.8,446.17 L105.1,445.47 L105.4,445.75 L105.7,446.48 L106,446.26 L106.3,446.14 L106.6,446.12 L106.9,446.4 L107.2,446.11 L107.5,445.99 L107.8,445.68 L108.1,445.91 L108.4,445.72 L108.7,445.68 L109,445.59 L109.3,445.62 L109.6,445.34 L109.9,444.77 L110.2,442.18 L110.5,435.37 L110.8,428.31 L110.89,427.78 L111.1,430.47 L111.4,438.59 L111.7,443.62 L112,445.12 L112.3,445.21 L112.6,445.62 L112.9,445.69 L113.2,445.5 L113.5,445.78 L113.8,445.64 L114.1,445.57 L114.4,446 L114.7,445.96 L115,445.82 L115.3,445.77 L115.6,445.86 L115.9,445.89 L116.2,445.89 L116.5,445.96 L116.8,445.86 L117.1,446.02 L117.4,446.03 L117.7,445.96 L118,445.68 L118.3,445.62 L118.6,445.73 L118.9,445.35 L119.2,444.55 L119.5,441.35 L119.8,434.59 L120.1,430.18 L120.4,434.5 L120.7,441.28 L121,444.53 L121.3,445.39 L121.6,445.64 L121.9,445.45 L122.2,446.03 L122.5,445.76 L122.8,446.04 L123.1,445.99 L123.4,446.03 L123.7,446.18 L124,445.88 L124.3,445.91 L124.6,445.8 L124.9,445.89 L125.2,446.31 L125.5,445.84 L125.8,445.4 L126.1,444.4 L126.4,443.67 L126.42,443.66 L126.7,444.24 L127,445.29 L127.3,445.82 L127.6,445.96 L127.9,445.99 L128.2,445.87 L128.5,446.11 L128.8,445.81 L129.1,446.41 L129.4,445.98 L129.7,445.72 L130,446.46 L130.3,446.28 L130.6,446.19 L130.9,446.19 L131.2,446 L131.5,446.03 L131.8,446.24 L132.1,446.28 L132.4,446.28 L132.7,446.13 L133,445.98 L133.3,446.04 L133.6,446.33 L133.9,446.4 L134.2,446.01 L134.5,445.98 L134.8,446.36 L135.1,446.24 L135.4,446.24 L135.7,445.79 L136,446 L136.3,445.97 L136.6,446.13 L136.9,445.71 L137.2,446.36 L137.5,446.15 L137.8,446.18 L138.1,445.82 L138.4,446.07 L138.7,446.37 L139,445.73 L139.3,446.14 L139.6,446.23 L139.9,445.92 L140.2,446.25 L140.5,445.99 L140.8,446.33 L141.1,446.18 L141.4,446.1 L141.7,446.49 L142,446.22 L142.3,446.32 L142.6,445.75 L142.9,445.85 L143.2,446.15 L143.5,446.11 L143.8,445.81 L144.1,445.45 L144.4,444.21 L144.7,441.97 L144.94,440.96 L145,441 L145.3,442.56 L145.6,443.83 L145.9,443.3 L146.17,442.78 L146.2,442.8 L146.5,443.85 L146.8,445.16 L147.1,445.74 L147.4,446.29 L147.7,446 L148,446 L148.3,446.08 L148.6,446.39 L148.9,446.16 L149.2,446.13 L149.5,446.06 L149.8,445.65 L150.1,445.93 L150.4,445.7 L150.7,445.12 L151,444.56 L151.07,444.53 L151.3,444.77 L151.6,445.37 L151.9,445.48 L152.2,444.94 L152.5,444.44 L152.54,444.43 L152.8,444.79 L153.1,445.5 L153.4,445.87 L153.7,445.98 L154,446.08 L154.3,446 L154.6,445.94 L154.9,445.71 L155.2,445.24 L155.48,444.97 L155.5,444.98 L155.8,445.31 L156.1,445.77 L156.4,445.98 L156.7,446.2 L157,446.2 L157.3,445.83 L157.6,445.87 L157.9,446.05 L158.2,446.14 L158.5,445.43 L158.8,446.1 L159.1,446.14 L159.4,446.05" stroke="#111" stroke-width="0.95" fill="none" stroke-linejoin="round"/>
<path d="M12.4,409.6 V467.4" stroke="#999" stroke-width="1"/>
<text x="12.4" y="477.3" font-size="8.3" text-anchor="middle">20</text>
<text x="36.9" y="477.3" font-size="8.3" text-anchor="middle">25</text>
<text x="61.4" y="477.3" font-size="8.3" text-anchor="middle">30</text>
<text x="85.9" y="477.3" font-size="8.3" text-anchor="middle">35</text>
<text x="110.4" y="477.3" font-size="8.3" text-anchor="middle">40</text>
<text x="134.9" y="477.3" font-size="8.3" text-anchor="middle">45</text>
<text x="159.4" y="477.3" font-size="8.3" text-anchor="middle">50</text>
<path d="M11.9,467.4 H159.9 M12.4,467.4 V470.4 M24.65,467.4 V469.2 M36.9,467.4 V470.4 M49.15,467.4 V469.2 M61.4,467.4 V470.4 M73.65,467.4 V469.2 M85.9,467.4 V470.4 M98.15,467.4 V469.2 M110.4,467.4 V470.4 M122.65,467.4 V469.2 M134.9,467.4 V470.4 M147.15,467.4 V469.2 M159.4,467.4 V470.4" stroke="#666" stroke-width="0.9" fill="none"/>
<text x="84.5" y="486.4" font-size="8.75" text-anchor="middle">Diffraction angle, 2<tspan font-style="italic">θ</tspan> / degree</text>
<g transform="translate(8,439.1) rotate(-90)"><text x="0" y="0" font-size="8.7" text-anchor="middle">Intensity / arb. units</text></g>
<text x="14.6" y="407.3" font-size="8.8">168 mAh g<tspan font-size="6" dy="-3.2">-1</tspan><tspan dy="3.2"> Sb</tspan></text>
<path d="M120.5,410.3 H132.1" stroke="#a0a0a0" stroke-width="1.3"/>
<text x="134.2" y="413.4" font-size="9">Sb</text>
<path d="M120.5,419.3 H132.1" stroke="#8e0f9e" stroke-width="1.3"/>
<text x="134.2" y="422.4" font-size="9">CaSb<tspan font-size="6.2" dy="2">2</tspan></text>
<path d="M187.31,467.8 V460.7 M196.16,467.8 V444.8 M234.38,467.8 V457.4 M235.41,467.8 V455.4 M237.28,467.8 V451.4 M239.69,467.8 V444.8 M248.28,467.8 V460 M252.66,467.8 V444.8 M256.98,467.8 V465 M263.61,467.8 V463.4 M268.33,467.8 V463 M281.64,467.8 V466 M298.84,467.8 V459.4 M300.8,467.8 V460 M304.68,467.8 V458 M308.42,467.8 V458.7 M311.37,467.8 V465" stroke="#ff8c1a" stroke-width="1.25"/>
<path d="M194.98,467.8 V453.4 M198.61,467.8 V456.7 M199.6,467.8 V456.7 M215.07,467.8 V466 M231.04,467.8 V462 M236.39,467.8 V445.5 M238.36,467.8 V451.4 M240.72,467.8 V444.8 M284.39,467.8 V450.8 M294.81,467.8 V463 M302.28,467.8 V460.7 M305.72,467.8 V458.7" stroke="#ffbe7a" stroke-width="1.25"/>
<path d="M201.22,467.8 V466 M183.14,467.8 V462.8 M226.37,467.8 V464.7 M229.56,467.8 V461 M242.34,467.8 V444.5 M243.42,467.8 V446 M244.6,467.8 V450.1 M270.34,467.8 V461.4 M278.2,467.8 V466 M296.77,467.8 V460 M297.71,467.8 V460 M314.07,467.8 V464.4 M319.96,467.8 V465.8 M325.27,467.8 V464" stroke="#8e0f9e" stroke-width="1.25"/>
<path d="M182.4,444.02 L182.7,444.05 L183,443.72 L183.3,444.03 L183.6,443.88 L183.9,443.71 L184.2,443.95 L184.5,444.2 L184.8,443.82 L185.1,443.65 L185.4,443.02 L185.7,441.76 L185.99,441.01 L186,441.01 L186.3,441.83 L186.6,442.96 L186.9,443.16 L187.2,442.44 L187.5,441.7 L187.56,441.68 L187.8,442.11 L188.1,443.09 L188.4,443.65 L188.7,443.81 L189,444.09 L189.3,444.16 L189.6,444.11 L189.9,444.17 L190.2,443.62 L190.5,443.75 L190.8,444.12 L191.1,443.92 L191.4,443.85 L191.7,443.39 L192,443.39 L192.3,443.94 L192.6,443.82 L192.9,443.63 L193.2,443.54 L193.5,443.17 L193.8,443.5 L194.1,443.46 L194.4,443.24 L194.7,441.8 L195,437.8 L195.3,429.08 L195.6,422.53 L195.62,422.45 L195.9,425.74 L196.2,429 L196.5,426.12 L196.65,425.62 L196.8,427.36 L197.1,434.95 L197.4,440.56 L197.7,442.44 L198,442.66 L198.3,442.65 L198.6,441.22 L198.9,438 L199.2,435.9 L199.5,438.06 L199.8,441.43 L200.1,443.06 L200.4,443.5 L200.7,443.59 L201,443.71 L201.3,443.8 L201.6,444.15 L201.9,443.51 L202.2,443.91 L202.5,443.73 L202.8,443.63 L203.1,443.37 L203.4,444.04 L203.7,443.69 L204,443.75 L204.3,444.03 L204.6,443.69 L204.9,443.94 L205.2,443.92 L205.5,444.11 L205.8,444.16 L206.1,443.75 L206.4,444.15 L206.7,443.93 L207,443.98 L207.3,443.9 L207.6,444.12 L207.9,443.69 L208.2,444.01 L208.5,444.21 L208.8,443.89 L209.1,444.4 L209.4,443.79 L209.7,444 L210,443.85 L210.3,443.82 L210.6,443.71 L210.9,443.84 L211.2,443.94 L211.5,443.78 L211.8,444.15 L212.1,444.29 L212.4,443.61 L212.7,444.13 L213,443.99 L213.3,444 L213.6,444.48 L213.9,444.2 L214.2,444 L214.5,443.96 L214.8,443.43 L215.1,444.06 L215.4,443.7 L215.7,443.86 L216,443.71 L216.3,443.3 L216.6,441.97 L216.9,439.99 L217.09,439.46 L217.2,439.67 L217.5,441.49 L217.8,443.08 L218.1,443.66 L218.4,444.24 L218.7,443.69 L219,443.59 L219.3,444.25 L219.6,444.37 L219.9,443.75 L220.2,443.78 L220.5,444.6 L220.8,443.94 L221.1,443.48 L221.4,443.78 L221.7,444.35 L222,444.05 L222.3,444.07 L222.6,444.17 L222.9,444.04 L223.2,443.81 L223.5,443.51 L223.8,443.94 L224.1,443.57 L224.4,443.76 L224.7,443.66 L225,443.25 L225.3,441.96 L225.6,440.07 L225.78,439.58 L225.9,439.78 L226.2,441.53 L226.5,443.02 L226.8,443.54 L227.1,443.82 L227.4,443.51 L227.7,443.51 L228,443.18 L228.3,443.4 L228.6,443.84 L228.9,443.32 L229.2,442.85 L229.5,442 L229.8,438.06 L230.1,429.79 L230.4,424.46 L230.7,429.78 L231,438.03 L231.3,441.95 L231.6,442.97 L231.9,443.14 L232.2,443.65 L232.5,443.13 L232.8,443.36 L233.1,443.41 L233.4,443.52 L233.7,443.39 L234,443.19 L234.3,443.36 L234.6,442.88 L234.9,442.53 L235.2,442.47 L235.5,440.99 L235.8,435.58 L236.1,424.45 L236.39,417.45 L236.4,417.44 L236.7,424.27 L237,433.44 L237.3,433.87 L237.6,429.7 L237.72,429.13 L237.9,430.56 L238.2,435.91 L238.5,438.12 L238.8,432.84 L239.1,419.68 L239.39,410.84 L239.4,410.79 L239.7,415.99 L240,421.64 L240.28,423.46 L240.3,423.71 L240.6,430.57 L240.9,438.05 L241.2,441.37 L241.5,442.12 L241.8,442.36 L242.1,441.78 L242.4,439.01 L242.7,433.39 L242.98,430.27 L243,430.3 L243.3,434.31 L243.6,439.61 L243.9,441.38 L244.2,439.75 L244.5,436.42 L244.7,435.46 L244.8,435.79 L245.1,439.04 L245.4,441.98 L245.7,443.08 L246,443.43 L246.3,443.81 L246.6,443.58 L246.9,443.25 L247.2,443.38 L247.5,442.86 L247.8,441.15 L248.1,438.62 L248.28,437.96 L248.4,438.24 L248.7,440.6 L249,442.64 L249.3,443.36 L249.6,443.45 L249.9,443.59 L250.2,443.59 L250.5,443.31 L250.8,443.64 L251.1,443.35 L251.4,443.07 L251.7,443.1 L252,442.03 L252.3,438.58 L252.6,431.23 L252.9,425.29 L253.2,425.78 L253.5,427.76 L253.64,429 L253.8,431.4 L254.1,437.49 L254.4,441.53 L254.7,442.9 L255,443.48 L255.3,443.55 L255.6,443.59 L255.9,443.89 L256.2,443.53 L256.5,443.55 L256.8,443.82 L257.1,444.08 L257.4,443.93 L257.7,443.8 L258,443.92 L258.3,443.96 L258.6,443.6 L258.9,443.26 L259.2,443.65 L259.5,443.55 L259.8,443.74 L260.1,443.6 L260.4,443.67 L260.7,443.94 L261,443.84 L261.3,443.79 L261.6,444.12 L261.9,443.59 L262.2,443.5 L262.5,443.32 L262.8,442.35 L263.1,439.13 L263.4,433.89 L263.61,432.13 L263.7,432.45 L264,436.98 L264.3,441.38 L264.6,443.06 L264.9,443.48 L265.2,443.38 L265.5,443.72 L265.8,443.78 L266.1,443.64 L266.4,443.88 L266.7,444.35 L267,443.37 L267.3,443.38 L267.6,442.45 L267.9,439.78 L268.2,436.54 L268.33,436.08 L268.5,436.87 L268.8,440.26 L269.1,442.63 L269.4,443.36 L269.7,443.47 L270,443.22 L270.3,442.12 L270.6,440.16 L270.83,439.37 L270.9,439.45 L271.2,441.09 L271.5,442.85 L271.8,443.56 L272.1,443.49 L272.4,443.68 L272.7,443.93 L273,444.23 L273.3,444.09 L273.6,443.67 L273.9,443.84 L274.2,443.96 L274.5,443.93 L274.8,443.97 L275.1,444.13 L275.4,444 L275.7,443.8 L276,443.53 L276.3,443.88 L276.6,443.58 L276.9,443.91 L277.2,444.02 L277.5,443.65 L277.8,443.91 L278.1,443.86 L278.4,444.35 L278.7,444.02 L279,443.5 L279.3,444.01 L279.6,444 L279.9,443.85 L280.2,443.8 L280.5,444 L280.8,444 L281.1,443.93 L281.4,443.59 L281.7,443.72 L282,443.38 L282.3,443.33 L282.6,443.44 L282.9,443.17 L283.2,443.11 L283.5,442.02 L283.8,437.91 L284.1,429.43 L284.39,424.18 L284.4,424.18 L284.7,429.8 L285,438.18 L285.3,442.1 L285.6,443 L285.9,443.5 L286.2,444.23 L286.5,443.71 L286.8,443.74 L287.1,443.84 L287.4,443.74 L287.7,443.64 L288,443.79 L288.3,444.1 L288.6,443.81 L288.9,443.57 L289.2,443.61 L289.5,443.66 L289.8,443.9 L290.1,444 L290.4,444.01 L290.7,444.17 L291,443.86 L291.3,444.09 L291.6,443.98 L291.9,444.07 L292.2,443.51 L292.5,444.19 L292.8,443.58 L293.1,443.67 L293.4,444.09 L293.7,443.83 L294,444.3 L294.3,443.94 L294.6,443.68 L294.9,443.93 L295.2,443.8 L295.5,444.22 L295.8,444.22 L296.1,444.01 L296.4,443.74 L296.7,443.82 L297,444 L297.3,443.54 L297.6,443.48 L297.9,443.73 L298.2,443.32 L298.5,442.5 L298.8,439.74 L299.1,435.03 L299.33,433.15 L299.4,433.32 L299.7,436.97 L300,440.33 L300.3,439.72 L300.6,436.61 L300.8,435.58 L300.9,435.84 L301.2,438.84 L301.5,441.41 L301.8,441.19 L302.1,437.79 L302.4,433.49 L302.52,432.91 L302.7,433.93 L303,437.8 L303.3,438.72 L303.6,436.73 L303.75,436.33 L303.9,436.95 L304.2,440 L304.5,442.25 L304.8,442.7 L305.1,441.56 L305.4,438.64 L305.7,436.55 L305.72,436.55 L306,438.39 L306.3,441.53 L306.6,443.11 L306.9,443.54 L307.2,443.47 L307.5,443.77 L307.8,443.64 L308.1,444 L308.4,443.65 L308.7,443.87 L309,444.05 L309.3,444.07 L309.6,443.88 L309.9,444.12 L310.2,443.74 L310.5,443.5 L310.8,442.59 L311.1,440.84 L311.37,439.94 L311.4,439.96 L311.7,441.25 L312,442.89 L312.3,443.61 L312.6,444.1 L312.9,444.07 L313.2,443.75 L313.5,443.73 L313.8,444.1 L314.1,443.76 L314.4,443.96 L314.7,444.02 L315,444.13 L315.3,444 L315.6,443.78 L315.9,443.42 L316.2,442.59 L316.5,441.97 L316.52,441.97 L316.8,442.44 L317.1,443.32 L317.4,443.76 L317.7,443.88 L318,444.01 L318.3,443.97 L318.6,443.8 L318.9,443.89 L319.2,444.07 L319.5,443.98 L319.8,444.23 L320.1,444 L320.4,443.8 L320.7,444.11 L321,443.84 L321.3,444.03 L321.6,443.58 L321.9,443.9 L322.2,444.1 L322.5,443.83 L322.8,443.97 L323.1,444.1 L323.4,443.97 L323.7,444.34 L324,443.87 L324.3,443.86 L324.6,443.59 L324.9,442.94 L325.2,442.32 L325.27,442.29 L325.5,442.58 L325.8,443.34 L326.1,443.78 L326.4,443.9 L326.7,444.17 L327,444.02 L327.3,444.32 L327.6,443.74 L327.9,444.08 L328.2,444.13 L328.5,444.11 L328.8,444.24 L329.1,444.22 L329.4,444 L329.7,443.87" stroke="#111" stroke-width="0.95" fill="none" stroke-linejoin="round"/>
<path d="M182.4,409.5 V467.8" stroke="#333" stroke-width="1"/>
<text x="182.4" y="477.3" font-size="8.3" text-anchor="middle">20</text>
<text x="206.97" y="477.3" font-size="8.3" text-anchor="middle">25</text>
<text x="231.53" y="477.3" font-size="8.3" text-anchor="middle">30</text>
<text x="256.1" y="477.3" font-size="8.3" text-anchor="middle">35</text>
<text x="280.66" y="477.3" font-size="8.3" text-anchor="middle">40</text>
<text x="305.23" y="477.3" font-size="8.3" text-anchor="middle">45</text>
<text x="329.79" y="477.3" font-size="8.3" text-anchor="middle">50</text>
<path d="M181.9,467.8 H330.29 M182.4,467.8 V470.8 M194.68,467.8 V469.6 M206.97,467.8 V470.8 M219.25,467.8 V469.6 M231.53,467.8 V470.8 M243.81,467.8 V469.6 M256.1,467.8 V470.8 M268.38,467.8 V469.6 M280.66,467.8 V470.8 M292.94,467.8 V469.6 M305.23,467.8 V470.8 M317.51,467.8 V469.6 M329.79,467.8 V470.8" stroke="#666" stroke-width="0.9" fill="none"/>
<text x="256" y="486.4" font-size="8.75" text-anchor="middle">Diffraction angle, 2<tspan font-style="italic">θ</tspan> / degree</text>
<g transform="translate(178,439.1) rotate(-90)"><text x="0" y="0" font-size="8.7" text-anchor="middle">Intensity / arb. units</text></g>
<text x="184.6" y="407.3" font-size="8.8">312 mAh g<tspan font-size="6" dy="-3.2">-1</tspan><tspan dy="3.2"> Sb</tspan></text>
<path d="M289.5,410.6 H296.5" stroke="#8e0f9e" stroke-width="1.3"/>
<text x="298.4" y="413.7" font-size="9">CaSb<tspan font-size="6.2" dy="2">2</tspan></text>
<path d="M289.5,422.2 H296.5" stroke="#ff8c1a" stroke-width="1.3"/>
<text x="298.4" y="425.3" font-size="9">Ca<tspan font-size="6.2" dy="2">11</tspan><tspan dy="-2">Sb</tspan><tspan font-size="6.2" dy="2">10</tspan></text>
<path d="M355.54,468 V466 M366.59,468 V456.1 M370.91,468 V458.7 M386.49,468 V466.5 M402.7,468 V463.4 M406.38,468 V458 M407.27,468 V457.4 M409.38,468 V454.1 M410.71,468 V449.4 M411.89,468 V448.8 M416.31,468 V465.3 M420.29,468 V462 M424.71,468 V460.7 M427.71,468 V466 M435.27,468 V465.3 M439.89,468 V465.3 M456.6,468 V454.1 M457.87,468 V466 M466.42,468 V464 M470.4,468 V461.4 M473.79,468 V462 M476.05,468 V460 M479.39,468 V460.7" stroke="#ff8c1a" stroke-width="1.25"/>
<path d="M358.97,468 V462 M368.31,468 V448.8 M408.4,468 V448.8 M423.88,468 V448.8 M471.38,468 V461.8 M480.72,468 V462 M494.72,468 V466 M499.14,468 V466" stroke="#ffbe7a" stroke-width="1.25"/>
<path d="M361.68,468 V467 M363.89,468 V464 M370.62,468 V463.4 M376.12,468 V450.1 M378.48,468 V448.8 M382.51,468 V466.2 M409.68,468 V465.3 M412.28,468 V466.5 M414.59,468 V448.8 M416.11,468 V466.5 M437.58,468 V467 M442.5,468 V463.4 M447.31,468 V462.7 M451.49,468 V462.7 M460.53,468 V462.7 M462.1,468 V464 M477.38,468 V465.3 M484.7,468 V462.7 M490,468 V466 M497.18,468 V466.5" stroke="#3040ff" stroke-width="1.25"/>
<path d="M354.7,446.41 L355,446.2 L355.3,446.4 L355.6,446.49 L355.9,446.23 L356.2,445.99 L356.5,446.12 L356.8,446.35 L357.1,446.11 L357.4,446.4 L357.7,446.06 L358,445.81 L358.3,445.23 L358.6,444.79 L358.63,444.78 L358.9,445.1 L359.2,445.71 L359.5,446.03 L359.8,446.12 L360.1,445.82 L360.4,446.02 L360.7,446.37 L361,446.49 L361.3,446.13 L361.6,446.39 L361.9,445.74 L362.2,446.34 L362.5,446.24 L362.8,445.9 L363.1,445.78 L363.4,446.05 L363.7,446.22 L364,446.24 L364.3,446.18 L364.6,446.31 L364.9,446.29 L365.2,445.82 L365.5,446.02 L365.8,445.96 L366.1,446.01 L366.4,445.8 L366.7,445.18 L367,444.28 L367.18,444.04 L367.3,444.13 L367.6,444.85 L367.9,445.17 L368.2,444.42 L368.5,443.38 L368.6,443.28 L368.8,443.61 L369.1,444.76 L369.4,445.43 L369.7,445.31 L370,443.97 L370.3,440.9 L370.6,438.68 L370.62,438.68 L370.9,440.51 L371.2,443.72 L371.5,445.32 L371.8,445.75 L372.1,446.23 L372.4,445.85 L372.7,445.93 L373,445.52 L373.3,445.82 L373.6,445.99 L373.9,445.93 L374.2,445.84 L374.5,445.91 L374.8,445.5 L375.1,444.77 L375.4,442.56 L375.7,439.36 L375.88,438.46 L376,438.65 L376.3,440.39 L376.6,440.41 L376.9,439.43 L376.91,439.43 L377.2,439.96 L377.5,438.01 L377.8,428.12 L378.1,417.3 L378.18,416.6 L378.4,421.19 L378.7,434.25 L379,442.2 L379.3,444.57 L379.6,445.43 L379.9,445.69 L380.2,445.89 L380.5,445.58 L380.8,446.11 L381.1,446.07 L381.4,446.4 L381.7,446.1 L382,446.07 L382.3,445.99 L382.6,446.06 L382.9,445.67 L383.2,445.98 L383.5,446.01 L383.8,446.21 L384.1,445.89 L384.4,445.46 L384.7,444.25 L385,442.89 L385.11,442.74 L385.3,443.15 L385.6,444.65 L385.9,445.65 L386.2,445.96 L386.5,445.94 L386.8,445.86 L387.1,446.44 L387.4,446.16 L387.7,446.3 L388,446.34 L388.3,446.31 L388.6,446.09 L388.9,446.12 L389.2,445.82 L389.5,446.2 L389.8,446.06 L390.1,446.16 L390.4,446.57 L390.7,446.32 L391,446.18 L391.3,445.88 L391.6,446.33 L391.9,446.51 L392.2,446 L392.5,446.27 L392.8,446.06 L393.1,446.14 L393.4,446.1 L393.7,445.83 L394,446.07 L394.3,445.83 L394.6,446.48 L394.9,446.41 L395.2,446.19 L395.5,446.24 L395.8,446.19 L396.1,446.22 L396.4,446.22 L396.7,446.13 L397,446.14 L397.3,445.89 L397.6,445.96 L397.9,446.05 L398.2,446.22 L398.5,446.1 L398.8,446.59 L399.1,446.14 L399.4,446.1 L399.7,446.27 L400,446.4 L400.3,446.58 L400.6,446.39 L400.9,446.05 L401.2,446.14 L401.5,446.4 L401.8,446.23 L402.1,446.34 L402.4,446.15 L402.7,446.51 L403,446.47 L403.3,446.4 L403.6,446.19 L403.9,445.81 L404.2,445.86 L404.5,446.21 L404.8,446.28 L405.1,445.5 L405.4,446.01 L405.7,446.35 L406,446.28 L406.3,445.94 L406.6,445.97 L406.9,445.74 L407.2,444.99 L407.5,443.76 L407.71,443.34 L407.8,443.41 L408.1,444.39 L408.4,445.26 L408.7,445.13 L409,443.91 L409.3,442.63 L409.38,442.54 L409.6,443.05 L409.9,444.5 L410.2,445.25 L410.5,444.89 L410.8,442.95 L411.1,439.85 L411.3,438.91 L411.4,439.16 L411.7,441.87 L412,444.21 L412.3,444.39 L412.6,442.75 L412.9,441.04 L412.97,440.95 L413.2,441.7 L413.5,443.48 L413.8,443.37 L414.1,439.45 L414.4,433.07 L414.59,431.32 L414.7,431.97 L415,437.92 L415.3,443.18 L415.6,445.11 L415.9,445.86 L416.2,445.7 L416.5,446.16 L416.8,445.86 L417.1,445.93 L417.4,445.88 L417.7,446.13 L418,445.99 L418.3,445.85 L418.6,445.43 L418.9,444.96 L419.01,444.91 L419.2,445.06 L419.5,445.59 L419.8,445.95 L420.1,446.06 L420.4,446 L420.7,446.2 L421,446.31 L421.3,446.11 L421.6,446.17 L421.9,446.05 L422.2,446.05 L422.5,445.76 L422.8,445.98 L423.1,445.73 L423.4,444.82 L423.7,443.03 L423.97,442.07 L424,442.08 L424.3,443.37 L424.6,445.06 L424.9,445.81 L425.2,445.98 L425.5,446.21 L425.8,446 L426.1,446.25 L426.4,446.07 L426.7,446.05 L427,446.17 L427.3,446.24 L427.6,445.86 L427.9,445.84 L428.2,446.21 L428.5,446.16 L428.8,445.74 L429.1,445.81 L429.4,446.01 L429.7,446.25 L430,446.22 L430.3,446.4 L430.6,446.43 L430.9,446.69 L431.2,445.87 L431.5,446.17 L431.8,446.41 L432.1,445.92 L432.4,445.88 L432.7,446.22 L433,446.42 L433.3,446.45 L433.6,445.8 L433.9,445.92 L434.2,446.16 L434.5,446.07 L434.8,446.25 L435.1,446.21 L435.4,446.55 L435.7,446.16 L436,446.21 L436.3,446.19 L436.6,446.41 L436.9,445.93 L437.2,446.25 L437.5,446 L437.8,445.85 L438.1,446.4 L438.4,446.26 L438.7,446.43 L439,446.18 L439.3,446.24 L439.6,446.11 L439.9,446.17 L440.2,445.92 L440.5,446.3 L440.8,445.6 L441.1,445.29 L441.4,443.41 L441.7,439.42 L442,436.78 L442.3,439.3 L442.6,443.32 L442.9,445.25 L443.2,445.76 L443.5,445.97 L443.8,446.12 L444.1,445.5 L444.4,446.26 L444.7,446.29 L445,445.68 L445.3,446.01 L445.6,446.18 L445.9,445.87 L446.2,445.36 L446.5,443.93 L446.8,442.26 L446.92,442.06 L447.1,442.53 L447.4,444.33 L447.7,445.56 L448,445.94 L448.3,446.03 L448.6,446.38 L448.9,445.81 L449.2,446.16 L449.5,446.05 L449.8,446.04 L450.1,446.2 L450.4,446.17 L450.7,446.69 L451,446.3 L451.3,446.24 L451.6,446.52 L451.9,446.39 L452.2,445.76 L452.5,446.19 L452.8,446.32 L453.1,446.03 L453.4,446.22 L453.7,446.05 L454,446.22 L454.3,445.77 L454.6,445.68 L454.9,445.95 L455.2,445.97 L455.5,445.59 L455.8,444.57 L456.1,443.46 L456.2,443.35 L456.4,443.72 L456.7,444.95 L457,445.74 L457.3,445.98 L457.6,445.86 L457.9,445.84 L458.2,445.74 L458.5,445.86 L458.8,445.85 L459.1,445.9 L459.4,445.76 L459.7,445.71 L460,445.11 L460.3,443.1 L460.6,439.74 L460.82,438.43 L460.9,438.51 L461.2,440.42 L461.5,440.91 L461.8,439.47 L461.9,439.37 L462.1,440.36 L462.4,443.28 L462.7,445.15 L463,445.74 L463.3,446.15 L463.6,446.03 L463.9,445.97 L464.2,446.31 L464.5,445.89 L464.8,446.15 L465.1,446.14 L465.4,446.33 L465.7,445.89 L466,445.86 L466.3,446.07 L466.6,446.1 L466.9,446.17 L467.2,446.08 L467.5,446.26 L467.8,446.32 L468.1,446.22 L468.4,445.94 L468.7,446.42 L469,445.84 L469.3,446.13 L469.6,446.37 L469.9,446.04 L470.2,446.46 L470.5,446.59 L470.8,446.52 L471.1,446.27 L471.4,446.39 L471.7,446.07 L472,446.27 L472.3,446.28 L472.6,446.2 L472.9,446.21 L473.2,446.13 L473.5,445.75 L473.8,446.26 L474.1,446.24 L474.4,446.62 L474.7,446.33 L475,446.18 L475.3,446.36 L475.6,446.3 L475.9,446.15 L476.2,446.06 L476.5,445.81 L476.8,446.13 L477.1,446.02 L477.4,445.67 L477.7,444.92 L478,444.38 L478.02,444.38 L478.3,444.83 L478.6,445.61 L478.9,445.99 L479.2,446.09 L479.5,446.25 L479.8,446.2 L480.1,445.94 L480.4,446.26 L480.7,445.88 L481,445.93 L481.3,445.88 L481.6,446.44 L481.9,446.02 L482.2,446.11 L482.5,445.59 L482.8,446.27 L483.1,446.06 L483.4,445.76 L483.7,444.94 L484,442.73 L484.3,440.31 L484.4,440.08 L484.6,440.87 L484.9,443.57 L485.2,445.31 L485.5,445.84 L485.8,446.12 L486.1,445.91 L486.4,446.01 L486.7,446.28 L487,445.9 L487.3,445.65 L487.6,446.27 L487.9,445.92 L488.2,446.31 L488.5,445.88 L488.8,445.79 L489.1,445.54 L489.4,444.2 L489.7,441.36 L490,439.48 L490.3,441.28 L490.6,444.15 L490.9,445.53 L491.2,445.9 L491.5,446.07 L491.8,446.22 L492.1,446.15 L492.4,446.36 L492.7,446.08 L493,446.24 L493.3,445.99 L493.6,446.41 L493.9,445.68 L494.2,446.2 L494.5,446.25 L494.8,446.25 L495.1,446.17 L495.4,446.47 L495.7,446.64 L496,446.05 L496.3,445.76 L496.6,445.94 L496.9,446 L497.2,446.15 L497.5,446.17 L497.8,446.42 L498.1,446.09 L498.4,446.18 L498.7,446.21 L499,445.99 L499.3,446.12 L499.6,446.79 L499.9,446.17 L500.2,445.98 L500.5,445.71 L500.8,446.42 L501.1,446.12 L501.4,446.05 L501.7,446.73 L502,446.51" stroke="#111" stroke-width="0.95" fill="none" stroke-linejoin="round"/>
<path d="M354.7,410.3 V468" stroke="#999" stroke-width="1"/>
<text x="354.7" y="477.3" font-size="8.3" text-anchor="middle">20</text>
<text x="379.26" y="477.3" font-size="8.3" text-anchor="middle">25</text>
<text x="403.83" y="477.3" font-size="8.3" text-anchor="middle">30</text>
<text x="428.39" y="477.3" font-size="8.3" text-anchor="middle">35</text>
<text x="452.96" y="477.3" font-size="8.3" text-anchor="middle">40</text>
<text x="477.52" y="477.3" font-size="8.3" text-anchor="middle">45</text>
<text x="502.09" y="477.3" font-size="8.3" text-anchor="middle">50</text>
<path d="M354.2,468 H502.59 M354.7,468 V471 M366.98,468 V469.8 M379.26,468 V471 M391.55,468 V469.8 M403.83,468 V471 M416.11,468 V469.8 M428.39,468 V471 M440.68,468 V469.8 M452.96,468 V471 M465.24,468 V469.8 M477.52,468 V471 M489.81,468 V469.8 M502.09,468 V471" stroke="#666" stroke-width="0.9" fill="none"/>
<text x="427" y="486.4" font-size="8.75" text-anchor="middle">Diffraction angle, 2<tspan font-style="italic">θ</tspan> / degree</text>
<g transform="translate(350.3,439.1) rotate(-90)"><text x="0" y="0" font-size="8.7" text-anchor="middle">Intensity / arb. units</text></g>
<text x="356.5" y="407.3" font-size="8.8">672 mAh g<tspan font-size="6" dy="-3.2">-1</tspan><tspan dy="3.2"> Sb</tspan></text>
<path d="M460.1,415.3 H466.8" stroke="#ff8c1a" stroke-width="1.3"/>
<text x="468.8" y="418.4" font-size="9">Ca<tspan font-size="6.2" dy="2">11</tspan><tspan dy="-2">Sb</tspan><tspan font-size="6.2" dy="2">10</tspan></text>
<path d="M460.1,428.6 H466.8" stroke="#3040ff" stroke-width="1.3"/>
<text x="468.8" y="431.7" font-size="9">LiCaSb</text>
<path d="M534.91,468 V454.7 M551.58,468 V456.7 M560.52,468 V454.7 M571.14,468 V456.7 M589.63,468 V452.5 M592.68,468 V460.7 M599.42,468 V449 M617.51,468 V454.7 M640.82,468 V460.4 M645.74,468 V460.4 M647.46,468 V465 M656.01,468 V464" stroke="#ee1c24" stroke-width="1.25"/>
<path d="M536.58,468 V464 M542.77,468 V463.4 M548.18,468 V450.1 M550.89,468 V449.2 M555.12,468 V467 M581.72,468 V465.3 M587.03,468 V449.2 M610.28,468 V467 M614.91,468 V464 M619.92,468 V463 M624.2,468 V463 M632.8,468 V463 M634.08,468 V464.5 M643.03,468 V465.5 M649.42,468 V465 M654,468 V466.3 M657.09,468 V463 M662.6,468 V465.8 M673.66,468 V466" stroke="#3040ff" stroke-width="1.25"/>
<path d="M526.4,447.6 L526.7,447.9 L527,448.2 L527.3,448.16 L527.6,447.73 L527.9,448.37 L528.2,448.38 L528.5,447.73 L528.8,447.59 L529.1,447.67 L529.4,448.12 L529.7,448.21 L530,448.01 L530.3,447.84 L530.6,447.95 L530.9,448.09 L531.2,447.7 L531.5,447.59 L531.8,447.94 L532.1,448.23 L532.4,448 L532.7,448 L533,447.8 L533.3,448.15 L533.6,447.57 L533.9,447.92 L534.2,447.8 L534.5,447.88 L534.8,447.7 L535.1,448.05 L535.4,447.84 L535.7,447.69 L536,447.14 L536.3,446.05 L536.58,445.44 L536.6,445.45 L536.9,446.21 L537.2,447.24 L537.5,447.7 L537.8,447.75 L538.1,447.91 L538.4,447.8 L538.7,448.32 L539,447.46 L539.3,447.96 L539.6,447.8 L539.9,448.03 L540.2,447.39 L540.5,447.96 L540.8,447.3 L541.1,447.62 L541.4,447.14 L541.7,445.82 L542,441.66 L542.3,435.61 L542.48,434.1 L542.6,434.81 L542.9,440.47 L543.2,445.26 L543.5,446.96 L543.8,447.54 L544.1,447.6 L544.4,447.57 L544.7,447.67 L545,447.7 L545.3,447.64 L545.6,447.38 L545.9,447.33 L546.2,447.15 L546.5,447.3 L546.8,446.8 L547.1,446.32 L547.4,443.59 L547.7,436.56 L548,429.45 L548.08,428.96 L548.3,431.73 L548.6,439.77 L548.9,444.5 L549.2,445.52 L549.5,444.65 L549.8,440 L550.1,427.39 L550.4,413.18 L550.49,411.28 L550.7,412.59 L551,419.93 L551.23,424.88 L551.3,426.59 L551.6,435.61 L551.9,442.92 L552.2,445.87 L552.5,446.73 L552.8,447.18 L553.1,447.2 L553.4,447.45 L553.7,447.53 L554,447.77 L554.3,447.88 L554.6,447.77 L554.9,447.65 L555.2,447.87 L555.5,447.61 L555.8,448.06 L556.1,447.92 L556.4,447.91 L556.7,447.34 L557,448.4 L557.3,448.21 L557.6,448.17 L557.9,447.93 L558.2,448.05 L558.5,448.53 L558.8,447.75 L559.1,448.06 L559.4,447.87 L559.7,447.78 L560,447.47 L560.3,446.94 L560.52,446.75 L560.6,446.77 L560.9,447.22 L561.2,447.68 L561.5,447.86 L561.8,447.46 L562.1,447.96 L562.4,448.06 L562.7,447.74 L563,448.33 L563.3,448.03 L563.6,447.87 L563.9,447.67 L564.2,447.95 L564.5,447.94 L564.8,448.12 L565.1,448.21 L565.4,447.99 L565.7,448.09 L566,448.3 L566.3,448.12 L566.6,447.93 L566.9,448.13 L567.2,447.88 L567.5,448.09 L567.8,448 L568.1,447.75 L568.4,448.12 L568.7,448.01 L569,448.15 L569.3,447.7 L569.6,448.24 L569.9,448.25 L570.2,447.92 L570.5,447.97 L570.8,448 L571.1,447.99 L571.4,448.18 L571.7,447.83 L572,447.74 L572.3,447.94 L572.6,448.41 L572.9,447.9 L573.2,447.77 L573.5,447.78 L573.8,448.02 L574.1,448.24 L574.4,447.82 L574.7,448.02 L575,448.03 L575.3,448.08 L575.6,448.01 L575.9,448.21 L576.2,448.13 L576.5,447.84 L576.8,448.5 L577.1,447.67 L577.4,447.67 L577.7,448.19 L578,448 L578.3,447.9 L578.6,447.99 L578.9,448.09 L579.2,447.83 L579.5,447.77 L579.8,447.66 L580.1,447.67 L580.4,447.64 L580.7,447.68 L581,447.18 L581.3,445.8 L581.6,444.2 L581.72,444.01 L581.9,444.45 L582.2,446.15 L582.5,447.29 L582.8,447.63 L583.1,447.47 L583.4,447.8 L583.7,447.47 L584,447.46 L584.3,446.84 L584.6,445.18 L584.9,443.28 L585.01,443.03 L585.2,443.47 L585.5,445.05 L585.8,444.78 L586.1,440.12 L586.4,432.71 L586.58,430.77 L586.7,431.59 L587,438.58 L587.3,444.62 L587.6,446.8 L587.9,447.42 L588.2,447.7 L588.5,447.55 L588.8,447.58 L589.1,447.74 L589.4,447.65 L589.7,447.85 L590,447.64 L590.3,447.89 L590.6,447.94 L590.9,448.31 L591.2,448.3 L591.5,448.04 L591.8,447.82 L592.1,448.06 L592.4,448.11 L592.7,447.88 L593,447.73 L593.3,447.88 L593.6,447.72 L593.9,447.29 L594.2,446.81 L594.3,446.77 L594.5,446.92 L594.8,447.45 L595.1,447.8 L595.4,447.91 L595.7,447.9 L596,448.03 L596.3,447.94 L596.6,448.23 L596.9,447.88 L597.2,448.17 L597.5,448.36 L597.8,447.91 L598.1,447.97 L598.4,447.9 L598.7,448.12 L599,447.47 L599.3,447.9 L599.6,447.75 L599.9,447.36 L600.2,446.92 L600.3,446.88 L600.5,447.02 L600.8,447.51 L601.1,447.82 L601.4,447.92 L601.7,448.24 L602,447.95 L602.3,447.64 L602.6,447.85 L602.9,448 L603.2,448.19 L603.5,447.76 L603.8,448.04 L604.1,447.72 L604.4,448 L604.7,447.69 L605,447.88 L605.3,447.64 L605.6,447.76 L605.9,447.63 L606.2,447.54 L606.5,448.24 L606.8,448.23 L607.1,448.07 L607.4,447.87 L607.7,448.27 L608,447.86 L608.3,447.99 L608.6,447.8 L608.9,447.45 L609.2,446.53 L609.5,445.55 L609.6,445.47 L609.8,445.81 L610.1,446.92 L610.4,447.61 L610.7,447.82 L611,447.5 L611.3,448.14 L611.6,447.96 L611.9,448.16 L612.2,448.05 L612.5,447.99 L612.8,448.21 L613.1,447.75 L613.4,447.63 L613.7,447.24 L614,445.7 L614.3,442.37 L614.6,440.07 L614.61,440.07 L614.9,442.11 L615.2,445.5 L615.5,447.17 L615.8,447.61 L616.1,447.48 L616.4,447.99 L616.7,447.93 L617,447.89 L617.3,447.85 L617.6,447.72 L617.9,447.74 L618.2,447.49 L618.5,446.53 L618.8,444.59 L619.09,443.46 L619.1,443.46 L619.4,444.8 L619.7,446.69 L620,447.56 L620.3,447.2 L620.6,448.17 L620.9,447.95 L621.2,447.91 L621.5,447.98 L621.8,447.97 L622.1,448.01 L622.4,447.99 L622.7,447.97 L623,448.1 L623.3,448.05 L623.6,448.51 L623.9,448.01 L624.2,447.87 L624.5,447.85 L624.8,448.07 L625.1,448.01 L625.4,448.04 L625.7,447.94 L626,447.94 L626.3,448.15 L626.6,448.28 L626.9,448.06 L627.2,447.95 L627.5,447.72 L627.8,447.72 L628.1,447.98 L628.4,447.91 L628.7,447.93 L629,447.7 L629.3,447.91 L629.6,447.5 L629.9,447.65 L630.2,447.72 L630.5,448 L630.8,447.7 L631.1,447.58 L631.4,447.76 L631.7,447.52 L632,446.89 L632.3,444.83 L632.6,441.58 L632.8,440.51 L632.9,440.7 L633.2,443.07 L633.5,444.1 L633.8,441.84 L634.08,440.22 L634.1,440.24 L634.4,442.58 L634.7,445.76 L635,447.21 L635.3,447.37 L635.6,448 L635.9,447.42 L636.2,447.94 L636.5,447.79 L636.8,447.7 L637.1,447.88 L637.4,447.55 L637.7,448.02 L638,448.2 L638.3,447.63 L638.6,447.8 L638.9,448.22 L639.2,448.04 L639.5,447.89 L639.8,448.28 L640.1,447.6 L640.4,447.91 L640.7,447.99 L641,447.9 L641.3,448.15 L641.6,447.6 L641.9,447.98 L642.2,447.8 L642.5,448.24 L642.8,448.21 L643.1,447.81 L643.4,447.73 L643.7,447.96 L644,447.78 L644.3,447.85 L644.6,448.07 L644.9,447.87 L645.2,448.37 L645.5,447.98 L645.8,447.84 L646.1,447.71 L646.4,447.83 L646.7,448.18 L647,448.04 L647.3,448.2 L647.6,447.81 L647.9,447.52 L648.2,446.57 L648.5,445.16 L648.69,444.79 L648.8,444.94 L649.1,446.23 L649.4,447.36 L649.7,447.77 L650,447.76 L650.3,448.03 L650.6,448.51 L650.9,447.67 L651.2,447.94 L651.5,448.4 L651.8,447.75 L652.1,447.91 L652.4,447.93 L652.7,448.02 L653,447.6 L653.3,448.02 L653.6,448.08 L653.9,448.5 L654.2,447.91 L654.5,447.78 L654.8,447.9 L655.1,447.23 L655.4,447.59 L655.7,446.76 L656,444.99 L656.3,443.79 L656.31,443.79 L656.6,444.9 L656.9,446.7 L657.2,447.57 L657.5,447.8 L657.8,447.77 L658.1,448.27 L658.4,447.93 L658.7,447.84 L659,448.31 L659.3,447.99 L659.6,448.16 L659.9,447.82 L660.2,447.55 L660.5,447.97 L660.8,448.22 L661.1,447.8 L661.4,447.41 L661.7,446.57 L662,445.99 L662.01,445.99 L662.3,446.5 L662.6,447.37 L662.9,447.79 L663.2,447.9 L663.5,448.12 L663.8,448.04 L664.1,448.13 L664.4,447.39 L664.7,448.04 L665,447.99 L665.3,447.55 L665.6,448.45 L665.9,448.07 L666.2,447.9 L666.5,447.91 L666.8,448.06 L667.1,447.99 L667.4,447.64 L667.7,447.91 L668,448.1 L668.3,448.14 L668.6,448.19 L668.9,447.77 L669.2,447.86 L669.5,448.09 L669.8,447.87 L670.1,448.05 L670.4,447.82 L670.7,448.14 L671,448.02 L671.3,448.14 L671.6,448.02 L671.9,447.83 L672.2,447.74 L672.5,448.02 L672.8,447.87 L673.1,447.68 L673.4,447.89 L673.7,448.19" stroke="#111" stroke-width="0.95" fill="none" stroke-linejoin="round"/>
<path d="M526.4,410.3 V468" stroke="#999" stroke-width="1"/>
<text x="526.4" y="477.3" font-size="8.3" text-anchor="middle">20</text>
<text x="550.99" y="477.3" font-size="8.3" text-anchor="middle">25</text>
<text x="575.57" y="477.3" font-size="8.3" text-anchor="middle">30</text>
<text x="600.15" y="477.3" font-size="8.3" text-anchor="middle">35</text>
<text x="624.74" y="477.3" font-size="8.3" text-anchor="middle">40</text>
<text x="649.32" y="477.3" font-size="8.3" text-anchor="middle">45</text>
<text x="673.91" y="477.3" font-size="8.3" text-anchor="middle">50</text>
<path d="M525.9,468 H674.41 M526.4,468 V471 M538.69,468 V469.8 M550.99,468 V471 M563.28,468 V469.8 M575.57,468 V471 M587.86,468 V469.8 M600.15,468 V471 M612.45,468 V469.8 M624.74,468 V471 M637.03,468 V469.8 M649.32,468 V471 M661.62,468 V469.8 M673.91,468 V471" stroke="#666" stroke-width="0.9" fill="none"/>
<text x="599.5" y="486.4" font-size="8.75" text-anchor="middle">Diffraction angle, 2<tspan font-style="italic">θ</tspan> / degree</text>
<g transform="translate(522,439.1) rotate(-90)"><text x="0" y="0" font-size="8.7" text-anchor="middle">Intensity / arb. units</text></g>
<text x="528.5" y="407.3" font-size="8.8">734 mAh g<tspan font-size="6" dy="-3.2">-1</tspan><tspan dy="3.2"> Sb</tspan></text>
<path d="M640.1,415.6 H646.7" stroke="#ee1c24" stroke-width="1.3"/>
<text x="648.7" y="418.7" font-size="9">Ca<tspan font-size="6.2" dy="2">2</tspan><tspan dy="-2">Sb</tspan></text>
<path d="M640.1,426.9 H646.7" stroke="#3040ff" stroke-width="1.3"/>
<text x="648.7" y="430" font-size="9">LiCaSb</text>
</g>
</svg>
</body></html>
